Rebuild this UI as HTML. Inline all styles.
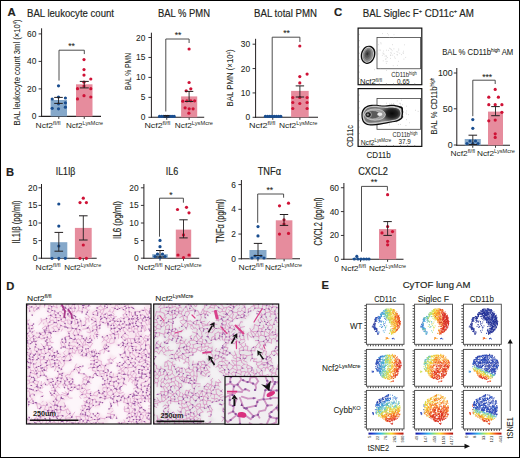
<!DOCTYPE html><html><head><meta charset="utf-8"><style>html,body{margin:0;padding:0;background:#fff;overflow:hidden}svg{display:block}text{font-family:"Liberation Sans",sans-serif;fill:#231f20}.b{stroke:#231f20;stroke-width:0.16px}.m{stroke:#231f20;stroke-width:0.07px}</style></head><body>
<svg width="520" height="458" viewBox="0 0 520 458">
<rect width="520" height="458" fill="#fff"/>
<text x="7.6" y="15.7" font-size="11.4" class="b" font-weight="bold">A</text>
<text x="27" y="16.5" font-size="10.2" class="b" textLength="87" lengthAdjust="spacingAndGlyphs">BAL leukocyte count</text>
<text x="158" y="16.5" font-size="10.2" class="b" textLength="52" lengthAdjust="spacingAndGlyphs">BAL % PMN</text>
<text x="254" y="16.5" font-size="10.2" class="b" textLength="63" lengthAdjust="spacingAndGlyphs">BAL total PMN</text>
<text x="333.9" y="15.7" font-size="11.4" class="b" font-weight="bold">C</text>
<text x="362.7" y="16.5" font-size="10.2" class="b" textLength="111.3" lengthAdjust="spacingAndGlyphs">BAL Siglec F<tspan dy="-3.3" font-size="6">+</tspan><tspan dy="3.3"> CD11c</tspan><tspan dy="-3.3" font-size="6">+</tspan><tspan dy="3.3"> AM</tspan></text>
<path d="M41.6 28.3L41.6 116.9" stroke="#231f20" stroke-width="1" fill="none"/>
<path d="M41.1 116.4L101 116.4" stroke="#231f20" stroke-width="1.1" fill="none"/>
<path d="M38.6 116.4L41.6 116.4" stroke="#231f20" stroke-width="0.9" fill="none"/>
<text x="36.4" y="119.4" font-size="8.4" class="m" text-anchor="end">0</text>
<path d="M38.6 88.9L41.6 88.9" stroke="#231f20" stroke-width="0.9" fill="none"/>
<text x="36.4" y="91.9" font-size="8.4" class="m" text-anchor="end">20</text>
<path d="M38.6 61.4L41.6 61.4" stroke="#231f20" stroke-width="0.9" fill="none"/>
<text x="36.4" y="64.4" font-size="8.4" class="m" text-anchor="end">40</text>
<path d="M38.6 33.9L41.6 33.9" stroke="#231f20" stroke-width="0.9" fill="none"/>
<text x="36.4" y="36.9" font-size="8.4" class="m" text-anchor="end">60</text>
<path d="M58.8 116.4L58.8 118.9" stroke="#231f20" stroke-width="0.9" fill="none"/>
<path d="M84.25 116.4L84.25 118.9" stroke="#231f20" stroke-width="0.9" fill="none"/>
<rect x="50.6" y="100" width="16.4" height="16.4" fill="#85a8ca"/>
<rect x="76" y="84.3" width="16.5" height="32.1" fill="#e68c9d"/>
<circle cx="58.5" cy="85.8" r="1.6" fill="#194d8f"/>
<circle cx="58.5" cy="97" r="1.6" fill="#194d8f"/>
<circle cx="52.2" cy="99" r="1.6" fill="#194d8f"/>
<circle cx="65.4" cy="98" r="1.6" fill="#194d8f"/>
<circle cx="58.5" cy="103.8" r="1.6" fill="#194d8f"/>
<circle cx="65.4" cy="102.8" r="1.6" fill="#194d8f"/>
<circle cx="65.4" cy="107.2" r="1.6" fill="#194d8f"/>
<circle cx="52.2" cy="108.3" r="1.6" fill="#194d8f"/>
<circle cx="58.5" cy="108.8" r="1.6" fill="#194d8f"/>
<circle cx="84" cy="59.6" r="1.6" fill="#cf1236"/>
<circle cx="84" cy="69.6" r="1.6" fill="#cf1236"/>
<circle cx="84" cy="75.1" r="1.6" fill="#cf1236"/>
<circle cx="90.8" cy="79" r="1.6" fill="#cf1236"/>
<circle cx="84" cy="82.2" r="1.6" fill="#cf1236"/>
<circle cx="77.5" cy="88.7" r="1.6" fill="#cf1236"/>
<circle cx="84" cy="86.1" r="1.6" fill="#cf1236"/>
<circle cx="90.8" cy="88.7" r="1.6" fill="#cf1236"/>
<circle cx="84" cy="95.7" r="1.6" fill="#cf1236"/>
<circle cx="90.8" cy="97" r="1.6" fill="#cf1236"/>
<circle cx="77.5" cy="98.9" r="1.6" fill="#cf1236"/>
<path d="M58.5 97.4L58.5 103.4" stroke="#231f20" stroke-width="0.9" fill="none"/>
<path d="M54.2 97.4L62.8 97.4" stroke="#231f20" stroke-width="1" fill="none"/>
<path d="M54.2 103.4L62.8 103.4" stroke="#231f20" stroke-width="1" fill="none"/>
<path d="M84.3 81.4L84.3 87.9" stroke="#231f20" stroke-width="0.9" fill="none"/>
<path d="M79.8 81.4L88.8 81.4" stroke="#231f20" stroke-width="1" fill="none"/>
<path d="M79.8 87.9L88.8 87.9" stroke="#231f20" stroke-width="1" fill="none"/>
<path d="M59 80.6V50.2H84.3V54.1" stroke="#3a3a3a" stroke-width="0.9" fill="none"/>
<text x="71.6" y="49.2" font-size="8.6" class="m" text-anchor="middle">**</text>
<text x="35.5" y="128" font-size="7.8" textLength="25" lengthAdjust="spacingAndGlyphs">Ncf2<tspan dy="-2.6" font-size="5.3">fl/fl</tspan></text>
<text x="66" y="128" font-size="7.8" textLength="37" lengthAdjust="spacingAndGlyphs">Ncf2<tspan dy="-2.6" font-size="5.3">LysMcre</tspan></text>
<text x="19.6" y="72.5" font-size="9.6" class="m" text-anchor="middle" textLength="106" lengthAdjust="spacingAndGlyphs" transform="rotate(-90 19.6 72.5)">BAL leukocyte count 3ml (×10<tspan dy="-2.5" font-size="5">4</tspan><tspan dy="2.5">)</tspan></text>
<path d="M151.4 32.7L151.4 117.8" stroke="#231f20" stroke-width="1" fill="none"/>
<path d="M150.9 117.3L204.2 117.3" stroke="#231f20" stroke-width="1.1" fill="none"/>
<path d="M148.4 117.3L151.4 117.3" stroke="#231f20" stroke-width="0.9" fill="none"/>
<text x="145.3" y="120.3" font-size="8.4" class="m" text-anchor="end">0</text>
<path d="M148.4 97.35L151.4 97.35" stroke="#231f20" stroke-width="0.9" fill="none"/>
<text x="145.3" y="100.35" font-size="8.4" class="m" text-anchor="end">5</text>
<path d="M148.4 77.4L151.4 77.4" stroke="#231f20" stroke-width="0.9" fill="none"/>
<text x="145.3" y="80.4" font-size="8.4" class="m" text-anchor="end">10</text>
<path d="M148.4 57.45L151.4 57.45" stroke="#231f20" stroke-width="0.9" fill="none"/>
<text x="145.3" y="60.45" font-size="8.4" class="m" text-anchor="end">15</text>
<path d="M148.4 37.5L151.4 37.5" stroke="#231f20" stroke-width="0.9" fill="none"/>
<text x="145.3" y="40.5" font-size="8.4" class="m" text-anchor="end">20</text>
<path d="M166.75 117.3L166.75 119.8" stroke="#231f20" stroke-width="0.9" fill="none"/>
<path d="M189.15 117.3L189.15 119.8" stroke="#231f20" stroke-width="0.9" fill="none"/>
<rect x="159" y="116.5" width="15.5" height="0.8" fill="#85a8ca"/>
<rect x="181.1" y="96.4" width="16.1" height="20.9" fill="#e68c9d"/>
<circle cx="159.5" cy="116.4" r="1.6" fill="#194d8f"/>
<circle cx="161.6" cy="116.4" r="1.6" fill="#194d8f"/>
<circle cx="163.7" cy="116.4" r="1.6" fill="#194d8f"/>
<circle cx="165.8" cy="116.4" r="1.6" fill="#194d8f"/>
<circle cx="167.9" cy="116.4" r="1.6" fill="#194d8f"/>
<circle cx="170" cy="116.4" r="1.6" fill="#194d8f"/>
<circle cx="172.1" cy="116.4" r="1.6" fill="#194d8f"/>
<circle cx="174.2" cy="116.4" r="1.6" fill="#194d8f"/>
<circle cx="189.1" cy="49" r="1.6" fill="#cf1236"/>
<circle cx="189.1" cy="82.5" r="1.6" fill="#cf1236"/>
<circle cx="186.2" cy="90.8" r="1.6" fill="#cf1236"/>
<circle cx="190.8" cy="88.8" r="1.6" fill="#cf1236"/>
<circle cx="182.8" cy="101.2" r="1.6" fill="#cf1236"/>
<circle cx="186.9" cy="100.8" r="1.6" fill="#cf1236"/>
<circle cx="190.8" cy="100.8" r="1.6" fill="#cf1236"/>
<circle cx="194.6" cy="100.8" r="1.6" fill="#cf1236"/>
<circle cx="185.1" cy="107.8" r="1.6" fill="#cf1236"/>
<circle cx="189.2" cy="108.8" r="1.6" fill="#cf1236"/>
<circle cx="193.1" cy="108.8" r="1.6" fill="#cf1236"/>
<circle cx="188.9" cy="113.2" r="1.6" fill="#cf1236"/>
<path d="M189.1 91.4L189.1 101.5" stroke="#231f20" stroke-width="0.9" fill="none"/>
<path d="M184.9 91.4L193.3 91.4" stroke="#231f20" stroke-width="1" fill="none"/>
<path d="M184.9 101.5L193.3 101.5" stroke="#231f20" stroke-width="1" fill="none"/>
<path d="M166.5 115.5L166.5 117" stroke="#231f20" stroke-width="0.9" fill="none"/>
<path d="M163.5 115.5L169.5 115.5" stroke="#231f20" stroke-width="1" fill="none"/>
<path d="M163.5 117L169.5 117" stroke="#231f20" stroke-width="1" fill="none"/>
<path d="M165.8 111.5V39H189.1V43" stroke="#3a3a3a" stroke-width="0.9" fill="none"/>
<text x="178" y="38.2" font-size="8.6" class="m" text-anchor="middle">**</text>
<text x="144.4" y="128" font-size="7.8" textLength="25.9" lengthAdjust="spacingAndGlyphs">Ncf2<tspan dy="-2.6" font-size="5.3">fl/fl</tspan></text>
<text x="174.8" y="128" font-size="7.8" textLength="38.2" lengthAdjust="spacingAndGlyphs">Ncf2<tspan dy="-2.6" font-size="5.3">LysMcre</tspan></text>
<text x="130.5" y="71.5" font-size="9.6" class="m" text-anchor="middle" textLength="37" lengthAdjust="spacingAndGlyphs" transform="rotate(-90 130.5 71.5)">BAL % PMN</text>
<path d="M255.6 38.8L255.6 117.8" stroke="#231f20" stroke-width="1" fill="none"/>
<path d="M255.1 117.3L318 117.3" stroke="#231f20" stroke-width="1.1" fill="none"/>
<path d="M252.6 117.3L255.6 117.3" stroke="#231f20" stroke-width="0.9" fill="none"/>
<text x="250.2" y="120.3" font-size="8.4" class="m" text-anchor="end">0</text>
<path d="M252.6 92.93L255.6 92.93" stroke="#231f20" stroke-width="0.9" fill="none"/>
<text x="250.2" y="95.93" font-size="8.4" class="m" text-anchor="end">10</text>
<path d="M252.6 68.56L255.6 68.56" stroke="#231f20" stroke-width="0.9" fill="none"/>
<text x="250.2" y="71.56" font-size="8.4" class="m" text-anchor="end">20</text>
<path d="M252.6 44.19L255.6 44.19" stroke="#231f20" stroke-width="0.9" fill="none"/>
<text x="250.2" y="47.19" font-size="8.4" class="m" text-anchor="end">30</text>
<path d="M272.75 117.3L272.75 119.8" stroke="#231f20" stroke-width="0.9" fill="none"/>
<path d="M299.9 117.3L299.9 119.8" stroke="#231f20" stroke-width="0.9" fill="none"/>
<rect x="264.5" y="116.6" width="16.5" height="0.7" fill="#85a8ca"/>
<rect x="291.1" y="90.9" width="17.6" height="26.4" fill="#e68c9d"/>
<circle cx="265.4" cy="116.4" r="1.6" fill="#194d8f"/>
<circle cx="267.6" cy="116.4" r="1.6" fill="#194d8f"/>
<circle cx="269.8" cy="116.4" r="1.6" fill="#194d8f"/>
<circle cx="272" cy="116.4" r="1.6" fill="#194d8f"/>
<circle cx="274.2" cy="116.4" r="1.6" fill="#194d8f"/>
<circle cx="276.4" cy="116.4" r="1.6" fill="#194d8f"/>
<circle cx="278.6" cy="116.4" r="1.6" fill="#194d8f"/>
<circle cx="280.8" cy="116.4" r="1.6" fill="#194d8f"/>
<circle cx="299.8" cy="46" r="1.6" fill="#cf1236"/>
<circle cx="299.8" cy="76.6" r="1.6" fill="#cf1236"/>
<circle cx="307.1" cy="74.1" r="1.6" fill="#cf1236"/>
<circle cx="299.8" cy="82.9" r="1.6" fill="#cf1236"/>
<circle cx="292.8" cy="97.5" r="1.6" fill="#cf1236"/>
<circle cx="299.8" cy="97.5" r="1.6" fill="#cf1236"/>
<circle cx="307.1" cy="97.5" r="1.6" fill="#cf1236"/>
<circle cx="292.8" cy="102.5" r="1.6" fill="#cf1236"/>
<circle cx="299.8" cy="103.5" r="1.6" fill="#cf1236"/>
<circle cx="307.1" cy="102.5" r="1.6" fill="#cf1236"/>
<circle cx="292.8" cy="108.5" r="1.6" fill="#cf1236"/>
<circle cx="307.1" cy="108.5" r="1.6" fill="#cf1236"/>
<path d="M299.9 85.9L299.9 97" stroke="#231f20" stroke-width="0.9" fill="none"/>
<path d="M295.7 85.9L304.1 85.9" stroke="#231f20" stroke-width="1" fill="none"/>
<path d="M295.7 97L304.1 97" stroke="#231f20" stroke-width="1" fill="none"/>
<path d="M272.2 115V37.2H299.9V42" stroke="#3a3a3a" stroke-width="0.9" fill="none"/>
<text x="286.5" y="36.4" font-size="8.6" class="m" text-anchor="middle">**</text>
<text x="248.9" y="128" font-size="7.8" textLength="26.4" lengthAdjust="spacingAndGlyphs">Ncf2<tspan dy="-2.6" font-size="5.3">fl/fl</tspan></text>
<text x="279" y="128" font-size="7.8" textLength="38.5" lengthAdjust="spacingAndGlyphs">Ncf2<tspan dy="-2.6" font-size="5.3">LysMcre</tspan></text>
<text x="233" y="78" font-size="9.6" class="m" text-anchor="middle" textLength="57" lengthAdjust="spacingAndGlyphs" transform="rotate(-90 233 78)">BAL  PMN (×10<tspan dy="-2.5" font-size="5">4</tspan><tspan dy="2.5">)</tspan></text>
<path d="M456.8 68L456.8 145.8" stroke="#231f20" stroke-width="1" fill="none"/>
<path d="M456.3 145.3L510 145.3" stroke="#231f20" stroke-width="1.1" fill="none"/>
<path d="M453.8 145L456.8 145" stroke="#231f20" stroke-width="0.9" fill="none"/>
<text x="452.6" y="148" font-size="8.8" class="m" text-anchor="end">0</text>
<path d="M453.8 108.8L456.8 108.8" stroke="#231f20" stroke-width="0.9" fill="none"/>
<text x="452.6" y="111.8" font-size="8.8" class="m" text-anchor="end">50</text>
<path d="M453.8 73L456.8 73" stroke="#231f20" stroke-width="0.9" fill="none"/>
<text x="452.6" y="76" font-size="8.8" class="m" text-anchor="end">100</text>
<path d="M472.75 145.3L472.75 147.8" stroke="#231f20" stroke-width="0.9" fill="none"/>
<path d="M495.5 145.3L495.5 147.8" stroke="#231f20" stroke-width="0.9" fill="none"/>
<rect x="464.7" y="139" width="16.1" height="6.3" fill="#85a8ca"/>
<rect x="488" y="111.6" width="15" height="33.7" fill="#e68c9d"/>
<circle cx="472.8" cy="119.6" r="1.6" fill="#194d8f"/>
<circle cx="472.8" cy="128.3" r="1.6" fill="#194d8f"/>
<circle cx="467" cy="143.5" r="1.6" fill="#194d8f"/>
<circle cx="472.8" cy="143.5" r="1.6" fill="#194d8f"/>
<circle cx="478" cy="143.5" r="1.6" fill="#194d8f"/>
<circle cx="470" cy="141" r="1.6" fill="#194d8f"/>
<circle cx="475.5" cy="141" r="1.6" fill="#194d8f"/>
<circle cx="495.2" cy="89.4" r="1.6" fill="#cf1236"/>
<circle cx="488.8" cy="97.2" r="1.6" fill="#cf1236"/>
<circle cx="498.4" cy="97.2" r="1.6" fill="#cf1236"/>
<circle cx="488.8" cy="104.7" r="1.6" fill="#cf1236"/>
<circle cx="495.2" cy="104.7" r="1.6" fill="#cf1236"/>
<circle cx="501.9" cy="104.7" r="1.6" fill="#cf1236"/>
<circle cx="501.9" cy="112.3" r="1.6" fill="#cf1236"/>
<circle cx="488.8" cy="120.8" r="1.6" fill="#cf1236"/>
<circle cx="495.2" cy="120.1" r="1.6" fill="#cf1236"/>
<circle cx="495.2" cy="133.8" r="1.6" fill="#cf1236"/>
<circle cx="495.2" cy="137.4" r="1.6" fill="#cf1236"/>
<path d="M472.8 135.2L472.8 144.5" stroke="#231f20" stroke-width="0.9" fill="none"/>
<path d="M468.5 135.2L477.1 135.2" stroke="#231f20" stroke-width="1" fill="none"/>
<path d="M468.5 144.5L477.1 144.5" stroke="#231f20" stroke-width="1" fill="none"/>
<path d="M495.5 106.6L495.5 115.7" stroke="#231f20" stroke-width="0.9" fill="none"/>
<path d="M491.2 106.6L499.8 106.6" stroke="#231f20" stroke-width="1" fill="none"/>
<path d="M491.2 115.7L499.8 115.7" stroke="#231f20" stroke-width="1" fill="none"/>
<path d="M472.8 116.2V80.2H495.2V84" stroke="#3a3a3a" stroke-width="0.9" fill="none"/>
<text x="487.2" y="79.9" font-size="8.6" class="m" text-anchor="middle">***</text>
<text x="450.5" y="155.6" font-size="7.8" textLength="24.5" lengthAdjust="spacingAndGlyphs">Ncf2<tspan dy="-2.6" font-size="5.3">fl/fl</tspan></text>
<text x="477" y="155.6" font-size="7.8" textLength="38" lengthAdjust="spacingAndGlyphs">Ncf2<tspan dy="-2.6" font-size="5.3">LysMcre</tspan></text>
<text x="436.5" y="106" font-size="9.6" class="m" text-anchor="middle" textLength="57" lengthAdjust="spacingAndGlyphs" transform="rotate(-90 436.5 106)">BAL % CD11b<tspan dy="-2.8" font-size="6">high</tspan></text>
<text x="442.2" y="54.5" font-size="8.2" class="m" textLength="71" lengthAdjust="spacingAndGlyphs">BAL % CD11b<tspan dy="-2.8" font-size="5">high</tspan><tspan dy="2.8"> AM</tspan></text>
<text x="6" y="175.8" font-size="11.2" class="b" font-weight="bold">B</text>
<text x="55.8" y="174.5" font-size="10.2" class="b" textLength="19.6" lengthAdjust="spacingAndGlyphs">IL1Iβ</text>
<text x="165.8" y="174.5" font-size="10.2" class="b" textLength="12.5" lengthAdjust="spacingAndGlyphs">IL6</text>
<text x="257.7" y="174.5" font-size="10.2" class="b" textLength="23.3" lengthAdjust="spacingAndGlyphs">TNFα</text>
<text x="358.2" y="174.5" font-size="10.2" class="b" textLength="29.7" lengthAdjust="spacingAndGlyphs">CXCL2</text>
<path d="M41.5 184L41.5 258.7" stroke="#231f20" stroke-width="1" fill="none"/>
<path d="M41 258.2L96.7 258.2" stroke="#231f20" stroke-width="1.1" fill="none"/>
<path d="M38.5 258.2L41.5 258.2" stroke="#231f20" stroke-width="0.9" fill="none"/>
<text x="37.3" y="261.2" font-size="8.4" class="m" text-anchor="end">0</text>
<path d="M38.5 240.6L41.5 240.6" stroke="#231f20" stroke-width="0.9" fill="none"/>
<text x="37.3" y="243.6" font-size="8.4" class="m" text-anchor="end">5</text>
<path d="M38.5 223L41.5 223" stroke="#231f20" stroke-width="0.9" fill="none"/>
<text x="37.3" y="226" font-size="8.4" class="m" text-anchor="end">10</text>
<path d="M38.5 205.4L41.5 205.4" stroke="#231f20" stroke-width="0.9" fill="none"/>
<text x="37.3" y="208.4" font-size="8.4" class="m" text-anchor="end">15</text>
<path d="M38.5 187.8L41.5 187.8" stroke="#231f20" stroke-width="0.9" fill="none"/>
<text x="37.3" y="190.8" font-size="8.4" class="m" text-anchor="end">20</text>
<path d="M58.8 258.2L58.8 260.7" stroke="#231f20" stroke-width="0.9" fill="none"/>
<path d="M83.3 258.2L83.3 260.7" stroke="#231f20" stroke-width="0.9" fill="none"/>
<rect x="50.3" y="242.2" width="17" height="16" fill="#85a8ca"/>
<rect x="74.9" y="227.9" width="16.8" height="30.3" fill="#e68c9d"/>
<circle cx="58.8" cy="204" r="1.6" fill="#194d8f"/>
<circle cx="58.8" cy="226.1" r="1.6" fill="#194d8f"/>
<circle cx="58.8" cy="246" r="1.6" fill="#194d8f"/>
<circle cx="52" cy="258.3" r="1.6" fill="#194d8f"/>
<circle cx="58.8" cy="258.3" r="1.6" fill="#194d8f"/>
<circle cx="65.3" cy="258.3" r="1.6" fill="#194d8f"/>
<circle cx="83.3" cy="198.2" r="1.6" fill="#cf1236"/>
<circle cx="80" cy="202.6" r="1.6" fill="#cf1236"/>
<circle cx="86.4" cy="202.6" r="1.6" fill="#cf1236"/>
<circle cx="83.3" cy="245" r="1.6" fill="#cf1236"/>
<circle cx="80" cy="258.3" r="1.6" fill="#cf1236"/>
<circle cx="86.4" cy="258.3" r="1.6" fill="#cf1236"/>
<path d="M58.8 232.4L58.8 251.2" stroke="#231f20" stroke-width="0.9" fill="none"/>
<path d="M54.5 232.4L63.1 232.4" stroke="#231f20" stroke-width="1" fill="none"/>
<path d="M54.5 251.2L63.1 251.2" stroke="#231f20" stroke-width="1" fill="none"/>
<path d="M83.3 215.8L83.3 240" stroke="#231f20" stroke-width="0.9" fill="none"/>
<path d="M79 215.8L87.6 215.8" stroke="#231f20" stroke-width="1" fill="none"/>
<path d="M79 240L87.6 240" stroke="#231f20" stroke-width="1" fill="none"/>
<text x="35.5" y="269.5" font-size="7.8" textLength="25" lengthAdjust="spacingAndGlyphs">Ncf2<tspan dy="-2.6" font-size="5.3">fl/fl</tspan></text>
<text x="64.2" y="269.5" font-size="7.8" textLength="37" lengthAdjust="spacingAndGlyphs">Ncf2<tspan dy="-2.6" font-size="5.3">LysMcre</tspan></text>
<text x="20" y="222" font-size="10.4" class="b" text-anchor="middle" textLength="43" lengthAdjust="spacingAndGlyphs" transform="rotate(-90 20 222)">IL1Iβ (pg/ml)</text>
<path d="M143.9 184L143.9 258.7" stroke="#231f20" stroke-width="1" fill="none"/>
<path d="M143.4 258.2L199.2 258.2" stroke="#231f20" stroke-width="1.1" fill="none"/>
<path d="M140.9 258.2L143.9 258.2" stroke="#231f20" stroke-width="0.9" fill="none"/>
<text x="138.6" y="261.2" font-size="8.4" class="m" text-anchor="end">0</text>
<path d="M140.9 240.6L143.9 240.6" stroke="#231f20" stroke-width="0.9" fill="none"/>
<text x="138.6" y="243.6" font-size="8.4" class="m" text-anchor="end">5</text>
<path d="M140.9 223L143.9 223" stroke="#231f20" stroke-width="0.9" fill="none"/>
<text x="138.6" y="226" font-size="8.4" class="m" text-anchor="end">10</text>
<path d="M140.9 205.4L143.9 205.4" stroke="#231f20" stroke-width="0.9" fill="none"/>
<text x="138.6" y="208.4" font-size="8.4" class="m" text-anchor="end">15</text>
<path d="M140.9 187.8L143.9 187.8" stroke="#231f20" stroke-width="0.9" fill="none"/>
<text x="138.6" y="190.8" font-size="8.4" class="m" text-anchor="end">20</text>
<path d="M160 258.2L160 260.7" stroke="#231f20" stroke-width="0.9" fill="none"/>
<path d="M183.5 258.2L183.5 260.7" stroke="#231f20" stroke-width="0.9" fill="none"/>
<rect x="152.2" y="254.2" width="15.6" height="4" fill="#85a8ca"/>
<rect x="175.8" y="229.6" width="15.4" height="28.6" fill="#e68c9d"/>
<circle cx="160" cy="240.4" r="1.6" fill="#194d8f"/>
<circle cx="160" cy="246.7" r="1.6" fill="#194d8f"/>
<circle cx="155" cy="256.5" r="1.6" fill="#194d8f"/>
<circle cx="160" cy="257.6" r="1.6" fill="#194d8f"/>
<circle cx="165" cy="256.5" r="1.6" fill="#194d8f"/>
<circle cx="157.5" cy="254" r="1.6" fill="#194d8f"/>
<circle cx="162.5" cy="254" r="1.6" fill="#194d8f"/>
<circle cx="177.5" cy="209.5" r="1.6" fill="#cf1236"/>
<circle cx="186.5" cy="207.3" r="1.6" fill="#cf1236"/>
<circle cx="189" cy="212.8" r="1.6" fill="#cf1236"/>
<circle cx="183.5" cy="234.9" r="1.6" fill="#cf1236"/>
<circle cx="183.5" cy="257.5" r="1.6" fill="#cf1236"/>
<circle cx="178" cy="255" r="1.6" fill="#cf1236"/>
<circle cx="189" cy="255" r="1.6" fill="#cf1236"/>
<path d="M160 250.5L160 257" stroke="#231f20" stroke-width="0.9" fill="none"/>
<path d="M156 250.5L164 250.5" stroke="#231f20" stroke-width="1" fill="none"/>
<path d="M156 257L164 257" stroke="#231f20" stroke-width="1" fill="none"/>
<path d="M183.5 219.8L183.5 237.9" stroke="#231f20" stroke-width="0.9" fill="none"/>
<path d="M179.3 219.8L187.7 219.8" stroke="#231f20" stroke-width="1" fill="none"/>
<path d="M179.3 237.9L187.7 237.9" stroke="#231f20" stroke-width="1" fill="none"/>
<path d="M159.5 236.7V198.2H183.4V202.7" stroke="#3a3a3a" stroke-width="0.9" fill="none"/>
<text x="171" y="198.1" font-size="8.6" class="m" text-anchor="middle">*</text>
<text x="137.5" y="269.5" font-size="7.8" textLength="25" lengthAdjust="spacingAndGlyphs">Ncf2<tspan dy="-2.6" font-size="5.3">fl/fl</tspan></text>
<text x="164.5" y="269.5" font-size="7.8" textLength="37" lengthAdjust="spacingAndGlyphs">Ncf2<tspan dy="-2.6" font-size="5.3">LysMcre</tspan></text>
<text x="120.5" y="220" font-size="10.4" class="b" text-anchor="middle" textLength="38" lengthAdjust="spacingAndGlyphs" transform="rotate(-90 120.5 220)">IL6 (pg/ml)</text>
<path d="M241.4 180L241.4 259.3" stroke="#231f20" stroke-width="1" fill="none"/>
<path d="M240.9 258.8L300 258.8" stroke="#231f20" stroke-width="1.1" fill="none"/>
<path d="M238.4 258.8L241.4 258.8" stroke="#231f20" stroke-width="0.9" fill="none"/>
<text x="235.8" y="261.8" font-size="8.4" class="m" text-anchor="end">0</text>
<path d="M238.4 234.06L241.4 234.06" stroke="#231f20" stroke-width="0.9" fill="none"/>
<text x="235.8" y="237.06" font-size="8.4" class="m" text-anchor="end">2</text>
<path d="M238.4 209.32L241.4 209.32" stroke="#231f20" stroke-width="0.9" fill="none"/>
<text x="235.8" y="212.32" font-size="8.4" class="m" text-anchor="end">4</text>
<path d="M238.4 184.58L241.4 184.58" stroke="#231f20" stroke-width="0.9" fill="none"/>
<text x="235.8" y="187.58" font-size="8.4" class="m" text-anchor="end">6</text>
<path d="M257.95 258.8L257.95 261.3" stroke="#231f20" stroke-width="0.9" fill="none"/>
<path d="M284.1 258.8L284.1 261.3" stroke="#231f20" stroke-width="0.9" fill="none"/>
<rect x="249.4" y="250" width="17.1" height="8.8" fill="#85a8ca"/>
<rect x="275.8" y="220.3" width="16.6" height="38.5" fill="#e68c9d"/>
<circle cx="258" cy="226.6" r="1.6" fill="#194d8f"/>
<circle cx="258" cy="235.9" r="1.6" fill="#194d8f"/>
<circle cx="252" cy="258" r="1.6" fill="#194d8f"/>
<circle cx="258" cy="258" r="1.6" fill="#194d8f"/>
<circle cx="264" cy="258" r="1.6" fill="#194d8f"/>
<circle cx="255" cy="256" r="1.6" fill="#194d8f"/>
<circle cx="261" cy="256" r="1.6" fill="#194d8f"/>
<circle cx="279.5" cy="205.8" r="1.6" fill="#cf1236"/>
<circle cx="288.5" cy="203.2" r="1.6" fill="#cf1236"/>
<circle cx="284" cy="219.8" r="1.6" fill="#cf1236"/>
<circle cx="279.5" cy="234.1" r="1.6" fill="#cf1236"/>
<circle cx="288.5" cy="233.4" r="1.6" fill="#cf1236"/>
<circle cx="284" cy="224" r="1.6" fill="#cf1236"/>
<path d="M258 243.4L258 255.5" stroke="#231f20" stroke-width="0.9" fill="none"/>
<path d="M253.8 243.4L262.2 243.4" stroke="#231f20" stroke-width="1" fill="none"/>
<path d="M253.8 255.5L262.2 255.5" stroke="#231f20" stroke-width="1" fill="none"/>
<path d="M284 214.5L284 225.4" stroke="#231f20" stroke-width="0.9" fill="none"/>
<path d="M279.8 214.5L288.2 214.5" stroke="#231f20" stroke-width="1" fill="none"/>
<path d="M279.8 225.4L288.2 225.4" stroke="#231f20" stroke-width="1" fill="none"/>
<path d="M257.7 222.8V194H283.6V197.7" stroke="#3a3a3a" stroke-width="0.9" fill="none"/>
<text x="269.8" y="193" font-size="8.6" class="m" text-anchor="middle">**</text>
<text x="238.5" y="270" font-size="7.8" textLength="25" lengthAdjust="spacingAndGlyphs">Ncf2<tspan dy="-2.6" font-size="5.3">fl/fl</tspan></text>
<text x="265" y="270" font-size="7.8" textLength="37" lengthAdjust="spacingAndGlyphs">Ncf2<tspan dy="-2.6" font-size="5.3">LysMcre</tspan></text>
<text x="223.5" y="221" font-size="10.4" class="b" text-anchor="middle" textLength="44" lengthAdjust="spacingAndGlyphs" transform="rotate(-90 223.5 221)">TNFα (pg/ml)</text>
<path d="M343.9 183L343.9 259.8" stroke="#231f20" stroke-width="1" fill="none"/>
<path d="M343.4 259.3L403.5 259.3" stroke="#231f20" stroke-width="1.1" fill="none"/>
<path d="M340.9 259.3L343.9 259.3" stroke="#231f20" stroke-width="0.9" fill="none"/>
<text x="339" y="262.3" font-size="8.4" class="m" text-anchor="end">0</text>
<path d="M340.9 235.44L343.9 235.44" stroke="#231f20" stroke-width="0.9" fill="none"/>
<text x="339" y="238.44" font-size="8.4" class="m" text-anchor="end">20</text>
<path d="M340.9 211.58L343.9 211.58" stroke="#231f20" stroke-width="0.9" fill="none"/>
<text x="339" y="214.58" font-size="8.4" class="m" text-anchor="end">40</text>
<path d="M340.9 187.72L343.9 187.72" stroke="#231f20" stroke-width="0.9" fill="none"/>
<text x="339" y="190.72" font-size="8.4" class="m" text-anchor="end">60</text>
<path d="M360.5 259.3L360.5 261.8" stroke="#231f20" stroke-width="0.9" fill="none"/>
<path d="M387.6 259.3L387.6 261.8" stroke="#231f20" stroke-width="0.9" fill="none"/>
<rect x="352" y="258" width="17" height="1.3" fill="#85a8ca"/>
<rect x="379" y="229.1" width="17.2" height="30.2" fill="#e68c9d"/>
<circle cx="356.8" cy="256.4" r="1.6" fill="#194d8f"/>
<circle cx="354.3" cy="259" r="1.6" fill="#194d8f"/>
<circle cx="358" cy="259" r="1.6" fill="#194d8f"/>
<circle cx="361" cy="259" r="1.6" fill="#194d8f"/>
<circle cx="363.8" cy="259" r="1.6" fill="#194d8f"/>
<circle cx="366.5" cy="259" r="1.6" fill="#194d8f"/>
<circle cx="369" cy="259" r="1.6" fill="#194d8f"/>
<circle cx="387.6" cy="194.7" r="1.6" fill="#cf1236"/>
<circle cx="387.6" cy="226.6" r="1.6" fill="#cf1236"/>
<circle cx="382" cy="232.9" r="1.6" fill="#cf1236"/>
<circle cx="392.5" cy="231.6" r="1.6" fill="#cf1236"/>
<circle cx="387.6" cy="241.3" r="1.6" fill="#cf1236"/>
<circle cx="387.6" cy="244.8" r="1.6" fill="#cf1236"/>
<path d="M387.6 221.6L387.6 235.4" stroke="#231f20" stroke-width="0.9" fill="none"/>
<path d="M383.4 221.6L391.8 221.6" stroke="#231f20" stroke-width="1" fill="none"/>
<path d="M383.4 235.4L391.8 235.4" stroke="#231f20" stroke-width="1" fill="none"/>
<path d="M361.5 251.7V186.4H387.4V190.7" stroke="#3a3a3a" stroke-width="0.9" fill="none"/>
<text x="374" y="185.2" font-size="8.6" class="m" text-anchor="middle">**</text>
<text x="341" y="270.5" font-size="7.8" textLength="25" lengthAdjust="spacingAndGlyphs">Ncf2<tspan dy="-2.6" font-size="5.3">fl/fl</tspan></text>
<text x="369" y="270.5" font-size="7.8" textLength="37" lengthAdjust="spacingAndGlyphs">Ncf2<tspan dy="-2.6" font-size="5.3">LysMcre</tspan></text>
<text x="322" y="221.5" font-size="10.4" class="b" text-anchor="middle" textLength="48" lengthAdjust="spacingAndGlyphs" transform="rotate(-90 322 221.5)">CXCL2 (pg/ml)</text>
<rect x="358.1" y="28.1" width="63.7" height="56.6" fill="#fff" stroke="#111" stroke-width="1.2"/>
<path d="M358.1 78.41h1.3M358.1 72.12h1.3M358.1 65.83h1.3M358.1 59.54h1.3M358.1 53.26h1.3M358.1 46.97h1.3M358.1 40.68h1.3M358.1 34.39h1.3M365.18 84.7v-1.3M372.26 84.7v-1.3M379.33 84.7v-1.3M386.41 84.7v-1.3M393.49 84.7v-1.3M400.57 84.7v-1.3M407.64 84.7v-1.3M414.72 84.7v-1.3" stroke="#555" stroke-width="0.6"/>
<rect x="377" y="37.5" width="43.6" height="31.25" fill="none" stroke="#444" stroke-width="0.8"/>
<path d="M380.75 43.81h0.6M393.69 34.65h0.6M388 34.95h0.6M396.71 54.62h0.6M398.49 48.97h0.6M391.79 50.71h0.6M383.83 54.16h0.6M380.2 50.16h0.6M393.88 53.46h0.6M386.13 70.52h0.6M389.41 48.31h0.6M390.12 48.82h0.6M386.3 50.2h0.6M403.18 53.18h0.6M390.23 58.39h0.6M403.12 51.21h0.6M378.78 50.06h0.6M393.67 71.27h0.6M382.35 33.58h0.6M393.63 48.83h0.6M386.29 56.69h0.6M390.57 55.33h0.6M385.98 63.31h0.6M399.53 53.26h0.6M385.84 58.87h0.6M392.34 44.68h0.6M385.78 61.39h0.6M388.33 50.37h0.6M390.49 52.73h0.6M388.98 37.56h0.6M401.25 54.6h0.6M382.86 60.84h0.6M391.16 53.14h0.6M396.34 71.09h0.6M392.88 65.68h0.6M404.1 44.83h0.6M385.34 59.21h0.6M377.04 50.86h0.6M398.05 61.35h0.6M393.06 37.84h0.6M405.46 57.41h0.6M394.37 56.96h0.6M376.99 41.52h0.6M380.48 68.34h0.6M383.18 51.06h0.6M387.22 57.57h0.6M392.5 55.14h0.6M390.17 55.14h0.6M397.61 52.18h0.6M384.72 56.28h0.6M378.12 44.67h0.6M381.96 55.3h0.6M403.64 59.11h0.6M396.99 54.91h0.6M390.95 49.4h0.6M387.03 33.56h0.6M380.58 42.7h0.6M394.86 58.3h0.6M396.99 65.45h0.6M386.86 61.44h0.6M402.69 52.93h0.6M396.61 51.68h0.6M377.71 53.96h0.6M383.24 53.87h0.6M385.76 55.56h0.6M374.04 69.67h0.6M398.52 50.19h0.6M382.64 53.03h0.6" stroke="#aaa" stroke-width="0.6"/>
<g transform="rotate(14 368 54.8)"><path d="M368 45.6C372.5 45.6 375.3 49.5 375.2 54.5C375.1 59.8 372.3 64 368 64C363.8 64 360.9 59.8 360.9 54.8C360.9 49.6 363.6 45.6 368 45.6Z" fill="#0d0d0d"/><ellipse cx="368" cy="54.8" rx="5.9" ry="8.1" fill="#d4d4d4"/><ellipse cx="367.9" cy="54.8" rx="5.1" ry="7.2" fill="#8a8a8a"/><ellipse cx="367.7" cy="54.6" rx="4" ry="5.9" fill="#6e6e6e" stroke="#aaa" stroke-width="0.4"/><ellipse cx="367.4" cy="54.2" rx="2.5" ry="3.8" fill="#555"/><ellipse cx="367.2" cy="54" rx="1.1" ry="1.6" fill="#333"/></g>
<text x="391.2" y="77.2" font-size="6.6" textLength="25.5" lengthAdjust="spacingAndGlyphs">CD11b<tspan dy="-2.4" font-size="4.6">high</tspan></text>
<text x="403.3" y="84.3" font-size="6.4" text-anchor="middle">0.65</text>
<text x="360" y="84.2" font-size="7" textLength="22" lengthAdjust="spacingAndGlyphs">Ncf2<tspan dy="-2.4" font-size="4.6">fl/fl</tspan></text>
<rect x="358.1" y="88.6" width="63.7" height="57.8" fill="#fff" stroke="#111" stroke-width="1.2"/>
<path d="M358.1 139.98h1.3M358.1 133.56h1.3M358.1 127.13h1.3M358.1 120.71h1.3M358.1 114.29h1.3M358.1 107.87h1.3M358.1 101.44h1.3M358.1 95.02h1.3M365.18 146.4v-1.3M372.26 146.4v-1.3M379.33 146.4v-1.3M386.41 146.4v-1.3M393.49 146.4v-1.3M400.57 146.4v-1.3M407.64 146.4v-1.3M414.72 146.4v-1.3" stroke="#555" stroke-width="0.6"/>
<rect x="377" y="98.5" width="43.6" height="30.8" fill="none" stroke="#444" stroke-width="0.8"/>
<path d="M403.4 116.97h0.6M401.21 100.21h0.6M388.96 123.41h0.6M399.92 103.35h0.6M391.05 103.86h0.6M389.83 122.27h0.6M396.22 121.92h0.6M399.52 103.36h0.6M391.78 106.54h0.6M408.04 114.64h0.6M397.95 124.45h0.6M383.66 116.98h0.6M389.41 104h0.6M391.37 122.22h0.6M396.85 100.9h0.6M388.95 124.89h0.6M406.36 106.2h0.6M417.81 111.38h0.6M388.24 113.02h0.6M405.65 125.52h0.6M406.42 110.94h0.6M393.41 103.58h0.6M397.4 109.73h0.6M400 104.94h0.6M393.77 107.69h0.6M388.16 105.52h0.6M389.67 105.53h0.6M402.65 114.71h0.6M387.19 117.67h0.6M400.35 124.45h0.6M396.41 112.5h0.6M392.36 114.89h0.6M402.04 115.25h0.6M395.92 118.04h0.6M398.75 115.77h0.6M390.36 115.48h0.6M389.84 107.96h0.6M406.16 114.03h0.6M396.53 121.08h0.6M409.32 122.74h0.6M396.48 115.35h0.6M395.3 111.95h0.6M391.01 112.21h0.6M380.38 105.41h0.6M401.48 107.37h0.6M402.42 104.74h0.6M394.98 116.83h0.6M389.51 108.89h0.6M392.23 109.89h0.6M398.27 113.81h0.6M406.05 119.67h0.6M394.7 111.45h0.6M386.42 103.28h0.6M391.95 119.23h0.6M398.98 119.75h0.6M405.7 112.82h0.6M415.19 110.25h0.6" stroke="#999" stroke-width="0.6"/>
<defs><radialGradient id="fg2" cx="392" cy="113.5" r="16" gradientUnits="userSpaceOnUse" gradientTransform="translate(392 113.5) scale(1 0.7) translate(-392 -113.5)"><stop offset="0" stop-color="#0a0a0a"/><stop offset="0.35" stop-color="#222"/><stop offset="0.7" stop-color="#777"/><stop offset="1" stop-color="#999" stop-opacity="0"/></radialGradient></defs>
<path d="M361.4 115C361.3 108.5 366 105 372 104.7C377 104.4 381 105.5 385 105.4C389 105.3 392 104.2 396 105.2C398.5 105.3 400 106.5 401.5 106.5C403.8 107.5 402.6 109.5 403.2 111C403.5 113 402.4 115 403 117C402.5 119 400.5 119.8 399.5 120.5C397.5 121.8 395 122 392.5 122.3C389 123 385 123.8 380 124.8C375 125.8 369 126 366 124.5C362.6 123 361.5 119.5 361.4 115Z" fill="#0a0a0a"/>
<path d="M362.6 115C362.6 109.5 366.5 106.2 372 105.9C377 105.6 381 106.6 385 106.6C389 106.6 392 105.5 395.5 106.4C398 106.6 399.8 107.8 401 108.2C401.8 109.5 401.3 111 401.7 112.5C401.9 114.3 401 116 401.3 117.3C400.3 118.6 398.7 119.4 397.3 120C395.5 120.9 393 121.1 390.5 121.4C387 122 383.5 122.7 379 123.6C374.5 124.5 369.5 124.7 366.8 123.4C363.6 122 362.6 119 362.6 115Z" fill="#c9c9c9"/>
<path d="M363.8 115C363.8 110.3 367.2 107.3 372 107.1C377 106.9 381 107.8 386 107.9C390 108 394 107.5 397 108.6C399.5 109.5 400.3 111.5 400.3 113.5C400.3 116 399 118 396 119.2C393 120.2 389 120.4 385 121C380 121.8 374.5 123 369.5 122.7C365.5 122.3 363.8 119 363.8 115Z" fill="#7a7a7a"/>
<path d="M363.8 115C363.8 110.3 367.2 107.3 372 107.1C377 106.9 381 107.8 386 107.9C390 108 394 107.5 397 108.6C399.5 109.5 400.3 111.5 400.3 113.5C400.3 116 399 118 396 119.2C393 120.2 389 120.4 385 121C380 121.8 374.5 123 369.5 122.7C365.5 122.3 363.8 119 363.8 115Z" fill="url(#fg2)"/>
<ellipse cx="375" cy="114.6" rx="10.5" ry="5.6" fill="#9c9c9c" stroke="#eee" stroke-width="0.55"/>
<ellipse cx="372.6" cy="114.7" rx="7.6" ry="4.2" fill="#5a5a5a" stroke="#ddd" stroke-width="0.5"/>
<ellipse cx="368.2" cy="114.7" rx="3.2" ry="3" fill="#1e1e1e" stroke="#e6e6e6" stroke-width="0.6"/>
<ellipse cx="367.8" cy="114.7" rx="1.2" ry="1.1" fill="#8a8a8a"/>
<ellipse cx="379.8" cy="114.2" rx="2.6" ry="1.8" fill="#ececec"/>
<text x="392.6" y="137.3" font-size="6.6" textLength="25" lengthAdjust="spacingAndGlyphs">CD11b<tspan dy="-2.4" font-size="4.6">high</tspan></text>
<text x="404.7" y="144" font-size="6.4" text-anchor="middle">37.9</text>
<text x="360.7" y="144.7" font-size="7" textLength="30.5" lengthAdjust="spacingAndGlyphs">Ncf2<tspan dy="-2.4" font-size="4.6">LysMcre</tspan></text>
<text x="353" y="136" font-size="8.6" class="m" text-anchor="middle" textLength="21.8" lengthAdjust="spacingAndGlyphs" transform="rotate(-90 353 136)">CD11c</text>
<text x="366.4" y="158" font-size="8.6" class="m" textLength="24.4" lengthAdjust="spacingAndGlyphs">CD11b</text>
<defs><filter id="blr" x="-5%" y="-5%" width="110%" height="110%"><feGaussianBlur stdDeviation="0.35"/></filter><filter id="blr2" x="-10%" y="-10%" width="120%" height="120%"><feGaussianBlur stdDeviation="0.8"/></filter></defs>
<text x="6.2" y="289.5" font-size="11.2" class="b" font-weight="bold">D</text>
<text x="27" y="300.8" font-size="8" class="m" textLength="24.5" lengthAdjust="spacingAndGlyphs">Ncf2<tspan dy="-2.8" font-size="5.2">fl/fl</tspan></text>
<text x="155.3" y="300.8" font-size="8" class="m" textLength="38" lengthAdjust="spacingAndGlyphs">Ncf2<tspan dy="-2.8" font-size="5.2">LysMcre</tspan></text>
<defs><clipPath id="h1"><rect x="26.5" y="304" width="124.5" height="120"/></clipPath></defs>
<rect x="26.5" y="304" width="124.5" height="120" fill="#f8e6ef"/>
<g clip-path="url(#h1)"><g fill="#fdf6fa" filter="url(#blr2)"><circle cx="113.1" cy="367.9" r="3.7"/><circle cx="115.4" cy="370.6" r="2.7"/><circle cx="113.9" cy="364.5" r="2.8"/><circle cx="110.2" cy="370.0" r="2.0"/><circle cx="94.9" cy="387.8" r="4.1"/><circle cx="91.3" cy="389.0" r="2.7"/><circle cx="92.6" cy="384.8" r="2.7"/><circle cx="94.2" cy="384.0" r="2.3"/><circle cx="55.7" cy="338.7" r="4.2"/><circle cx="59.6" cy="337.9" r="2.3"/><circle cx="53.5" cy="335.4" r="2.7"/><circle cx="58.6" cy="336.0" r="1.9"/><circle cx="103.9" cy="408.4" r="4.7"/><circle cx="100.1" cy="410.6" r="2.9"/><circle cx="106.3" cy="404.6" r="3.6"/><circle cx="104.3" cy="412.8" r="3.5"/><circle cx="41.4" cy="310.2" r="2.0"/><circle cx="43.1" cy="311.0" r="1.0"/><circle cx="41.6" cy="312.0" r="1.1"/><circle cx="43.3" cy="309.8" r="1.5"/><circle cx="39.4" cy="327.1" r="3.9"/><circle cx="36.4" cy="325.0" r="2.3"/><circle cx="36.1" cy="328.8" r="2.8"/><circle cx="35.7" cy="327.3" r="2.7"/><circle cx="27.9" cy="316.0" r="2.4"/><circle cx="26.0" cy="314.8" r="1.6"/><circle cx="29.5" cy="314.4" r="1.8"/><circle cx="28.7" cy="313.9" r="1.4"/><circle cx="33.8" cy="410.2" r="4.6"/><circle cx="38.1" cy="410.9" r="2.1"/><circle cx="35.7" cy="414.1" r="2.6"/><circle cx="32.7" cy="406.1" r="2.8"/><circle cx="108.8" cy="401.7" r="2.4"/><circle cx="108.0" cy="403.8" r="1.9"/><circle cx="106.6" cy="401.1" r="1.5"/><circle cx="106.6" cy="400.9" r="1.5"/><circle cx="116.7" cy="408.4" r="3.7"/><circle cx="114.4" cy="405.9" r="2.4"/><circle cx="117.0" cy="411.9" r="2.6"/><circle cx="117.8" cy="411.7" r="2.0"/><circle cx="68.8" cy="367.0" r="4.2"/><circle cx="66.3" cy="370.1" r="2.8"/><circle cx="65.1" cy="368.6" r="2.6"/><circle cx="72.7" cy="366.1" r="2.9"/><circle cx="28.7" cy="407.7" r="3.3"/><circle cx="31.8" cy="407.0" r="1.6"/><circle cx="31.8" cy="406.9" r="2.3"/><circle cx="26.4" cy="405.5" r="2.1"/><circle cx="146.9" cy="404.4" r="3.4"/><circle cx="144.6" cy="406.7" r="2.0"/><circle cx="143.7" cy="404.9" r="1.7"/><circle cx="147.2" cy="407.6" r="2.3"/><circle cx="122.5" cy="412.8" r="2.4"/><circle cx="121.7" cy="414.9" r="1.2"/><circle cx="120.9" cy="411.2" r="1.3"/><circle cx="121.6" cy="414.8" r="1.1"/><circle cx="122.8" cy="415.9" r="2.3"/><circle cx="120.6" cy="416.0" r="1.7"/><circle cx="124.2" cy="414.3" r="1.3"/><circle cx="124.8" cy="416.7" r="1.6"/><circle cx="114.8" cy="351.5" r="4.7"/><circle cx="113.9" cy="347.2" r="3.1"/><circle cx="111.1" cy="349.1" r="2.2"/><circle cx="119.2" cy="350.4" r="3.7"/><circle cx="47.0" cy="396.2" r="3.6"/><circle cx="44.4" cy="398.3" r="2.3"/><circle cx="49.4" cy="398.6" r="2.0"/><circle cx="45.3" cy="399.2" r="2.4"/><circle cx="92.2" cy="307.2" r="2.7"/><circle cx="90.3" cy="308.9" r="1.6"/><circle cx="92.8" cy="304.6" r="2.0"/><circle cx="94.7" cy="306.4" r="2.1"/><circle cx="87.3" cy="371.0" r="3.6"/><circle cx="83.9" cy="370.9" r="1.7"/><circle cx="90.0" cy="373.2" r="2.6"/><circle cx="87.4" cy="367.6" r="2.0"/><circle cx="51.1" cy="372.2" r="4.3"/><circle cx="55.0" cy="373.6" r="2.9"/><circle cx="51.7" cy="376.3" r="2.3"/><circle cx="47.3" cy="373.7" r="2.2"/><circle cx="119.2" cy="315.5" r="3.3"/><circle cx="117.7" cy="312.8" r="2.5"/><circle cx="116.3" cy="314.5" r="1.6"/><circle cx="120.4" cy="312.6" r="2.6"/><circle cx="30.3" cy="413.8" r="3.7"/><circle cx="27.4" cy="411.8" r="2.2"/><circle cx="32.1" cy="416.8" r="2.4"/><circle cx="32.9" cy="411.5" r="1.7"/><circle cx="95.6" cy="380.5" r="4.5"/><circle cx="99.9" cy="380.9" r="2.6"/><circle cx="98.6" cy="383.6" r="2.5"/><circle cx="99.2" cy="378.2" r="2.3"/><circle cx="71.2" cy="402.6" r="4.0"/><circle cx="74.5" cy="400.7" r="2.0"/><circle cx="74.7" cy="404.3" r="2.1"/><circle cx="67.4" cy="402.7" r="2.8"/><circle cx="41.1" cy="379.3" r="2.5"/><circle cx="43.5" cy="378.8" r="1.6"/><circle cx="42.7" cy="381.2" r="1.9"/><circle cx="38.7" cy="379.4" r="1.8"/><circle cx="94.0" cy="410.2" r="2.7"/><circle cx="96.5" cy="409.7" r="1.2"/><circle cx="92.2" cy="412.0" r="1.4"/><circle cx="96.6" cy="410.0" r="1.2"/><circle cx="62.4" cy="350.6" r="2.1"/><circle cx="64.1" cy="349.6" r="1.5"/><circle cx="60.5" cy="350.1" r="1.3"/><circle cx="63.1" cy="352.5" r="1.1"/><circle cx="77.1" cy="377.6" r="4.3"/><circle cx="77.3" cy="381.7" r="3.3"/><circle cx="74.9" cy="374.1" r="2.2"/><circle cx="81.1" cy="378.4" r="2.0"/><circle cx="146.5" cy="333.5" r="2.1"/><circle cx="145.5" cy="331.8" r="1.1"/><circle cx="148.4" cy="332.8" r="1.4"/><circle cx="148.0" cy="332.2" r="1.4"/><circle cx="117.7" cy="359.3" r="3.1"/><circle cx="118.3" cy="356.4" r="1.6"/><circle cx="120.4" cy="360.5" r="2.4"/><circle cx="115.5" cy="361.3" r="2.0"/><circle cx="75.7" cy="393.3" r="4.1"/><circle cx="77.2" cy="396.9" r="3.0"/><circle cx="74.0" cy="396.9" r="2.7"/><circle cx="71.8" cy="393.7" r="3.1"/><circle cx="78.5" cy="403.1" r="4.6"/><circle cx="74.6" cy="401.1" r="3.4"/><circle cx="81.8" cy="400.2" r="2.4"/><circle cx="74.4" cy="404.4" r="3.5"/><circle cx="121.2" cy="405.6" r="3.6"/><circle cx="118.7" cy="408.0" r="2.6"/><circle cx="119.3" cy="408.4" r="2.4"/><circle cx="122.1" cy="408.9" r="2.1"/><circle cx="82.4" cy="317.7" r="2.2"/><circle cx="83.9" cy="316.3" r="1.7"/><circle cx="83.5" cy="319.4" r="1.3"/><circle cx="81.4" cy="315.8" r="1.1"/><circle cx="34.8" cy="412.7" r="2.7"/><circle cx="37.3" cy="412.0" r="1.7"/><circle cx="32.6" cy="411.4" r="1.7"/><circle cx="32.2" cy="412.6" r="1.5"/><circle cx="104.5" cy="356.8" r="4.3"/><circle cx="103.5" cy="360.7" r="2.2"/><circle cx="107.1" cy="353.6" r="2.8"/><circle cx="105.0" cy="360.8" r="3.1"/><circle cx="62.2" cy="390.3" r="3.8"/><circle cx="61.3" cy="393.7" r="2.5"/><circle cx="58.6" cy="390.6" r="1.7"/><circle cx="65.7" cy="389.8" r="2.0"/><circle cx="74.3" cy="409.7" r="3.9"/><circle cx="76.1" cy="412.9" r="2.6"/><circle cx="77.9" cy="410.2" r="2.8"/><circle cx="71.4" cy="407.4" r="2.6"/><circle cx="97.2" cy="346.5" r="3.8"/><circle cx="93.7" cy="347.4" r="2.7"/><circle cx="100.7" cy="347.3" r="2.0"/><circle cx="99.2" cy="349.5" r="2.4"/><circle cx="103.8" cy="330.4" r="4.6"/><circle cx="100.8" cy="333.6" r="2.1"/><circle cx="103.2" cy="326.1" r="2.2"/><circle cx="108.2" cy="330.8" r="2.5"/><circle cx="84.9" cy="332.9" r="2.8"/><circle cx="86.7" cy="334.9" r="1.6"/><circle cx="85.7" cy="330.3" r="1.6"/><circle cx="82.6" cy="331.6" r="1.5"/><circle cx="42.0" cy="342.2" r="2.0"/><circle cx="40.2" cy="342.5" r="1.4"/><circle cx="40.4" cy="343.1" r="1.1"/><circle cx="41.2" cy="343.8" r="1.5"/><circle cx="56.5" cy="343.8" r="3.9"/><circle cx="56.5" cy="347.4" r="3.0"/><circle cx="58.2" cy="347.0" r="1.8"/><circle cx="53.3" cy="345.4" r="2.5"/><circle cx="97.4" cy="342.8" r="4.1"/><circle cx="99.6" cy="339.6" r="2.6"/><circle cx="99.1" cy="339.3" r="3.0"/><circle cx="99.1" cy="346.3" r="2.1"/><circle cx="42.9" cy="314.3" r="4.1"/><circle cx="40.1" cy="317.0" r="2.1"/><circle cx="39.2" cy="313.1" r="2.3"/><circle cx="46.7" cy="315.5" r="2.4"/><circle cx="129.4" cy="388.6" r="4.7"/><circle cx="125.0" cy="389.3" r="3.7"/><circle cx="126.1" cy="391.6" r="2.9"/><circle cx="129.2" cy="384.1" r="2.9"/><circle cx="47.3" cy="389.2" r="4.5"/><circle cx="44.7" cy="392.6" r="2.7"/><circle cx="45.8" cy="393.2" r="3.1"/><circle cx="43.0" cy="389.4" r="2.4"/><circle cx="138.4" cy="305.7" r="4.3"/><circle cx="141.0" cy="302.7" r="2.1"/><circle cx="142.4" cy="306.1" r="2.9"/><circle cx="134.8" cy="303.7" r="2.2"/><circle cx="80.4" cy="315.5" r="3.1"/><circle cx="77.5" cy="315.1" r="2.3"/><circle cx="78.3" cy="317.6" r="1.6"/><circle cx="83.2" cy="314.7" r="2.1"/><circle cx="43.3" cy="311.2" r="3.0"/><circle cx="43.4" cy="314.0" r="1.7"/><circle cx="42.9" cy="314.0" r="2.3"/><circle cx="44.4" cy="308.6" r="2.0"/><circle cx="37.7" cy="399.0" r="3.0"/><circle cx="39.6" cy="396.9" r="1.4"/><circle cx="39.4" cy="401.3" r="1.5"/><circle cx="38.9" cy="396.3" r="2.4"/><circle cx="119.4" cy="341.0" r="2.0"/><circle cx="121.3" cy="340.5" r="1.0"/><circle cx="120.1" cy="339.2" r="1.3"/><circle cx="118.4" cy="342.6" r="1.2"/><circle cx="36.1" cy="318.0" r="4.4"/><circle cx="32.2" cy="319.2" r="3.0"/><circle cx="34.1" cy="321.6" r="2.7"/><circle cx="37.3" cy="314.0" r="3.0"/><circle cx="76.1" cy="359.3" r="4.7"/><circle cx="80.5" cy="360.2" r="2.8"/><circle cx="79.2" cy="362.6" r="2.3"/><circle cx="80.3" cy="360.8" r="3.4"/><circle cx="83.4" cy="369.9" r="2.8"/><circle cx="81.3" cy="371.5" r="1.7"/><circle cx="84.7" cy="367.6" r="1.3"/><circle cx="84.5" cy="372.2" r="1.4"/><circle cx="84.5" cy="361.3" r="3.8"/><circle cx="88.1" cy="361.0" r="3.0"/><circle cx="84.7" cy="364.9" r="2.3"/><circle cx="80.9" cy="360.6" r="2.8"/><circle cx="90.2" cy="323.1" r="2.0"/><circle cx="89.2" cy="324.8" r="1.4"/><circle cx="91.0" cy="324.9" r="1.2"/><circle cx="88.8" cy="324.4" r="1.6"/><circle cx="113.6" cy="421.1" r="3.4"/><circle cx="110.4" cy="421.2" r="2.7"/><circle cx="110.9" cy="422.8" r="2.2"/><circle cx="116.8" cy="421.6" r="1.7"/><circle cx="62.2" cy="333.4" r="3.1"/><circle cx="64.5" cy="331.5" r="1.6"/><circle cx="65.0" cy="334.3" r="2.0"/><circle cx="60.3" cy="335.6" r="1.5"/><circle cx="121.1" cy="416.5" r="4.0"/><circle cx="122.3" cy="412.9" r="2.9"/><circle cx="124.9" cy="416.0" r="2.0"/><circle cx="123.9" cy="413.9" r="2.8"/></g></g>
<g clip-path="url(#h1)"><g filter="url(#blr)"><path d="M153.1 305.4L152.4 304.4M24.9 415.9L25.1 418.0M26.3 426.9L26.2 426.5M25.6 302.0L27.0 305.2M25.7 306.6L27.0 305.2M25.7 342.8L25.6 346.1M25.6 346.1L24.9 346.8M23.9 351.4L25.5 348.3M28.1 420.6L23.8 421.5M23.8 421.5L27.9 424.0M29.0 423.3L27.9 424.0M25.1 418.0L28.5 419.5M28.5 419.5L28.1 420.6M26.2 426.5L27.9 424.0M30.8 423.8L32.0 425.8M30.8 423.8L29.0 423.3M24.9 415.9L26.9 415.2M27.1 361.9L26.0 365.9M24.1 307.4L26.5 311.5M26.7 352.4L23.9 351.4M26.7 352.4L27.1 354.6M27.1 354.6L24.7 357.0M27.1 361.9L27.3 361.7M27.3 361.7L27.2 359.8M27.2 359.8L25.4 358.1M24.7 357.0L25.4 358.1M26.7 352.4L26.7 352.4M25.5 348.3L28.9 349.7M152.4 334.7L152.6 334.8M152.4 334.7L150.0 334.5M149.2 338.7L152.2 339.7M148.5 336.7L150.0 334.5M152.6 334.8L153.2 339.0M152.2 339.7L153.2 339.0M148.9 426.4L146.6 426.4M93.0 301.2L90.9 302.8M151.6 324.7L153.5 322.4M152.2 314.1L152.5 317.2M24.5 369.4L28.8 368.3M24.5 369.4L25.6 372.8M25.6 372.8L26.8 372.4M65.0 302.9L66.4 304.5M66.4 304.5L68.4 304.6M68.4 304.6L69.8 303.8M27.0 305.2L28.4 304.9M26.0 318.7L26.4 320.5M29.6 319.9L27.0 321.0M152.4 326.3L152.1 327.3M142.5 344.5L144.6 340.8M144.6 340.8L145.7 341.2M145.7 341.2L145.5 345.6M140.8 345.3L141.4 344.6M140.8 345.3L135.7 342.5M141.4 344.6L140.7 342.6M140.7 342.6L137.4 341.8M137.4 341.8L135.7 342.5M152.2 339.7L152.0 343.0M152.0 343.0L153.7 344.6M149.2 338.7L148.4 339.4M148.4 339.4L147.2 340.9M145.7 341.2L147.2 340.9M145.5 345.6L145.5 345.6M145.5 345.6L149.0 344.5M153.8 344.8L153.7 344.6M152.2 355.0L151.7 355.6M152.1 353.9L150.5 352.7M151.7 355.6L149.8 355.8M149.8 355.8L148.6 353.2M150.5 352.7L148.6 353.2M153.0 394.0L151.5 398.4M151.5 398.4L152.6 399.2M152.6 399.2L153.1 403.5M153.7 363.9L152.5 361.2M152.6 360.2L152.5 361.2M153.7 363.9L151.4 366.4M151.4 366.4L151.5 366.7M153.3 425.0L153.2 425.0M148.9 426.4L150.4 422.9M153.2 425.0L150.4 422.9M79.5 303.3L79.6 303.3M79.6 303.3L83.2 306.0M83.2 306.0L85.9 302.8M89.1 304.9L90.9 302.8M89.1 304.9L86.0 302.9M86.0 302.9L85.9 302.8M113.5 342.9L110.2 343.6M135.0 342.1L135.6 342.5M135.0 342.1L131.8 343.7M131.2 345.8L131.8 343.7M131.2 345.8L131.8 346.5M131.8 346.5L136.3 346.4M140.8 345.3L140.4 346.0M135.7 342.5L135.6 342.5M136.3 346.4L136.6 346.7M152.5 320.9L151.8 318.0M151.8 318.0L149.5 318.5M149.5 318.5L148.6 319.9M149.2 322.0L148.6 319.9M152.5 317.2L151.8 318.0M151.6 324.7L149.0 324.2M149.0 324.2L149.2 322.0M148.8 317.6L145.0 317.4M145.0 317.4L146.1 320.1M146.1 320.1L148.6 319.9M153.1 305.4L153.2 307.2M149.7 308.6L152.8 308.3M149.7 308.6L149.7 310.5M132.8 308.3L133.4 308.4M132.8 308.3L131.5 307.1M132.7 302.6L131.1 303.8M34.0 425.8L35.7 424.0M38.6 425.1L35.7 424.0M42.4 426.3L40.8 424.0M44.2 426.5L48.6 425.5M44.2 426.5L44.0 426.4M48.6 425.5L47.5 424.1M44.0 426.4L45.9 423.2M45.9 423.2L46.1 423.1M46.1 423.1L47.5 424.1M36.4 362.4L35.7 364.0M37.0 366.6L40.0 366.3M40.0 366.3L41.2 364.4M40.3 362.4L41.2 364.4M30.6 363.7L30.7 359.9M30.6 363.7L31.5 363.5M31.5 363.5L33.6 359.6M33.6 359.6L30.7 359.9M33.2 363.9L35.7 364.0M33.6 359.6L33.9 359.3M30.5 363.8L27.3 361.7M27.2 359.8L29.2 358.6M29.2 358.6L30.7 359.9M40.6 371.3L38.4 371.6M40.0 366.3L41.1 368.2M41.6 370.7L41.1 368.2M36.6 367.1L38.4 371.6M40.6 371.3L40.8 375.3M40.8 375.3L40.2 375.8M36.5 373.7L37.0 372.9M38.4 371.6L37.0 372.9M33.2 363.9L33.7 367.6M36.6 367.1L35.0 368.1M30.5 363.8L29.9 367.0M37.0 372.9L34.7 368.8M35.0 368.1L34.7 368.8M26.0 365.9L29.6 367.4M29.5 367.8L29.6 367.4M29.9 367.0L29.6 367.4M35.2 374.2L35.2 374.1M35.2 374.2L30.5 372.5M35.2 374.1L33.4 370.5M33.4 370.5L31.0 370.6M30.5 372.5L31.0 370.6M36.1 373.9L36.5 373.7M36.1 373.9L35.2 374.1M29.5 367.8L31.0 370.6M30.1 372.9L30.5 372.5M65.0 302.9L61.2 304.1M60.0 302.7L61.2 304.1M99.3 302.8L97.4 303.0M93.0 301.2L93.8 303.2M93.8 303.2L96.8 303.9M112.1 338.4L110.2 338.9M114.0 342.6L114.4 339.0M110.2 338.9L109.2 342.7M110.4 334.8L112.1 338.4M110.4 334.8L109.3 334.6M107.4 335.7L108.6 338.3M25.7 342.8L26.8 342.3M25.6 346.1L28.6 346.1M26.8 342.3L28.9 344.2M25.7 306.6L29.5 308.8M28.4 304.9L30.2 307.3M30.2 307.3L29.5 308.8M29.1 311.5L29.6 311.0M29.5 308.8L29.6 311.0M30.2 307.3L32.2 306.5M33.6 310.7L33.6 308.2M33.6 308.2L32.2 306.5M31.5 314.9L32.6 315.3M33.8 323.3L32.5 325.4M32.5 325.4L29.2 326.0M29.2 326.0L28.3 324.2M27.0 321.0L27.6 323.9M24.3 325.1L27.6 323.9M28.3 324.2L27.6 323.9M29.2 326.0L28.9 328.7M25.6 328.2L27.5 328.9M152.4 334.7L152.1 332.1M152.1 332.1L153.6 330.9M153.6 330.9L150.7 329.0M149.8 347.0L153.0 345.8M149.8 347.0L149.8 348.6M149.8 348.6L151.3 349.5M153.0 345.8L151.6 349.5M151.6 349.5L151.3 349.5M149.0 344.5L149.8 347.0M153.8 344.8L153.0 345.8M150.5 352.7L151.3 349.5M152.9 376.3L152.7 377.1M140.6 426.7L142.1 427.0M152.4 370.8L152.1 374.5M150.3 370.6L149.6 372.4M149.6 372.4L152.1 374.5M151.5 366.7L150.9 370.4M152.9 376.3L152.1 374.5M138.0 311.4L135.0 312.0M133.4 308.4L134.3 309.3M146.1 309.7L145.1 310.1M146.1 309.7L149.3 312.2M144.9 310.3L146.9 314.3M149.3 312.2L149.6 313.4M149.6 313.4L147.6 314.4M147.6 314.4L146.9 314.3M144.5 307.4L145.1 310.1M149.7 310.5L149.3 312.2M152.2 314.1L149.6 313.4M148.8 317.6L147.6 314.4M145.0 317.4L144.8 317.0M144.7 315.9L144.8 317.0M141.9 310.1L143.6 310.6M141.9 310.1L139.5 311.9M142.6 314.7L140.6 315.2M140.0 314.9L140.6 315.2M144.9 310.3L143.6 310.6M138.0 311.4L139.5 311.9M144.7 315.9L142.6 314.7M140.8 318.3L142.1 319.1M140.8 318.3L140.6 315.2M142.1 319.1L144.8 317.0M99.1 365.4L100.4 365.3M97.3 362.3L98.4 360.3M101.4 364.5L100.4 365.3M101.4 364.5L101.2 361.3M98.4 360.3L101.2 361.3M106.3 344.8L108.4 346.8M106.3 344.8L104.6 348.8M108.4 346.8L105.2 349.3M104.6 348.8L105.2 349.3M126.1 384.7L123.7 383.9M124.3 379.6L123.0 382.4M123.0 382.4L123.7 383.9M126.2 384.8L126.1 384.7M121.9 386.4L123.7 383.9M132.4 383.1L132.1 382.1M123.4 343.0L126.7 344.6M123.4 343.0L123.1 344.9M123.1 344.9L124.6 347.8M124.6 347.8L126.7 344.7M126.7 344.7L126.7 344.6M124.3 349.9L124.6 347.8M120.6 347.5L123.1 344.9M129.1 346.4L131.2 345.8M129.1 346.4L126.7 344.7M131.8 343.7L131.3 343.3M126.7 344.6L128.0 342.3M131.3 343.3L128.0 342.3M138.9 350.2L135.4 349.8M136.5 346.9L135.1 349.4M135.4 349.8L135.1 349.4M140.4 346.0L141.2 348.9M136.6 346.7L136.5 346.9M139.4 350.5L141.2 348.9M139.4 350.5L138.9 350.2M123.0 342.3L123.4 343.0M128.0 342.3L127.2 338.9M127.2 338.9L126.4 339.0M124.3 340.6L126.4 339.0M145.5 335.5L148.5 336.7M145.5 335.5L145.5 335.5M148.4 339.4L144.2 337.8M145.5 335.5L144.2 337.8M137.4 341.8L139.2 339.1M135.0 342.1L134.4 339.4M134.4 339.4L139.0 338.8M140.7 342.6L141.2 340.5M141.4 344.6L142.5 344.5M144.6 340.8L143.4 339.5M143.4 339.5L143.5 338.5M143.5 338.5L140.8 336.3M141.5 334.8L140.8 336.3M110.4 334.8L112.8 333.6M112.8 333.6L110.4 330.6M119.7 303.9L121.1 304.2M121.7 303.7L121.1 304.2M146.1 320.1L145.1 321.3M142.1 319.1L142.7 321.2M145.1 321.3L142.7 321.2M147.6 325.0L146.7 324.8M145.1 321.3L146.7 324.8M48.6 425.5L48.7 425.6M42.5 422.3L43.4 419.5M40.9 423.4L39.4 421.4M39.4 421.4L39.8 419.4M43.4 419.5L40.2 418.6M39.8 419.4L40.2 418.6M40.8 424.0L40.9 423.4M81.9 425.3L82.0 425.3M81.9 425.3L79.7 425.4M78.1 426.7L79.7 425.4M82.0 423.9L81.9 425.3M82.0 423.9L79.7 421.1M79.7 421.1L79.2 422.9M79.7 425.4L79.2 422.9M69.8 426.8L69.5 427.0M69.8 426.8L71.4 426.9M79.2 422.9L75.7 423.6M76.2 425.3L75.7 423.6M38.3 358.7L35.9 360.3M40.3 362.4L40.6 360.0M39.7 359.0L40.6 360.0M40.8 375.3L43.8 375.2M41.6 370.7L42.4 371.0M44.3 374.9L43.8 375.2M44.3 374.1L42.4 371.0M48.2 349.6L48.5 351.9M44.4 348.5L44.0 348.8M44.0 348.8L45.5 353.5M48.5 351.9L45.5 353.5M50.7 345.3L48.3 345.7M48.3 345.7L48.7 349.1M51.6 347.2L51.6 347.7M51.6 347.7L49.2 349.0M48.7 349.1L49.2 349.0M65.5 355.8L66.2 356.1M65.5 355.8L63.4 352.9M66.2 356.1L69.3 353.6M65.2 351.1L63.9 352.1M68.7 352.1L69.4 353.3M69.3 353.6L69.4 353.3M69.7 360.1L71.0 359.7M66.2 356.4L66.2 356.1M71.0 359.7L69.3 353.6M61.1 347.9L60.8 348.0M42.6 392.6L40.0 391.6M40.7 396.8L43.5 395.8M33.9 359.3L33.3 357.1M29.2 358.6L30.0 357.2M33.3 357.1L30.0 357.2M38.3 358.7L37.2 356.2M33.3 357.1L34.0 355.6M27.1 354.6L28.9 355.3M26.7 352.4L31.2 353.3M31.2 353.3L28.9 355.3M28.9 355.3L30.0 357.2M42.3 388.1L37.9 387.7M39.9 391.4L38.3 390.1M38.3 390.1L37.9 387.7M38.3 390.1L35.0 391.2M34.7 395.7L33.2 393.9M42.9 387.6L41.6 385.8M41.6 385.8L41.0 385.5M37.5 385.6L37.3 386.2M37.3 386.2L37.9 387.7M30.1 372.9L30.1 376.1M25.5 373.0L26.7 376.5M26.7 376.5L30.1 376.1M25.7 394.1L25.3 394.0M29.6 394.2L29.6 393.0M25.3 394.0L25.4 392.8M28.9 391.0L29.6 393.0M28.9 391.0L26.2 391.2M60.0 302.7L58.1 302.8M65.0 326.6L67.5 327.8M65.0 326.6L65.3 324.2M69.9 324.3L68.0 323.6M75.8 303.5L74.4 304.2M75.8 303.5L77.9 304.1M74.4 304.2L74.5 307.4M77.9 304.1L78.9 308.0M75.0 308.4L74.5 307.4M72.0 303.8L72.8 304.1M72.8 304.1L74.4 304.2M79.5 303.3L77.9 304.1M85.3 321.5L86.3 319.1M85.1 317.3L86.3 319.1M89.1 322.0L88.5 318.6M85.3 321.5L85.8 322.6M86.3 319.1L88.5 318.6M83.2 306.0L83.1 307.9M78.9 308.0L78.9 308.0M83.1 307.9L82.3 308.7M93.0 312.4L92.9 313.9M93.0 312.4L96.6 310.5M93.4 314.7L92.9 313.9M93.4 314.7L97.2 315.3M96.6 310.5L97.4 311.8M97.4 311.8L97.6 314.6M97.6 314.6L97.2 315.3M109.2 342.7L107.3 342.3M105.8 344.1L107.3 342.3M108.6 338.3L106.2 340.5M106.2 340.5L107.3 342.3M107.4 335.7L107.1 335.6M107.1 335.6L103.8 338.2M106.2 340.5L104.1 339.7M103.8 338.2L104.1 339.7M32.8 304.3L35.8 304.1M30.3 302.6L32.3 303.7M33.6 308.2L36.5 306.5M36.5 306.5L35.8 304.1M34.4 311.2L37.8 307.9M37.8 307.9L38.9 308.1M39.2 309.2L38.9 308.1M34.2 311.2L34.4 311.2M36.5 306.5L37.8 307.9M27.5 334.7L27.5 333.2M26.8 342.3L27.5 340.2M145.1 360.1L146.4 357.4M146.4 357.4L148.6 357.4M146.6 360.7L145.4 360.7M148.6 357.4L151.6 359.1M151.6 359.1L151.9 359.7M150.5 362.5L146.6 360.7M152.6 360.2L151.9 359.7M151.7 355.6L151.6 359.1M149.8 355.8L148.6 357.4M153.0 394.0L153.0 394.0M153.0 394.0L148.4 395.8M148.4 395.8L147.9 396.2M151.5 398.4L149.3 398.6M147.9 396.2L149.3 398.6M146.1 391.8L146.7 395.4M146.7 395.4L145.1 396.2M145.1 396.2L141.6 395.5M143.0 391.7L141.6 395.5M141.6 366.1L138.7 365.2M140.9 369.4L138.8 369.5M137.5 395.5L134.7 395.1M134.7 395.1L134.5 398.9M136.4 398.8L134.5 398.9M144.7 397.9L145.1 396.2M144.7 397.9L141.8 399.1M141.0 396.0L141.3 398.3M141.8 399.1L141.3 398.3M137.5 395.5L138.1 395.0M138.1 395.0L141.0 396.0M136.4 398.8L137.2 399.5M141.3 398.3L137.2 399.5M133.8 400.9L134.4 399.0M133.8 400.9L135.5 402.0M137.2 399.5L138.1 402.8M135.5 402.0L138.1 402.8M150.4 422.9L150.3 422.8M150.3 422.8L150.4 421.3M146.6 426.4L145.8 425.7M150.3 422.8L146.1 424.0M146.1 424.0L145.8 425.7M142.1 427.0L142.5 426.6M145.8 425.7L142.5 426.6M147.8 368.1L146.2 366.0M147.8 368.1L150.2 365.9M149.0 364.4L150.2 365.9M149.0 364.4L146.7 364.1M151.4 366.4L150.2 365.9M147.9 369.3L147.8 368.1M145.4 362.1L145.4 360.7M145.4 362.1L146.7 364.1M141.9 365.9L144.2 367.2M145.4 362.1L142.7 364.1M144.2 367.2L146.2 366.0M121.3 396.3L123.3 396.0M121.3 396.3L121.2 399.0M123.3 396.0L124.7 398.8M124.7 398.8L124.5 399.2M129.5 394.5L128.5 396.0M123.3 396.0L124.5 394.0M124.7 398.8L126.8 398.6M126.8 398.6L128.6 397.1M128.6 397.1L128.5 396.0M61.3 369.2L61.3 369.3M61.3 369.2L62.5 366.4M60.6 356.6L57.4 357.6M57.1 359.8L59.6 360.8M59.6 360.8L59.6 360.8M65.5 355.8L61.5 357.9M67.5 374.6L65.8 375.5M60.8 370.3L61.3 369.3M63.8 373.0L61.8 373.4M57.8 371.5L59.1 374.2M59.1 374.2L61.3 374.1M61.8 373.4L61.3 374.1M57.8 371.5L57.2 371.2M61.3 369.2L58.6 367.7M78.9 308.0L78.0 310.6M82.4 309.2L82.3 308.7M82.4 309.2L82.0 311.5M78.0 310.6L82.0 311.5M75.0 308.4L74.5 311.4M77.5 311.3L76.3 312.0M82.0 311.5L82.0 313.5M99.3 302.8L101.0 304.6M101.0 304.6L103.5 303.2M100.6 305.9L103.7 309.1M100.6 305.9L97.0 308.0M97.1 308.3L97.0 308.0M97.1 308.3L100.7 310.2M100.7 310.2L103.6 309.2M103.6 309.2L103.7 309.1M96.9 307.8L97.0 308.0M101.0 304.6L100.6 305.9M100.4 312.1L100.7 310.2M100.4 312.1L97.4 311.8M93.4 367.1L93.8 364.1M93.4 367.1L97.0 367.8M97.0 367.8L97.4 366.8M97.4 366.8L94.2 364.0M94.2 364.0L93.8 364.1M97.1 370.4L99.6 371.2M97.1 370.4L97.0 367.8M99.1 365.4L97.4 366.8M101.3 367.8L100.4 365.3M99.6 371.2L100.9 370.6M97.3 362.3L94.9 362.7M94.9 362.7L94.2 364.0M90.5 360.5L94.0 360.7M94.0 360.7L94.9 362.7M91.0 363.8L93.8 364.1M82.0 366.9L79.9 366.5M80.2 370.0L79.0 367.6M79.0 367.6L79.9 366.5M82.7 365.9L82.0 366.9M99.6 371.2L100.0 374.2M100.9 370.6L104.0 371.2M100.0 374.2L104.3 373.2M104.3 373.2L104.6 372.4M104.0 371.2L104.6 372.4M123.4 392.3L119.1 393.7M120.9 390.4L118.8 393.0M119.4 388.6L120.3 386.5M119.4 388.6L120.9 390.4M121.9 386.4L120.3 386.5M119.4 388.6L116.6 389.6M116.6 391.4L116.6 389.6M116.6 391.4L118.8 393.0M107.4 388.0L106.9 387.7M107.4 388.0L108.9 387.3M106.9 387.7L105.1 383.9M105.1 383.9L107.4 383.5M108.7 383.8L109.9 385.5M118.8 345.3L117.2 344.8M118.8 345.3L122.1 342.4M123.0 342.3L122.5 342.3M145.5 345.6L145.5 349.0M144.0 349.8L145.5 349.0M145.5 349.0L146.6 349.5M146.6 349.5L147.9 353.2M72.7 352.7L70.0 353.3M72.7 352.7L74.8 353.3M70.0 353.3L72.5 356.9M72.5 348.1L75.8 351.1M72.5 348.1L71.9 348.5M71.9 348.5L72.7 352.7M75.8 351.1L74.9 353.3M74.9 353.3L74.8 353.3M69.4 353.3L70.0 353.3M80.0 353.5L79.0 353.1M75.8 351.1L77.2 349.7M77.2 349.7L78.4 350.1M78.4 350.1L79.0 353.1M81.8 355.4L82.9 356.3M81.8 355.4L80.6 355.3M81.8 355.4L83.3 352.3M82.2 350.6L80.0 353.5M78.4 350.1L82.1 349.8M82.1 349.8L82.2 350.6M72.2 317.8L71.8 321.4M72.2 317.8L75.6 319.3M75.6 319.3L74.8 320.3M51.8 342.6L53.2 342.5M139.1 337.2L139.8 336.7M139.1 337.2L136.0 336.0M139.8 336.7L137.7 332.1M136.0 336.0L135.9 333.2M140.8 336.3L139.8 336.7M134.4 339.4L134.2 338.9M134.2 338.9L135.6 336.4M135.6 336.4L136.0 336.0M152.1 332.1L149.7 331.4M149.7 331.4L149.6 329.5M144.8 325.7L146.1 329.9M149.6 329.5L148.6 328.9M125.1 310.4L123.5 309.9M125.1 310.4L126.2 307.9M125.6 305.9L122.0 307.9M122.0 307.9L123.5 309.9M116.8 304.9L119.1 308.6M115.9 304.9L114.5 308.0M116.7 309.5L118.9 308.9M116.7 309.5L114.6 308.2M114.6 308.2L114.5 308.0M118.9 308.9L119.1 308.6M119.7 303.9L116.8 304.9M114.6 302.9L115.9 304.9M121.3 307.5L119.1 308.6M121.3 307.5L122.0 307.9M123.3 303.4L125.6 305.8M125.6 305.8L127.9 304.5M128.5 303.5L127.9 304.5M121.7 303.7L123.3 303.4M128.8 307.6L127.9 304.5M128.8 307.6L126.2 307.9M131.1 303.8L128.5 303.5M129.0 307.7L128.8 307.6M129.0 307.7L131.5 307.1M144.8 325.7L143.2 326.0M146.1 329.9L144.8 331.2M143.2 326.0L144.8 331.2M138.3 331.6L141.1 331.5M138.3 331.6L137.7 332.1M28.5 419.5L29.5 418.5M28.8 416.8L29.5 418.5M39.4 421.4L37.4 421.3M35.6 423.6L37.4 421.3M35.6 423.6L32.9 420.4M39.8 419.4L35.7 419.0M37.4 421.3L35.7 419.0M39.9 411.9L41.7 413.2M36.6 415.8L39.3 416.6M36.6 415.8L35.6 418.9M35.6 418.9L32.9 420.1M32.9 420.1L31.3 418.6M40.2 418.6L39.7 417.0M39.3 416.6L39.7 417.0M54.8 388.8L55.0 391.0M54.8 388.8L53.6 387.5M51.3 390.3L54.9 391.1M51.2 388.1L53.6 387.5M55.0 391.0L54.9 391.1M75.9 420.7L75.2 422.9M75.2 422.9L72.2 423.3M72.2 423.3L71.1 422.0M75.7 423.6L75.2 422.9M82.0 423.9L83.2 421.5M83.2 421.5L85.3 423.1M84.8 425.3L85.1 425.1M85.1 425.1L85.3 423.1M47.1 379.6L47.0 377.1M47.0 377.1L44.3 374.9M41.6 385.8L44.6 382.7M41.0 385.5L41.4 381.5M40.9 349.8L44.0 348.8M40.9 349.8L41.4 353.1M45.5 353.5L45.5 353.6M45.5 353.6L44.7 354.2M44.7 354.2L41.4 353.1M38.1 355.2L40.3 354.6M39.7 359.0L40.8 356.2M41.1 368.2L44.9 367.0M44.9 367.0L43.6 370.3M41.2 364.4L42.2 364.3M44.9 367.0L45.2 366.8M40.6 360.0L42.8 359.6M60.4 354.3L57.6 353.2M57.4 357.6L56.3 356.0M56.3 356.0L57.6 353.2M44.6 382.7L46.0 385.5M39.1 381.1L38.4 381.7M37.3 385.1L38.4 381.7M51.6 382.3L49.4 382.2M51.6 382.3L52.5 385.0M50.5 385.7L49.2 382.8M52.9 381.3L51.6 382.3M51.6 378.5L47.3 379.7M51.6 378.5L52.5 379.3M47.3 379.7L49.4 382.2M53.6 387.5L53.2 385.5M53.2 385.5L52.5 385.0M47.1 385.6L49.2 382.8M44.4 348.0L41.2 343.6M44.4 348.0L46.3 344.7M40.7 349.6L40.9 349.8M44.4 348.5L44.4 348.0M48.2 349.6L48.7 349.1M48.3 345.7L46.4 344.6M61.1 347.9L62.2 347.0M62.2 347.0L60.5 342.5M61.7 339.5L61.3 341.5M27.1 400.8L26.9 399.8M25.7 394.1L27.5 398.6M26.9 399.8L27.5 398.6M30.0 394.5L29.9 396.6M30.0 394.5L33.2 393.9M29.9 396.6L32.1 399.0M28.6 401.6L32.0 399.2M32.1 399.0L32.0 399.2M33.3 354.5L34.0 355.4M34.0 355.4L36.7 352.5M34.6 350.3L36.9 351.5M34.0 355.6L34.0 355.4M31.2 353.3L31.3 353.2M31.3 353.2L33.3 354.5M38.1 355.2L36.7 352.5M40.3 354.6L40.5 354.4M40.5 354.4L36.9 352.0M40.7 349.6L39.3 349.8M39.3 349.8L36.9 351.5M41.4 353.1L40.5 354.4M29.5 388.8L29.7 388.8M29.7 388.8L32.2 389.8M34.0 391.1L33.3 389.9M37.3 386.2L34.1 387.9M32.2 389.8L33.3 389.9M30.1 376.1L31.6 377.3M33.3 377.3L31.6 377.3M26.7 376.5L26.2 377.3M28.1 380.1L29.3 380.9M31.6 377.3L29.3 380.9M29.5 388.8L26.2 388.1M26.2 388.1L26.0 388.4M69.4 308.0L68.0 309.4M69.4 308.0L71.0 308.2M72.7 311.8L72.6 311.9M72.7 311.8L71.7 308.8M72.6 311.9L68.5 311.8M68.0 309.4L68.3 311.5M71.0 308.2L71.7 308.8M68.4 304.6L69.4 308.0M72.8 304.1L71.0 308.2M74.5 307.4L71.7 308.8M74.5 311.4L72.7 311.8M64.9 311.3L68.3 311.5M67.6 314.1L68.5 311.8M71.7 316.9L69.4 317.0M71.7 316.9L72.2 317.8M71.4 321.7L68.8 319.5M71.4 321.7L71.8 321.4M73.0 315.4L72.6 312.5M72.6 312.5L68.7 316.1M69.4 317.0L68.7 316.1M67.6 314.1L67.9 315.5M72.6 312.5L72.6 311.9M68.7 316.1L67.9 315.5M68.0 323.6L67.7 320.1M65.3 324.2L63.7 321.8M63.7 321.8L65.6 320.1M65.6 320.1L67.7 320.1M71.3 323.3L70.6 324.1M71.3 323.3L71.4 321.7M65.2 317.4L65.3 317.0M65.2 317.4L60.9 318.3M64.3 313.3L62.7 313.9M65.6 320.1L65.2 317.4M61.7 321.5L61.2 320.6M61.7 321.5L63.7 321.8M61.2 320.6L60.9 318.3M56.7 304.0L53.6 302.6M61.0 305.8L60.2 306.9M61.0 305.8L65.1 307.5M62.2 309.9L64.3 309.3M65.1 307.5L65.2 308.1M66.4 304.5L65.1 307.5M61.2 304.1L61.0 305.8M64.9 311.3L64.3 309.3M62.7 313.9L61.2 311.7M68.0 309.4L65.2 308.1M61.2 311.7L59.6 311.7M56.7 304.0L56.8 307.7M57.6 307.8L56.8 307.7M70.6 324.1L71.9 328.0M67.5 327.8L67.6 328.0M67.6 328.0L71.9 328.0M79.8 318.6L80.8 321.6M85.6 323.6L84.4 325.4M89.2 325.5L87.5 328.0M87.5 328.0L86.2 328.3M85.8 322.6L85.6 323.6M81.3 325.2L81.1 322.0M81.3 325.2L81.7 325.5M84.4 325.4L81.7 325.5M88.1 310.6L85.8 308.1M88.1 310.6L89.3 310.0M85.9 307.9L85.8 308.1M85.9 307.9L89.1 305.1M89.1 305.1L90.1 306.3M86.0 302.9L85.9 307.9M83.1 307.9L85.8 308.1M89.1 304.9L89.1 305.1M88.9 316.4L86.1 314.2M87.1 312.2L87.3 312.1M86.1 314.1L86.1 314.2M88.1 310.6L87.3 312.1M89.3 317.7L88.9 316.4M114.0 314.3L112.3 312.2M113.1 311.7L112.3 312.2M113.6 315.8L110.8 314.8M114.6 308.2L113.1 311.7M113.6 315.8L114.4 317.1M114.4 317.1L116.4 316.5M109.2 318.1L111.0 320.5M110.8 317.2L113.3 319.0M111.0 320.5L113.3 319.9M113.3 319.9L113.3 319.0M107.0 318.0L108.1 315.5M107.0 318.0L109.2 318.1M108.1 315.5L110.7 314.9M110.7 314.9L110.8 317.2M114.4 317.1L113.3 319.0M110.8 314.8L110.7 314.9M94.0 360.7L94.4 359.9M98.4 360.3L98.3 360.1M98.3 360.1L97.7 359.3M94.4 359.9L97.7 359.3M104.4 348.7L103.4 347.3M104.4 348.7L104.6 348.8M103.4 347.3L105.0 344.2M104.1 339.7L102.1 342.1M110.6 326.0L107.7 323.4M108.0 327.3L107.7 323.4M111.6 324.0L110.6 326.0M108.8 322.1L107.2 322.2M107.7 323.4L107.2 322.2M108.1 315.5L106.8 313.2M106.8 313.2L103.7 314.9M106.3 318.5L104.2 317.0M104.2 317.0L103.7 314.9M106.8 313.2L106.8 313.0M103.7 310.4L102.4 313.8M103.7 314.9L102.4 313.8M100.4 312.1L101.8 313.8M103.7 310.4L103.6 309.2M101.4 314.1L101.8 313.8M39.3 349.8L35.4 346.5M36.1 345.5L35.4 346.5M29.8 340.0L27.5 340.2M29.8 340.0L32.0 341.9M28.9 344.2L31.5 343.1M32.0 341.9L31.5 343.1M34.3 350.0L35.2 346.6M29.7 349.4L29.8 348.1M35.4 346.5L35.2 346.6M31.3 353.2L31.0 350.4M28.9 349.7L29.7 349.4M36.1 345.5L34.9 341.7M33.8 341.2L34.9 341.7M33.8 341.2L32.0 341.9M28.6 346.1L29.8 348.1M41.2 320.0L41.1 318.3M39.6 307.4L40.3 304.0M41.6 303.1L40.3 304.0M45.8 303.9L46.9 303.9M49.3 301.8L46.9 303.9M34.9 341.7L37.1 340.7M28.9 328.7L29.5 329.3M27.5 333.2L30.0 331.4M29.5 329.3L30.0 331.4M36.4 332.9L40.7 333.4M29.5 329.3L33.2 328.3M31.2 332.5L34.5 330.8M32.5 325.4L33.2 328.2M40.8 333.6L38.9 337.1M36.4 332.9L36.4 332.9M40.7 333.4L40.7 333.4M41.8 338.9L38.9 337.3M37.7 337.9L38.9 337.3M28.4 335.9L30.4 338.3M28.4 335.9L29.4 335.4M30.4 338.3L32.6 336.9M26.4 338.7L28.4 335.9M27.5 334.7L28.4 335.9M29.8 340.0L30.4 338.3M135.8 391.2L137.8 393.5M137.8 393.5L141.6 390.3M138.2 388.7L141.0 388.7M141.0 388.7L141.6 390.3M135.1 391.2L135.8 391.2M133.5 388.8L137.1 387.2M137.1 387.2L138.2 388.7M143.0 391.7L141.6 390.3M153.7 382.2L151.6 382.8M152.3 385.8L151.5 382.9M151.6 382.8L151.5 382.9M149.6 372.4L149.6 372.4M150.5 377.6L149.6 377.5M149.6 372.4L149.6 377.5M146.6 376.0L149.3 377.6M146.6 376.0L145.4 374.0M149.6 372.4L145.5 373.8M149.6 377.5L149.3 377.6M145.5 373.8L145.4 374.0M147.9 369.3L145.8 370.4M141.9 365.9L141.6 366.1M144.2 367.2L144.3 369.3M140.9 369.4L141.9 370.2M141.9 370.2L144.3 369.3M145.8 370.4L144.3 369.3M139.8 377.2L140.9 377.4M138.5 373.1L141.9 374.1M141.9 374.2L141.9 374.1M141.9 374.2L141.1 377.4M141.1 377.4L140.9 377.4M135.1 378.0L139.8 377.2M135.1 378.0L136.3 374.5M138.7 369.6L138.8 369.5M138.7 369.6L138.5 373.1M141.9 370.2L141.9 374.1M136.1 369.1L134.2 371.4M134.8 372.5L136.4 373.8M145.4 374.0L141.9 374.2M148.4 395.8L151.0 392.1M151.7 392.1L151.0 392.1M152.4 390.6L152.3 388.6M151.7 392.1L152.4 390.6M152.3 385.8L151.4 387.3M151.4 387.3L152.3 388.6M119.8 426.4L120.9 424.6M120.9 424.6L122.8 425.7M124.9 422.3L121.7 423.0M120.9 424.6L120.8 424.1M122.8 425.7L126.7 423.3M121.7 423.0L120.8 424.1M117.9 422.9L118.7 422.8M120.8 424.1L118.7 422.8M126.8 398.6L128.4 403.2M128.6 397.1L130.4 398.4M130.4 398.4L130.2 402.4M133.8 400.9L132.1 402.9M134.4 399.0L132.4 397.9M130.2 402.4L132.1 402.9M146.7 395.4L147.9 396.2M149.3 398.6L149.1 398.9M144.7 397.9L145.4 398.9M145.4 398.9L149.1 398.9M153.1 403.5L152.7 404.0M152.7 404.0L148.3 401.5M149.1 398.9L148.3 401.3M141.8 399.1L142.1 400.7M145.4 398.9L144.4 401.2M144.4 401.2L145.1 401.7M124.5 399.2L123.8 402.1M128.4 403.2L128.1 403.5M128.1 403.5L127.7 403.6M123.8 402.1L127.7 403.6M132.6 396.2L133.8 394.6M130.3 394.5L133.5 393.4M133.8 394.6L133.5 393.4M129.5 394.5L130.3 394.5M132.4 397.9L132.6 396.2M133.6 392.6L133.5 393.4M124.8 411.5L124.4 409.3M63.9 361.7L64.6 363.2M63.9 361.7L63.9 360.8M64.1 360.7L63.9 360.8M64.1 360.7L69.1 360.8M63.5 366.2L64.6 363.2M61.3 363.8L59.6 360.8M61.6 359.4L63.9 360.8M66.2 356.4L64.1 360.7M69.7 360.1L69.1 360.8M65.8 375.5L65.4 376.5M61.3 374.1L62.5 377.7M67.5 374.6L69.3 374.8M65.4 376.5L67.2 378.8M59.1 374.2L58.5 375.0M58.5 375.0L58.2 377.4M55.3 377.4L56.9 378.3M56.9 378.3L58.2 377.4M54.9 365.6L54.6 363.1M54.9 365.6L56.2 366.9M56.2 366.9L57.9 366.6M54.7 362.7L54.6 363.1M54.7 362.7L58.1 363.8M57.9 366.6L58.8 365.1M58.8 365.1L58.1 363.8M51.3 367.6L54.9 365.6M54.6 370.8L56.2 366.9M54.6 360.8L57.1 359.8M59.6 360.8L58.1 363.8M69.9 374.6L71.1 372.5M79.0 385.1L75.4 386.5M74.8 384.6L75.4 386.5M76.4 364.0L75.0 366.5M79.0 367.6L75.3 367.2M69.3 374.8L69.9 374.6M107.3 392.7L107.2 394.1M112.6 394.3L110.4 396.3M107.2 394.1L110.4 396.3M86.8 393.2L90.0 394.2M86.8 393.2L86.6 390.4M91.0 391.4L90.0 394.2M90.0 389.4L86.6 390.4M80.5 395.3L82.9 394.0M82.8 393.4L80.0 391.3M86.8 393.2L85.5 394.2M85.5 394.2L83.6 394.3M83.6 394.3L82.9 394.0M86.6 390.4L85.5 389.6M85.5 389.6L83.1 391.8M82.8 393.4L83.1 391.8M82.0 388.4L81.1 389.2M82.0 388.4L81.6 385.2M79.9 385.4L79.6 389.3M79.6 389.3L79.9 389.4M85.0 388.4L82.0 388.4M83.3 383.6L81.6 385.2M83.3 383.6L85.5 384.7M85.5 384.7L85.8 386.0M79.0 385.1L79.9 385.4M76.8 389.0L75.4 386.8M76.8 389.0L79.6 389.3M85.5 384.7L86.4 383.9M89.4 382.1L88.0 381.6M89.4 382.1L90.9 383.6M86.4 383.9L88.0 381.6M114.6 302.9L110.6 304.6M109.8 304.2L110.6 304.6M114.5 308.0L111.6 307.5M123.6 318.6L120.4 317.7M123.6 318.6L124.3 317.4M123.1 314.8L124.3 317.4M96.6 375.4L99.1 376.1M92.7 378.2L93.6 374.5M96.6 375.4L95.6 373.1M93.6 374.5L95.6 373.1M95.7 371.3L95.6 373.1M88.3 368.3L90.8 367.3M90.8 367.3L92.3 368.1M92.3 368.1L92.8 370.6M92.8 370.6L92.7 370.7M91.0 363.8L90.7 364.2M93.4 367.1L92.3 368.1M95.7 371.3L92.8 370.6M92.7 378.2L90.4 377.3M88.0 381.6L87.9 381.2M90.4 377.3L87.9 381.2M82.7 382.1L83.4 379.6M83.4 379.6L83.0 378.3M87.9 381.2L86.2 379.9M83.4 379.6L86.2 379.9M101.4 364.5L101.5 364.6M145.1 360.1L145.0 360.1M145.0 360.1L140.4 362.1M133.5 380.7L132.1 382.1M133.5 380.7L130.0 378.5M128.6 381.4L129.4 378.8M130.0 378.5L129.4 378.8M133.5 380.7L135.2 379.7M135.2 379.7L135.0 378.2M135.0 378.2L132.1 376.9M130.0 378.5L132.1 376.9M134.8 372.5L131.8 375.9M132.1 376.9L131.8 375.9M134.2 371.4L133.5 371.2M130.6 374.7L131.8 375.9M130.6 374.7L131.1 371.8M133.5 371.2L131.1 371.8M117.4 365.6L119.4 366.3M117.4 365.6L117.5 364.0M123.3 363.6L123.1 364.6M117.5 364.0L120.0 362.2M119.4 366.3L123.1 364.6M117.0 374.8L118.5 373.1M116.9 366.1L117.4 365.6M117.5 364.0L116.6 362.9M116.0 357.5L112.3 359.9M112.3 359.9L113.3 361.4M119.5 354.0L120.4 355.1M123.4 358.1L120.9 357.1M102.7 377.0L102.8 379.1M106.6 376.7L108.1 377.8M107.3 379.3L107.8 378.9M104.3 373.2L103.9 376.1M107.1 372.8L104.6 372.4M107.1 372.8L106.6 376.7M99.9 375.7L102.7 377.0M107.4 383.5L107.3 379.3M104.9 383.8L104.7 380.3M110.0 381.4L108.7 383.8M111.2 381.1L113.7 382.1M111.2 381.1L111.5 377.3M111.5 377.3L113.0 377.3M114.4 381.4L113.7 382.1M109.9 376.7L111.5 377.3M110.0 381.4L111.2 381.1M113.4 373.8L113.0 377.3M109.8 374.4L109.9 376.7M117.1 376.4L117.2 376.3M117.1 376.4L113.7 377.6M120.2 382.2L118.8 383.7M118.8 383.7L116.0 381.2M116.0 381.2L118.0 378.9M119.6 379.7L118.0 378.9M118.6 384.6L118.8 383.7M124.3 379.6L123.9 378.4M123.9 378.4L122.3 378.0M122.3 378.0L119.6 379.7M117.1 376.4L118.0 378.9M114.4 381.4L116.0 381.2M122.3 378.0L120.9 376.1M118.6 384.6L118.5 384.6M113.7 382.1L113.5 385.2M116.6 389.6L116.0 388.9M118.5 384.6L116.0 388.9M109.9 385.5L113.4 385.4M131.8 346.5L132.6 349.5M132.6 349.5L132.9 349.7M82.9 356.3L86.3 355.5M83.3 352.3L86.4 353.9M86.4 353.9L86.3 355.5M86.3 355.5L87.0 356.6M75.7 319.3L77.0 319.5M75.7 319.3L75.4 316.2M73.0 315.4L75.4 316.2M75.6 319.3L75.7 319.3M80.8 321.6L77.8 322.5M77.8 322.5L77.0 319.5M61.7 339.5L62.2 339.0M55.3 331.5L58.7 331.0M64.5 338.6L65.6 336.8M76.9 348.0L76.7 347.8M76.9 348.0L81.4 346.3M76.7 347.8L79.3 344.7M79.3 344.7L81.4 346.3M77.2 349.7L76.9 348.0M82.8 348.4L82.4 346.7M81.4 346.3L82.4 346.7M51.8 342.6L50.3 341.7M46.4 344.6L47.0 342.9M50.3 341.7L47.0 342.9M51.4 337.7L50.5 335.6M51.0 333.6L50.5 335.6M49.6 339.0L50.3 341.7M49.6 339.0L51.4 337.7M55.3 331.5L54.6 330.7M51.0 333.6L50.5 332.7M54.6 330.7L50.5 332.7M124.3 340.6L121.3 337.3M126.4 339.0L122.7 335.6M122.7 335.6L121.3 337.3M131.3 343.3L130.2 338.8M127.2 338.9L128.3 338.1M130.2 338.8L128.3 338.1M134.2 338.9L132.9 338.6M130.2 338.8L132.9 338.6M141.8 325.6L142.0 325.8M141.8 325.6L138.0 326.5M142.0 325.8L141.2 330.0M138.0 326.5L138.0 326.6M142.7 321.2L141.3 323.0M141.3 323.0L141.8 325.6M143.2 326.0L142.0 325.8M141.1 331.5L141.2 330.0M138.3 331.6L137.3 329.1M137.3 329.1L138.0 326.6M42.2 402.2L43.1 401.2M43.7 405.3L45.6 405.9M46.4 402.1L47.3 403.7M47.3 403.7L46.7 405.3M45.6 405.9L46.7 405.3M39.9 404.0L41.2 406.1M41.2 406.1L43.7 405.3M46.1 423.1L46.7 420.6M47.5 424.1L49.7 421.4M49.7 421.4L49.4 420.3M46.7 420.6L49.4 420.3M79.7 396.7L81.0 398.6M85.5 394.2L86.8 397.1M89.4 398.3L89.3 398.3M90.0 394.2L90.7 395.7M86.8 397.1L89.3 398.3M86.8 397.1L84.0 398.0M83.2 421.5L82.9 420.5M87.8 420.5L87.1 421.9M87.8 420.5L85.9 419.6M85.3 423.1L87.1 421.9M85.9 419.6L82.9 420.5M79.7 421.1L79.7 420.1M49.4 391.3L51.6 395.0M51.6 395.0L51.0 395.7M48.7 425.6L50.4 425.5M49.7 421.4L51.1 423.4M51.5 426.5L50.4 425.5M53.3 426.7L53.8 426.2M54.9 422.6L54.4 421.9M51.1 423.4L54.1 421.8M54.1 421.8L54.4 421.9M67.7 420.8L70.3 422.0M67.7 420.8L66.9 420.7M66.9 420.7L66.2 423.6M70.3 422.0L68.3 424.1M68.3 424.1L66.2 423.6M71.7 417.4L71.4 417.5M71.4 417.5L67.7 420.8M65.6 418.9L66.9 420.7M65.6 418.9L65.6 418.4M71.4 417.5L65.6 418.4M69.8 426.8L68.3 424.1M63.0 421.4L64.4 424.9M64.2 426.7L63.9 426.3M63.9 426.3L64.4 424.9M37.8 377.4L40.0 377.0M37.8 377.4L37.2 378.3M38.4 381.7L34.5 380.2M34.2 378.5L34.5 380.2M36.1 373.9L37.8 377.4M33.3 377.3L34.2 378.5M47.1 368.0L46.1 370.3M46.8 371.4L46.1 370.3M45.2 366.8L46.2 366.7M46.2 366.7L47.1 368.0M43.6 370.3L46.1 370.3M46.2 366.7L47.0 365.0M44.0 362.9L46.1 362.6M46.1 362.6L47.0 365.0M51.3 367.6L50.5 364.7M47.0 365.0L50.5 364.7M54.6 363.1L50.6 364.5M49.2 349.0L52.6 351.4M52.6 351.4L53.1 348.8M57.0 352.3L57.2 351.4M57.2 351.4L56.9 350.8M54.6 360.8L53.4 359.8M56.3 356.0L55.0 356.3M53.4 359.8L55.0 356.3M49.5 360.1L50.6 364.5M49.5 360.1L52.3 359.5M52.9 381.3L53.5 381.4M56.9 378.3L56.8 378.4M55.4 384.2L55.5 382.7M55.4 384.2L53.2 385.5M54.8 388.8L57.6 386.5M55.0 391.0L56.4 391.1M59.9 387.8L57.6 386.5M57.6 386.5L57.5 386.0M64.5 338.6L65.3 339.3M61.3 341.5L64.4 343.6M65.3 339.3L66.0 341.6M64.4 343.6L66.0 341.6M69.5 342.7L69.1 343.2M39.9 404.0L36.8 403.7M36.4 402.9L36.3 402.8M32.0 399.2L33.7 402.7M36.3 402.8L33.7 402.7M34.4 383.6L33.6 381.9M33.6 381.9L29.6 382.5M32.2 385.7L30.5 385.4M29.2 383.5L29.6 382.5M37.3 385.1L34.4 383.6M34.5 380.2L33.6 381.9M29.3 380.9L29.6 382.5M25.3 384.8L26.2 388.1M25.3 384.8L29.2 383.5M25.4 381.0L24.0 378.3M25.4 381.0L24.9 384.6M26.2 377.3L24.0 378.3M28.1 380.1L25.4 381.0M57.8 324.1L56.2 322.6M61.2 320.6L57.1 320.6M57.1 320.6L56.2 322.6M60.8 316.3L58.8 314.5M59.6 311.7L58.0 313.1M58.8 314.5L58.0 313.1M60.5 317.7L56.3 317.6M57.1 320.6L56.1 317.7M56.3 317.6L56.1 317.7M68.4 332.0L67.8 331.8M68.4 332.0L70.7 331.1M72.5 328.5L70.7 331.1M77.8 322.5L77.5 323.6M78.8 325.2L77.5 323.6M74.8 320.3L75.3 323.9M77.5 323.6L75.3 323.9M72.5 328.5L74.9 328.6M74.7 324.4L75.3 323.9M60.5 325.4L59.9 327.7M60.5 325.4L64.6 326.9M65.0 326.6L64.6 326.9M60.0 324.0L60.5 325.4M58.9 328.4L59.9 327.7M58.9 328.4L58.7 331.0M61.3 331.2L62.4 329.0M123.6 318.6L124.2 321.7M119.6 318.6L120.7 321.3M94.4 359.9L93.6 356.3M97.7 359.3L97.3 356.7M93.6 356.3L94.7 355.9M97.3 356.7L94.7 355.9M87.5 328.0L89.3 328.5M87.0 332.0L90.0 332.8M86.2 328.3L86.1 328.8M89.3 328.5L90.6 332.0M90.0 332.8L90.6 332.0M94.6 338.8L93.4 335.4M95.0 334.4L96.2 334.6M97.5 338.5L96.2 334.6M111.4 328.6L110.4 330.6M111.4 328.6L110.5 327.6M106.3 318.5L106.3 319.2M111.0 320.5L108.8 322.1M107.2 322.2L107.1 322.2M106.3 319.2L107.1 322.2M107.1 322.2L105.7 323.1M92.9 317.4L91.6 318.3M91.6 318.3L91.7 320.0M91.7 320.0L95.5 321.6M91.2 324.1L95.5 321.6M104.2 317.0L100.7 318.7M101.4 314.1L100.1 317.8M100.1 317.8L100.7 318.7M92.9 317.4L95.8 319.0M95.5 321.6L96.3 321.5M95.8 319.0L96.3 321.5M44.6 304.6L44.3 307.4M46.9 303.9L49.0 305.6M48.1 308.6L49.0 305.6M48.1 308.6L47.8 308.8M52.0 310.4L50.1 312.7M52.0 310.4L51.4 309.2M51.4 309.2L48.1 308.6M47.5 311.0L48.5 312.2M48.5 312.2L50.1 312.7M54.2 322.7L53.1 320.1M54.2 322.7L56.2 322.6M55.7 317.5L54.1 317.8M51.6 315.8L51.3 315.8M51.6 315.8L54.1 317.8M51.3 315.8L49.7 319.0M53.1 320.1L50.6 320.5M50.6 320.5L49.7 319.0M42.3 328.4L45.2 326.2M44.7 330.7L44.6 331.6M44.7 330.7L42.3 328.4M44.6 331.6L40.7 333.4M47.0 326.6L45.8 330.0M47.0 326.6L45.2 326.2M45.8 330.0L44.7 330.7M36.7 337.5L34.3 335.4M36.7 337.5L33.8 339.7M33.8 339.7L32.8 336.9M32.8 336.9L33.7 335.6M33.7 335.6L34.3 335.4M37.7 337.9L36.7 337.5M38.9 337.1L38.9 337.3M33.8 341.2L33.8 339.7M32.6 336.9L32.8 336.9M31.3 333.1L33.7 335.6M134.8 385.1L134.6 384.8M134.8 385.1L136.4 385.3M134.6 384.8L135.4 379.8M136.4 385.3L136.9 384.8M136.9 384.8L137.2 380.9M135.4 379.8L137.2 380.9M137.1 387.2L136.4 385.3M135.2 379.7L135.4 379.8M141.8 387.0L141.0 388.7M141.8 387.0L141.0 384.6M137.5 380.9L137.2 380.9M137.5 380.9L140.9 377.4M141.0 384.6L141.3 383.2M141.1 377.4L141.8 378.3M146.6 376.0L143.9 379.0M141.8 378.3L143.9 379.0M151.5 382.9L149.1 383.3M149.3 377.6L147.2 381.1M144.3 386.1L147.1 386.0M147.2 381.1L145.4 381.4M141.3 383.2L144.9 382.1M145.4 381.4L144.9 382.1M143.3 386.8L144.3 386.1M145.0 382.6L144.9 382.1M150.9 387.3L147.7 391.0M150.9 387.3L148.3 385.8M148.3 385.8L147.6 386.1M147.6 386.1L146.8 389.6M146.8 389.6L147.0 391.0M147.0 391.0L147.7 391.0M151.0 392.1L147.7 391.0M149.1 383.3L148.3 385.8M147.1 386.0L147.6 386.1M127.1 425.9L127.9 424.4M126.7 423.3L127.4 423.4M127.4 423.4L127.9 424.4M124.9 422.3L124.0 420.0M116.4 418.5L116.4 416.3M135.5 402.0L133.7 404.2M138.3 403.0L138.1 402.8M138.3 403.0L137.3 404.5M133.7 404.2L135.3 405.6M133.7 404.2L132.3 403.1M128.0 408.1L129.3 408.9M128.0 408.1L128.4 404.6M128.4 404.6L131.3 406.8M129.2 412.2L129.3 408.9M129.2 412.2L124.8 411.5M124.4 409.3L128.0 408.1M128.1 403.5L128.4 404.6M124.6 406.6L124.2 409.2M132.3 403.1L131.3 406.8M138.3 403.0L138.6 403.0M138.6 403.0L141.0 402.2M150.4 421.3L149.7 420.2M149.7 420.2L153.2 418.3M123.8 402.1L123.5 402.2M119.9 401.2L117.3 401.5M117.3 401.5L116.7 400.3M118.8 396.0L117.5 396.5M121.2 399.0L119.9 401.0M119.2 395.7L118.8 396.0M117.9 406.0L117.2 401.8M117.2 401.8L117.3 401.5M116.6 391.4L113.5 393.9M113.5 393.9L113.4 394.2M114.2 395.5L117.5 396.5M64.7 388.7L63.4 384.8M62.5 384.8L63.4 384.8M67.5 385.4L63.9 384.6M67.5 385.4L67.8 388.7M73.3 379.6L71.9 383.8M72.6 379.0L72.3 379.1M72.3 379.1L69.0 382.1M69.0 382.1L69.3 383.6M71.9 383.8L69.7 383.8M74.8 384.6L71.9 383.8M69.2 377.7L72.3 379.1M67.2 378.8L67.2 380.6M67.2 380.6L69.0 382.1M67.5 385.4L69.3 383.6M67.2 380.6L65.1 381.3M65.1 381.3L63.9 384.6M71.5 387.1L74.7 387.1M71.5 387.1L69.7 383.8M74.7 387.1L75.4 386.8M67.8 388.7L69.0 389.6M69.0 389.6L71.5 387.1M75.2 367.7L73.4 370.9M75.2 367.7L78.8 372.4M78.8 372.4L78.6 373.5M80.2 370.0L78.8 372.4M71.4 371.4L73.4 370.9M114.2 395.5L113.3 398.7M112.6 394.3L113.4 394.2M110.1 397.3L111.9 399.1M111.9 399.1L113.3 398.7M117.2 401.8L114.1 403.3M113.5 402.8L113.7 399.1M100.5 397.4L104.7 398.8M101.9 393.8L101.4 394.0M101.9 393.8L105.4 398.3M104.7 398.8L105.4 398.3M103.1 392.7L101.9 393.8M103.1 392.7L105.8 398.1M105.4 398.3L105.8 398.1M107.2 394.1L105.9 398.1M110.1 397.3L106.6 398.4M106.5 391.9L104.0 391.7M107.3 392.7L107.2 392.5M103.1 392.7L104.0 391.7M105.8 398.1L105.9 398.1M89.3 398.3L85.6 401.9M83.7 401.0L85.4 402.0M85.6 401.9L85.4 402.0M90.2 401.1L88.9 403.9M89.4 404.6L92.0 403.7M92.0 403.7L92.3 403.0M89.7 398.7L90.2 401.1M89.7 398.7L92.4 399.8M92.7 402.6L92.4 399.8M89.4 398.3L89.7 398.7M85.6 401.9L88.9 403.9M89.1 406.8L89.4 404.6M89.1 406.8L85.4 406.3M85.4 406.3L84.8 405.2M84.8 405.2L85.4 402.0M99.0 393.0L98.4 391.1M99.0 393.0L97.3 395.0M98.4 391.1L94.8 392.4M106.9 387.7L103.2 387.7M104.9 383.8L102.7 384.8M102.0 384.6L102.7 384.8M93.3 395.3L97.1 396.1M95.5 399.4L94.7 399.2M90.7 395.7L92.6 395.7M94.7 392.4L93.3 395.3M92.4 399.8L94.7 399.2M97.3 395.0L97.1 396.1M99.5 397.8L100.5 397.4M99.0 393.0L101.4 394.0M87.9 420.4L89.3 420.9M87.9 420.4L89.0 416.4M89.0 416.4L89.4 416.3M92.8 419.4L92.8 419.6M89.3 420.9L92.8 419.6M92.7 418.2L89.4 416.3M95.5 399.4L96.1 401.9M99.8 401.9L96.1 401.9M96.1 401.9L95.9 402.2M103.7 309.1L104.3 308.8M104.3 308.8L104.9 304.2M104.9 304.2L107.5 304.5M109.8 304.2L107.7 304.7M107.5 304.5L107.7 304.7M141.3 323.0L138.9 322.0M138.0 326.5L137.2 325.8M125.1 310.4L126.1 311.6M123.1 314.8L125.5 313.2M126.1 311.6L125.5 313.2M129.0 307.7L128.8 311.5M124.3 317.4L127.7 316.9M125.5 313.2L127.7 316.9M109.7 350.9L108.0 351.3M105.3 349.4L108.0 351.3M96.5 353.1L100.0 353.7M96.5 353.1L94.8 355.3M94.8 355.3L94.7 355.9M99.7 355.0L100.0 353.7M105.3 349.4L103.8 353.3M104.4 348.7L99.7 351.1M99.7 351.1L100.3 353.3M112.7 363.0L109.2 363.1M124.8 362.1L124.8 361.4M124.8 362.1L126.1 362.8M124.8 361.4L128.0 359.2M129.7 361.2L128.0 359.2M123.3 363.6L124.8 362.1M123.9 359.9L124.8 361.4M136.1 369.1L135.8 367.6M138.0 364.6L135.8 367.6M140.4 362.1L139.0 362.0M146.4 357.4L145.9 355.4M147.9 353.2L145.9 355.1M145.9 355.4L145.9 355.1M145.0 360.1L141.9 358.5M139.0 362.0L139.0 361.9M139.0 361.9L139.6 360.2M139.6 360.2L141.9 358.5M142.1 356.1L145.9 355.4M142.1 356.1L141.7 357.9M141.9 358.5L141.7 357.9M135.4 349.8L136.3 352.7M138.9 353.0L136.3 352.7M139.0 361.9L135.1 359.0M135.1 359.0L135.9 357.7M135.9 357.7L137.7 357.1M141.7 357.9L138.3 356.5M137.7 357.1L138.3 356.5M127.8 368.0L127.9 369.3M127.8 368.0L128.0 367.7M128.0 367.7L132.0 367.4M135.8 367.6L133.0 366.3M132.0 367.4L133.0 366.3M127.8 368.0L125.3 367.5M126.1 362.8L128.2 365.4M128.2 365.4L128.0 367.7M125.3 367.5L124.2 366.8M119.4 366.3L121.1 368.8M124.2 366.8L121.1 368.8M118.2 370.7L121.0 369.6M121.1 368.8L121.0 369.6M121.4 374.4L124.7 374.2M121.4 374.4L120.7 373.3M120.7 373.3L122.1 370.8M124.1 371.9L124.7 374.2M124.1 371.9L122.8 371.0M122.8 371.0L122.1 370.8M118.5 373.1L120.7 373.3M121.0 369.6L122.1 370.8M125.3 367.5L122.8 371.0M108.4 370.4L107.6 372.7M109.6 373.8L111.5 371.3M109.8 374.4L109.6 373.8M107.1 372.8L107.6 372.7M105.6 365.5L104.7 366.2M104.7 366.2L104.5 367.8M104.5 367.8L105.0 369.1M108.4 370.4L106.5 368.9M108.9 364.1L106.2 364.2M106.2 364.2L105.6 365.5M101.5 364.6L104.7 366.2M104.0 371.2L105.0 369.1M114.9 388.3L113.5 385.7M114.9 388.3L112.1 390.7M111.1 390.3L110.9 389.6M116.0 388.9L114.9 388.3M113.4 385.4L113.5 385.7M113.5 393.9L112.1 390.7M108.9 387.3L110.9 389.6M107.2 392.5L111.1 390.3M107.4 388.0L106.5 391.9M124.3 349.9L124.7 350.3M120.4 355.1L124.6 352.7M124.7 350.3L124.6 352.7M129.1 346.4L127.6 349.8M127.6 349.8L128.9 350.6M128.2 365.4L130.7 363.0M130.0 361.4L130.7 363.0M91.7 351.2L92.1 356.2M91.7 351.2L89.2 351.8M89.2 351.8L88.5 352.3M88.5 352.3L91.7 356.4M86.4 353.9L87.1 352.9M90.0 357.7L91.7 356.4M87.1 352.9L88.5 352.3M93.6 356.3L92.1 356.2M73.6 346.5L74.0 346.1M73.6 346.5L68.6 344.6M72.5 348.1L73.6 346.5M76.7 347.8L75.0 346.1M75.0 346.1L74.0 346.1M70.0 338.1L71.3 338.3M70.0 338.1L69.1 336.1M69.1 336.1L69.5 335.1M73.4 334.6L74.3 335.3M69.0 339.6L70.0 338.1M73.0 340.1L71.3 338.3M72.8 341.8L72.2 342.4M65.6 336.8L69.1 336.1M68.4 332.0L69.5 335.1M73.1 333.3L73.4 334.6M73.0 340.1L75.0 339.0M74.3 335.3L74.8 335.4M75.0 339.0L74.8 335.4M90.7 335.3L90.0 336.4M87.1 352.9L85.7 349.0M89.2 351.8L88.1 348.5M88.1 348.5L85.7 349.0M85.5 348.9L85.7 349.0M76.5 339.8L78.3 338.8M76.5 339.8L76.8 342.5M78.3 338.8L80.3 340.2M78.3 343.2L77.2 343.1M76.8 342.5L77.2 343.1M72.8 341.8L76.8 342.5M75.0 339.0L76.5 339.8M81.8 335.7L82.1 337.9M81.8 335.7L78.5 335.2M82.1 337.9L80.3 340.2M47.2 337.3L42.8 338.3M47.5 337.9L46.0 341.2M42.5 338.7L42.8 338.3M44.7 340.9L46.0 341.2M49.6 339.0L47.5 337.9M47.2 336.9L47.2 337.3M47.0 342.9L46.0 341.2M42.9 335.9L40.8 333.6M41.8 338.9L42.5 338.7M58.9 328.4L57.4 327.7M54.6 330.7L54.4 329.8M57.8 324.1L56.7 326.1M56.7 326.1L57.4 327.7M54.4 329.8L53.1 327.8M56.7 326.1L53.6 326.4M54.2 322.7L53.2 324.1M49.7 322.0L50.6 320.5M50.1 332.3L50.2 332.6M50.1 332.3L44.8 331.9M50.2 332.6L46.9 335.1M45.6 334.2L44.8 331.9M42.9 335.9L45.6 334.2M44.6 331.6L44.8 331.9M114.4 339.0L114.8 338.6M122.7 335.2L124.9 333.5M123.2 330.7L125.1 332.2M124.9 333.5L125.1 332.2M122.7 335.6L122.7 335.2M128.5 335.8L124.9 333.5M127.6 330.0L127.6 330.2M127.6 330.0L124.6 327.1M124.6 327.1L123.4 327.7M123.4 327.7L123.2 330.7M118.2 318.5L116.2 321.0M113.3 319.9L114.3 321.3M114.3 321.3L116.2 321.0M111.6 324.0L113.2 323.6M113.2 323.6L114.1 322.4M114.3 321.3L114.1 322.4M120.6 321.4L120.7 321.3M120.6 321.4L116.7 321.3M120.6 321.4L119.0 324.5M129.4 331.8L132.2 331.0M134.1 332.6L133.2 331.4M127.6 330.2L129.4 331.8M137.3 329.1L134.7 328.7M134.7 328.7L133.2 331.4M67.8 393.9L67.5 394.5M67.8 393.9L65.1 391.6M67.5 394.5L62.1 392.6M66.0 395.9L61.3 394.4M66.0 395.9L67.2 395.2M67.2 395.2L67.5 394.5M69.0 389.6L69.4 390.3M74.7 387.1L72.0 390.9M69.4 390.3L72.0 390.9M67.8 393.9L68.1 393.6M69.4 390.3L68.1 393.6M67.2 395.2L68.6 397.4M72.2 398.1L69.8 398.2M87.9 420.4L87.8 420.5M89.0 416.4L85.4 415.2M85.4 415.2L85.0 415.9M85.9 419.6L84.9 416.0M85.0 415.9L84.9 416.0M81.3 419.4L80.7 419.3M81.8 405.8L84.8 405.2M81.8 405.8L83.5 409.3M85.4 406.3L84.7 408.5M83.5 409.3L84.7 408.5M71.7 417.4L71.8 417.0M77.1 420.0L76.1 416.7M54.9 391.1L54.2 393.3M51.6 395.0L52.5 394.6M54.2 393.3L52.5 394.6M60.1 423.5L63.7 426.3M60.1 423.5L58.3 423.7M58.3 423.7L58.0 423.9M61.6 421.1L60.1 423.5M61.6 421.1L63.0 421.4M63.9 426.3L63.7 426.3M60.3 419.3L58.4 419.4M60.3 419.3L61.6 421.1M58.4 419.4L58.3 423.7M57.4 425.8L57.9 424.8M54.9 422.6L58.0 423.9M58.4 419.4L57.5 419.0M47.2 360.6L48.6 359.8M47.2 360.6L43.4 359.1M48.6 359.8L48.2 358.2M43.4 359.1L43.8 357.0M44.5 356.4L43.8 357.0M46.1 362.6L47.2 360.6M49.5 360.1L48.6 359.8M40.8 356.2L43.8 357.0M53.7 355.3L52.0 355.9M53.7 355.3L54.0 352.6M52.0 355.9L50.2 354.8M50.2 353.1L50.2 354.8M52.3 359.5L52.0 355.9M55.0 356.3L53.7 355.3M57.0 352.3L54.0 352.6M48.8 356.2L50.2 354.8M52.6 351.4L52.6 351.8M48.5 351.9L50.2 353.1M56.8 378.4L57.5 380.8M55.5 382.7L56.6 382.1M56.6 382.1L57.5 380.8M57.5 386.0L58.6 384.1M56.6 382.1L58.6 384.1M58.6 384.1L60.8 383.0M65.4 347.9L69.5 349.2M65.4 347.9L64.9 346.7M68.6 344.7L70.1 348.6M70.1 348.6L69.5 349.2M64.4 343.6L65.3 346.0M62.2 347.0L64.9 346.7M68.7 352.1L69.5 349.2M32.7 403.5L28.8 402.0M28.8 402.0L28.5 406.2M28.6 401.6L28.8 402.0M33.7 402.7L32.7 403.5M37.8 408.4L36.8 404.2M39.3 408.8L37.8 408.4M39.3 408.8L40.0 408.4M41.2 406.1L40.0 408.4M36.8 403.7L36.8 404.2M55.8 315.9L57.8 313.1M55.8 315.9L54.3 313.2M57.8 313.1L54.8 311.5M54.3 313.2L54.8 311.5M58.0 313.1L57.8 313.1M55.7 317.5L55.8 315.9M51.6 315.8L54.3 313.2M56.7 307.7L56.8 307.7M54.5 310.9L54.8 311.5M54.5 310.9L52.0 310.4M50.6 315.2L51.3 315.8M75.9 328.9L78.1 334.5M75.9 328.9L75.3 328.8M75.7 335.1L78.1 334.9M78.1 334.5L78.1 334.9M78.8 325.2L76.4 328.7M74.9 328.6L75.3 328.8M76.4 328.7L75.9 328.9M73.1 333.3L75.1 329.6M79.8 329.8L80.4 330.5M80.4 330.5L81.4 330.9M81.7 325.5L81.5 326.5M86.1 328.8L82.8 329.1M76.4 328.7L79.8 329.8M78.1 334.5L80.4 330.5M96.5 353.1L95.4 349.5M94.8 355.3L93.7 350.0M90.2 347.0L92.4 343.4M91.7 351.2L92.9 350.0M89.5 347.0L90.2 347.0M102.3 336.9L102.3 336.9M96.2 334.6L96.5 334.4M96.5 334.4L99.0 334.8M103.8 338.2L102.3 336.9M97.7 332.2L96.5 334.4M100.7 318.7L100.3 321.2M96.6 321.6L96.3 321.5M99.7 321.7L100.3 321.2M105.7 323.1L103.9 322.9M103.9 322.9L100.9 321.4M100.9 321.4L100.3 321.2M50.2 305.6L51.8 307.1M50.2 305.6L51.6 303.3M53.3 303.0L53.6 306.3M53.3 303.0L51.6 303.3M53.6 306.3L51.8 307.1M51.4 309.2L51.8 307.1M49.0 305.6L50.2 305.6M49.3 301.8L51.6 303.3M53.6 302.6L53.3 303.0M56.7 307.7L53.6 306.3M50.6 315.2L48.0 316.0M46.4 318.5L46.3 318.1M46.4 321.9L46.3 319.0M46.3 319.0L41.4 320.4M41.7 321.4L41.4 320.4M47.9 322.9L49.7 322.0M38.8 324.9L41.7 321.4M43.6 323.8L43.8 322.9M138.3 425.0L138.1 424.2M134.3 423.1L133.3 425.5M136.1 422.7L137.2 423.3M138.1 424.2L137.2 423.3M142.5 426.6L141.6 421.1M138.1 424.2L141.6 421.1M136.7 419.6L139.7 419.4M136.7 419.6L136.1 422.7M137.2 423.3L139.7 419.4M128.2 421.6L129.1 421.1M131.0 425.7L131.6 421.6M129.1 421.1L131.6 421.6M134.3 423.1L132.8 421.3M141.1 413.3L145.0 411.6M141.1 413.3L141.1 413.7M145.0 411.6L146.4 413.1M141.1 413.7L143.5 415.8M145.3 415.2L146.4 413.1M141.4 407.6L143.5 409.7M141.4 407.6L141.8 406.9M143.5 409.7L145.0 410.4M138.6 403.0L141.8 406.9M137.3 404.5L140.1 408.2M140.1 408.2L141.4 407.6M139.6 411.8L141.1 413.3M145.0 411.6L145.0 410.4M148.3 408.7L152.2 409.1M148.5 406.0L152.5 405.5M152.5 405.5L152.6 405.8M152.6 405.8L153.2 408.4M153.2 408.4L152.2 409.1M146.4 413.1L149.6 413.2M149.6 413.2L149.7 413.3M150.3 413.0L152.2 409.1M112.4 419.1L114.3 415.3M110.5 413.9L110.8 414.4M111.0 412.4L113.0 411.1M110.8 414.4L113.9 414.6M114.3 415.3L113.9 414.6M107.6 425.9L110.9 424.7M85.1 425.1L88.3 426.0M88.9 425.1L88.3 426.0M97.7 419.8L92.8 419.4M97.7 419.8L97.4 421.4M97.4 421.4L95.3 423.3M93.4 422.6L95.3 423.3M107.6 425.9L106.9 426.8M64.6 380.9L62.5 377.9M61.6 378.3L60.6 381.8M61.6 378.3L62.5 377.9M60.6 381.8L60.7 382.0M65.1 381.3L64.6 380.9M62.5 377.7L62.5 377.9M58.2 377.4L61.6 378.3M57.5 380.8L60.6 381.8M89.1 406.8L89.8 408.3M93.2 405.3L90.5 408.4M93.2 405.3L92.0 403.7M89.8 408.3L90.5 408.4M86.6 409.3L89.3 409.0M85.5 412.9L86.6 409.3M89.3 409.0L88.9 411.6M94.7 415.9L92.5 413.2M89.4 416.3L90.7 413.6M98.5 390.7L98.4 390.3M104.0 391.7L102.8 390.0M103.2 387.7L102.8 389.0M112.2 408.6L112.4 408.9M108.8 409.0L109.1 408.6M110.6 408.1L109.1 408.6M110.6 408.1L111.2 405.5M99.8 401.9L100.1 402.2M100.1 402.2L102.7 402.7M111.1 405.4L109.9 402.0M111.2 405.5L111.1 405.4M100.1 402.2L98.8 404.9M99.5 405.9L98.8 404.9M98.8 404.9L96.0 405.5M95.6 406.2L96.0 405.5M98.0 419.3L97.7 419.8M98.0 419.3L97.4 418.0M94.7 415.9L95.3 415.8M97.4 418.0L95.3 415.8M97.7 413.1L95.3 415.8M97.7 413.1L97.4 412.5M88.9 411.6L90.7 413.6M105.2 308.7L107.3 307.3M110.1 309.2L109.8 311.1M109.8 311.1L108.5 311.4M104.3 308.8L105.2 308.7M107.7 304.7L107.3 307.3M111.1 312.3L109.8 311.1M127.6 330.0L129.0 328.3M132.2 331.0L131.5 328.1M131.5 328.1L129.0 328.3M125.5 324.9L128.7 325.0M125.5 324.9L124.6 327.1M129.0 328.3L128.7 325.0M133.7 326.7L133.7 326.7M133.7 326.7L132.6 323.2M133.7 326.7L132.1 327.2M132.1 327.2L129.7 324.5M132.6 323.2L131.9 323.3M131.9 323.3L129.7 324.4M137.2 325.8L136.3 325.4M136.3 325.4L133.7 326.7M134.7 328.7L133.7 326.7M133.3 322.5L132.6 323.2M136.3 325.4L135.2 322.4M131.5 328.1L132.1 327.2M128.7 325.0L129.7 324.5M128.2 320.0L129.7 324.4M124.6 322.7L124.5 321.9M124.6 322.7L125.5 324.9M136.7 321.0L137.5 320.7M136.7 321.0L133.8 318.7M133.8 318.7L134.5 317.7M134.5 317.7L137.6 318.9M137.5 320.7L137.9 319.6M135.2 322.4L136.7 321.0M138.9 322.0L137.5 320.7M132.1 319.0L133.3 322.5M132.1 319.0L133.8 318.7M137.1 315.7L135.5 315.0M137.1 315.7L137.6 318.9M140.8 318.3L137.9 319.6M135.0 312.0L134.9 312.4M135.5 315.0L135.2 314.7M134.9 312.4L135.2 314.7M131.6 312.6L129.5 311.6M128.4 317.3L129.0 318.9M129.1 318.9L129.0 318.9M129.1 318.9L131.8 318.9M131.8 318.9L132.7 315.6M132.7 315.6L131.4 315.1M127.7 316.9L128.4 317.3M129.1 311.6L129.4 315.8M124.2 321.7L124.5 321.9M128.2 320.0L129.0 318.9M131.9 323.3L129.1 318.9M132.1 319.0L131.8 318.9M131.6 312.6L131.4 315.1M135.2 314.7L132.7 315.6M78.6 373.5L83.4 373.8M87.4 377.0L86.3 376.5M87.4 377.0L90.1 376.9M86.3 376.5L86.0 375.1M86.2 379.9L87.4 377.0M83.0 378.3L86.3 376.5M90.4 377.3L90.1 376.9M83.6 373.7L86.0 375.1M107.5 359.9L109.0 359.8M109.0 359.8L110.3 358.8M110.4 358.1L110.3 358.8M109.2 363.1L109.0 359.8M112.3 359.9L110.3 358.8M140.2 353.7L141.1 354.1M140.2 353.7L143.9 350.3M141.1 354.1L144.1 353.4M143.9 350.3L144.1 353.4M142.1 356.1L141.1 354.1M139.2 353.4L138.3 356.5M139.2 353.4L140.2 353.7M144.0 349.8L143.9 350.3M138.9 353.0L139.2 353.4M145.9 355.1L144.1 353.4M133.1 354.8L134.4 355.1M133.1 354.8L132.3 352.6M132.9 351.6L132.3 352.6M130.6 356.5L132.3 358.8M135.9 357.7L134.4 355.1M132.9 349.7L132.9 351.6M129.7 352.8L128.9 350.6M129.7 352.8L132.3 352.6M125.1 374.6L127.1 374.4M128.4 377.5L128.1 375.1M128.1 375.1L127.1 374.4M123.9 378.4L124.1 378.1M124.7 374.2L125.1 374.6M128.5 370.5L127.1 374.4M130.6 374.7L128.1 375.1M130.0 356.4L129.5 353.4M128.2 357.3L125.9 356.2M125.9 356.2L125.5 354.0M130.6 356.5L130.0 356.4M128.0 359.2L128.2 357.3M132.3 358.8L130.0 361.4M124.6 352.7L125.5 354.0M123.4 358.1L125.9 356.2M133.0 365.9L131.3 363.2M133.0 365.9L135.6 363.7M131.3 363.2L134.3 361.8M135.6 363.7L134.3 361.8M133.0 366.3L133.0 365.9M130.7 363.0L131.3 363.2M82.8 344.4L80.6 341.4M82.8 344.4L84.2 341.0M82.4 346.7L83.0 345.7M83.0 345.7L82.8 344.4M80.5 341.3L80.6 341.4M90.0 336.4L90.4 337.7M91.6 339.5L90.4 337.7M86.7 337.1L85.9 339.2M90.4 337.7L88.3 340.3M85.9 339.2L88.3 340.3M82.1 337.9L85.1 339.9M84.9 340.5L85.1 339.9M91.1 342.1L89.4 342.2M91.1 342.1L91.6 339.5M49.2 330.4L48.1 326.1M49.2 330.4L49.5 330.7M48.1 326.1L48.3 325.9M53.1 327.8L51.9 327.9M52.6 324.1L48.6 325.9M47.0 326.6L48.1 326.1M45.8 330.0L49.2 330.4M47.9 322.9L48.3 325.9M118.4 338.4L118.6 334.2M114.8 338.6L114.7 334.9M118.6 334.2L114.7 334.9M112.8 333.6L114.1 333.6M114.1 333.6L114.7 334.9M122.0 327.5L120.0 329.4M122.0 327.5L120.2 325.4M120.0 329.4L116.8 327.2M120.2 325.4L119.0 324.9M119.0 324.9L117.6 325.7M116.8 327.2L117.6 325.7M123.4 327.7L122.0 327.5M120.7 331.8L120.0 330.8M120.0 330.8L120.0 329.4M124.6 322.7L120.2 325.4M119.0 324.5L119.0 324.9M114.1 322.4L117.6 325.7M45.6 405.9L44.7 409.3M49.0 407.2L48.8 409.9M48.8 409.9L47.8 410.7M47.8 410.7L44.7 409.3M44.2 409.6L43.4 413.1M49.9 402.8L53.1 405.5M49.0 407.2L51.5 407.0M80.7 419.3L80.0 416.8M76.1 416.7L76.3 416.4M76.3 416.4L80.0 416.8M85.0 415.9L80.2 415.8M71.8 417.0L71.7 416.5M71.7 416.5L69.5 414.4M69.5 414.4L68.7 414.4M68.7 414.4L65.1 417.4M62.6 415.9L60.3 419.3M62.6 415.9L62.9 415.9M59.2 401.4L56.6 400.2M59.2 401.4L56.9 405.3M55.0 404.8L56.9 405.3M55.0 404.8L54.9 403.4M56.6 400.2L54.9 403.4M56.9 405.3L57.5 405.8M60.3 406.6L57.5 405.8M60.3 406.6L60.9 406.2M57.1 395.4L56.3 398.3M57.1 395.4L59.4 394.9M60.9 394.9L61.2 398.1M54.2 393.3L57.1 395.4M52.5 394.6L56.1 398.5M56.4 391.1L59.4 394.9M59.7 401.2L61.1 398.1M56.0 398.8L56.6 400.2M64.2 399.3L61.2 398.1M47.8 410.7L47.9 411.9M47.9 411.9L47.9 411.9M47.9 411.9L49.2 415.5M39.7 417.0L44.7 416.2M46.7 420.6L45.1 418.8M44.8 418.5L45.1 418.8M44.7 416.2L44.9 415.8M49.9 419.6L49.4 417.6M53.8 416.8L49.6 416.1M49.4 417.6L49.6 416.1M49.4 420.3L49.9 419.6M54.1 421.8L52.8 419.7M49.2 415.5L49.2 415.5M92.4 343.4L91.1 342.1M96.6 321.6L95.9 325.5M95.9 325.5L92.4 326.2M99.6 328.7L99.8 325.3M99.8 325.3L100.3 324.7M99.5 328.9L97.0 328.6M96.7 326.5L97.0 328.6M96.7 326.5L99.8 325.3M99.7 321.7L100.3 324.7M95.9 325.5L96.7 326.5M126.2 418.7L128.3 416.8M129.1 421.1L130.5 417.3M130.5 417.3L128.3 416.8M129.2 412.2L129.6 412.7M127.4 415.2L129.6 412.7M136.0 416.2L134.6 415.7M136.0 416.2L136.4 419.4M134.6 415.7L132.0 416.5M136.4 419.4L133.3 419.4M132.0 416.5L131.9 416.7M136.7 419.6L136.4 419.4M139.7 419.4L140.4 419.2M137.0 415.8L139.4 416.7M139.4 416.7L140.4 419.2M132.8 421.3L133.3 419.4M130.5 417.3L131.9 416.7M130.8 413.1L132.0 416.5M137.0 415.8L138.2 411.8M134.6 415.7L134.9 413.8M134.9 413.8L138.2 411.8M139.6 411.8L138.7 411.2M140.1 408.2L138.5 410.8M138.5 410.8L138.7 411.2M141.1 413.7L139.4 416.7M140.4 419.2L141.4 419.7M146.1 424.0L145.6 422.1M141.7 420.7L145.6 422.1M143.5 415.8L142.8 418.4M141.4 419.7L142.8 418.4M152.7 417.4L151.0 416.6M153.2 418.3L152.7 417.4M91.6 423.8L90.8 423.8M90.8 423.8L89.5 424.9M93.4 422.6L91.6 423.8M89.3 420.9L90.8 423.8M88.9 425.1L89.5 424.9M103.0 423.0L103.1 425.0M103.0 423.0L99.3 423.2M99.3 423.2L98.2 425.9M103.2 422.6L103.0 423.0M98.0 419.3L99.1 419.1M97.4 421.4L99.3 423.2M95.8 425.2L98.2 425.9M97.7 413.1L99.1 413.5M97.4 418.0L99.5 414.2M110.5 413.9L107.4 413.4M85.2 341.0L88.3 343.0M85.2 341.0L85.4 344.7M85.4 344.7L87.2 344.8M84.9 340.5L85.2 341.0M89.4 342.2L88.3 343.0M83.0 345.7L85.4 344.7M89.5 347.0L87.5 344.8M117.8 330.9L117.0 332.0M117.0 332.0L114.7 332.3M114.7 332.3L114.0 328.5M115.9 327.8L114.3 328.2M114.0 328.5L114.3 328.2M120.0 330.8L117.8 330.9M118.7 334.1L117.0 332.0M111.4 328.6L114.0 328.5M113.2 323.6L114.3 328.2M55.0 404.8L54.0 405.4M54.0 405.4L54.4 409.4M57.5 405.8L56.5 409.7M54.4 409.4L56.5 409.7M64.1 402.7L65.2 405.7M60.9 406.2L64.5 407.4M64.5 407.4L65.2 405.7M66.7 412.8L66.0 409.6M63.9 410.6L65.7 409.5M68.7 414.4L66.7 412.8M70.2 412.2L69.5 414.4M70.2 412.2L67.8 409.0M67.8 409.0L66.0 409.6M67.8 409.0L67.8 409.0M71.7 416.5L74.8 412.1M53.1 401.1L55.8 398.9M54.9 403.4L53.1 401.1M53.1 405.5L54.0 405.4M96.8 330.8L96.3 329.4M96.8 330.8L94.6 333.1M96.3 329.4L93.3 329.9M93.1 330.4L93.3 329.9M97.7 332.2L96.8 330.8M97.0 328.6L96.3 329.4M95.0 334.4L94.6 333.1M92.3 327.5L93.3 329.9M90.6 332.0L93.1 330.4M132.0 412.1L134.6 413.4M132.0 412.1L133.8 408.9M134.6 413.4L135.0 409.2M133.8 408.9L134.4 408.7M134.4 408.7L135.0 409.2M130.8 413.1L132.0 412.1M134.9 413.8L134.6 413.4M132.0 408.3L133.8 408.9M146.9 417.5L149.7 413.3M146.9 417.5L147.1 418.6M147.1 418.6L147.8 419.3M147.8 419.3L148.7 419.4M148.7 419.4L150.6 416.4M145.3 415.2L146.9 417.5M149.7 413.3L149.7 413.3M99.1 419.1L100.2 418.1M51.5 407.0L52.0 410.6M54.4 409.4L53.3 410.4M53.3 410.4L52.0 410.6M48.8 409.9L52.0 410.6M52.0 410.6L52.0 410.6M47.9 411.9L51.6 412.5M52.0 410.6L51.6 412.5M49.2 415.5L51.7 412.8M60.3 406.6L60.4 409.4M56.5 409.7L57.0 410.4M57.0 410.4L60.4 409.4M63.9 410.6L61.0 410.3M61.0 410.3L60.4 409.4M80.7 413.8L82.3 410.4M80.7 413.8L85.2 414.7M85.2 414.7L85.5 413.0M85.5 413.0L82.9 410.2M82.9 410.2L82.3 410.4M80.0 414.2L80.7 413.8M80.5 409.7L82.3 410.4M85.4 415.2L85.2 414.7M85.5 412.9L85.5 413.0M104.6 418.5L104.6 418.7M104.6 418.5L107.8 416.6M107.8 416.6L110.3 417.5M104.6 418.8L104.6 418.7M110.3 417.5L110.7 418.6M100.2 418.1L104.6 418.7M110.8 414.4L110.3 417.5M53.3 410.4L55.8 413.0M55.8 413.0L54.6 414.8M57.0 410.4L56.9 412.3M57.5 419.0L56.6 417.1M56.6 417.1L54.7 416.1M60.1 412.9L58.2 412.9M58.2 412.9L58.0 416.0M61.8 415.4L58.0 416.0M61.0 410.3L60.1 412.9M56.9 412.3L58.2 412.9M62.6 415.9L61.8 415.4M56.6 417.1L58.0 416.0" stroke="#e3aed3" stroke-width="0.85" fill="none" stroke-linecap="round"/><path d="M26.2 426.7h0.4M26.8 304.8h0.4M26.5 305.7h0.4M25.1 346.6h0.4M28.8 423.4h0.4M27.5 419.0h0.4M31.5 424.9h0.4M29.7 423.5h0.4M27.3 361.7h0.4M25.9 358.6h0.4M26.7 352.4h0.4M26.4 348.7h0.4M152.4 334.7h0.4M91.0 302.7h0.4M152.4 315.6h0.4M25.2 371.6h0.4M65.2 303.0h0.4M27.3 305.1h0.4M26.2 319.4h0.4M145.5 344.9h0.4M139.1 342.2h0.4M147.7 340.2h0.4M145.5 345.6h0.4M148.9 353.9h0.4M152.2 398.9h0.4M153.0 364.7h0.4M151.5 366.6h0.4M82.5 305.5h0.4M83.7 305.3h0.4M131.6 346.3h0.4M132.5 346.5h0.4M135.6 342.5h0.4M152.1 319.2h0.4M150.9 318.2h0.4M149.4 318.7h0.4M151.9 317.9h0.4M147.7 317.6h0.4M146.1 320.1h0.4M151.2 308.4h0.4M133.3 308.4h0.4M131.9 307.5h0.4M36.1 424.2h0.4M47.4 425.8h0.4M47.4 424.0h0.4M38.4 366.5h0.4M40.5 365.5h0.4M30.6 362.9h0.4M32.5 359.7h0.4M33.5 363.9h0.4M28.6 362.6h0.4M29.9 359.2h0.4M41.0 368.1h0.4M40.3 375.7h0.4M36.7 373.4h0.4M36.2 367.4h0.4M35.8 370.8h0.4M28.5 366.9h0.4M29.5 367.5h0.4M36.5 373.7h0.4M30.4 372.6h0.4M63.6 303.3h0.4M99.1 302.8h0.4M27.5 342.9h0.4M29.5 311.0h0.4M31.3 306.9h0.4M32.1 315.1h0.4M33.3 324.1h0.4M32.0 325.5h0.4M28.1 324.1h0.4M28.9 328.1h0.4M152.3 333.6h0.4M151.5 349.5h0.4M153.7 345.0h0.4M152.8 377.0h0.4M141.6 426.9h0.4M150.2 370.9h0.4M149.4 312.8h0.4M149.6 311.1h0.4M148.6 317.0h0.4M145.0 317.3h0.4M144.7 316.3h0.4M142.9 310.4h0.4M140.4 315.1h0.4M139.4 311.9h0.4M143.4 318.1h0.4M99.5 365.4h0.4M108.2 346.7h0.4M106.2 345.1h0.4M106.4 348.4h0.4M104.7 348.9h0.4M124.2 379.7h0.4M123.4 383.2h0.4M123.3 343.5h0.4M123.2 345.0h0.4M125.4 346.6h0.4M122.5 345.5h0.4M131.3 343.3h0.4M127.3 343.6h0.4M135.8 349.9h0.4M141.2 348.9h0.4M139.7 350.3h0.4M124.8 340.2h0.4M147.6 339.1h0.4M134.7 340.7h0.4M138.8 338.8h0.4M141.0 336.5h0.4M121.6 303.8h0.4M142.3 320.0h0.4M39.5 421.0h0.4M40.8 423.8h0.4M81.9 425.3h0.4M81.3 425.3h0.4M79.0 426.0h0.4M69.6 426.9h0.4M78.1 423.1h0.4M36.8 359.7h0.4M42.3 370.9h0.4M44.0 375.1h0.4M48.7 348.8h0.4M51.6 347.2h0.4M50.1 348.5h0.4M68.9 353.9h0.4M70.6 359.8h0.4M60.9 348.0h0.4M42.0 396.3h0.4M29.2 358.5h0.4M32.6 357.1h0.4M38.1 358.3h0.4M30.2 354.1h0.4M29.3 356.1h0.4M40.1 387.9h0.4M36.4 390.7h0.4M34.1 394.9h0.4M41.1 385.5h0.4M37.6 386.9h0.4M25.6 373.2h0.4M29.3 376.2h0.4M25.5 394.1h0.4M25.3 393.6h0.4M66.0 327.1h0.4M74.4 304.3h0.4M74.9 308.1h0.4M72.4 303.9h0.4M73.9 304.2h0.4M83.1 307.5h0.4M96.4 310.6h0.4M93.2 314.5h0.4M97.5 313.1h0.4M97.3 315.1h0.4M107.1 335.6h0.4M35.2 304.2h0.4M36.7 309.0h0.4M38.1 307.9h0.4M27.5 333.5h0.4M27.3 340.9h0.4M148.5 357.4h0.4M152.0 359.7h0.4M151.7 357.7h0.4M146.2 392.7h0.4M142.9 395.7h0.4M142.8 392.2h0.4M141.5 366.0h0.4M139.3 369.5h0.4M136.6 395.4h0.4M134.7 395.3h0.4M144.8 397.4h0.4M137.0 399.3h0.4M134.9 401.6h0.4M146.0 424.6h0.4M147.3 364.2h0.4M145.4 362.1h0.4M143.4 366.7h0.4M122.6 396.1h0.4M121.3 397.3h0.4M124.4 398.2h0.4M128.0 397.6h0.4M128.6 396.6h0.4M61.3 369.2h0.4M63.8 356.7h0.4M62.1 373.3h0.4M59.7 374.1h0.4M57.6 371.4h0.4M59.0 367.9h0.4M82.0 311.9h0.4M99.4 302.9h0.4M97.0 307.9h0.4M94.0 367.3h0.4M97.2 367.1h0.4M94.0 364.1h0.4M97.8 370.6h0.4M97.9 366.4h0.4M96.6 362.4h0.4M94.0 360.7h0.4M79.9 366.5h0.4M82.7 366.0h0.4M103.2 371.1h0.4M119.9 387.6h0.4M119.7 388.9h0.4M121.0 386.5h0.4M108.9 384.0h0.4M118.5 345.2h0.4M122.7 342.3h0.4M145.2 349.2h0.4M72.2 348.3h0.4M69.6 353.3h0.4M82.1 354.9h0.4M81.5 351.5h0.4M82.1 350.2h0.4M73.1 318.2h0.4M140.5 336.4h0.4M134.3 339.1h0.4M151.5 331.9h0.4M149.7 330.5h0.4M148.9 329.1h0.4M126.0 308.2h0.4M124.8 306.3h0.4M123.2 309.5h0.4M117.2 309.4h0.4M114.9 308.4h0.4M119.0 304.1h0.4M119.4 308.5h0.4M124.0 304.1h0.4M128.8 307.6h0.4M29.1 417.4h0.4M34.7 422.5h0.4M37.5 419.2h0.4M38.7 416.4h0.4M34.4 419.4h0.4M54.9 390.1h0.4M54.9 391.0h0.4M72.9 423.2h0.4M71.9 423.0h0.4M45.8 376.1h0.4M45.5 353.5h0.4M39.2 354.9h0.4M42.3 367.9h0.4M43.9 369.7h0.4M58.0 353.4h0.4M45.4 384.3h0.4M50.8 382.3h0.4M47.4 379.7h0.4M52.3 379.1h0.4M53.5 387.1h0.4M52.7 385.1h0.4M43.5 346.7h0.4M40.8 349.7h0.4M44.4 348.4h0.4M48.5 349.3h0.4M47.0 345.0h0.4M27.3 399.0h0.4M29.9 395.9h0.4M33.8 355.2h0.4M35.2 354.2h0.4M36.6 351.4h0.4M34.0 355.5h0.4M29.7 388.8h0.4M31.2 389.4h0.4M36.4 386.6h0.4M32.9 389.8h0.4M31.5 377.3h0.4M26.7 388.2h0.4M68.4 309.0h0.4M70.4 308.1h0.4M69.5 311.8h0.4M68.1 309.9h0.4M67.8 313.7h0.4M71.3 321.5h0.4M71.6 321.5h0.4M67.7 314.7h0.4M64.8 323.4h0.4M71.1 323.5h0.4M71.4 322.4h0.4M64.3 317.5h0.4M65.2 317.8h0.4M61.0 319.3h0.4M54.0 302.8h0.4M63.6 306.9h0.4M62.6 309.8h0.4M65.2 307.7h0.4M64.7 310.5h0.4M65.6 308.2h0.4M71.9 328.0h0.4M67.5 327.8h0.4M80.5 320.9h0.4M84.7 325.0h0.4M87.8 327.6h0.4M87.2 328.1h0.4M83.4 325.5h0.4M88.3 305.8h0.4M85.9 303.6h0.4M87.1 312.2h0.4M86.1 314.2h0.4M111.2 315.0h0.4M112.8 320.0h0.4M109.1 315.3h0.4M110.7 315.0h0.4M113.6 318.4h0.4M104.5 348.7h0.4M107.9 323.7h0.4M107.8 324.9h0.4M111.0 325.3h0.4M107.7 323.4h0.4M105.0 314.2h0.4M104.7 317.4h0.4M38.5 349.1h0.4M30.4 343.6h0.4M31.8 342.2h0.4M35.1 346.9h0.4M29.8 348.6h0.4M35.7 344.4h0.4M33.8 341.2h0.4M40.9 303.6h0.4M35.7 341.3h0.4M29.9 331.1h0.4M39.5 333.2h0.4M31.6 328.7h0.4M32.2 332.0h0.4M40.4 334.3h0.4M26.7 338.3h0.4M136.5 392.0h0.4M138.1 393.2h0.4M141.2 389.3h0.4M135.4 391.2h0.4M137.5 387.8h0.4M142.8 391.5h0.4M151.8 384.1h0.4M149.6 372.4h0.4M149.8 377.6h0.4M149.6 373.5h0.4M145.5 374.3h0.4M149.5 377.6h0.4M147.8 369.3h0.4M141.6 366.0h0.4M144.2 367.3h0.4M142.0 370.2h0.4M139.8 377.2h0.4M138.7 373.2h0.4M141.9 374.1h0.4M141.4 376.1h0.4M135.8 377.9h0.4M138.8 369.5h0.4M138.6 371.8h0.4M141.9 372.9h0.4M144.0 374.1h0.4M149.4 394.3h0.4M151.3 392.1h0.4M121.5 425.0h0.4M121.3 423.4h0.4M119.1 423.1h0.4M147.3 395.8h0.4M145.0 398.3h0.4M144.6 401.3h0.4M127.2 403.4h0.4M133.0 395.8h0.4M133.7 394.2h0.4M130.2 394.5h0.4M132.6 396.4h0.4M64.0 360.7h0.4M63.6 360.6h0.4M69.4 360.4h0.4M61.7 375.2h0.4M66.6 378.0h0.4M57.6 377.8h0.4M54.7 363.9h0.4M54.6 362.9h0.4M58.6 365.5h0.4M52.9 366.7h0.4M56.9 359.8h0.4M78.9 385.1h0.4M78.1 367.5h0.4M90.3 393.5h0.4M81.9 394.6h0.4M82.0 388.2h0.4M84.0 384.0h0.4M77.7 389.1h0.4M86.3 384.0h0.4M88.9 381.9h0.4M87.5 382.3h0.4M110.4 304.5h0.4M123.7 318.5h0.4M97.1 375.5h0.4M92.9 377.5h0.4M96.1 374.1h0.4M94.9 373.5h0.4M90.8 364.1h0.4M92.8 367.6h0.4M87.9 381.2h0.4M145.0 360.1h0.4M133.5 371.2h0.4M119.2 366.3h0.4M119.6 362.5h0.4M122.0 365.1h0.4M117.1 365.8h0.4M120.2 354.8h0.4M122.1 357.6h0.4M102.8 378.9h0.4M107.4 379.2h0.4M105.4 372.5h0.4M106.8 375.4h0.4M101.4 376.4h0.4M104.7 380.6h0.4M109.0 383.3h0.4M113.5 382.0h0.4M111.6 377.3h0.4M114.0 381.9h0.4M111.3 377.2h0.4M110.0 381.4h0.4M109.9 376.6h0.4M117.2 376.3h0.4M118.3 383.2h0.4M116.0 381.2h0.4M118.3 379.0h0.4M123.9 378.4h0.4M116.6 389.6h0.4M116.0 388.9h0.4M132.3 348.4h0.4M85.8 355.6h0.4M86.3 353.9h0.4M86.3 354.7h0.4M76.7 319.5h0.4M75.4 316.7h0.4M74.0 315.7h0.4M77.6 322.1h0.4M62.0 339.2h0.4M55.4 331.5h0.4M64.9 337.8h0.4M79.3 344.7h0.4M76.9 348.1h0.4M82.5 347.1h0.4M47.0 342.9h0.4M50.8 333.3h0.4M53.4 331.3h0.4M121.5 337.1h0.4M141.6 327.9h0.4M138.0 326.6h0.4M142.1 325.8h0.4M141.1 331.0h0.4M46.8 404.9h0.4M89.4 398.3h0.4M90.5 395.3h0.4M88.9 398.2h0.4M83.0 420.9h0.4M87.3 420.3h0.4M86.6 422.2h0.4M79.7 420.1h0.4M50.5 393.2h0.4M49.8 425.5h0.4M49.8 421.6h0.4M53.6 426.5h0.4M66.9 420.7h0.4M66.8 421.1h0.4M71.5 417.4h0.4M64.1 424.0h0.4M34.3 378.9h0.4M33.4 377.3h0.4M44.5 370.3h0.4M46.8 365.5h0.4M45.6 362.7h0.4M46.2 362.7h0.4M49.6 349.3h0.4M57.1 351.8h0.4M57.1 351.1h0.4M54.2 360.5h0.4M54.6 357.2h0.4M51.8 359.6h0.4M53.0 381.3h0.4M56.9 378.3h0.4M55.4 384.1h0.4M55.0 391.0h0.4M65.2 339.2h0.4M62.4 342.2h0.4M65.5 340.0h0.4M65.5 342.2h0.4M69.3 342.9h0.4M36.3 402.8h0.4M32.9 401.1h0.4M35.3 402.7h0.4M33.1 381.9h0.4M31.1 385.5h0.4M37.1 385.0h0.4M34.4 380.4h0.4M26.1 387.9h0.4M25.1 380.3h0.4M25.2 383.0h0.4M58.4 320.6h0.4M60.1 315.7h0.4M77.6 323.0h0.4M72.7 328.5h0.4M60.8 325.6h0.4M64.7 326.8h0.4M58.8 329.5h0.4M120.6 321.1h0.4M93.7 356.6h0.4M97.1 356.7h0.4M96.8 336.3h0.4M111.2 329.0h0.4M111.2 328.4h0.4M106.3 318.7h0.4M109.8 321.4h0.4M91.7 319.5h0.4M95.1 321.4h0.4M101.6 318.3h0.4M100.5 316.6h0.4M44.6 304.8h0.4M52.0 310.5h0.4M48.7 308.7h0.4M47.7 311.2h0.4M54.1 322.4h0.4M55.8 322.6h0.4M55.6 317.5h0.4M44.1 330.1h0.4M46.4 328.2h0.4M45.8 330.0h0.4M33.5 338.9h0.4M33.3 336.1h0.4M38.9 337.2h0.4M136.0 385.2h0.4M137.0 384.0h0.4M135.5 379.9h0.4M136.9 386.8h0.4M135.3 379.7h0.4M141.1 385.1h0.4M137.5 380.9h0.4M141.5 377.9h0.4M146.2 376.4h0.4M144.6 386.1h0.4M145.4 381.4h0.4M150.7 387.1h0.4M148.0 385.9h0.4M147.0 388.7h0.4M146.9 390.4h0.4M148.7 384.5h0.4M127.3 425.5h0.4M127.5 423.6h0.4M116.4 418.2h0.4M134.4 403.4h0.4M138.2 403.0h0.4M134.6 405.0h0.4M133.0 403.6h0.4M127.9 408.1h0.4M128.2 403.8h0.4M140.6 402.3h0.4M116.7 400.4h0.4M120.5 400.2h0.4M118.9 395.9h0.4M117.2 401.7h0.4M117.4 396.5h0.4M64.3 387.3h0.4M65.5 385.0h0.4M72.5 381.9h0.4M72.3 379.1h0.4M69.2 381.9h0.4M71.2 383.8h0.4M67.2 379.5h0.4M64.4 383.2h0.4M69.9 384.1h0.4M68.0 388.8h0.4M71.3 387.3h0.4M74.2 369.4h0.4M78.7 372.6h0.4M113.8 396.7h0.4M113.1 394.2h0.4M110.7 397.9h0.4M112.5 398.9h0.4M113.5 402.3h0.4M100.6 397.4h0.4M104.7 398.8h0.4M102.6 393.2h0.4M105.0 396.4h0.4M86.5 401.1h0.4M89.3 402.9h0.4M92.4 399.9h0.4M86.7 402.6h0.4M88.5 406.7h0.4M85.0 405.6h0.4M98.9 392.4h0.4M104.3 384.1h0.4M102.6 384.8h0.4M99.9 397.7h0.4M99.3 393.1h0.4M87.9 420.4h0.4M91.2 417.3h0.4M96.0 401.9h0.4M104.6 306.2h0.4M106.1 304.4h0.4M141.2 323.0h0.4M137.8 326.3h0.4M126.3 314.6h0.4M108.4 351.2h0.4M98.5 353.4h0.4M96.1 353.6h0.4M94.7 355.6h0.4M111.0 363.1h0.4M124.8 362.0h0.4M128.3 359.5h0.4M123.4 363.5h0.4M146.1 356.2h0.4M139.0 362.0h0.4M141.7 357.6h0.4M135.6 350.4h0.4M135.2 359.0h0.4M138.1 356.6h0.4M135.0 367.2h0.4M125.7 367.6h0.4M123.3 374.3h0.4M124.6 374.0h0.4M119.0 373.1h0.4M108.2 371.0h0.4M110.8 372.3h0.4M105.3 365.7h0.4M107.7 369.8h0.4M113.7 386.2h0.4M114.8 388.3h0.4M110.9 389.8h0.4M107.3 388.1h0.4M124.0 353.0h0.4M124.7 351.8h0.4M129.0 364.6h0.4M130.6 362.6h0.4M91.8 352.5h0.4M91.6 351.3h0.4M92.7 356.2h0.4M70.0 338.1h0.4M69.1 336.2h0.4M71.4 338.5h0.4M68.8 333.3h0.4M73.9 339.6h0.4M74.4 335.3h0.4M75.0 338.8h0.4M88.0 348.5h0.4M85.7 349.0h0.4M77.4 343.1h0.4M81.8 336.1h0.4M44.0 338.1h0.4M46.7 339.8h0.4M45.5 341.1h0.4M47.2 337.1h0.4M50.1 332.4h0.4M48.9 332.2h0.4M45.1 332.8h0.4M44.6 331.6h0.4M114.8 338.6h0.4M124.9 333.4h0.4M123.8 327.5h0.4M114.6 321.2h0.4M120.6 321.4h0.4M117.6 321.3h0.4M133.6 331.9h0.4M67.3 394.4h0.4M74.5 387.4h0.4M70.4 390.5h0.4M68.0 393.8h0.4M87.4 415.9h0.4M81.2 419.4h0.4M51.7 395.0h0.4M54.1 393.4h0.4M61.3 421.5h0.4M62.5 421.3h0.4M60.0 419.3h0.4M61.2 420.6h0.4M43.6 358.0h0.4M44.0 356.8h0.4M47.1 360.9h0.4M53.1 355.5h0.4M52.0 356.5h0.4M54.3 355.7h0.4M54.2 352.6h0.4M49.4 355.6h0.4M57.4 380.6h0.4M65.1 347.1h0.4M68.8 345.3h0.4M70.1 348.6h0.4M63.4 346.9h0.4M28.6 404.6h0.4M28.7 401.9h0.4M33.0 403.3h0.4M39.7 408.6h0.4M40.6 407.4h0.4M55.3 314.9h0.4M58.0 313.1h0.4M54.6 311.0h0.4M50.7 315.2h0.4M75.4 328.8h0.4M78.1 334.7h0.4M78.4 325.8h0.4M76.2 328.8h0.4M79.5 329.7h0.4M94.1 351.9h0.4M102.3 336.9h0.4M96.9 334.5h0.4M100.6 319.5h0.4M102.9 322.4h0.4M51.4 306.7h0.4M50.5 315.3h0.4M46.4 318.4h0.4M49.6 322.0h0.4M136.8 423.1h0.4M137.8 423.8h0.4M136.3 421.7h0.4M139.3 420.1h0.4M128.4 421.5h0.4M131.1 425.4h0.4M143.4 409.6h0.4M144.8 410.3h0.4M139.8 407.9h0.4M141.3 407.6h0.4M152.4 409.0h0.4M148.1 413.1h0.4M114.1 415.0h0.4M88.8 425.2h0.4M94.5 419.5h0.4M95.8 422.9h0.4M64.7 381.0h0.4M61.0 378.2h0.4M60.5 381.7h0.4M89.7 408.1h0.4M93.1 405.4h0.4M87.6 409.2h0.4M86.5 409.5h0.4M89.2 409.6h0.4M93.1 413.9h0.4M98.4 390.4h0.4M104.0 391.7h0.4M108.9 408.9h0.4M111.0 406.5h0.4M100.0 402.1h0.4M102.3 402.6h0.4M110.6 403.9h0.4M111.2 405.5h0.4M99.1 404.2h0.4M97.8 419.6h0.4M95.1 415.8h0.4M97.5 413.4h0.4M106.9 307.6h0.4M126.5 324.9h0.4M129.0 328.0h0.4M133.6 326.3h0.4M132.6 323.2h0.4M130.0 324.2h0.4M136.4 325.5h0.4M135.5 323.3h0.4M128.9 324.9h0.4M129.4 323.3h0.4M136.8 318.6h0.4M137.9 319.7h0.4M136.1 321.6h0.4M133.1 318.8h0.4M137.1 315.7h0.4M137.4 317.5h0.4M135.0 312.0h0.4M135.3 314.8h0.4M135.0 313.2h0.4M129.0 318.9h0.4M131.5 318.9h0.4M132.5 316.5h0.4M129.1 311.8h0.4M124.4 321.8h0.4M128.6 319.3h0.4M89.7 376.9h0.4M83.8 373.8h0.4M143.9 350.0h0.4M139.1 353.4h0.4M145.3 354.5h0.4M132.0 358.4h0.4M132.9 350.5h0.4M130.0 352.8h0.4M127.8 375.0h0.4M124.0 378.3h0.4M124.8 374.3h0.4M127.4 357.0h0.4M128.2 357.4h0.4M124.9 353.0h0.4M133.1 365.8h0.4M135.1 363.0h0.4M86.4 338.0h0.4M89.7 338.5h0.4M83.3 338.7h0.4M85.0 340.1h0.4M90.2 342.1h0.4M91.5 340.2h0.4M48.2 325.9h0.4M114.8 337.5h0.4M113.1 333.6h0.4M114.3 334.1h0.4M121.3 328.2h0.4M118.9 328.6h0.4M120.0 329.5h0.4M122.7 323.9h0.4M119.0 324.8h0.4M48.4 410.3h0.4M47.5 410.6h0.4M50.6 407.1h0.4M71.7 416.6h0.4M62.7 415.9h0.4M55.7 405.0h0.4M57.0 405.4h0.4M60.5 406.5h0.4M61.1 397.3h0.4M61.1 398.3h0.4M56.5 400.0h0.4M62.6 398.6h0.4M47.9 411.9h0.4M48.2 412.8h0.4M40.4 416.9h0.4M45.2 418.9h0.4M44.9 418.6h0.4M49.6 418.3h0.4M53.3 416.7h0.4M49.6 419.9h0.4M49.2 415.5h0.4M96.0 324.8h0.4M99.7 328.0h0.4M100.0 325.0h0.4M96.8 327.1h0.4M99.2 325.5h0.4M126.9 418.1h0.4M129.2 417.1h0.4M128.9 413.5h0.4M136.1 416.9h0.4M132.1 416.5h0.4M132.0 416.6h0.4M136.5 419.5h0.4M140.0 419.3h0.4M139.6 417.0h0.4M133.3 419.6h0.4M134.9 413.8h0.4M139.5 411.8h0.4M140.7 414.4h0.4M144.2 421.6h0.4M152.5 417.3h0.4M91.4 423.8h0.4M89.9 424.5h0.4M89.1 425.0h0.4M103.0 424.1h0.4M97.4 425.6h0.4M87.5 342.5h0.4M88.9 342.6h0.4M117.3 331.6h0.4M114.8 328.1h0.4M114.1 328.4h0.4M113.6 325.3h0.4M54.5 405.1h0.4M57.4 406.2h0.4M55.5 409.5h0.4M65.0 406.1h0.4M69.7 413.6h0.4M55.6 399.0h0.4M53.4 401.5h0.4M96.4 329.8h0.4M92.5 330.8h0.4M134.9 410.1h0.4M134.7 409.0h0.4M134.8 413.6h0.4M148.2 415.6h0.4M147.0 418.0h0.4M148.9 419.1h0.4M149.7 413.3h0.4M99.3 418.9h0.4M52.2 410.6h0.4M51.3 412.4h0.4M51.8 411.5h0.4M49.3 415.4h0.4M60.3 407.8h0.4M56.6 409.8h0.4M60.6 409.7h0.4M82.6 414.2h0.4M85.3 414.3h0.4M85.3 412.8h0.4M82.5 410.3h0.4M80.5 414.0h0.4M85.3 415.0h0.4M106.5 417.4h0.4M108.9 417.0h0.4M110.6 418.2h0.4M110.4 416.9h0.4M54.1 411.2h0.4M57.1 418.3h0.4M56.2 416.9h0.4M62.2 415.6h0.4M57.8 416.1h0.4" stroke="#965aa4" stroke-width="1.2" stroke-linecap="round" fill="none"/></g></g>
<path d="M62 305L65 311.5L64.2 317" stroke="#a8388a" stroke-width="1.8" fill="none" stroke-linecap="round"/><path d="M68.5 310L71.5 314.5L72 318" stroke="#a8388a" stroke-width="1.8" fill="none" stroke-linecap="round"/>
<rect x="26.5" y="304" width="124.5" height="120" fill="none" stroke="#111" stroke-width="1.2"/>
<path d="M29.7 420.3H78.5" stroke="#111" stroke-width="1.6"/>
<text x="33" y="416.3" font-size="7" textLength="23" lengthAdjust="spacingAndGlyphs" font-weight="bold" fill="#333">250um</text>
<defs><clipPath id="h2"><rect x="153.7" y="304" width="125" height="120"/></clipPath></defs>
<rect x="153.7" y="304" width="125" height="120" fill="#e7e4e7"/>
<g clip-path="url(#h2)"><g fill="#f3f1f3" filter="url(#blr2)"><circle cx="186.6" cy="334.1" r="4.2"/><circle cx="189.9" cy="331.9" r="2.8"/><circle cx="182.5" cy="334.5" r="2.2"/><circle cx="189.5" cy="331.4" r="2.8"/><circle cx="262.1" cy="386.1" r="2.6"/><circle cx="262.3" cy="383.7" r="1.3"/><circle cx="261.5" cy="388.5" r="1.9"/><circle cx="259.8" cy="387.1" r="1.7"/><circle cx="160.3" cy="363.6" r="2.5"/><circle cx="162.5" cy="362.5" r="1.4"/><circle cx="161.7" cy="361.6" r="1.9"/><circle cx="161.0" cy="361.3" r="1.8"/><circle cx="220.6" cy="423.8" r="3.9"/><circle cx="217.3" cy="422.1" r="1.9"/><circle cx="217.3" cy="422.3" r="2.5"/><circle cx="218.1" cy="426.5" r="2.2"/><circle cx="241.9" cy="415.3" r="5.1"/><circle cx="246.7" cy="414.5" r="2.9"/><circle cx="237.1" cy="415.2" r="3.4"/><circle cx="243.1" cy="410.6" r="4.0"/><circle cx="175.5" cy="325.3" r="2.3"/><circle cx="174.4" cy="323.4" r="1.6"/><circle cx="176.7" cy="327.1" r="1.7"/><circle cx="175.3" cy="323.1" r="1.1"/><circle cx="234.3" cy="323.2" r="2.2"/><circle cx="234.8" cy="325.3" r="1.2"/><circle cx="232.7" cy="324.6" r="1.0"/><circle cx="235.1" cy="325.2" r="1.5"/><circle cx="215.4" cy="405.9" r="3.5"/><circle cx="212.2" cy="405.1" r="1.8"/><circle cx="215.4" cy="409.2" r="2.4"/><circle cx="218.7" cy="406.5" r="2.3"/><circle cx="153.7" cy="388.8" r="4.8"/><circle cx="158.2" cy="389.4" r="3.2"/><circle cx="154.6" cy="393.2" r="3.4"/><circle cx="150.2" cy="385.9" r="3.8"/><circle cx="251.9" cy="363.6" r="2.9"/><circle cx="253.5" cy="365.9" r="2.3"/><circle cx="249.6" cy="362.2" r="1.7"/><circle cx="251.0" cy="366.2" r="1.4"/><circle cx="216.1" cy="414.8" r="4.8"/><circle cx="220.6" cy="413.8" r="2.7"/><circle cx="219.0" cy="418.4" r="3.5"/><circle cx="219.6" cy="411.9" r="2.6"/><circle cx="184.9" cy="366.6" r="2.1"/><circle cx="185.1" cy="364.6" r="1.5"/><circle cx="186.2" cy="365.0" r="1.5"/><circle cx="182.9" cy="366.9" r="1.6"/><circle cx="214.6" cy="373.9" r="5.0"/><circle cx="218.8" cy="376.1" r="3.0"/><circle cx="213.6" cy="369.2" r="3.9"/><circle cx="217.2" cy="377.9" r="3.5"/><circle cx="267.2" cy="371.6" r="2.3"/><circle cx="265.8" cy="373.2" r="1.5"/><circle cx="265.6" cy="373.0" r="1.5"/><circle cx="267.7" cy="373.7" r="1.7"/><circle cx="192.3" cy="315.9" r="3.4"/><circle cx="194.7" cy="318.0" r="2.5"/><circle cx="195.4" cy="316.6" r="1.6"/><circle cx="189.7" cy="317.8" r="2.3"/><circle cx="229.9" cy="358.0" r="2.9"/><circle cx="227.3" cy="357.0" r="1.9"/><circle cx="229.4" cy="360.7" r="1.6"/><circle cx="229.3" cy="360.7" r="1.7"/><circle cx="264.2" cy="383.7" r="4.8"/><circle cx="263.8" cy="388.2" r="2.3"/><circle cx="268.3" cy="385.5" r="3.2"/><circle cx="260.5" cy="381.1" r="3.3"/><circle cx="257.0" cy="354.8" r="4.0"/><circle cx="257.7" cy="351.0" r="2.3"/><circle cx="260.2" cy="356.8" r="2.2"/><circle cx="257.9" cy="358.5" r="2.2"/><circle cx="178.9" cy="363.2" r="2.9"/><circle cx="176.4" cy="362.0" r="1.7"/><circle cx="180.8" cy="365.2" r="1.4"/><circle cx="181.6" cy="363.5" r="2.1"/><circle cx="160.8" cy="359.0" r="4.8"/><circle cx="165.3" cy="358.4" r="2.5"/><circle cx="157.3" cy="356.2" r="3.2"/><circle cx="156.9" cy="361.2" r="3.3"/><circle cx="259.8" cy="410.0" r="2.1"/><circle cx="257.8" cy="410.3" r="1.4"/><circle cx="260.8" cy="408.4" r="1.1"/><circle cx="261.7" cy="409.8" r="1.7"/><circle cx="154.5" cy="394.4" r="3.3"/><circle cx="151.4" cy="394.5" r="2.6"/><circle cx="156.9" cy="396.4" r="2.4"/><circle cx="157.3" cy="395.7" r="1.7"/><circle cx="237.8" cy="321.8" r="2.1"/><circle cx="238.1" cy="319.9" r="1.3"/><circle cx="238.6" cy="320.0" r="1.3"/><circle cx="235.8" cy="321.5" r="1.4"/><circle cx="187.1" cy="386.0" r="3.0"/><circle cx="189.3" cy="387.8" r="2.0"/><circle cx="185.4" cy="388.2" r="2.1"/><circle cx="185.2" cy="388.0" r="2.1"/><circle cx="233.5" cy="347.9" r="3.6"/><circle cx="236.9" cy="348.3" r="2.0"/><circle cx="235.7" cy="345.3" r="2.4"/><circle cx="230.1" cy="347.1" r="2.7"/><circle cx="224.4" cy="384.6" r="3.0"/><circle cx="223.2" cy="387.2" r="1.6"/><circle cx="224.5" cy="381.8" r="2.0"/><circle cx="223.2" cy="387.2" r="2.2"/><circle cx="198.9" cy="355.9" r="5.1"/><circle cx="194.7" cy="358.1" r="3.7"/><circle cx="195.3" cy="359.1" r="2.9"/><circle cx="203.5" cy="357.5" r="2.9"/><circle cx="212.0" cy="319.3" r="4.3"/><circle cx="211.1" cy="315.3" r="2.6"/><circle cx="208.2" cy="317.8" r="2.1"/><circle cx="214.9" cy="316.4" r="2.5"/><circle cx="173.3" cy="406.7" r="4.3"/><circle cx="174.2" cy="410.7" r="2.3"/><circle cx="177.4" cy="407.2" r="3.1"/><circle cx="174.7" cy="410.5" r="2.7"/><circle cx="214.9" cy="423.4" r="2.8"/><circle cx="212.3" cy="423.8" r="1.9"/><circle cx="215.9" cy="425.9" r="2.3"/><circle cx="212.2" cy="423.3" r="1.7"/><circle cx="217.5" cy="345.0" r="4.1"/><circle cx="215.1" cy="342.0" r="2.1"/><circle cx="220.9" cy="343.1" r="2.9"/><circle cx="221.3" cy="344.3" r="2.3"/><circle cx="205.5" cy="417.7" r="3.9"/><circle cx="203.5" cy="420.8" r="2.6"/><circle cx="204.5" cy="414.1" r="3.1"/><circle cx="207.3" cy="414.4" r="2.1"/><circle cx="177.9" cy="322.5" r="3.7"/><circle cx="175.2" cy="320.2" r="1.8"/><circle cx="175.7" cy="325.3" r="1.7"/><circle cx="177.9" cy="319.0" r="2.3"/><circle cx="228.0" cy="407.0" r="3.2"/><circle cx="230.9" cy="408.1" r="2.4"/><circle cx="229.7" cy="404.5" r="2.1"/><circle cx="225.8" cy="409.2" r="1.7"/><circle cx="247.1" cy="323.8" r="4.7"/><circle cx="247.0" cy="328.2" r="3.3"/><circle cx="249.8" cy="320.3" r="3.4"/><circle cx="251.2" cy="322.1" r="3.3"/><circle cx="161.0" cy="339.2" r="3.0"/><circle cx="158.2" cy="339.3" r="1.9"/><circle cx="159.3" cy="336.9" r="1.5"/><circle cx="162.4" cy="341.7" r="1.4"/><circle cx="253.9" cy="315.9" r="3.8"/><circle cx="254.5" cy="312.4" r="2.1"/><circle cx="256.6" cy="318.3" r="2.2"/><circle cx="256.7" cy="313.7" r="2.0"/><circle cx="276.0" cy="360.7" r="4.1"/><circle cx="278.6" cy="363.5" r="2.4"/><circle cx="274.3" cy="357.2" r="2.5"/><circle cx="275.6" cy="364.5" r="2.7"/><circle cx="181.1" cy="361.4" r="2.6"/><circle cx="181.3" cy="363.9" r="1.6"/><circle cx="183.4" cy="360.6" r="1.5"/><circle cx="181.4" cy="363.9" r="1.8"/><circle cx="226.0" cy="391.5" r="4.0"/><circle cx="228.3" cy="388.5" r="2.7"/><circle cx="229.7" cy="390.8" r="1.8"/><circle cx="223.4" cy="394.2" r="1.9"/><circle cx="199.6" cy="306.8" r="3.2"/><circle cx="198.5" cy="309.6" r="1.9"/><circle cx="200.0" cy="303.8" r="2.4"/><circle cx="200.0" cy="309.8" r="2.2"/><circle cx="207.2" cy="379.2" r="2.5"/><circle cx="205.6" cy="377.5" r="1.7"/><circle cx="208.9" cy="380.9" r="1.4"/><circle cx="209.4" cy="380.1" r="1.3"/><circle cx="201.9" cy="383.1" r="3.4"/><circle cx="204.6" cy="381.5" r="2.7"/><circle cx="205.0" cy="382.3" r="1.9"/><circle cx="201.0" cy="380.1" r="2.0"/><circle cx="270.4" cy="347.1" r="4.1"/><circle cx="268.7" cy="350.6" r="2.5"/><circle cx="273.5" cy="344.7" r="2.6"/><circle cx="266.7" cy="348.4" r="2.4"/><circle cx="227.2" cy="381.3" r="5.1"/><circle cx="224.5" cy="385.3" r="3.9"/><circle cx="227.3" cy="386.1" r="3.6"/><circle cx="223.0" cy="383.7" r="2.5"/><circle cx="158.3" cy="410.6" r="4.5"/><circle cx="160.5" cy="407.0" r="3.5"/><circle cx="160.0" cy="406.8" r="2.5"/><circle cx="154.1" cy="409.7" r="2.5"/><circle cx="278.5" cy="421.6" r="4.1"/><circle cx="277.1" cy="425.2" r="2.9"/><circle cx="274.6" cy="422.3" r="3.3"/><circle cx="282.0" cy="423.3" r="1.9"/><circle cx="172.8" cy="346.8" r="3.6"/><circle cx="175.1" cy="344.3" r="2.1"/><circle cx="170.2" cy="344.6" r="2.8"/><circle cx="174.7" cy="349.6" r="1.7"/><circle cx="249.9" cy="341.5" r="4.2"/><circle cx="246.0" cy="342.1" r="1.9"/><circle cx="249.7" cy="345.5" r="2.4"/><circle cx="253.1" cy="343.9" r="3.1"/><circle cx="249.4" cy="304.3" r="2.9"/><circle cx="249.1" cy="301.6" r="1.8"/><circle cx="248.8" cy="301.6" r="1.5"/><circle cx="248.0" cy="306.7" r="1.5"/></g></g>
<g clip-path="url(#h2)"><g filter="url(#blr)"><path d="M154.2 424.7L154.0 423.2M274.8 303.1L272.3 302.5M272.0 302.2L272.3 302.5M271.9 302.2L272.0 302.2M271.9 302.2L266.9 301.7M274.8 303.1L276.5 304.5M276.5 304.5L279.4 302.6M281.0 303.4L279.4 302.6M253.0 302.6L251.2 301.9M219.7 351.7L215.7 351.1M219.7 351.7L220.0 352.5M220.0 352.5L218.3 355.9M215.8 354.7L218.3 355.9M156.3 347.6L155.6 345.0M156.3 347.6L155.1 348.7M153.2 342.2L151.9 345.6M156.5 342.9L156.5 343.3M156.5 343.3L155.6 345.0M155.1 348.7L153.9 351.0M151.6 340.7L153.2 342.2M151.8 419.0L154.0 415.5M154.5 415.1L154.0 415.5M154.5 415.1L153.1 412.8M152.5 421.8L151.9 419.2M151.9 419.2L151.8 419.0M225.8 321.1L226.5 323.3M225.8 321.1L226.4 320.0M226.4 320.0L227.3 319.8M227.3 319.8L231.1 321.3M231.1 321.3L228.6 323.7M225.1 325.1L225.5 328.2M225.1 325.1L221.7 324.7M221.7 324.7L220.6 326.2M220.6 326.2L223.4 328.3M225.5 328.2L223.4 328.3M225.8 321.1L223.2 321.3M221.7 323.4L223.2 321.3M221.7 323.4L221.7 324.7M226.0 324.3L226.5 323.3M226.0 324.3L225.1 325.1M214.1 362.3L214.0 362.2M214.0 362.2L215.2 359.6M215.2 359.6L218.1 358.4M219.6 361.5L218.2 363.3M209.7 321.3L207.6 323.7M207.6 323.7L207.5 324.8M207.5 324.8L210.4 325.6M210.4 325.6L212.4 322.1M214.0 366.1L214.1 362.3M210.3 361.9L211.2 361.6M212.8 355.1L212.6 357.3M215.4 354.9L214.6 358.6M211.3 353.9L212.8 355.1M211.6 358.1L208.5 356.6M211.6 358.1L212.6 357.3M215.8 354.7L215.4 354.9M215.2 359.6L214.6 358.6M218.1 358.4L218.8 356.8M218.3 355.9L218.8 356.8M211.6 358.1L211.2 361.6M215.7 351.1L215.2 350.5M215.2 350.5L216.4 348.4M215.0 335.8L214.7 338.9M214.7 338.9L215.8 340.1M215.8 340.1L218.8 338.2M218.8 338.0L218.8 338.2M156.5 342.9L156.8 342.1M153.0 338.3L154.0 338.0M164.6 379.1L166.7 380.3M164.6 379.1L163.0 382.2M167.1 382.9L165.4 384.3M163.0 382.2L165.4 384.3M154.9 371.3L155.0 369.7M154.9 371.3L154.4 371.8M153.8 375.1L154.4 371.8M153.1 359.5L156.0 357.5M155.8 356.7L151.8 355.8M154.2 352.5L151.8 355.8M152.9 365.1L154.0 364.5M154.0 364.5L154.3 362.6M152.5 368.2L152.9 365.1M156.7 368.4L156.5 365.8M156.5 365.8L154.0 364.5M164.8 366.7L168.1 365.7M164.6 366.3L165.2 362.1M168.1 365.7L166.8 361.9M166.8 361.9L165.2 362.1M279.7 407.6L279.3 405.7M279.4 405.3L279.3 405.7M279.7 401.1L279.4 400.8M279.4 400.8L278.1 396.9M278.3 396.6L278.1 396.9M272.3 302.5L272.9 306.8M276.3 306.9L272.9 306.8M280.6 308.0L279.9 308.4M280.6 308.0L281.0 303.4M276.3 306.9L276.8 307.7M276.8 307.7L278.7 308.4M279.9 308.4L278.7 308.4M207.3 325.1L202.9 326.2M207.3 325.1L207.3 325.0M207.3 325.0L201.4 323.1M202.9 326.2L201.4 323.1M203.2 424.7L202.4 426.9M154.0 406.1L156.8 407.5M218.8 338.2L220.3 340.1M222.2 336.8L222.0 336.6M222.2 336.8L222.6 339.9M222.0 336.6L219.4 337.0M219.4 337.0L218.8 338.0M217.9 366.0L219.9 368.7M217.9 366.0L218.6 364.6M218.6 364.6L222.0 365.9M219.9 368.7L221.9 367.0M215.9 367.2L217.9 366.0M224.5 369.7L224.5 369.5M224.5 369.7L219.9 371.6M224.5 369.5L221.9 367.0M219.0 371.0L219.6 371.6M222.0 336.6L222.4 333.1M219.4 337.0L219.8 332.9M219.8 332.9L222.4 333.1M214.9 335.8L214.9 334.0M214.9 335.8L215.0 335.8M214.9 334.0L218.2 332.0M219.8 332.9L218.2 332.0M156.5 343.3L160.0 345.5M156.8 342.1L158.6 341.0M161.3 342.8L160.0 345.5M156.3 347.6L157.8 348.1M157.8 348.1L160.3 346.6M160.0 345.5L160.3 346.6M224.9 358.0L222.3 358.0M224.9 358.0L225.2 360.5M222.3 358.0L222.0 361.5M223.9 361.6L222.4 361.8M222.0 361.5L222.4 361.8M218.8 356.8L221.3 357.0M219.6 361.5L222.0 361.5M221.3 357.0L222.3 358.0M229.1 363.0L229.3 362.2M229.1 363.0L227.2 365.4M227.2 365.4L226.9 365.3M226.9 365.3L223.9 361.6M228.1 361.0L225.2 360.5M226.9 365.3L222.5 365.2M222.5 365.2L222.0 365.9M152.0 307.4L153.1 306.8M153.3 305.7L153.1 306.8M153.3 305.7L155.0 303.7M162.3 302.8L158.4 304.7M155.0 303.7L157.6 303.8M160.1 311.7L160.5 308.5M160.1 311.7L164.0 313.2M164.4 307.7L164.3 307.6M160.5 308.5L164.3 307.6M159.2 307.5L159.2 307.2M162.3 302.8L162.7 303.2M159.2 307.2L162.7 303.2M152.0 307.4L153.6 311.7M152.7 312.7L153.6 311.7M160.1 311.7L159.8 312.0M159.8 312.0L156.4 311.8M155.2 336.5L154.0 338.0M155.2 336.5L157.8 336.9M157.8 405.5L157.4 403.3M160.6 402.0L160.0 401.9M160.0 401.9L157.4 403.3M202.0 364.6L205.4 364.8M202.0 364.6L200.6 361.9M200.6 361.9L203.3 361.0M203.3 361.0L204.8 362.5M205.4 364.8L204.8 362.5M207.3 358.7L207.9 360.0M210.3 361.9L209.9 361.8M181.9 372.3L182.3 368.1M181.9 372.3L180.1 372.3M178.7 371.1L180.1 372.3M178.7 371.1L180.2 368.3M180.2 368.3L182.3 368.1M167.6 375.6L170.7 374.9M167.6 375.6L168.6 378.8M168.6 378.8L171.0 379.1M171.0 379.1L171.6 378.3M171.4 382.3L168.9 383.3M171.4 382.3L171.7 381.8M166.7 380.3L168.6 378.8M167.1 382.9L168.9 383.3M171.7 381.8L171.0 379.1M171.7 381.8L173.9 381.7M173.9 381.7L175.6 380.5M175.6 380.5L175.1 377.5M175.1 377.5L171.6 378.3M164.2 378.4L165.2 375.8M160.1 375.6L163.7 374.4M164.6 379.1L164.2 378.4M160.7 381.2L162.2 378.4M161.6 382.2L163.0 382.2M167.0 375.3L167.6 375.6M167.0 375.3L165.2 375.8M153.8 380.0L155.4 382.7M153.8 380.0L155.5 378.4M155.5 378.4L157.8 378.6M157.8 378.6L158.5 381.1M158.5 381.1L157.4 382.7M157.4 382.7L155.4 382.7M154.7 383.5L155.4 382.7M154.3 375.4L155.5 378.4M154.3 375.4L157.6 374.6M157.6 374.6L159.5 376.1M159.5 376.1L157.8 378.6M159.5 376.1L159.7 376.0M160.7 385.4L161.6 382.2M157.4 382.8L157.4 382.7M166.8 361.9L168.0 360.6M158.6 353.9L156.9 351.7M158.9 353.9L160.5 350.9M154.1 351.2L156.9 351.7M157.8 348.1L158.3 349.8M163.9 354.3L166.0 355.2M276.0 400.3L277.0 397.2M279.4 400.8L276.0 400.3M278.1 396.9L277.0 397.2M279.1 404.0L273.6 402.7M279.1 404.0L279.7 401.1M273.3 400.8L273.0 401.3M273.6 402.7L273.0 401.3M273.7 393.1L271.8 394.1M273.7 393.1L274.9 393.6M274.9 393.6L275.0 396.9M271.9 396.2L271.8 394.1M273.0 401.3L269.5 401.0M271.9 396.2L269.9 397.6M269.9 397.6L269.3 400.6M273.5 412.2L275.0 412.3M272.0 413.6L273.2 416.5M273.2 416.5L275.4 416.3M272.6 417.3L273.2 416.5M269.2 413.1L269.0 413.3M269.2 413.1L272.0 413.6M272.3 406.1L273.4 404.9M272.3 406.1L272.1 408.9M273.4 404.9L276.1 406.7M272.1 408.9L272.3 409.0M272.3 409.0L275.4 408.8M276.1 406.7L275.4 408.8M269.2 405.4L272.3 406.1M269.0 404.8L269.0 401.6M267.7 408.0L269.9 409.5M267.7 408.0L269.2 405.4M269.9 409.5L272.1 408.9M279.1 404.0L279.4 405.3M279.3 405.7L276.1 406.7M269.2 413.1L269.9 409.5M276.2 410.0L275.4 408.8M276.2 410.0L279.5 410.2M274.9 393.6L275.2 393.5M278.3 396.6L278.5 395.2M279.9 394.0L278.5 395.2M235.3 375.9L235.8 372.7M233.3 371.9L235.8 372.7M233.3 371.9L231.1 373.6M231.1 373.6L234.0 376.7M232.1 368.4L232.0 368.6M232.0 368.6L229.2 370.8M229.2 370.8L226.8 367.3M226.8 367.3L227.3 366.1M233.4 366.1L229.1 363.0M233.4 366.1L232.4 368.1M232.4 368.1L232.1 368.4M228.6 372.5L228.9 373.6M228.6 372.5L229.2 370.8M224.7 370.2L224.5 369.7M279.9 308.4L280.8 312.0M266.9 301.7L267.0 305.0M262.8 304.8L262.4 304.3M262.8 304.8L266.3 305.5M266.3 305.5L267.0 305.0M272.9 306.8L271.8 307.6M271.8 307.6L269.2 305.6M269.1 305.3L269.2 305.6M231.1 321.3L232.3 321.0M228.6 323.7L230.1 326.4M232.0 325.0L230.1 326.4M237.0 305.2L236.6 302.5M239.2 305.7L240.8 303.4M208.5 426.7L207.2 423.7M203.2 424.7L203.3 423.2M207.2 423.7L205.5 422.8M201.3 422.5L200.3 422.9M278.8 415.7L280.9 418.4M278.8 415.7L279.7 412.9M279.7 412.9L279.7 412.9M276.1 416.7L278.8 415.7M275.8 413.2L279.7 412.9M280.3 411.6L279.7 412.9M178.6 390.2L178.9 389.8M178.6 390.2L180.1 392.6M164.3 412.3L163.5 411.0M164.3 412.3L163.3 414.6M163.3 414.6L163.1 414.7M162.1 414.5L163.1 414.7M156.4 426.0L156.5 426.0M160.4 425.1L158.0 424.8M160.4 425.1L161.3 425.8M156.5 426.0L158.0 424.8M161.3 425.8L164.3 424.2M164.9 422.5L164.3 424.2M164.9 422.5L167.2 421.8M167.2 421.8L167.9 425.9M168.9 383.3L169.5 385.6M172.9 385.6L170.7 386.7M169.5 385.6L170.7 386.7M176.8 390.5L178.6 390.2M176.8 390.5L175.6 393.1M179.1 396.4L180.1 392.6M175.6 393.1L178.6 396.6M178.9 389.8L179.4 388.2M182.0 386.3L179.4 388.2M253.0 302.6L253.8 305.6M258.4 304.1L253.8 305.6M240.8 303.4L244.4 306.5M245.2 303.4L244.4 306.5M250.9 307.0L253.8 305.6M253.8 305.6L253.8 305.6M244.4 306.5L244.6 307.2M244.6 307.2L245.0 307.4M244.6 307.2L241.8 308.6M258.4 304.1L258.3 307.9M254.9 307.8L253.8 305.6M254.9 307.8L257.9 308.4M257.9 308.4L258.3 307.9M224.1 340.0L225.6 342.6M222.5 345.8L225.6 342.6M224.1 340.0L224.3 339.8M228.1 343.2L226.4 342.9M228.1 343.2L229.2 340.1M225.6 342.6L226.4 342.9M229.2 340.1L224.3 339.8M226.0 324.3L229.3 328.1M230.1 326.4L229.7 327.9M229.3 328.1L229.7 327.9M214.2 323.9L213.2 326.1M214.2 323.9L217.0 324.5M213.2 326.1L214.1 327.6M214.1 327.6L215.4 328.4M215.4 328.4L218.0 328.7M218.0 328.7L218.4 328.1M213.8 323.1L214.2 323.9M211.6 326.4L213.2 326.1M210.8 328.2L212.3 329.4M210.8 328.2L211.6 326.4M212.3 329.4L214.1 327.6M212.6 332.0L215.4 328.4M212.4 332.6L212.6 332.0M223.4 328.3L222.6 330.1M222.6 330.1L218.4 328.1M222.6 330.1L222.8 333.0M222.8 333.0L222.4 333.1M212.2 347.0L211.8 348.4M212.3 350.2L211.8 348.4M211.3 353.9L210.9 351.8M212.3 350.2L210.9 351.8M162.6 347.8L163.8 347.2M162.6 347.8L161.8 350.4M163.8 347.2L166.0 350.9M161.8 350.4L163.8 352.9M166.0 350.9L163.8 352.9M160.3 346.6L162.6 347.8M160.5 350.9L161.8 350.4M168.5 350.7L166.0 350.9M163.8 303.8L164.0 304.2M162.7 303.2L163.8 303.8M164.4 307.7L168.6 306.9M168.6 306.9L169.1 304.1M164.3 307.6L164.0 304.2M168.6 306.9L169.4 307.7M169.1 304.1L171.9 304.0M169.4 307.7L171.8 307.9M171.8 307.9L172.4 307.3M172.4 307.3L171.9 304.0M172.2 303.8L171.9 304.0M155.2 336.5L155.1 335.6M152.8 324.8L153.8 326.5M151.9 329.3L153.8 326.5M165.5 326.5L168.2 324.7M167.7 322.7L164.2 322.9M164.2 322.9L164.1 325.6M161.1 386.8L161.6 387.1M157.4 382.8L157.1 386.8M160.7 385.4L161.1 386.8M154.6 399.4L152.1 396.4M160.8 393.5L156.4 394.7M160.8 393.5L161.1 391.6M161.1 391.6L160.9 391.3M153.8 405.1L154.7 403.5M154.0 406.1L153.8 405.1M157.4 403.3L154.7 403.5M158.8 400.7L160.0 401.9M158.8 400.7L154.4 401.5M154.6 399.4L153.9 400.5M157.0 397.6L158.8 400.7M202.0 364.6L200.6 366.8M203.9 367.9L200.7 367.2M203.9 367.9L205.5 366.1M205.4 364.8L205.7 365.2M200.6 366.8L200.7 367.2M205.5 366.1L205.7 365.2M209.9 361.8L206.8 365.0M205.7 365.2L206.8 365.0M206.8 365.0L209.8 367.2M177.8 376.1L180.1 372.3M177.8 376.1L179.7 377.3M183.2 373.4L182.3 376.3M179.7 377.3L181.6 376.7M167.0 375.3L167.1 373.3M170.7 374.9L171.5 373.7M167.1 373.3L168.9 372.4M155.7 371.7L157.6 374.4M157.6 374.4L158.8 371.2M154.9 371.3L155.7 371.7M160.6 372.3L159.3 370.7M161.0 368.4L164.3 369.5M161.0 368.4L159.4 369.6M159.4 369.6L159.3 370.7M163.6 371.9L164.7 370.1M164.7 370.1L164.3 369.5M160.1 375.6L160.6 372.3M158.8 371.2L159.3 370.7M163.7 374.4L163.6 371.9M160.8 366.6L161.0 368.4M156.7 368.4L159.4 369.6M167.1 373.3L165.3 370.3M165.3 370.3L164.7 370.1M168.0 360.6L168.1 360.6M255.4 389.7L255.1 385.5M255.4 389.7L254.8 389.8M254.8 389.8L252.8 388.5M252.8 388.5L253.9 384.4M255.1 385.5L253.9 384.4M214.2 386.5L212.0 385.5M214.2 386.5L214.7 388.8M212.0 385.5L210.1 389.7M214.7 388.8L211.3 391.3M210.1 389.7L211.3 391.3M234.0 376.7L233.2 377.8M233.2 377.8L228.8 376.3M228.9 373.6L228.6 374.0M228.6 374.0L228.8 376.3M257.4 390.0L257.4 390.0M257.4 390.0L255.4 389.7M258.5 386.6L255.1 385.5M259.1 387.6L257.4 390.0M273.3 377.2L275.8 374.4M275.8 374.4L277.2 375.4M280.9 372.6L279.7 375.1M279.7 375.1L280.8 376.6M278.7 379.9L278.8 379.8M278.7 379.9L277.6 379.2M273.5 391.7L272.4 389.6M273.5 391.7L275.9 389.7M272.4 389.6L274.4 387.3M274.4 387.3L275.9 389.7M275.2 393.5L277.9 390.7M275.9 389.7L277.9 390.7M278.5 390.2L278.2 390.6M280.6 329.4L278.2 326.2M278.2 326.2L279.9 324.2M280.6 329.4L279.7 330.2M280.1 333.7L279.0 333.4M279.7 330.2L279.0 333.4M207.2 423.7L211.2 421.4M208.5 426.7L210.7 426.5M210.7 426.5L210.9 426.7M276.8 307.7L274.7 310.8M271.8 307.6L271.4 309.4M275.3 314.1L275.0 312.8M275.3 314.1L271.0 314.0M271.0 314.0L269.7 311.9M275.0 312.8L270.1 310.8M269.7 311.9L270.1 310.8M266.3 305.5L266.1 308.4M269.2 305.6L268.5 308.9M268.5 308.9L266.1 308.4M268.5 308.9L270.2 310.3M274.7 310.8L275.0 312.8M270.2 310.3L270.1 310.8M275.3 314.1L275.7 314.4M281.1 315.6L278.2 313.6M277.4 313.7L278.2 313.6M280.4 322.9L279.6 318.9M280.3 318.4L279.6 318.9M245.5 308.0L245.0 312.1M241.7 310.2L244.5 312.3M245.0 312.1L244.5 312.3M241.7 310.2L240.6 311.6M243.0 314.1L244.5 312.3M243.0 314.1L241.4 314.5M237.5 309.4L239.6 307.7M240.6 311.6L237.9 311.1M239.4 336.7L240.3 332.9M243.0 335.7L242.2 333.3M240.3 332.9L242.2 333.3M201.4 317.2L200.2 320.5M204.8 321.3L200.9 322.1M206.0 318.1L204.7 317.4M200.2 320.5L200.9 322.1M207.3 325.0L207.5 324.8M201.4 323.1L200.9 322.5M200.9 322.1L200.9 322.5M202.6 327.7L203.9 329.3M203.9 329.3L207.2 328.5M210.8 328.2L208.1 329.5M208.1 329.5L207.2 328.5M202.6 327.7L199.5 328.1M199.5 328.1L198.8 324.6M183.8 319.7L186.9 321.3M183.8 319.7L182.9 316.0M186.9 321.3L187.3 317.7M184.2 315.5L187.1 317.0M187.3 317.7L187.1 317.0M207.0 311.4L204.1 311.0M207.0 311.4L206.1 313.8M206.1 313.8L205.0 314.0M205.0 314.0L203.6 313.4M203.6 313.4L204.1 311.0M207.0 311.4L207.2 311.3M204.8 307.6L203.0 309.3M204.1 311.0L203.0 309.3M204.6 305.2L207.6 304.9M206.1 313.8L208.3 315.7M210.6 313.3L207.2 311.3M204.7 317.4L205.0 314.0M207.7 308.8L209.8 307.7M218.1 315.7L218.6 320.3M217.1 320.2L218.4 320.5M218.6 320.3L218.4 320.5M219.7 315.3L218.1 315.7M219.9 312.3L217.0 310.5M217.0 310.5L215.4 311.1M215.4 311.1L216.0 315.3M218.5 321.1L218.4 320.5M216.1 320.4L217.1 320.2M215.4 311.1L215.4 311.1M215.4 311.1L212.0 311.5M223.2 321.3L221.5 318.8M221.5 318.8L218.6 320.3M182.7 315.9L182.9 316.0M182.7 315.9L181.4 313.9M183.4 310.2L182.1 311.3M185.9 311.7L184.2 315.5M181.4 313.9L182.1 311.3M196.6 305.9L197.3 302.6M196.6 305.9L195.2 306.4M195.2 306.4L193.2 304.0M197.3 302.6L193.2 304.0M193.2 304.0L193.2 304.0M197.7 302.2L197.3 302.6M194.2 309.4L190.3 305.3M190.4 304.1L190.1 304.5M190.4 304.1L193.2 304.0M190.3 305.3L190.1 304.5M243.0 426.5L241.1 426.4M240.4 424.4L240.7 425.7M240.4 424.4L242.3 422.9M243.0 426.5L244.3 423.5M210.5 396.1L211.4 393.8M211.4 393.8L214.4 394.5M211.4 398.1L214.4 398.9M214.4 398.9L214.4 394.5M222.2 426.8L224.8 426.5M225.5 422.6L226.2 423.8M186.6 425.6L184.6 424.8M189.4 410.0L186.1 410.8M189.4 410.0L188.1 406.7M188.1 406.7L188.1 406.7M188.1 406.7L184.2 407.7M186.1 410.8L184.1 407.8M167.7 411.4L168.9 408.7M167.7 411.4L168.5 412.7M173.2 412.0L171.0 413.4M164.7 408.4L163.5 410.4M168.2 407.3L164.7 408.4M163.5 411.0L163.5 410.4M168.2 407.3L168.1 406.1M168.1 406.1L165.2 405.0M165.2 405.0L163.0 406.5M154.0 423.2L157.4 419.7M158.1 423.5L157.4 419.7M157.0 415.6L157.8 419.1M157.8 419.1L157.5 419.5M171.7 425.2L174.6 423.2M171.7 425.2L171.6 425.8M171.6 425.8L171.8 426.7M174.7 423.3L174.6 423.2M167.9 425.9L171.6 425.8M172.9 385.6L174.6 386.2M174.9 388.8L174.6 386.2M170.7 386.7L170.2 390.0M170.8 390.1L170.2 390.0M175.6 393.1L173.8 393.9M170.8 390.1L173.8 393.9M160.6 402.0L162.1 401.3M162.1 401.3L163.4 401.4M174.6 386.2L175.5 385.3M179.4 388.2L179.0 387.3M179.0 387.3L175.5 385.3M173.9 381.7L175.6 385.0M175.6 385.0L175.5 385.3M250.7 307.9L248.2 309.1M251.2 310.7L248.4 311.9M248.2 309.1L248.4 311.9M254.9 307.8L253.5 310.3M247.9 313.3L248.4 311.9M256.5 311.9L257.5 311.1M232.0 339.4L232.7 342.9M232.0 339.4L230.1 338.8M236.7 361.5L231.9 360.2M236.7 361.5L236.2 365.0M235.0 365.2L231.6 360.5M235.0 365.2L236.2 365.0M233.4 366.1L235.0 365.2M236.8 361.5L236.7 361.5M236.8 361.5L236.1 358.7M233.0 357.7L236.1 358.7M240.5 360.2L236.8 361.5M240.5 360.2L239.9 357.7M239.9 357.7L237.0 357.5M236.1 358.7L237.0 357.5M235.8 372.7L236.1 372.5M232.4 368.1L237.1 370.4M237.1 370.4L236.1 372.5M237.7 377.2L240.2 376.8M240.8 374.5L236.1 372.5M240.8 374.5L241.1 375.3M180.4 322.3L183.0 324.7M183.0 324.7L181.5 326.6M159.2 335.9L159.8 333.0M159.8 333.0L164.0 334.2M164.2 336.4L164.0 334.2M170.2 315.1L172.3 314.8M170.2 315.1L168.4 313.1M171.3 311.6L169.1 311.1M171.3 311.6L172.6 314.5M172.6 314.5L172.3 314.8M168.4 313.1L168.6 311.5M168.6 311.5L169.1 311.1M168.5 319.4L172.2 319.2M172.2 319.2L172.9 318.5M172.9 318.5L172.3 314.8M169.4 307.7L169.1 311.1M172.8 310.1L171.3 311.6M164.0 313.2L164.7 315.4M165.3 310.6L168.6 311.5M164.7 315.4L168.4 313.1M151.9 329.3L153.1 330.4M153.1 332.2L153.1 330.4M167.7 322.7L168.3 321.4M168.3 321.4L168.5 319.4M164.2 322.9L162.8 321.9M162.8 321.9L166.2 317.8M164.7 315.4L164.6 315.7M166.2 317.8L165.1 316.6M152.7 312.7L152.5 313.9M156.4 311.8L155.4 315.6M159.2 315.5L157.7 316.1M159.2 315.5L161.1 316.5M168.5 350.7L169.0 350.3M163.8 347.2L164.6 346.4M167.6 347.7L169.0 350.3M170.5 350.7L169.7 350.3M171.3 354.4L169.5 355.5M169.0 350.3L169.7 350.3M181.0 383.4L178.6 383.0M183.1 381.7L179.6 378.7M178.0 381.7L178.5 383.0M178.5 383.0L178.6 383.0M182.0 386.3L181.0 383.4M179.0 387.3L178.6 383.0M179.7 377.3L179.6 378.7M181.6 376.7L183.5 381.6M183.5 381.6L183.1 381.7M175.6 380.5L178.0 381.7M172.4 373.4L175.4 377.1M175.4 377.1L177.6 376.0M172.3 373.3L172.4 373.4M177.8 376.1L177.6 376.0M176.9 371.0L176.4 373.2M172.3 373.3L172.5 371.1M176.9 371.0L175.4 369.3M178.3 367.3L175.4 369.2M178.3 367.3L180.2 368.3M175.4 369.2L175.4 369.3M253.8 384.0L253.9 384.4M254.5 382.9L257.3 382.2M272.2 365.5L271.1 365.5M272.2 365.5L272.7 365.9M271.1 365.5L267.7 367.8M272.7 365.9L273.1 367.7M273.1 367.7L269.5 370.5M267.7 367.8L269.5 370.5M271.3 375.1L273.3 377.2M273.2 378.0L268.6 379.9M268.6 379.9L268.7 375.2M272.0 419.4L268.2 419.4M267.9 417.4L268.2 419.4M215.4 385.4L215.9 381.9M215.4 385.4L218.2 385.6M215.9 381.9L218.2 382.8M218.2 382.8L218.2 385.6M218.7 379.6L220.7 382.2M218.2 382.8L220.7 382.2M220.7 382.2L220.7 382.2M205.9 374.8L202.8 371.3M205.9 374.8L206.3 373.4M205.6 370.8L204.2 370.3M203.9 367.9L204.2 370.3M200.4 367.7L201.4 371.9M201.4 371.9L202.8 371.3M207.5 369.3L207.4 370.0M207.4 370.0L209.8 372.0M205.5 366.1L207.5 369.3M209.8 367.2L209.8 367.7M205.6 370.8L207.4 370.0M206.3 373.4L209.8 372.0M205.4 385.9L208.4 387.3M205.4 385.9L207.4 383.4M208.4 387.3L210.5 384.7M207.4 383.4L210.5 384.7M214.2 386.5L215.4 385.4M212.0 385.5L211.1 384.6M211.9 381.8L211.1 384.6M208.7 388.8L210.1 389.7M211.1 384.6L210.5 384.7M211.0 380.1L211.9 381.8M211.0 380.1L212.7 378.3M226.4 374.2L224.0 375.8M226.4 374.2L224.3 372.3M223.3 375.4L224.0 375.8M224.7 370.2L224.3 372.3M228.6 374.0L226.4 374.2M219.9 371.6L223.1 373.4M233.2 377.8L233.0 380.5M280.8 368.3L280.7 368.3M280.9 372.6L280.6 372.2M280.7 368.3L280.6 372.2M280.3 364.8L280.8 368.3M278.0 364.5L276.8 369.4M280.7 368.3L276.8 369.4M269.9 397.6L268.3 395.4M269.7 393.5L268.3 395.4M269.7 389.4L268.4 391.0M269.7 393.5L268.4 391.0M268.3 380.3L269.1 382.5M277.1 382.8L276.6 385.6M278.7 381.0L280.6 382.8M280.0 385.8L278.3 386.3M278.3 386.3L276.6 385.6M278.7 379.9L278.7 381.0M278.5 390.2L278.3 386.3M274.6 386.5L275.6 385.9M274.6 386.5L272.4 385.3M275.6 385.9L274.0 381.7M272.4 385.3L270.8 383.2M270.8 383.2L274.0 381.7M276.6 385.6L275.6 385.9M269.7 389.4L269.6 388.6M274.2 381.4L274.0 381.7M268.3 380.3L268.6 379.9M255.3 334.7L252.9 331.8M255.3 334.7L257.4 331.3M257.4 331.3L257.4 331.3M257.4 331.3L252.9 331.8M258.3 320.7L259.6 322.9M255.1 324.8L258.3 326.0M259.4 325.3L258.3 326.0M261.3 316.8L260.1 318.0M261.3 316.8L264.8 319.8M260.1 318.0L261.7 321.2M262.8 321.9L261.7 321.2M256.8 313.6L261.8 315.6M261.8 315.6L261.3 316.8M258.3 319.3L258.3 320.7M259.6 322.9L261.7 321.2M270.3 330.0L267.4 328.7M270.3 330.0L269.1 333.8M265.8 329.1L265.2 331.0M265.2 331.0L269.1 333.8M272.6 327.7L272.3 325.5M272.3 325.5L273.4 324.3M274.8 324.3L273.5 324.3M273.5 324.3L273.4 324.3M278.2 326.2L278.2 326.2M276.8 322.3L280.3 322.9M275.8 330.2L275.5 329.1M275.1 319.1L273.5 324.3M275.1 319.1L276.8 322.3M264.0 327.3L263.8 326.9M264.0 327.3L261.9 329.8M263.8 326.9L261.2 328.6M261.9 329.8L261.2 328.6M263.3 325.3L263.3 325.3M263.3 325.3L263.8 326.9M258.3 326.0L258.5 328.8M258.5 328.8L261.2 328.6M266.1 323.5L265.7 324.2M266.1 323.5L268.4 321.4M265.7 324.2L268.4 326.1M268.4 321.4L270.4 324.9M270.4 324.9L268.4 326.1M264.2 320.8L266.1 323.5M266.7 319.5L268.4 321.4M268.4 321.4L268.4 321.4M267.4 328.7L268.4 326.1M271.1 320.0L268.4 321.4M272.3 325.5L270.4 324.9M270.3 330.0L270.9 329.8M270.9 329.8L272.6 327.7M275.8 330.2L275.4 332.6M272.5 331.5L275.4 332.6M280.1 333.7L281.6 336.6M280.4 322.9L280.3 322.9M206.8 401.3L206.5 404.2M206.8 401.3L203.4 399.4M206.5 404.2L204.8 404.5M204.8 404.5L203.3 404.0M203.3 404.0L203.2 399.6M201.3 422.5L200.1 418.5M200.3 422.9L198.0 423.1M198.0 423.1L197.1 420.2M197.1 420.2L198.4 418.6M189.6 410.1L190.8 412.9M189.6 410.1L192.4 408.0M190.8 412.9L193.2 412.8M193.2 412.8L194.9 411.3M190.1 414.1L185.7 414.0M190.1 414.1L190.8 412.9M185.7 414.0L185.3 413.0M185.3 413.0L186.1 410.8M189.4 410.0L189.6 410.1M275.7 314.8L276.1 317.7M276.1 317.7L275.1 318.8M275.7 314.4L275.7 314.8M281.1 315.6L280.3 318.4M279.6 318.9L276.1 317.7M270.0 316.3L270.7 317.3M270.0 316.3L271.0 314.0M271.1 320.0L271.7 319.2M270.0 316.3L269.7 316.3M237.9 311.1L237.1 312.6M237.1 312.6L237.8 314.9M240.6 315.4L237.8 314.9M239.3 336.8L239.4 336.7M239.3 336.8L241.0 339.6M243.8 336.1L244.1 339.6M243.8 336.1L243.0 335.7M244.1 339.6L241.0 339.6M236.7 340.7L239.1 342.0M236.7 340.7L236.3 339.6M241.0 339.6L239.1 342.0M190.4 320.9L193.3 322.9M193.3 322.9L194.0 321.7M186.9 321.4L186.9 321.3M186.9 321.4L190.4 320.9M196.9 320.4L197.1 320.5M197.1 320.5L199.4 320.3M194.0 321.7L196.9 320.4M198.8 324.6L196.1 324.8M196.1 324.8L197.1 320.5M214.9 335.8L212.1 337.2M201.2 338.0L202.2 335.9M201.2 338.0L197.2 333.8M202.2 335.9L201.4 332.7M203.9 329.3L203.0 331.8M199.2 328.6L201.8 332.3M221.5 318.8L222.0 316.8M225.1 317.3L222.0 316.8M219.7 315.3L221.8 316.4M222.0 316.8L221.8 316.4M229.6 316.7L227.3 319.8M225.1 317.3L227.1 314.6M229.4 316.1L227.1 314.6M229.6 316.7L232.1 318.4M232.1 318.4L233.3 314.3M233.3 314.3L232.6 313.0M229.4 316.1L232.6 313.0M223.2 313.8L227.1 314.5M227.1 314.6L227.1 314.5M237.1 312.6L232.6 312.1M237.8 314.9L236.2 316.3M232.6 313.0L232.6 312.1M215.0 305.4L211.3 304.9M215.0 305.4L214.3 308.1M214.3 308.1L210.0 307.3M211.3 304.9L210.1 306.8M210.1 306.8L210.0 307.3M209.8 307.7L210.0 307.3M208.1 302.5L211.0 302.4M211.0 302.4L211.3 304.9M204.8 307.6L204.6 305.2M215.8 304.9L215.9 305.0M218.7 307.6L215.9 305.0M220.8 304.7L219.9 303.6M215.0 305.4L215.8 304.9M218.7 307.8L218.7 307.6M187.1 317.0L189.5 313.4M194.2 309.4L194.2 309.7M195.3 310.4L195.1 310.4M194.2 309.7L195.1 310.4M185.9 311.7L188.2 311.3M189.5 313.4L188.8 311.5M194.2 314.4L195.1 310.4M194.2 309.7L189.2 311.0M190.3 305.3L189.5 309.1M183.2 309.6L186.2 306.1M185.4 304.0L185.0 303.9M183.4 310.2L183.2 309.6M188.2 311.3L186.2 306.1M190.1 304.5L186.4 304.8M182.1 311.3L179.0 311.0M179.0 311.0L178.2 308.2M181.7 307.9L179.8 307.1M179.8 307.1L178.2 308.2M172.4 307.3L175.3 306.5M172.2 303.8L175.3 304.7M172.8 310.1L174.9 310.7M174.9 310.7L176.7 308.1M175.3 306.5L176.7 308.1M175.4 304.5L175.3 304.7M197.9 310.9L199.8 314.6M199.8 314.6L200.4 314.8M200.4 314.8L200.6 314.6M195.3 310.4L197.9 310.9M196.7 315.7L199.8 314.6M201.4 317.2L200.4 314.8M202.9 309.3L203.0 309.3M202.9 309.3L201.1 313.0M203.6 313.4L200.6 314.6M198.0 423.1L197.2 423.8M193.2 422.6L194.3 423.8M194.3 423.8L194.3 425.1M190.0 423.5L189.1 425.9M194.2 420.4L197.1 420.2M194.2 420.4L193.2 422.6M197.2 423.8L194.3 423.8M189.0 426.0L189.1 425.9M257.1 423.5L256.9 423.8M247.0 423.1L244.3 423.5M247.6 425.8L247.6 423.4M245.5 419.9L247.0 423.1M250.3 422.0L247.6 423.4M250.3 422.0L250.8 421.2M250.8 421.2L250.5 418.7M272.5 420.3L269.8 423.2M268.0 419.6L269.4 422.9M269.4 422.9L269.8 423.2M270.8 425.2L270.3 427.0M234.8 405.8L232.2 403.9M232.2 403.9L233.0 401.3M233.2 401.2L236.5 403.2M236.6 403.2L236.5 403.2M252.8 416.3L251.9 413.7M251.9 413.7L249.3 413.0M210.4 400.7L211.7 402.5M214.4 398.9L214.6 399.1M211.7 402.5L214.4 400.9M212.3 409.7L209.5 405.4M212.3 409.7L211.5 411.5M210.4 411.3L208.1 406.4M210.4 411.3L211.5 411.5M207.6 411.9L210.4 411.3M206.5 408.2L208.1 406.4M207.8 400.5L206.8 401.3M207.8 400.5L210.4 400.7M206.5 404.2L208.2 405.7M206.5 408.2L204.6 408.6M204.6 408.6L203.9 407.5M203.9 407.5L204.8 404.5M208.6 416.3L210.5 416.4M207.2 412.2L207.6 411.9M211.5 411.5L211.6 411.7M211.6 411.7L210.5 416.4M250.9 417.9L250.5 418.7M247.6 409.0L247.4 411.2M247.6 409.0L246.0 407.7M240.4 424.4L240.1 424.3M240.1 424.3L236.2 424.2M235.1 426.2L236.2 424.2M235.1 426.2L235.1 426.2M185.9 402.9L186.4 401.9M185.9 402.9L184.7 404.0M186.4 401.9L183.3 399.4M184.7 404.0L181.9 403.6M181.9 403.6L181.9 400.5M183.3 399.4L181.9 400.5M191.3 404.3L189.6 401.9M191.3 404.3L188.1 406.7M188.1 406.7L185.9 402.9M186.8 401.8L189.6 401.9M186.8 401.8L186.4 401.9M182.9 408.0L181.1 404.2M182.9 408.0L184.1 407.8M181.1 404.2L181.9 403.6M190.3 389.4L188.9 391.2M188.8 391.2L186.5 390.4M186.2 390.4L186.5 390.4M184.6 424.8L184.1 423.6M190.0 423.5L187.4 421.9M187.4 421.9L184.1 423.6M182.9 408.0L182.3 408.3M182.3 408.3L180.7 411.9M180.9 412.1L180.7 411.9M163.1 414.7L163.1 414.9M157.8 419.1L160.3 419.4M174.1 420.8L172.8 420.6M174.1 420.8L174.6 423.2M172.8 420.6L169.6 422.3M167.6 421.5L169.6 422.3M207.8 400.5L207.7 397.5M207.7 397.5L208.7 396.9M169.5 385.6L166.6 387.7M170.2 390.0L168.4 390.7M168.4 390.7L166.6 387.7M166.6 387.7L164.8 386.2M161.6 387.1L163.2 386.9M164.8 386.2L163.2 386.9M160.8 393.5L161.6 395.5M162.1 401.3L161.5 396.6M161.4 396.5L161.5 396.6M168.8 400.4L167.1 402.2M164.4 400.9L165.6 399.4M166.2 399.3L165.6 399.4M168.1 406.1L168.8 405.1M163.4 401.4L164.4 400.9M168.8 405.1L167.1 402.2M164.9 397.4L161.5 396.6M164.9 397.4L165.6 399.4M234.7 328.1L234.2 329.4M234.2 329.4L235.2 330.4M238.9 330.6L240.4 328.6M240.4 328.6L240.5 327.5M240.5 327.5L239.1 325.3M237.1 325.3L239.1 325.3M232.7 325.3L234.7 328.1M233.8 329.4L229.7 327.9M233.8 329.4L234.2 329.4M257.5 311.1L260.4 311.9M261.8 315.6L262.1 315.1M262.1 315.1L260.4 311.9M266.9 318.6L264.6 314.3M262.1 315.1L264.6 314.3M264.6 314.3L265.0 313.8M232.0 339.4L233.1 339.0M236.7 340.7L234.3 343.8M232.7 342.9L233.9 343.8M236.3 339.6L233.1 339.0M239.2 348.7L242.3 346.7M242.3 346.7L240.7 344.3M240.7 344.3L239.8 344.0M239.1 342.0L239.8 344.0M234.6 351.1L235.9 354.7M235.9 354.7L236.0 354.7M239.3 351.4L239.4 353.8M239.7 350.9L239.2 348.7M233.3 356.1L235.9 354.7M237.0 357.5L236.0 354.7M239.9 357.7L240.8 355.1M240.8 355.1L239.4 353.8M221.3 357.0L223.6 354.0M226.1 355.3L224.9 354.2M224.9 354.2L223.6 354.0M220.0 352.5L222.9 353.3M222.9 353.3L223.6 354.0M267.4 361.6L270.8 360.6M266.8 360.3L270.2 357.7M270.8 360.6L271.6 358.8M271.6 358.8L270.2 357.7M265.7 358.7L267.0 357.0M265.7 358.7L262.0 358.3M265.6 354.6L267.0 357.0M265.7 358.7L266.8 360.3M270.2 357.7L269.0 356.2M267.0 357.0L269.0 356.2M237.0 334.8L237.1 335.9M235.0 332.6L232.9 334.3M233.9 335.9L232.9 334.7M232.9 334.3L232.9 334.7M239.1 331.8L237.0 334.8M239.1 331.8L240.3 332.9M237.7 336.7L237.1 335.9M233.1 339.0L233.9 335.9M233.8 329.4L231.4 332.4M230.1 338.8L229.3 337.1M224.3 339.8L226.0 336.8M229.3 337.1L226.0 336.8M232.9 334.7L229.5 336.6M229.3 337.1L229.5 336.6M229.5 336.6L229.0 332.2M200.1 361.7L198.4 361.8M201.4 344.0L201.6 346.6M201.4 344.0L197.3 343.6M201.6 346.6L197.6 347.7M188.7 350.5L189.2 352.2M188.7 350.5L190.1 347.9M191.8 352.0L189.2 352.2M191.8 352.0L192.6 348.4M192.6 348.4L190.1 347.9M188.7 350.5L186.8 349.5M189.3 346.5L190.1 347.9M189.3 346.5L186.7 346.3M186.7 346.3L186.8 349.5M186.1 345.1L189.0 341.7M189.0 341.7L190.6 344.4M190.6 344.4L189.3 346.5M186.7 346.3L186.2 345.9M168.3 321.4L172.8 323.1M172.2 319.2L173.4 322.4M168.2 324.7L169.6 325.9M172.8 323.1L172.2 325.3M172.2 325.3L172.5 325.5M175.3 328.3L172.4 329.3M172.5 325.5L172.4 329.3M186.1 345.1L184.2 342.7M184.2 342.7L182.0 343.5M186.2 345.9L183.7 347.1M182.7 315.9L179.5 317.7M180.1 321.0L183.8 319.7M156.9 328.5L160.2 329.1M156.9 328.5L155.6 330.4M159.6 332.7L156.1 332.9M156.1 332.9L156.0 332.7M153.8 326.5L155.8 327.0M153.1 330.4L155.6 330.4M155.8 327.0L156.9 328.5M153.1 332.2L156.0 332.7M159.8 333.0L159.6 332.7M155.1 335.6L156.1 332.9M155.4 315.6L153.8 318.7M165.1 316.6L160.9 320.6M160.9 320.6L160.8 320.6M164.1 325.6L161.1 327.0M161.1 327.0L160.6 325.5M162.5 321.9L160.6 325.5M155.8 327.0L157.8 324.0M160.8 328.7L160.2 329.1M160.6 325.5L157.8 324.0M167.6 343.2L167.0 343.4M167.6 347.7L168.6 346.6M165.2 343.4L167.0 343.4M169.4 339.1L167.6 343.2M169.4 339.1L172.0 340.2M185.5 382.6L185.8 382.5M185.5 382.6L183.8 381.6M185.8 382.5L187.1 377.9M183.8 381.6L185.0 377.9M185.0 377.9L186.5 377.5M186.5 377.5L187.1 377.9M189.0 382.8L185.8 382.5M183.5 381.6L183.8 381.6M182.3 376.3L185.0 377.9M190.8 375.6L189.8 373.1M190.8 375.6L186.7 375.2M189.8 373.1L187.9 372.1M187.9 372.1L186.2 372.5M186.5 377.5L186.7 375.2M171.2 370.1L171.7 365.6M171.2 370.1L168.8 369.7M168.2 369.3L168.8 369.7M168.2 369.3L168.7 366.2M172.5 371.1L171.2 370.1M175.4 369.2L173.5 365.2M172.8 364.9L173.5 365.2M172.8 364.9L171.7 365.6M168.1 365.7L168.7 366.2M168.1 360.6L172.1 362.9M172.1 362.9L172.8 364.9M185.4 369.7L184.1 368.0M185.4 369.7L186.2 372.5M257.4 390.0L256.2 394.8M254.8 389.8L253.0 392.5M253.0 392.5L254.2 395.2M254.2 395.2L256.2 394.8M260.4 393.2L258.1 395.6M260.4 393.2L260.6 392.8M260.6 392.8L257.4 390.0M256.2 394.8L258.1 395.6M261.7 396.9L258.3 396.1M258.3 396.1L258.1 395.6M246.6 387.1L245.1 388.0M246.6 387.1L249.4 387.7M249.4 387.7L249.6 388.1M249.6 388.1L245.3 391.2M245.1 388.0L244.5 389.5M244.5 389.5L245.3 391.2M250.8 384.0L249.4 387.7M250.8 384.0L253.8 384.0M252.8 388.5L250.0 388.6M250.0 388.6L249.6 388.1M250.6 392.0L249.4 393.4M250.6 392.0L249.9 389.3M253.0 392.5L250.6 392.0M249.3 394.4L250.7 396.8M250.7 396.8L252.6 397.5M245.5 391.7L245.3 391.2M245.5 391.7L246.5 391.7M244.3 394.5L246.3 395.2M249.3 394.4L246.3 395.2M265.6 364.9L267.1 362.4M267.0 367.6L266.4 367.7M267.0 367.6L267.8 363.2M267.8 363.2L267.2 362.3M267.2 362.3L267.1 362.4M262.1 363.0L267.1 362.4M262.1 363.0L261.9 364.0M261.9 364.0L262.6 364.8M262.6 364.8L265.6 364.9M265.6 368.1L266.4 367.7M265.6 368.1L263.6 367.4M271.1 365.5L267.8 363.2M267.7 367.8L267.0 367.6M272.2 363.1L270.8 360.6M267.4 361.6L267.2 362.3M261.7 361.5L261.7 358.6M265.6 368.1L265.0 371.1M263.6 367.4L261.1 369.3M261.1 369.3L261.4 370.5M261.4 370.5L262.4 371.2M257.3 422.9L258.5 422.2M257.3 422.9L257.1 423.5M258.5 422.2L260.6 422.9M269.4 422.9L265.3 424.1M265.5 416.4L265.2 414.4M262.2 414.2L265.2 414.4M262.2 414.2L261.7 415.6M269.0 404.8L265.7 405.0M265.7 405.0L265.6 402.4M267.7 408.0L266.6 408.1M266.6 408.1L265.4 406.0M265.7 405.0L265.4 406.0M265.6 402.4L265.3 402.3M263.0 397.8L261.6 399.5M263.0 397.8L264.1 397.4M261.6 399.5L262.9 402.8M265.3 402.3L262.9 402.8M262.3 409.7L265.6 409.2M261.9 410.8L266.2 413.2M265.6 409.2L266.8 412.9M266.8 412.9L266.2 413.2M265.2 414.4L266.2 413.2M266.6 408.1L265.6 409.2M262.3 409.7L263.1 405.7M263.1 405.7L261.8 404.2M260.1 404.4L261.8 404.2M265.4 406.0L263.1 405.7M256.5 408.9L258.2 407.0M258.2 407.0L258.9 406.7M262.9 402.8L261.8 404.2M211.0 393.1L211.4 393.8M211.0 393.1L211.3 391.3M214.4 394.5L216.5 394.1M215.9 389.5L216.5 394.1M233.1 380.7L232.6 382.4M237.7 377.2L237.2 379.1M237.2 379.1L236.5 380.9M233.1 380.7L236.5 380.9M230.3 400.3L229.4 401.9M274.0 368.6L271.6 372.1M276.2 370.9L275.5 373.0M275.5 373.0L272.4 373.0M272.4 373.0L271.6 372.1M273.1 367.7L274.0 368.6M276.8 369.4L276.1 370.1M269.4 371.2L271.6 372.1M275.8 374.4L275.5 373.0M271.3 375.1L272.4 373.0M263.1 389.7L261.0 392.7M261.0 392.7L264.6 395.0M265.0 396.5L264.6 395.0M263.0 397.8L261.7 396.9M257.6 331.0L258.2 330.7M254.6 324.7L254.5 324.8M254.6 324.7L255.1 324.8M258.2 330.7L258.5 328.8M253.8 328.6L254.5 324.8M261.1 335.1L260.7 331.8M261.1 335.1L264.3 336.0M264.3 336.0L264.5 331.7M264.5 331.7L261.5 331.5M261.5 331.5L260.7 331.8M257.4 331.3L258.9 336.5M258.9 336.5L261.1 335.1M257.4 331.3L257.6 331.0M258.2 330.7L260.7 331.8M261.9 329.8L261.5 331.5M272.5 331.5L272.0 332.5M272.0 332.5L269.3 334.9M279.0 333.4L276.6 334.2M279.5 338.9L276.9 334.7M272.0 332.5L274.0 335.0M275.8 333.8L274.0 335.0M269.3 334.9L273.8 335.2M273.8 335.2L274.0 335.0M246.2 384.0L246.6 387.1M245.1 388.0L242.2 385.3M242.2 385.3L243.5 383.3M241.0 385.7L240.5 381.0M241.0 385.7L240.8 385.8M240.5 381.0L238.7 381.9M237.2 379.1L241.0 380.5M236.5 380.9L237.7 382.0M241.0 380.5L240.5 381.0M244.3 394.5L243.7 394.8M243.7 394.8L241.4 393.7M244.5 389.5L241.5 389.8M241.4 393.7L241.5 389.8M242.2 385.3L241.0 385.7M239.5 387.0L239.6 388.6M239.6 388.6L241.5 389.8M194.8 416.4L195.5 416.3M194.8 416.4L193.2 412.8M195.5 416.3L197.4 414.3M197.4 414.3L196.6 411.1M194.0 417.2L193.8 418.5M194.0 417.2L190.4 416.1M193.8 418.5L190.1 419.2M190.4 416.1L189.0 418.0M190.1 419.2L189.0 418.0M194.8 416.4L194.0 417.2M195.5 416.3L198.4 418.6M194.2 420.4L193.8 418.5M190.1 414.1L190.4 416.1M191.2 422.7L190.1 419.2M191.3 404.3L192.5 404.9M195.6 400.6L193.6 399.8M195.6 400.6L195.1 402.1M190.2 400.7L189.6 401.9M197.2 409.9L194.7 406.4M192.4 408.0L193.0 405.9M196.6 411.0L196.6 411.1M194.7 406.4L193.0 405.9M193.0 405.9L192.5 404.9M200.2 407.1L200.6 404.6M200.0 407.5L196.5 405.8M200.1 403.8L200.6 404.6M200.1 403.8L197.2 404.2M197.2 404.2L196.5 405.8M203.9 407.5L200.2 407.1M197.2 409.9L199.8 408.0M199.8 408.0L200.0 407.5M194.7 406.4L196.5 405.8M199.7 401.9L200.6 400.6M203.2 399.6L200.6 400.6M195.9 400.5L195.6 400.6M232.1 318.4L233.0 319.7M236.2 316.3L235.9 317.7M235.9 317.7L233.0 319.7M232.8 320.6L233.0 319.7M255.1 335.8L258.7 336.9M263.4 341.4L259.2 342.0M263.4 341.4L263.4 341.4M259.2 342.0L258.3 340.4M264.6 336.4L264.3 336.0M258.7 336.9L259.0 338.5M253.5 361.5L256.8 361.6M256.5 364.4L256.8 362.5M256.8 358.9L254.3 359.1M254.3 359.1L253.5 361.5M261.9 364.0L258.0 366.1M258.0 366.1L256.5 364.4M261.7 361.5L256.8 362.5M239.7 350.9L243.8 350.0M243.3 347.3L243.8 350.0M243.3 347.3L242.3 346.7M201.1 338.2L202.9 339.7M201.1 338.2L198.2 339.6M197.7 340.6L202.4 342.2M202.9 339.7L202.4 342.2M208.1 329.5L208.6 331.4M205.3 333.2L208.6 331.4M211.4 332.7L208.8 331.6M208.6 331.4L208.8 331.6M183.0 324.7L183.1 324.7M186.9 321.4L186.9 321.6M183.1 324.7L186.9 321.6M192.5 329.4L190.8 328.1M193.5 348.0L193.2 344.8M192.7 344.5L193.2 344.8M197.0 349.2L197.6 347.7M197.0 349.2L193.5 348.0M197.3 343.6L197.0 343.3M193.2 344.8L197.0 343.3M197.7 340.6L196.9 341.7M201.4 344.0L202.4 343.1M202.4 343.1L202.4 342.2M197.0 343.3L196.9 341.7M220.8 304.7L221.7 304.7M221.7 304.7L223.8 303.0M230.5 304.0L226.2 304.2M225.7 303.2L226.2 304.2M174.6 313.9L176.8 315.1M174.6 313.9L175.0 310.9M175.0 310.9L178.5 312.1M177.1 315.1L176.8 315.1M177.1 315.1L178.5 313.5M172.6 314.5L174.6 313.9M174.9 310.7L175.0 310.9M179.0 311.0L178.5 312.1M176.7 308.1L178.2 308.2M181.4 313.9L178.5 313.5M177.3 303.6L179.9 306.2M179.9 306.2L182.0 302.6M175.4 304.5L177.3 303.6M185.0 303.9L182.0 302.6M255.2 420.5L258.1 416.8M255.2 420.5L253.9 416.4M253.9 416.4L255.9 415.6M255.9 415.6L257.3 415.8M257.3 422.9L255.2 420.5M258.1 416.8L258.1 416.8M250.8 421.2L255.2 420.5M253.8 424.4L252.4 424.2M254.8 412.8L255.9 415.6M254.8 412.8L253.6 411.8M253.6 411.8L251.9 413.7M254.8 412.8L258.2 411.6M258.8 412.1L257.3 415.8M242.5 407.3L240.7 405.0M240.7 404.9L243.5 402.9M240.7 404.9L240.7 405.0M246.2 405.4L243.5 402.9M240.7 404.9L240.2 404.4M240.2 404.4L240.2 402.9M241.3 400.1L240.2 402.9M241.3 400.1L243.9 402.1M243.9 402.1L243.5 402.9M247.6 409.0L250.2 407.9M246.2 405.4L248.1 403.4M248.1 403.4L250.6 404.4M250.6 404.4L250.2 407.9M249.3 413.0L253.2 409.1M250.2 407.9L253.2 409.1M242.3 422.9L241.7 420.3M240.1 424.3L239.0 420.3M236.0 422.0L233.3 417.9M233.0 417.8L233.3 417.9M233.0 417.8L231.7 418.7M231.7 418.7L232.2 422.2M236.0 422.1L232.2 422.2M236.0 422.1L236.0 422.0M239.0 420.3L238.1 420.5M236.2 424.2L236.0 422.1M232.5 416.2L234.5 412.1M232.5 416.2L230.2 413.7M230.2 413.7L233.9 411.9M234.5 412.1L233.9 411.9M228.2 426.7L228.3 424.3M228.3 424.3L229.8 423.6M229.8 423.6L231.0 424.0M231.0 424.0L231.8 425.1M226.2 423.8L228.3 424.3M235.1 426.2L231.8 425.1M228.7 419.0L229.8 423.6M228.7 419.0L231.7 418.7M195.9 400.4L198.8 397.4M194.7 395.1L198.9 397.0M198.8 397.4L198.9 397.0M195.9 400.5L195.9 400.4M200.6 400.6L198.8 397.4M182.2 393.0L183.2 394.9M186.2 390.4L184.8 394.3M184.8 394.3L183.2 394.9M179.1 396.4L182.3 396.8M183.2 394.9L182.3 396.8M187.4 421.9L186.8 418.8M189.0 418.0L187.1 418.3M185.7 414.0L185.5 414.7M187.1 418.3L185.5 414.7M180.9 412.1L181.4 415.1M185.5 414.7L182.5 416.4M181.4 423.8L179.2 423.4M183.7 423.3L183.5 419.6M179.1 423.3L179.0 419.9M179.0 419.9L180.0 419.2M180.0 419.2L182.2 418.7M183.5 419.6L182.2 418.7M184.1 423.6L183.7 423.3M178.5 426.2L179.2 423.4M186.8 418.8L183.5 419.6M174.7 423.3L179.1 423.3M174.1 420.8L176.0 418.7M176.0 418.7L179.0 419.9M179.2 416.0L181.4 415.1M179.2 416.0L180.0 419.2M182.3 408.3L179.3 407.2M179.4 404.2L178.5 403.5M175.5 415.5L173.9 412.2M175.5 415.5L177.3 414.7M179.4 411.9L177.7 410.4M175.2 416.1L175.5 415.5M180.7 411.9L179.4 411.9M161.0 420.0L160.6 422.3M164.3 422.2L162.4 420.4M160.3 419.4L161.0 420.0M164.1 418.3L163.1 414.9M158.1 423.5L160.6 422.3M160.4 425.1L160.9 423.4M164.9 422.5L164.3 422.2M171.5 418.3L167.8 419.3M171.5 418.3L172.3 416.5M171.4 415.8L172.3 416.5M167.7 419.1L167.8 419.3M172.8 420.6L171.5 418.3M167.6 421.5L167.8 419.3M175.2 416.1L172.3 416.5M171.0 413.4L171.4 415.8M163.3 414.6L167.6 416.9M164.1 418.3L167.7 419.1M199.5 396.5L203.0 396.4M199.4 395.4L201.6 391.3M201.6 391.3L203.0 396.4M207.7 397.5L204.3 396.5M208.7 396.9L206.2 393.4M206.2 393.4L204.3 396.5M203.4 399.4L203.6 396.8M204.3 396.5L203.6 396.8M199.5 396.5L198.9 397.0M168.4 390.7L167.9 391.5M163.2 386.9L165.1 391.6M167.9 391.5L165.1 391.6M161.1 391.6L164.6 391.8M164.6 391.8L165.1 391.6M161.6 395.5L164.1 394.8M164.6 391.8L164.1 394.8M164.9 397.4L165.8 395.6M164.1 394.8L165.8 395.6M170.4 397.1L173.1 394.7M170.4 397.1L168.9 396.3M173.1 394.7L168.0 392.2M167.8 394.8L168.0 392.2M173.8 393.9L173.3 394.6M173.3 394.6L173.1 394.7M167.9 391.5L168.0 392.2M166.2 399.3L168.9 396.3M165.8 395.6L167.8 394.8M241.1 317.5L237.0 318.6M241.1 317.5L241.1 317.5M240.8 322.0L240.9 321.9M240.6 315.4L241.1 317.5M235.9 317.7L237.0 318.6M239.1 325.3L240.8 322.0M244.5 326.6L240.5 327.5M242.6 322.0L240.9 321.9M243.8 314.9L246.8 316.4M243.8 314.9L243.8 317.7M243.8 317.7L245.7 318.5M243.0 314.1L243.8 314.9M241.1 317.5L243.8 317.7M248.6 314.7L248.3 315.3M265.7 312.7L265.0 309.8M265.7 312.7L265.1 313.7M265.0 309.8L262.1 308.7M261.4 310.2L262.0 308.7M262.1 308.7L262.0 308.7M269.7 311.9L265.7 312.7M266.1 308.4L265.0 309.8M265.0 313.8L265.1 313.7M260.4 311.9L261.4 310.2M262.8 304.8L262.1 308.7M258.3 307.9L262.0 308.7M236.2 365.0L236.4 365.1M237.1 370.4L237.4 370.0M237.4 370.0L236.4 365.1M252.1 358.2L250.9 359.3M252.1 358.2L254.3 359.1M250.9 359.3L250.4 361.0M226.4 342.9L225.6 347.2M225.6 347.2L222.4 346.9M224.9 354.2L226.3 350.9M222.9 353.3L223.5 350.0M226.3 350.9L223.5 350.0M220.3 349.9L222.1 347.6M223.5 350.0L222.1 347.6M222.4 346.9L222.1 347.4M222.1 347.4L222.1 347.6M233.3 356.1L230.9 353.8M226.1 355.3L229.8 353.6M230.1 353.7L229.8 353.6M266.0 354.0L266.4 351.3M265.6 354.6L266.0 354.0M262.3 354.0L263.9 350.8M263.9 350.8L262.0 349.2M260.6 349.0L262.0 349.2M262.6 354.8L262.3 354.0M264.7 350.7L263.9 350.8M264.7 350.7L266.4 351.3M266.0 345.9L264.9 344.7M264.9 344.7L264.5 344.9M264.5 344.9L262.0 349.2M251.9 354.8L252.3 354.3M251.9 354.8L252.1 358.2M252.3 354.3L252.8 354.2M228.8 332.1L225.0 334.3M228.8 332.1L228.1 329.3M226.7 329.1L223.1 333.0M223.1 333.0L225.0 334.3M225.7 336.4L225.0 334.3M229.0 332.2L228.8 332.1M229.3 328.1L228.1 329.3M222.8 333.0L223.1 333.0M201.6 346.6L202.0 347.0M202.0 347.0L204.7 347.2M204.9 344.0L202.4 343.1M204.9 344.0L205.1 346.4M205.1 346.4L204.7 347.2M210.9 351.8L207.1 351.3M206.6 354.4L207.1 351.3M200.8 351.2L201.3 350.7M201.3 350.7L205.5 349.7M202.5 353.8L206.7 350.9M205.5 349.7L206.4 350.4M197.1 349.6L200.8 351.2M197.1 349.6L196.0 351.9M197.1 349.6L197.0 349.2M202.0 347.0L201.3 350.7M207.1 351.3L206.7 350.9M205.1 346.4L208.3 346.2M208.3 346.2L208.7 347.4M208.7 347.4L206.4 350.4M211.8 348.4L208.7 347.4M188.7 353.0L189.2 352.2M188.7 353.0L186.4 352.8M186.8 349.5L185.4 350.1M185.4 350.1L186.4 352.8M165.5 326.5L165.7 329.5M169.6 325.9L169.0 329.3M169.0 329.3L165.7 329.5M164.0 334.2L164.9 332.8M164.9 330.2L164.9 332.8M171.4 330.6L169.1 329.3M171.4 330.6L171.7 331.1M171.7 331.1L171.1 333.0M171.1 333.0L168.2 332.3M168.2 332.3L169.1 329.3M172.4 329.3L171.4 330.6M169.0 329.3L169.1 329.3M175.3 328.3L175.7 329.4M175.7 329.4L174.6 331.8M174.6 331.8L171.7 331.1M174.6 331.8L175.5 332.8M175.5 332.8L173.2 335.8M171.0 334.6L173.2 335.8M171.0 334.6L171.1 333.0M169.5 335.4L167.4 333.3M167.4 333.3L168.2 332.3M167.4 333.3L164.9 332.8M179.4 327.5L179.4 328.1M183.4 329.7L181.3 331.2M186.4 329.3L186.3 328.3M183.1 324.7L186.3 328.3M184.2 342.7L184.6 341.6M184.6 341.6L186.1 339.3M169.0 338.7L164.4 342.4M164.1 341.2L164.3 342.3M164.3 342.3L164.4 342.4M173.4 336.1L173.2 335.8M173.4 336.1L172.1 340.1M169.5 335.4L168.3 337.4M169.4 339.1L169.0 338.7M164.2 336.4L164.9 337.1M165.2 343.4L164.4 342.4M174.7 318.4L175.0 318.3M172.9 318.5L174.7 318.4M176.8 315.1L175.0 318.3M153.8 318.7L153.9 318.9M157.4 322.5L153.1 322.7M189.0 382.8L189.2 382.7M189.2 382.7L190.1 380.1M187.1 377.9L190.0 378.7M190.0 378.7L190.1 380.1M190.0 378.7L191.5 376.6M189.2 382.7L192.0 384.3M192.0 384.3L192.2 386.9M188.9 391.2L193.6 394.2M192.6 387.9L194.0 388.4M194.0 388.4L194.4 389.0M194.4 389.0L193.6 394.2M199.4 395.4L197.5 392.7M194.1 394.4L197.5 392.7M192.1 396.1L193.6 394.2M192.1 396.1L193.6 399.8M204.9 386.0L204.2 386.7M210.2 375.0L207.9 376.8M205.9 374.8L205.8 376.0M197.2 376.2L196.7 370.9M200.9 374.5L201.0 372.4M201.0 372.4L197.1 370.7M197.1 370.7L196.7 370.9M205.0 376.3L200.9 374.5M201.4 371.9L201.0 372.4M197.5 368.9L200.4 367.7M197.5 368.9L197.1 370.7M171.3 354.4L172.7 354.7M169.9 358.5L171.6 358.4M248.6 397.8L247.1 396.9M248.6 397.8L247.2 400.7M247.1 396.9L244.9 399.0M247.2 400.7L247.1 400.8M247.1 400.8L245.6 400.5M244.9 399.0L245.6 400.5M250.7 396.8L248.6 397.8M246.3 395.2L247.1 396.9M243.3 397.3L243.7 394.8M243.3 397.3L244.9 399.0M248.1 403.4L247.1 400.8M243.9 402.1L245.6 400.5M243.3 397.3L240.7 398.7M241.3 400.1L240.7 398.7M261.6 399.5L259.4 399.9M260.1 404.4L258.2 401.9M258.2 401.9L259.4 399.9M258.3 396.1L258.1 397.7M259.4 399.9L258.1 397.7M250.8 384.0L250.1 383.2M250.1 383.2L247.3 383.1M258.0 367.1L258.0 367.4M252.2 369.2L251.7 367.8M251.8 367.6L251.7 367.8M258.0 366.1L258.0 367.1M261.1 369.3L258.0 367.4M268.1 374.4L264.6 376.0M264.6 376.0L263.1 375.5M262.4 371.2L262.3 375.6M262.3 375.6L263.1 375.5M267.0 380.1L264.6 376.0M262.3 375.6L261.9 375.9M261.7 379.1L261.9 375.9M261.4 370.5L259.0 373.0M256.6 369.7L257.2 372.4M257.2 372.4L259.0 373.0M261.9 375.9L260.3 375.3M259.0 373.0L260.3 375.3M262.4 419.3L263.2 418.8M263.2 418.8L265.9 420.6M262.3 422.0L265.3 424.1M265.9 420.6L265.3 424.1M260.6 422.9L262.3 422.0M268.0 419.6L265.9 420.6M265.3 424.1L265.3 424.1M218.2 385.6L219.3 386.3M215.9 389.5L218.2 389.0M215.1 401.5L218.4 400.9M214.6 399.1L217.1 398.4M217.1 398.4L218.6 400.3M218.6 400.3L218.4 400.9M233.2 386.0L232.9 382.9M233.2 386.0L235.1 386.8M232.9 382.9L236.9 384.5M235.1 386.8L237.1 385.7M232.5 386.5L233.2 386.0M232.6 382.4L232.9 382.9M237.7 382.0L236.9 384.5M239.5 387.0L237.1 385.7M233.2 401.2L234.6 398.6M236.5 403.2L237.6 399.2M240.2 402.9L238.2 399.1M240.7 398.7L239.8 398.6M239.8 398.6L238.2 399.1M241.4 393.7L239.5 394.2M239.8 398.6L239.5 394.2M240.2 404.4L236.6 403.2M237.6 399.2L238.2 399.1M273.6 355.6L276.7 353.6M273.6 355.6L271.5 353.7M271.5 353.7L271.5 351.7M276.7 353.6L275.3 351.3M272.5 351.2L271.5 351.7M272.5 351.2L274.8 350.9M274.8 350.9L275.3 351.3M277.8 354.0L276.7 353.6M277.8 354.0L277.9 355.2M269.2 355.7L271.5 353.7M242.2 333.3L243.7 331.4M243.7 331.4L243.6 331.0M251.1 330.9L249.9 328.3M252.9 331.8L251.1 331.2M253.8 328.6L251.1 330.9M247.6 334.0L248.8 332.5M247.6 334.0L247.2 334.2M266.2 339.1L265.4 336.6M266.2 339.1L267.4 341.1M267.4 341.1L269.6 338.0M265.4 336.6L268.7 335.8M268.7 335.8L269.6 338.0M264.6 336.4L265.4 336.6M263.4 341.4L266.2 339.1M265.1 343.4L267.4 341.8M265.1 343.4L263.4 341.4M267.4 341.8L267.4 341.1M269.3 334.9L268.7 335.8M267.4 341.8L271.4 343.1M269.6 338.0L271.6 339.4M271.4 343.1L271.6 339.4M271.6 339.4L273.7 338.4M276.9 334.7L275.4 339.3M273.7 338.4L275.4 339.3M279.5 338.9L279.5 339.3M279.5 339.3L276.9 340.8M275.4 339.3L276.9 340.8M276.9 340.8L276.7 341.4M265.1 343.4L264.9 344.7M275.7 347.0L276.9 346.7M276.8 341.5L276.7 341.4M275.7 347.0L274.8 350.9M279.5 339.3L279.6 339.4M278.8 347.2L279.6 346.9M278.8 347.2L278.8 349.6M278.8 349.6L280.2 352.5M276.9 346.7L278.8 347.2M280.8 345.1L279.6 346.9M275.3 351.3L278.8 349.6M280.1 352.6L277.8 354.0M280.1 352.6L280.2 352.5M240.2 376.8L241.4 380.1M241.0 380.5L241.4 380.3M241.4 380.1L241.4 380.3M243.5 383.3L243.0 381.3M241.4 380.3L243.0 381.3M243.0 381.3L246.3 379.5M200.0 416.3L198.8 414.7M198.8 414.7L200.7 412.6M200.7 412.6L203.0 411.9M197.4 414.3L198.8 414.7M199.8 408.0L203.0 411.9M252.3 354.3L250.9 350.8M250.9 350.8L251.0 350.6M251.0 350.6L254.8 350.8M244.1 339.6L245.1 340.5M247.2 334.2L248.1 339.9M240.7 344.3L244.7 341.7M251.7 366.9L247.3 365.0M247.3 365.0L247.0 364.0M253.6 369.9L253.9 373.6M252.2 369.2L250.6 371.5M250.6 371.5L253.9 373.6M257.2 372.4L254.6 374.9M253.9 373.6L254.6 374.9M241.4 380.1L245.4 376.7M244.2 375.4L245.4 376.7M244.2 375.4L245.8 372.2M249.1 373.3L248.9 372.5M249.1 373.3L245.9 377.1M245.4 376.7L245.9 377.1M245.8 372.2L247.9 371.9M251.7 367.8L247.8 368.8M250.6 371.5L248.9 372.5M247.9 371.9L247.8 368.8M247.3 365.0L246.7 367.5M246.7 367.5L247.8 368.8M236.4 365.1L240.0 365.4M241.6 362.2L241.5 360.9M241.2 360.6L241.5 360.9M246.8 356.9L244.6 358.7M246.8 356.9L246.7 355.8M246.7 355.8L246.6 355.7M246.6 355.7L243.6 354.7M244.6 358.7L243.1 357.9M243.1 357.9L243.1 354.9M247.0 362.2L243.8 360.7M243.8 360.7L244.6 358.7M251.9 354.8L246.7 355.8M250.9 350.8L248.0 350.8M243.8 350.0L247.4 350.3M247.4 350.3L248.0 350.8M241.2 360.6L243.1 357.9M240.8 355.1L243.1 354.9M204.9 344.0L206.8 342.7M206.8 342.7L209.2 343.6M209.2 343.6L211.0 343.1M214.7 338.9L211.2 340.4M212.1 337.2L211.1 340.1M211.2 340.4L211.1 340.1M211.4 342.6L211.0 343.1M187.6 323.2L187.6 326.0M187.6 323.2L191.3 325.2M191.3 325.2L190.7 326.5M186.3 328.3L187.6 326.0M195.2 327.8L193.9 328.4M193.9 328.4L192.0 324.7M195.8 324.8L193.4 323.3M197.4 329.5L195.2 327.8M191.3 325.2L192.0 324.7M193.3 322.9L193.4 323.3M189.0 341.5L191.5 340.0M190.2 336.4L191.5 340.0M191.5 340.0L192.7 340.2M196.9 341.7L193.5 339.9M192.7 340.2L193.5 339.9M221.7 304.7L223.8 308.0M226.5 307.4L223.8 308.0M218.7 307.8L222.4 309.4M223.8 308.0L222.4 309.4M219.9 312.3L222.4 311.2M222.4 309.4L222.4 311.2M227.1 314.5L227.1 314.5M227.1 314.5L225.9 312.3M225.9 312.3L225.3 311.7M225.3 311.7L222.8 311.6M222.4 311.2L222.8 311.6M227.1 314.5L230.0 310.6M228.7 309.7L230.0 310.6M225.3 311.7L226.8 307.9M226.7 307.6L226.8 307.9M232.6 312.1L232.0 310.7M230.0 310.6L232.0 310.7M232.7 410.1L235.6 407.3M234.8 405.9L235.6 407.3M258.2 401.9L256.1 402.0M247.2 400.7L251.4 400.5M251.4 400.5L252.7 397.7M252.7 397.7L254.8 399.2M221.9 416.4L222.9 417.5M221.9 421.3L224.4 418.2M222.9 417.5L224.4 418.2M225.5 422.6L226.8 419.0M226.8 419.0L224.7 418.2M224.4 418.2L224.7 418.2M237.8 411.4L237.1 408.3M239.3 406.5L237.1 408.3M235.6 407.3L237.1 408.3M234.8 405.8L234.8 405.9M187.4 397.8L186.8 396.8M186.8 396.8L187.2 395.9M191.1 396.6L187.8 395.4M191.1 396.6L190.1 398.6M187.8 395.4L187.2 395.9M190.2 400.7L190.1 398.6M183.3 399.4L183.3 398.3M183.3 398.3L186.8 396.8M184.8 394.3L187.2 395.9M182.3 396.8L183.3 398.3M192.1 396.1L191.1 396.6M188.8 391.2L187.8 395.4M193.6 394.2L193.6 394.2M178.5 403.5L178.4 401.5M174.8 401.7L178.4 401.5M178.6 396.6L177.7 398.0M173.3 394.6L175.3 398.3M181.9 400.5L178.7 400.7M177.7 398.0L178.7 400.7M178.7 400.7L178.4 401.5M170.5 400.3L170.6 401.1M170.5 400.3L171.0 399.0M170.6 401.1L174.7 401.4M171.0 399.0L174.6 399.0M174.6 399.0L174.7 401.4M168.8 400.4L170.5 400.3M170.7 403.6L170.6 401.1M170.4 397.1L171.0 399.0M174.8 401.7L174.7 401.4M204.2 388.8L206.9 389.7M202.7 390.8L206.2 393.2M206.9 389.7L206.9 392.8M206.9 392.8L206.2 393.2M208.7 388.8L206.9 389.7M205.4 385.9L204.9 386.0M204.2 386.7L204.2 388.8M201.6 391.3L201.6 391.2M201.6 391.2L202.7 390.8M206.2 393.4L206.2 393.2M211.0 393.1L206.9 392.8M241.6 362.2L244.1 364.3M241.2 366.8L244.1 364.3M244.1 364.3L245.2 364.4M226.7 350.7L227.8 347.9M226.7 350.7L229.5 352.8M229.5 352.8L229.7 352.3M225.6 347.2L227.8 347.9M229.8 353.6L229.5 352.8M185.4 369.7L188.8 368.0M188.7 366.5L188.8 368.0M193.2 370.7L189.8 373.1M193.2 370.7L192.9 370.1M189.3 369.3L192.9 370.1M189.3 369.3L188.8 368.0M192.7 354.9L193.0 352.8M193.2 352.8L193.0 352.8M196.0 351.9L193.2 352.8M191.8 352.0L193.0 352.8M188.9 356.0L192.7 354.9M182.0 343.5L180.6 343.3M183.7 347.1L183.3 347.6M180.6 343.3L179.0 348.1M183.3 347.6L179.0 348.1M185.4 350.1L184.2 349.9M183.3 347.6L184.2 349.9M173.4 336.1L173.5 336.2M175.5 332.8L178.1 333.4M173.5 336.2L178.1 335.7M178.1 335.7L178.1 333.4M177.6 330.1L178.1 333.3M178.1 333.4L178.1 333.3M181.3 331.2L181.0 332.3M176.0 342.5L176.6 339.6M173.5 336.2L177.0 339.3M177.0 339.3L176.6 339.6M175.5 353.3L178.8 348.3M178.8 348.3L178.8 348.2M170.5 350.7L173.1 350.3M175.5 353.6L174.2 354.7M175.5 353.6L175.5 353.3M172.7 354.7L174.2 354.7M179.0 348.1L178.8 348.2M180.1 342.7L176.6 343.5M157.5 322.3L156.3 319.8M157.9 318.0L156.3 319.8M160.8 320.6L160.0 320.7M157.7 316.1L157.9 318.0M153.9 318.9L156.3 319.8M193.9 371.3L194.0 375.7M194.0 375.7L197.0 376.3M193.2 370.7L193.9 371.3M194.0 375.7L192.9 376.3M194.3 383.3L195.4 383.3M194.3 383.3L192.6 380.7M195.4 383.3L196.2 380.9M192.6 380.7L194.3 379.8M194.3 379.8L196.2 380.7M196.2 380.9L196.2 380.7M196.0 385.7L194.0 388.4M195.7 383.6L195.4 383.3M192.0 384.3L194.3 383.3M190.1 380.1L192.6 380.7M195.7 383.6L200.2 383.9M192.9 376.3L194.3 379.8M197.0 376.3L196.2 380.7M200.1 386.1L198.2 386.7M200.6 390.9L198.7 391.0M176.9 354.4L178.7 356.2M176.9 354.4L180.5 351.3M178.7 356.2L181.7 354.8M181.7 354.8L182.6 353.7M182.6 353.7L182.3 353.0M175.5 353.6L176.9 354.4M178.8 348.3L180.5 351.3M186.4 352.8L183.5 354.0M183.5 354.0L182.6 353.7M178.6 356.8L178.7 356.2M178.6 356.8L178.3 357.6M178.3 357.6L175.3 358.8M174.2 354.7L174.4 358.5M175.3 358.8L174.4 358.5M171.6 358.4L173.4 359.0M172.1 362.9L172.9 361.5M173.5 365.2L175.1 364.5M175.3 358.8L176.1 360.7M178.3 357.6L179.7 361.3M250.6 376.3L246.8 378.4M246.8 378.7L250.2 380.6M250.7 380.2L250.2 380.6M251.0 375.9L249.1 373.3M245.9 377.1L246.8 378.4M250.1 383.2L250.2 380.6M216.5 394.1L217.3 394.4M218.2 389.0L220.9 391.1M220.7 397.6L223.4 396.4M220.7 397.6L218.6 395.8M222.2 394.4L218.6 395.8M217.3 394.4L218.2 395.7M220.7 399.4L218.6 400.3M224.7 396.9L225.3 399.0M225.3 399.0L224.8 400.3M220.7 399.4L222.6 400.5M219.2 404.2L220.1 404.1M228.7 419.0L228.1 418.8M226.8 419.0L227.4 418.8M228.1 418.8L227.4 418.8M230.2 413.7L229.5 413.5M229.3 408.7L228.9 412.8M236.5 395.5L238.8 393.9M236.5 395.5L233.8 393.9M237.3 390.8L235.1 390.7M236.3 398.3L236.5 395.5M239.5 394.2L238.8 393.9M235.1 386.8L235.1 390.7M232.9 390.3L234.5 391.0M232.6 394.7L231.7 396.5M230.4 397.0L231.7 396.5M229.7 398.5L225.3 399.0M233.8 393.9L232.6 394.7M234.6 398.6L231.7 396.5M230.3 400.3L229.7 398.5M277.9 355.2L280.9 357.2M251.0 350.6L252.0 348.1M252.0 348.1L254.4 346.5M254.8 350.8L255.3 346.9M243.3 347.3L245.6 345.7M247.4 350.3L247.8 346.4M247.8 346.4L245.6 345.7M245.6 345.7L245.4 343.5M253.7 337.9L253.4 336.8M253.1 336.7L251.2 337.2M253.1 336.7L253.4 336.8M255.1 335.8L253.4 336.8M258.3 340.4L255.4 340.6M247.6 334.0L251.2 337.2M250.6 331.8L253.1 336.7M253.2 376.0L254.4 375.4M253.2 376.0L253.1 379.8M254.4 375.4L256.8 377.3M253.7 380.4L257.0 378.3M253.7 380.4L253.1 379.8M250.7 380.2L253.1 379.8M260.3 375.3L256.8 377.3M254.5 382.9L253.7 380.4M257.9 379.5L257.0 378.3M245.0 371.5L241.3 372.0M244.1 368.6L243.1 368.2M243.1 368.2L241.7 368.0M241.7 368.0L240.4 369.9M241.3 372.0L240.4 369.9M245.8 372.2L245.0 371.5M240.8 374.5L241.3 372.0M241.2 366.8L241.7 368.0M237.4 370.0L240.4 369.9M204.9 339.4L206.4 340.9M209.5 339.1L208.3 336.8M208.3 336.8L207.4 336.6M206.5 336.6L207.4 336.6M206.8 342.7L206.4 340.9M201.2 338.0L201.1 338.2M208.8 331.6L207.4 336.6M192.5 331.9L196.6 333.3M194.4 336.8L196.0 335.8M196.0 335.8L196.9 333.7M190.2 336.4L191.6 335.7M197.4 329.5L196.6 333.3M193.5 339.9L194.4 336.8M198.2 339.6L196.0 335.8M197.2 333.8L196.9 333.7M231.0 305.1L228.5 306.7M231.0 305.1L233.3 306.4M228.5 306.7L233.0 308.9M233.3 306.4L233.7 307.1M233.7 307.1L233.7 307.8M233.7 307.8L233.0 308.9M230.5 304.0L231.0 305.1M226.7 307.6L228.5 306.7M234.2 302.9L233.3 306.4M232.0 310.7L233.0 308.9M237.0 305.2L233.7 307.1M255.8 404.7L255.7 402.4M255.8 404.7L254.1 406.1M255.7 402.4L252.0 403.3M251.8 403.5L252.0 403.3M258.2 407.0L255.8 404.7M256.1 402.0L255.7 402.4M254.0 409.0L254.1 406.1M251.4 400.5L252.0 403.3M250.6 404.4L251.8 403.5M224.7 418.2L224.8 413.9M227.4 418.8L226.3 413.7M224.8 413.9L226.3 413.7M228.9 412.8L227.0 413.3M226.3 413.7L227.0 413.3M227.0 413.3L224.7 409.4M193.4 367.0L196.4 367.2M196.4 367.2L197.9 364.5M192.6 364.6L192.3 365.1M192.6 364.6L197.8 364.0M197.9 364.5L197.8 364.0M192.9 370.1L193.4 367.0M197.5 368.9L196.4 367.2M200.6 366.8L197.9 364.5M198.4 361.8L197.8 364.0M183.5 354.0L186.7 357.7M186.7 357.7L185.0 359.3M181.7 354.8L183.0 359.2M178.6 356.8L183.0 359.2M189.0 361.5L188.3 357.4M188.4 357.4L188.3 357.4M186.7 357.7L188.3 357.4M192.6 364.6L193.2 361.0M182.0 338.4L180.7 340.1M182.0 338.4L181.3 336.8M181.3 336.8L178.2 336.2M180.7 340.1L179.9 340.7M178.2 336.2L177.4 339.2M184.6 341.6L180.7 340.1M181.5 336.5L181.3 336.8M178.1 335.7L178.2 336.2M180.1 342.7L179.9 340.7M177.0 339.3L177.4 339.2M222.4 389.6L221.3 391.1M221.3 391.1L222.3 392.4M220.9 391.1L221.3 391.1M226.0 402.8L226.7 404.9M225.7 402.5L221.9 405.1M229.4 401.9L226.0 402.8M224.8 400.3L225.7 402.5M220.1 404.1L221.9 405.1M223.2 409.0L223.3 409.3M223.2 409.0L223.3 407.7M223.3 409.3L224.7 409.4M256.6 347.5L255.4 347.0M255.4 347.0L259.1 342.4M259.2 347.5L260.4 345.1M260.4 345.1L259.2 342.4M259.2 342.4L259.1 342.4M260.6 349.0L259.2 347.5M259.2 342.0L259.2 342.4M224.5 413.8L222.8 410.4M223.3 409.3L222.8 410.4M184.7 362.9L185.4 361.5M185.4 361.5L188.5 362.6M189.1 365.2L188.5 362.6M185.0 359.3L185.4 361.5M183.5 363.0L184.7 362.9M189.2 365.3L189.1 365.2" stroke="#da9ac6" stroke-width="0.85" fill="none" stroke-linecap="round"/><path d="M154.1 423.9h0.4M273.7 302.8h0.4M272.1 302.3h0.4M278.0 303.5h0.4M219.3 351.7h0.4M218.4 355.8h0.4M156.3 347.6h0.4M156.1 347.8h0.4M156.5 343.0h0.4M151.8 419.1h0.4M222.6 324.8h0.4M222.2 327.4h0.4M221.7 323.6h0.4M214.1 363.2h0.4M211.0 361.7h0.4M215.2 355.7h0.4M214.8 338.0h0.4M215.0 339.3h0.4M218.8 338.2h0.4M154.6 371.6h0.4M154.0 358.9h0.4M155.4 356.6h0.4M152.6 354.7h0.4M154.1 363.8h0.4M272.5 304.3h0.4M280.5 308.1h0.4M276.7 307.5h0.4M203.2 424.9h0.4M222.0 336.7h0.4M221.3 365.6h0.4M224.5 369.5h0.4M222.3 334.4h0.4M219.5 335.8h0.4M157.0 347.8h0.4M160.3 346.4h0.4M223.5 358.0h0.4M221.1 357.0h0.4M229.1 362.9h0.4M161.0 303.4h0.4M154.2 337.8h0.4M204.3 362.0h0.4M178.7 371.1h0.4M181.6 368.2h0.4M171.3 378.8h0.4M164.5 378.9h0.4M273.4 402.2h0.4M272.1 394.0h0.4M270.4 397.2h0.4M272.2 407.6h0.4M274.8 405.8h0.4M275.5 408.6h0.4M269.0 402.1h0.4M278.6 405.9h0.4M235.4 375.2h0.4M228.3 369.4h0.4M228.7 372.4h0.4M224.6 370.0h0.4M266.6 305.3h0.4M271.9 307.5h0.4M232.2 321.0h0.4M203.3 424.5h0.4M163.5 411.2h0.4M163.7 413.7h0.4M163.2 414.7h0.4M156.4 426.0h0.4M160.0 425.1h0.4M156.7 425.8h0.4M161.4 425.8h0.4M171.1 386.6h0.4M176.4 394.0h0.4M179.3 388.7h0.4M180.5 387.4h0.4M244.5 307.0h0.4M258.4 304.5h0.4M225.5 342.6h0.4M222.5 345.7h0.4M228.9 340.1h0.4M229.8 327.6h0.4M213.4 325.7h0.4M215.9 328.5h0.4M214.1 323.7h0.4M211.6 351.0h0.4M163.0 303.4h0.4M166.6 307.3h0.4M169.7 307.7h0.4M155.2 336.3h0.4M166.2 322.8h0.4M161.0 386.3h0.4M152.2 396.4h0.4M157.6 394.4h0.4M154.0 406.1h0.4M154.5 399.6h0.4M204.2 367.6h0.4M205.7 365.3h0.4M206.0 365.1h0.4M178.8 374.4h0.4M183.2 373.6h0.4M167.1 374.3h0.4M159.6 371.0h0.4M159.9 369.3h0.4M163.8 371.6h0.4M164.5 369.9h0.4M164.9 370.2h0.4M254.9 389.8h0.4M252.9 388.6h0.4M253.4 386.5h0.4M214.5 387.5h0.4M213.0 390.0h0.4M258.0 386.4h0.4M280.0 375.5h0.4M278.7 379.9h0.4M272.7 389.2h0.4M275.2 388.6h0.4M277.0 391.6h0.4M276.2 389.8h0.4M210.0 422.1h0.4M274.7 314.1h0.4M268.6 308.6h0.4M269.0 309.3h0.4M274.8 311.1h0.4M280.1 321.3h0.4M244.7 312.2h0.4M244.3 312.5h0.4M239.5 336.1h0.4M242.9 335.3h0.4M205.2 317.7h0.4M200.9 322.4h0.4M203.6 328.9h0.4M207.1 328.5h0.4M185.9 320.8h0.4M206.2 305.1h0.4M207.6 315.1h0.4M205.0 314.7h0.4M215.9 310.9h0.4M215.4 311.1h0.4M222.4 320.1h0.4M221.1 318.9h0.4M184.2 315.5h0.4M191.1 306.1h0.4M240.4 424.4h0.4M241.1 423.8h0.4M225.6 422.8h0.4M185.5 425.2h0.4M168.0 411.9h0.4M172.5 412.5h0.4M165.2 408.2h0.4M171.7 425.4h0.4M174.7 423.2h0.4M170.7 387.1h0.4M170.3 390.0h0.4M172.2 391.9h0.4M250.4 311.0h0.4M254.7 308.2h0.4M248.3 312.0h0.4M240.1 358.5h0.4M236.0 372.5h0.4M239.6 376.9h0.4M181.6 326.4h0.4M171.7 312.6h0.4M172.7 318.7h0.4M172.0 310.9h0.4M168.0 311.4h0.4M167.8 313.5h0.4M152.9 330.2h0.4M153.1 331.7h0.4M168.3 321.3h0.4M152.6 313.3h0.4M181.8 380.6h0.4M176.7 371.9h0.4M175.4 369.2h0.4M272.4 365.7h0.4M270.8 365.7h0.4M270.4 369.8h0.4M268.6 379.5h0.4M270.8 419.4h0.4M204.0 368.5h0.4M201.6 371.8h0.4M214.9 385.8h0.4M223.4 375.4h0.4M277.0 368.8h0.4M269.0 390.2h0.4M280.5 382.8h0.4M279.0 386.1h0.4M272.2 385.1h0.4M259.4 325.3h0.4M261.0 317.2h0.4M256.9 313.7h0.4M261.4 316.6h0.4M260.0 322.6h0.4M268.9 329.4h0.4M265.7 329.5h0.4M273.9 324.3h0.4M275.7 320.2h0.4M267.2 322.5h0.4M266.1 324.5h0.4M264.5 321.3h0.4M267.7 327.8h0.4M199.8 423.0h0.4M190.6 412.4h0.4M189.9 409.9h0.4M188.3 414.1h0.4M276.1 317.2h0.4M275.6 318.3h0.4M280.9 316.0h0.4M238.4 315.0h0.4M197.0 320.4h0.4M201.8 336.7h0.4M203.3 330.8h0.4M199.4 328.8h0.4M221.5 318.6h0.4M223.5 317.1h0.4M227.6 319.3h0.4M225.5 314.2h0.4M227.1 314.6h0.4M209.1 302.5h0.4M218.3 307.2h0.4M218.7 307.7h0.4M195.1 310.4h0.4M194.9 311.3h0.4M189.7 308.4h0.4M185.4 307.0h0.4M188.3 304.6h0.4M174.6 310.6h0.4M200.8 314.5h0.4M197.4 423.7h0.4M193.3 422.4h0.4M194.4 423.8h0.4M250.7 421.4h0.4M269.7 423.1h0.4M232.4 404.1h0.4M232.3 403.7h0.4M235.4 402.5h0.4M236.5 403.2h0.4M250.9 413.4h0.4M212.4 402.1h0.4M209.7 405.6h0.4M208.4 407.1h0.4M207.9 406.6h0.4M204.3 408.1h0.4M210.9 414.8h0.4M237.5 424.2h0.4M235.1 426.2h0.4M186.1 402.4h0.4M183.2 399.5h0.4M207.8 398.6h0.4M161.4 395.1h0.4M168.4 405.7h0.4M234.0 329.4h0.4M258.7 311.5h0.4M266.0 317.0h0.4M264.7 314.2h0.4M234.5 339.2h0.4M239.3 342.4h0.4M240.4 354.7h0.4M222.8 353.3h0.4M266.1 358.2h0.4M263.4 358.5h0.4M266.9 356.9h0.4M266.1 359.3h0.4M269.9 357.2h0.4M267.3 356.9h0.4M233.1 334.1h0.4M240.0 332.7h0.4M225.9 336.9h0.4M229.4 336.8h0.4M201.4 344.6h0.4M186.5 346.1h0.4M173.1 321.7h0.4M172.7 323.4h0.4M184.1 346.9h0.4M156.1 332.8h0.4M155.8 332.7h0.4M160.8 320.6h0.4M161.0 326.7h0.4M167.5 343.2h0.4M166.7 343.4h0.4M171.8 340.1h0.4M184.3 380.0h0.4M188.4 382.8h0.4M183.6 381.6h0.4M187.6 375.3h0.4M186.5 377.0h0.4M174.1 366.5h0.4M256.8 392.4h0.4M260.6 393.0h0.4M258.4 390.9h0.4M258.4 396.1h0.4M258.1 395.7h0.4M247.2 389.8h0.4M249.4 387.5h0.4M251.8 388.5h0.4M252.9 392.5h0.4M250.7 396.8h0.4M244.4 394.6h0.4M266.9 362.7h0.4M267.7 363.9h0.4M267.4 362.6h0.4M263.8 364.9h0.4M261.4 370.5h0.4M257.2 423.5h0.4M265.2 414.6h0.4M264.8 414.4h0.4M263.3 397.6h0.4M262.3 403.6h0.4M211.2 393.5h0.4M264.3 394.8h0.4M264.6 395.2h0.4M261.8 331.5h0.4M257.5 331.5h0.4M272.3 332.0h0.4M278.8 333.5h0.4M275.1 334.3h0.4M237.7 379.3h0.4M237.2 381.5h0.4M193.7 413.8h0.4M190.4 419.2h0.4M194.1 419.7h0.4M190.9 421.6h0.4M192.1 404.7h0.4M195.2 400.5h0.4M195.6 400.8h0.4M192.5 407.6h0.4M192.6 404.9h0.4M202.2 400.0h0.4M263.4 341.4h0.4M243.0 350.2h0.4M197.2 343.4h0.4M227.3 304.2h0.4M174.7 313.2h0.4M178.5 312.1h0.4M179.1 305.4h0.4M175.5 304.5h0.4M255.1 415.9h0.4M257.0 415.8h0.4M253.4 420.8h0.4M253.1 424.3h0.4M239.6 422.5h0.4M232.1 421.2h0.4M233.6 422.1h0.4M234.2 412.0h0.4M230.0 418.9h0.4M198.7 397.5h0.4M198.9 397.0h0.4M195.9 400.4h0.4M199.0 397.8h0.4M185.9 415.5h0.4M176.1 418.7h0.4M178.6 403.6h0.4M175.0 414.5h0.4M176.4 415.1h0.4M180.7 411.9h0.4M161.0 420.3h0.4M162.6 420.6h0.4M159.1 423.0h0.4M167.7 419.6h0.4M166.5 416.3h0.4M201.2 396.5h0.4M168.2 390.9h0.4M163.9 394.8h0.4M167.9 392.8h0.4M168.1 397.1h0.4M241.1 317.5h0.4M236.9 318.5h0.4M244.2 315.1h0.4M243.8 316.2h0.4M241.7 317.6h0.4M264.2 309.5h0.4M262.0 308.7h0.4M265.0 313.8h0.4M252.1 358.2h0.4M223.9 347.1h0.4M226.1 350.8h0.4M222.7 348.5h0.4M222.1 347.4h0.4M222.1 347.5h0.4M227.0 354.9h0.4M265.0 344.9h0.4M252.0 354.7h0.4M228.6 331.3h0.4M224.3 331.7h0.4M224.5 334.0h0.4M223.0 333.0h0.4M205.4 351.8h0.4M189.2 352.2h0.4M186.7 349.6h0.4M171.6 331.1h0.4M168.5 332.4h0.4M172.2 329.6h0.4M169.1 329.3h0.4M175.6 329.1h0.4M167.5 333.4h0.4M167.8 332.8h0.4M185.7 327.7h0.4M164.4 342.3h0.4M172.6 338.6h0.4M164.8 337.1h0.4M164.6 342.6h0.4M175.4 317.5h0.4M189.5 378.5h0.4M190.1 378.4h0.4M190.1 383.2h0.4M191.8 393.1h0.4M194.1 388.6h0.4M195.5 393.7h0.4M192.8 395.3h0.4M204.3 386.6h0.4M208.6 376.3h0.4M200.9 373.2h0.4M196.8 370.9h0.4M197.4 369.4h0.4M172.0 354.5h0.4M247.0 396.6h0.4M243.6 395.9h0.4M245.1 400.9h0.4M241.2 399.8h0.4M258.4 402.3h0.4M259.3 400.2h0.4M250.8 384.0h0.4M247.4 383.1h0.4M251.8 367.9h0.4M261.8 377.0h0.4M216.3 401.2h0.4M233.0 384.1h0.4M234.4 383.5h0.4M235.7 386.5h0.4M237.3 383.2h0.4M233.7 400.3h0.4M274.0 355.3h0.4M274.0 351.0h0.4M266.2 339.2h0.4M267.8 340.6h0.4M265.4 336.6h0.4M276.9 340.9h0.4M276.5 346.8h0.4M275.4 348.3h0.4M279.9 346.4h0.4M277.8 350.1h0.4M279.3 353.1h0.4M280.1 352.5h0.4M243.0 381.3h0.4M241.5 380.3h0.4M199.4 415.4h0.4M199.4 414.0h0.4M250.9 350.7h0.4M251.6 370.1h0.4M255.8 373.7h0.4M243.4 378.4h0.4M244.4 375.7h0.4M245.3 358.2h0.4M243.7 358.2h0.4M211.1 340.2h0.4M193.3 323.1h0.4M191.0 338.6h0.4M196.6 341.5h0.4M226.5 313.3h0.4M232.5 311.8h0.4M231.2 310.7h0.4M235.2 406.5h0.4M248.3 400.7h0.4M223.3 417.7h0.4M187.3 397.7h0.4M190.8 397.2h0.4M183.3 398.6h0.4M185.7 394.9h0.4M182.5 397.0h0.4M188.4 392.7h0.4M174.3 396.5h0.4M170.5 400.5h0.4M174.6 399.2h0.4M206.6 393.1h0.4M202.0 391.1h0.4M229.6 352.6h0.4M229.7 353.3h0.4M188.9 368.1h0.4M192.7 354.8h0.4M183.3 347.6h0.4M176.3 341.1h0.4M176.9 351.1h0.4M178.8 348.3h0.4M157.6 318.4h0.4M194.3 383.3h0.4M194.0 382.9h0.4M194.3 379.8h0.4M191.1 380.3h0.4M182.5 353.6h0.4M182.9 353.8h0.4M178.5 357.2h0.4M175.0 358.7h0.4M171.7 358.4h0.4M248.1 377.7h0.4M250.2 380.6h0.4M250.3 375.0h0.4M250.2 381.0h0.4M219.1 400.1h0.4M222.2 400.3h0.4M219.9 404.1h0.4M228.4 418.9h0.4M236.5 395.5h0.4M234.9 394.5h0.4M235.9 390.7h0.4M230.9 396.8h0.4M233.9 398.1h0.4M230.2 399.9h0.4M253.2 347.3h0.4M253.3 336.7h0.4M258.2 340.4h0.4M255.0 379.5h0.4M252.4 379.9h0.4M258.2 376.5h0.4M254.0 381.3h0.4M257.5 379.0h0.4M242.3 368.1h0.4M205.5 340.0h0.4M208.1 336.8h0.4M207.1 336.6h0.4M206.4 341.0h0.4M197.0 333.8h0.4M230.1 307.5h0.4M233.4 306.6h0.4M233.7 307.6h0.4M230.6 304.2h0.4M192.4 364.9h0.4M197.8 364.4h0.4M196.8 367.8h0.4M197.8 363.8h0.4M187.9 357.5h0.4M181.5 337.2h0.4M178.4 336.2h0.4M180.5 340.2h0.4M177.6 338.4h0.4M221.0 391.1h0.4M226.3 403.8h0.4M221.0 404.6h0.4M223.2 409.0h0.4M223.2 411.2h0.4" stroke="#9860a8" stroke-width="1.15" stroke-linecap="round" fill="none"/></g></g>
<path d="M215.5 311.5L217 318" stroke="#d8408a" stroke-width="3.0" stroke-linecap="round"/>
<path d="M235.5 325.5L243.5 333.5" stroke="#d8408a" stroke-width="2.0" stroke-linecap="round"/>
<path d="M203 352.8L210.5 352.2" stroke="#d8408a" stroke-width="1.7" stroke-linecap="round"/>
<path d="M221 327L227 333.5" stroke="#d8408a" stroke-width="1.2" stroke-linecap="round"/>
<path d="M236.3 341.5L236.5 348.5" stroke="#d8408a" stroke-width="1.3" stroke-linecap="round"/>
<path d="M262 309L254 322" stroke="#d8408a" stroke-width="1.2" stroke-linecap="round"/>
<path d="M160 316L164 321" stroke="#d8408a" stroke-width="1.1" stroke-linecap="round"/>
<path d="M175 333L182 331" stroke="#d8408a" stroke-width="1.0" stroke-linecap="round"/>
<path d="M263.5 345L265 349" stroke="#d8408a" stroke-width="1.0" stroke-linecap="round"/>
<path d="M192 315L195 318" stroke="#d8408a" stroke-width="1.2" stroke-linecap="round"/>
<rect x="153.7" y="304" width="125" height="120" fill="none" stroke="#111" stroke-width="1.2"/>
<defs><clipPath id="h3"><rect x="225" y="376.5" width="53.5" height="47.8"/></clipPath></defs>
<rect x="225" y="376.5" width="53.5" height="47.8" fill="#f1eef1"/>
<g clip-path="url(#h3)"><g filter="url(#blr)"><path d="M234.2 426.8L229.0 424.4M224.5 420.2L225.9 420.3M227.7 422.2L225.9 420.3M239.1 374.3L241.3 379.5M241.3 379.5L241.4 379.5M230.2 383.3L224.9 385.1M230.2 383.3L230.3 378.0M222.8 383.7L224.9 385.1M233.1 373.7L230.3 378.0M267.1 405.5L265.2 410.2M267.1 405.5L272.0 405.1M269.1 413.8L276.4 407.9M276.4 407.6L276.4 407.9M280.9 401.5L276.4 407.6M279.5 412.3L276.4 407.9M243.0 413.8L250.8 419.2M245.6 408.7L246.2 408.5M246.2 408.5L253.4 416.1M253.4 416.1L250.8 419.2M277.6 417.8L276.4 418.5M276.4 418.5L276.1 422.4M276.1 422.4L267.0 426.3M265.9 426.3L267.0 426.3M267.1 405.5L264.1 399.6M264.1 399.6L272.3 398.1M227.7 422.2L236.6 415.1M236.6 415.1L233.1 411.4M228.7 413.5L233.1 411.4M239.4 416.9L243.0 413.8M239.4 416.9L236.6 415.1M233.8 406.5L233.8 406.5M245.6 408.7L243.6 407.5M233.1 411.4L233.8 406.5M233.8 406.5L236.8 398.6M243.6 407.5L239.9 397.9M247.6 398.6L255.4 398.2M247.1 407.6L256.2 405.7M256.2 405.7L257.6 400.4M259.2 411.3L257.7 414.9M246.2 408.5L247.1 407.6M257.7 414.9L253.4 416.1M259.2 411.3L265.2 410.2M263.2 399.1L264.1 399.6M263.2 399.1L257.6 400.4M263.2 399.1L265.2 390.2M254.8 390.1L256.1 388.0M261.1 423.9L265.8 426.1M265.8 426.1L270.0 417.0M269.7 416.4L270.0 417.0M269.1 413.8L269.7 416.4M257.7 414.9L259.5 417.8M276.4 418.5L270.0 417.0M265.9 426.3L265.8 426.1M239.4 416.9L240.0 423.5M234.2 426.8L239.3 424.4M239.3 424.4L240.0 423.5M266.7 384.5L267.8 382.6M267.8 382.6L265.0 375.6M264.2 374.7L265.0 375.6M239.1 374.3L233.1 373.7M267.8 382.6L273.3 381.5M265.0 375.6L272.0 376.4M273.3 381.5L272.0 376.4M270.7 390.6L270.5 390.7M270.7 390.6L279.4 390.4M272.7 397.7L280.0 398.1M266.7 384.5L266.3 389.5M266.3 389.5L270.5 390.7M275.4 382.3L273.3 381.5M275.4 382.3L270.7 390.6M279.7 387.1L278.0 382.3M275.4 382.3L278.0 382.3M265.2 390.2L266.3 389.5M280.9 401.5L280.0 398.1M258.2 381.3L255.5 385.0M258.2 381.3L255.4 376.8M255.5 385.0L249.3 381.7M255.4 376.8L250.4 377.7M250.4 377.7L249.3 381.7M258.4 381.3L258.2 381.3M256.1 388.0L255.5 385.0M241.4 379.5L247.3 382.2M247.3 382.2L249.3 381.7M223.7 404.3L223.1 398.3M229.5 404.7L229.8 395.2M223.1 398.3L229.8 395.2M233.8 406.5L229.5 404.7M230.1 395.1L231.9 394.7M236.8 398.6L231.9 394.7M241.3 379.5L237.2 384.7M230.2 383.3L233.9 385.4M237.2 384.7L233.9 385.4M231.9 394.7L233.1 391.3M233.9 385.4L233.1 391.3M247.4 398.4L241.8 396.6M242.1 392.0L242.6 390.5M242.6 390.5L245.5 389.2M249.3 390.8L245.5 389.2M233.1 391.3L242.1 392.0M237.2 384.7L242.6 390.5M255.4 426.3L249.7 423.3M261.1 423.9L255.4 426.3M249.6 423.2L249.7 423.3M278.0 382.3L278.8 381.3" stroke="#cf96c3" stroke-width="1.8" fill="none" stroke-linecap="round"/><path d="M230.2 381.9h0.4M223.9 384.4h0.4M230.8 377.2h0.4M267.3 405.5h0.4M271.3 412.0h0.4M276.4 407.8h0.4M245.9 408.6h0.4M252.6 417.0h0.4M276.4 418.6h0.4M270.3 398.4h0.4M230.4 420.1h0.4M235.5 413.9h0.4M232.9 411.5h0.4M242.3 414.4h0.4M238.2 416.1h0.4M244.3 407.9h0.4M253.5 398.3h0.4M255.5 405.9h0.4M257.2 402.0h0.4M257.7 414.8h0.4M246.5 408.2h0.4M253.4 416.1h0.4M263.5 399.3h0.4M254.9 390.0h0.4M266.2 425.2h0.4M269.7 416.5h0.4M269.6 416.2h0.4M270.5 417.1h0.4M265.8 426.2h0.4M237.6 425.2h0.4M239.8 423.8h0.4M266.8 384.4h0.4M267.1 380.8h0.4M238.7 374.2h0.4M271.1 376.3h0.4M270.6 390.6h0.4M276.4 390.5h0.4M266.6 386.7h0.4M268.7 390.1h0.4M275.0 382.1h0.4M274.4 384.0h0.4M265.2 390.2h0.4M252.8 383.6h0.4M243.0 380.2h0.4M247.4 382.1h0.4M229.7 400.0h0.4M232.9 406.1h0.4M232.4 395.1h0.4M237.4 384.4h0.4M233.8 386.5h0.4M245.1 389.3h0.4M257.2 425.5h0.4M278.7 381.4h0.4" stroke="#8a549e" stroke-width="2.0" stroke-linecap="round" fill="none"/></g></g>
<path d="M227 391.6H237.2" stroke="#d92f7c" stroke-width="1.7"/>
<path d="M227 393.6H236" stroke="#e070a8" stroke-width="0.7"/>
<ellipse cx="270.8" cy="394" rx="4.6" ry="2.2" fill="#d9307e" transform="rotate(-28 270.8 394)"/>
<ellipse cx="242" cy="414.8" rx="4.4" ry="2.8" fill="#d9307e" transform="rotate(8 242 414.8)"/>
<path d="M240.5 406L241.5 403L243 406Z" fill="#7a3d8c"/>
<rect x="225" y="376.5" width="53.5" height="47.8" fill="none" stroke="#111" stroke-width="1.2"/>
<path d="M156.5 421.4H204.3" stroke="#111" stroke-width="1.6"/>
<text x="160.5" y="417.6" font-size="7" textLength="23" lengthAdjust="spacingAndGlyphs" font-weight="bold" fill="#333">250um</text>
<path d="M208.4 332.3L212.27 325.7" stroke="#111" stroke-width="1.6"/>
<path d="M214.5 321.9L214.46 327.9L212.48 325.35L209.28 324.87Z" fill="#111"/>
<path d="M231.4 343.7L235.07 337.05" stroke="#111" stroke-width="1.6"/>
<path d="M237.2 333.2L237.31 339.2L235.27 336.7L232.06 336.3Z" fill="#111"/>
<path d="M214.5 365L210.8 359.29" stroke="#111" stroke-width="1.6"/>
<path d="M208.4 355.6L213.75 358.33L210.58 358.96L208.71 361.6Z" fill="#111"/>
<path d="M263.4 359.4L259.73 353.87" stroke="#111" stroke-width="1.6"/>
<path d="M257.3 350.2L262.67 352.88L259.51 353.53L257.67 356.19Z" fill="#111"/>
<path d="M234.4 406L234.4 398.8" stroke="#111" stroke-width="1.9"/>
<path d="M234.4 394.4L237.6 399.6L234.4 398.4L231.2 399.6Z" fill="#111"/>
<path d="M269.3 390.9L261.1 384.2L266.4 385.6L270.9 380.4Z" fill="#111"/>
<text x="321.6" y="289" font-size="11.2" class="b" font-weight="bold">E</text>
<text x="402.7" y="288.4" font-size="9.8" class="b" textLength="67.7" lengthAdjust="spacingAndGlyphs">CyTOF lung AM</text>
<text x="385.2" y="302.3" font-size="8.6" class="m" text-anchor="middle" textLength="22" lengthAdjust="spacingAndGlyphs">CD11c</text>
<text x="433.4" y="302.3" font-size="8.6" class="m" text-anchor="middle" textLength="31.5" lengthAdjust="spacingAndGlyphs">Siglec F</text>
<text x="481.8" y="302.3" font-size="8.6" class="m" text-anchor="middle" textLength="24" lengthAdjust="spacingAndGlyphs">CD11b</text>
<text x="362.5" y="328.5" font-size="8.6" class="m" text-anchor="end" textLength="12.5" lengthAdjust="spacingAndGlyphs">WT</text>
<text x="322" y="371.2" font-size="8.6" class="m" textLength="38.5" lengthAdjust="spacingAndGlyphs">Ncf2<tspan dy="-3" font-size="6">LysMcre</tspan></text>
<text x="333.5" y="413.3" font-size="8.6" class="m" textLength="27.2" lengthAdjust="spacingAndGlyphs">Cybb<tspan dy="-3" font-size="6">KO</tspan></text>
<path d="M364.4 305.7h2M364.4 308.52h2M364.4 311.34h2M364.4 314.17h2M364.4 316.99h2M364.4 319.81h2M364.4 322.63h2M364.4 325.46h2M364.4 328.28h2M364.4 331.1h2M364.4 333.92h2M364.4 336.74h2M364.4 339.57h2M364.4 342.39h2M367.9 344.3v2M370.54 344.3v2M373.17 344.3v2M375.81 344.3v2M378.45 344.3v2M381.09 344.3v2M383.72 344.3v2M386.36 344.3v2M389 344.3v2M391.63 344.3v2M394.27 344.3v2M396.91 344.3v2M399.54 344.3v2M402.18 344.3v2" stroke="#333" stroke-width="0.9"/>
<rect x="366.4" y="304.2" width="37.6" height="40.1" fill="#fff" stroke="#444" stroke-width="0.9"/>
<path d="M379.5 320.9h.9M378.8 317.6h.9M375.1 328.6h.9M375.5 317.5h.9M376.6 319.1h.9M375.2 331.5h.9M374.6 323.3h.9M372.8 326.8h.9M373.9 322.9h.9M376.0 330.0h.9M375.0 320.0h.9M377.3 333.4h.9M372.9 324.7h.9M376.4 331.7h.9M375.3 321.5h.9M376.2 317.8h.9M374.7 323.4h.9M376.8 317.6h.9M376.4 321.3h.9M374.6 326.9h.9M374.5 319.4h.9M374.4 329.9h.9M375.6 319.2h.9M374.3 329.1h.9M377.9 334.0h.9M376.9 330.1h.9M373.0 324.1h.9M374.3 324.9h.9M375.6 320.8h.9M376.2 331.2h.9M373.8 324.9h.9M374.4 321.7h.9M373.7 325.3h.9M377.8 316.4h.9M373.7 327.5h.9M373.2 327.8h.9M375.0 319.6h.9M375.3 327.4h.9M374.8 319.0h.9M374.6 320.0h.9M374.0 327.9h.9M376.1 329.0h.9M376.5 328.6h.9M374.8 321.1h.9M377.3 334.4h.9M373.8 328.8h.9M375.2 318.8h.9M373.8 326.6h.9M375.4 328.6h.9M374.7 324.3h.9M374.1 328.3h.9M374.4 329.5h.9M376.1 329.0h.9M373.8 324.1h.9M375.2 320.6h.9M372.6 326.8h.9M372.4 325.9h.9M371.8 326.9h.9" stroke="#212e96" stroke-width="0.95"/>
<path d="M383.9 325.6h.9M381.0 327.3h.9M385.2 319.3h.9M385.3 310.4h.9M381.1 314.9h.9M378.9 318.1h.9M379.8 317.9h.9M378.9 319.7h.9M378.0 318.7h.9M377.1 332.9h.9M373.9 326.0h.9M374.9 328.4h.9M375.2 329.3h.9M378.6 332.1h.9M375.5 317.9h.9M376.2 329.6h.9M374.7 328.3h.9M376.0 317.6h.9M377.6 317.9h.9M374.5 325.6h.9M376.2 330.9h.9M376.1 331.6h.9M391.9 338.8h.9M391.9 338.5h.9M392.8 338.2h.9M392.6 338.5h.9M393.8 339.0h.9" stroke="#2949b9" stroke-width="0.95"/>
<path d="M378.4 322.6h.9M380.4 314.5h.9M380.4 316.8h.9M384.4 323.6h.9M383.0 314.0h.9M380.5 314.2h.9M381.6 313.3h.9M379.6 321.0h.9M379.6 318.5h.9M380.9 316.0h.9M382.2 312.3h.9M379.0 320.7h.9M380.2 316.9h.9M381.1 314.1h.9M379.1 316.7h.9M384.2 318.4h.9M378.8 318.2h.9M380.7 321.8h.9M383.0 324.2h.9M379.3 321.4h.9M381.7 312.5h.9M381.4 321.0h.9M375.7 318.8h.9M378.3 333.2h.9M374.7 327.7h.9M379.1 317.8h.9M375.9 320.3h.9M375.2 319.2h.9M377.8 316.7h.9" stroke="#2f6dd4" stroke-width="0.95"/>
<path d="M385.5 318.1h.9M380.8 322.1h.9M382.4 313.6h.9M378.2 320.2h.9M380.4 324.5h.9M383.5 312.0h.9M384.7 330.1h.9M379.8 318.2h.9M382.8 330.8h.9M382.2 326.4h.9M382.3 314.3h.9M381.0 316.4h.9M389.6 311.5h.9M385.1 322.0h.9M384.8 314.5h.9M384.6 310.8h.9M379.5 326.4h.9M378.7 318.2h.9M379.9 314.1h.9M381.0 315.6h.9M386.5 317.3h.9M384.4 315.0h.9M378.4 316.5h.9M377.8 331.9h.9" stroke="#3791dc" stroke-width="0.95"/>
<path d="M386.4 311.0h.9M381.9 327.0h.9M384.1 316.6h.9M380.2 315.9h.9M385.5 312.7h.9M384.8 309.7h.9M382.9 321.5h.9M387.5 313.3h.9M386.3 320.2h.9M383.8 332.3h.9M384.4 313.6h.9M385.2 313.3h.9M387.2 315.8h.9M386.8 316.5h.9M386.2 309.8h.9M385.5 310.4h.9M385.7 313.2h.9M382.7 313.8h.9M386.7 312.4h.9M382.4 312.4h.9M381.0 314.6h.9M386.9 312.6h.9M382.8 316.6h.9M383.6 313.1h.9M388.0 319.8h.9M385.6 312.6h.9M380.3 314.7h.9M384.8 327.0h.9M384.8 313.5h.9M385.1 328.1h.9M379.4 318.8h.9M380.9 312.8h.9M389.0 312.2h.9M380.8 324.9h.9M383.7 310.9h.9M383.6 313.6h.9M383.3 314.0h.9M383.1 310.7h.9M384.6 313.2h.9M385.9 317.3h.9" stroke="#44b0d7" stroke-width="0.95"/>
<path d="M386.5 311.9h.9M387.7 314.3h.9M385.4 315.6h.9M386.7 316.7h.9M389.2 320.1h.9M387.6 315.5h.9M381.6 314.4h.9M386.3 312.4h.9M385.0 314.8h.9M389.3 312.6h.9M390.1 310.6h.9M385.5 313.6h.9M391.3 318.6h.9M383.8 314.6h.9M384.1 316.6h.9M385.5 309.4h.9M391.4 310.2h.9M388.2 319.0h.9M384.9 309.6h.9M386.7 313.4h.9M383.0 322.9h.9M390.5 329.8h.9M388.2 312.4h.9M388.6 320.1h.9M386.6 316.8h.9M389.1 313.2h.9M385.2 316.1h.9M394.9 329.1h.9M385.7 315.6h.9M383.5 311.8h.9M385.3 327.5h.9M389.3 320.1h.9M388.9 322.5h.9M384.6 311.5h.9M387.5 310.3h.9M387.0 314.7h.9M387.4 315.5h.9M384.3 311.3h.9M394.9 313.6h.9M388.9 333.5h.9M387.1 314.5h.9M386.1 317.0h.9" stroke="#62c5b6" stroke-width="0.95"/>
<path d="M386.6 316.9h.9M385.0 311.3h.9M389.1 313.3h.9M386.8 319.1h.9M389.2 314.4h.9M390.3 320.6h.9M390.9 334.2h.9M389.9 318.2h.9M386.9 314.8h.9M387.1 313.6h.9M385.8 315.3h.9M388.8 315.3h.9M388.4 308.9h.9M385.9 310.9h.9M385.3 309.8h.9M390.1 312.9h.9M388.1 318.1h.9M390.2 313.8h.9M389.0 320.9h.9M390.3 330.5h.9M389.7 330.6h.9M390.8 309.9h.9M386.3 308.9h.9M389.1 310.8h.9M385.7 313.8h.9M388.2 313.1h.9M390.1 314.7h.9M386.8 318.2h.9M388.3 315.6h.9M390.8 313.1h.9M389.2 319.5h.9M388.2 315.3h.9M388.4 315.6h.9M386.8 316.5h.9M386.3 325.9h.9M389.6 321.9h.9M388.0 314.0h.9M390.5 331.3h.9M390.9 319.1h.9M388.9 317.3h.9M388.1 319.5h.9M387.3 312.3h.9M386.2 313.2h.9M393.2 329.7h.9M388.4 318.3h.9M387.5 313.5h.9M388.9 319.1h.9M390.9 322.9h.9M387.4 310.4h.9M392.8 331.2h.9" stroke="#95d786" stroke-width="0.95"/>
<path d="M391.2 322.5h.9M393.3 319.2h.9M389.5 322.8h.9M390.8 324.1h.9M388.2 309.7h.9M385.1 313.4h.9M390.8 317.8h.9M388.7 310.8h.9M392.6 310.1h.9M391.0 322.2h.9M391.5 333.8h.9M390.7 308.8h.9M393.8 310.1h.9M388.4 318.6h.9M388.5 313.9h.9M390.3 318.5h.9M392.9 312.1h.9M393.5 320.7h.9M386.1 311.9h.9M390.0 316.1h.9M396.1 320.6h.9M389.0 314.9h.9M389.5 316.9h.9M389.1 310.2h.9M390.6 317.1h.9M388.7 315.5h.9M394.2 330.1h.9M393.8 314.4h.9M390.3 317.5h.9M391.5 309.3h.9M392.0 321.9h.9M390.0 309.0h.9M389.8 313.2h.9M386.5 316.9h.9M385.4 311.9h.9M392.6 322.7h.9M388.7 310.5h.9M392.7 324.2h.9M388.5 317.1h.9M390.0 329.3h.9M389.4 314.1h.9M390.0 326.6h.9M391.5 333.3h.9M390.0 309.7h.9M393.3 329.9h.9M389.6 313.2h.9M392.4 319.0h.9M390.6 318.6h.9M390.5 312.1h.9M387.4 317.5h.9M389.7 319.5h.9M386.4 318.5h.9M390.7 321.2h.9M387.4 311.4h.9M387.7 310.3h.9M390.5 322.5h.9M390.7 314.8h.9M390.6 332.2h.9M391.3 310.2h.9M388.1 316.0h.9M391.8 316.0h.9M391.0 318.9h.9M385.4 309.3h.9M389.2 321.4h.9M388.0 318.0h.9M394.8 325.3h.9M388.2 318.7h.9" stroke="#cfe153" stroke-width="0.95"/>
<path d="M391.9 323.7h.9M391.8 310.7h.9M388.2 310.4h.9M392.8 317.1h.9M395.2 319.9h.9M395.3 327.0h.9M395.6 316.0h.9M390.1 313.8h.9M397.4 327.5h.9M391.5 316.0h.9M387.3 311.7h.9M394.2 329.9h.9M387.0 309.1h.9M389.8 308.8h.9M394.7 326.7h.9M388.7 315.2h.9M390.9 322.2h.9M394.9 327.4h.9M390.2 331.1h.9M391.0 334.0h.9M391.2 333.5h.9M388.5 318.6h.9M390.3 323.9h.9M393.9 309.9h.9M393.9 328.2h.9M391.2 332.1h.9M390.3 311.9h.9M390.5 317.9h.9M388.5 311.5h.9M391.5 314.4h.9M394.7 315.6h.9M391.1 309.7h.9M396.0 315.0h.9M390.9 332.3h.9M389.8 317.4h.9M394.6 318.9h.9M394.0 329.8h.9M394.4 317.9h.9M393.6 318.0h.9M389.1 333.2h.9M393.5 312.4h.9M392.3 316.8h.9M394.7 321.9h.9M393.1 309.6h.9M392.7 332.1h.9M393.9 325.1h.9M394.1 314.6h.9M393.4 318.0h.9M394.0 311.2h.9M395.2 331.7h.9M393.4 332.2h.9M395.2 322.1h.9M392.1 332.6h.9M390.0 315.0h.9M391.1 314.4h.9M390.8 312.6h.9M394.9 319.0h.9M393.4 318.9h.9M387.8 314.4h.9M392.7 333.8h.9M392.4 310.4h.9M394.1 328.2h.9M392.4 328.3h.9M393.0 328.8h.9M391.5 309.4h.9M391.7 320.5h.9M395.3 313.8h.9M391.4 317.8h.9M392.7 315.1h.9M393.0 319.4h.9M393.6 325.2h.9M390.0 310.9h.9M394.6 329.6h.9M390.1 320.8h.9M392.4 322.5h.9M391.3 318.5h.9M393.9 331.7h.9M392.1 313.3h.9M394.3 324.8h.9M389.0 320.3h.9M394.3 322.1h.9M394.6 323.2h.9M391.3 322.6h.9M395.3 326.8h.9M393.8 323.5h.9M393.1 331.9h.9M391.8 319.3h.9M390.1 312.1h.9" stroke="#f3d837" stroke-width="0.95"/>
<path d="M393.2 313.5h.9M394.5 321.6h.9M392.8 321.8h.9M392.5 328.4h.9M391.6 318.9h.9M395.1 312.7h.9M395.5 329.2h.9M392.3 312.9h.9M391.5 316.9h.9M393.6 315.6h.9M395.7 320.1h.9M394.4 318.9h.9M395.0 312.6h.9M391.9 330.1h.9M396.5 323.7h.9M394.6 327.9h.9M393.0 324.3h.9M395.1 313.7h.9M395.7 314.2h.9M396.2 314.4h.9M393.7 314.5h.9M392.3 331.2h.9M395.5 324.1h.9M395.9 323.7h.9M396.2 320.5h.9M394.4 310.7h.9M395.8 321.9h.9M394.5 327.6h.9M395.3 320.7h.9M389.0 312.1h.9M392.6 325.4h.9M392.3 312.0h.9M391.0 321.3h.9M394.5 326.7h.9M395.7 326.1h.9M391.3 324.2h.9M393.4 324.1h.9M391.3 325.2h.9M394.2 328.3h.9M393.4 309.8h.9M398.8 318.6h.9M395.4 331.5h.9M396.0 323.8h.9M397.3 325.0h.9M393.0 322.5h.9M394.8 326.7h.9M397.4 319.5h.9M391.9 332.9h.9M390.8 318.9h.9M393.5 320.0h.9M392.9 331.6h.9M390.3 316.0h.9M393.6 327.9h.9M395.3 317.2h.9M391.6 331.9h.9M392.7 326.4h.9M390.6 313.9h.9M394.4 317.1h.9M391.8 318.0h.9M394.4 328.1h.9M393.8 332.1h.9M393.9 322.7h.9M397.2 316.4h.9M394.3 312.2h.9M391.4 326.5h.9M396.2 315.4h.9M392.3 312.5h.9M390.1 319.5h.9M393.1 320.2h.9M395.6 315.2h.9" stroke="#fab92d" stroke-width="0.95"/>
<path d="M396.5 324.1h.9M397.1 329.3h.9M399.2 317.4h.9M395.4 317.8h.9M397.9 325.8h.9M395.8 326.5h.9M399.6 321.8h.9M397.1 321.6h.9M398.1 316.6h.9M395.0 331.0h.9M397.6 319.4h.9M394.0 319.9h.9M395.1 320.1h.9M392.2 318.9h.9M394.7 315.0h.9M393.4 328.7h.9M396.3 311.9h.9M397.5 317.7h.9M395.7 323.9h.9M396.5 322.2h.9M396.0 330.8h.9M391.4 322.9h.9M392.3 311.7h.9M398.4 321.4h.9M398.8 327.5h.9M395.0 331.8h.9M397.0 324.1h.9M399.0 322.8h.9M397.1 329.0h.9M396.3 326.5h.9M398.3 323.3h.9M397.2 321.7h.9M396.9 321.2h.9M397.4 322.8h.9M395.9 315.6h.9M394.4 324.1h.9M392.2 321.3h.9M393.9 317.1h.9M395.1 325.7h.9M393.0 322.2h.9M395.4 314.3h.9M394.0 316.8h.9M396.0 324.7h.9M396.0 329.3h.9M395.9 330.4h.9M396.4 320.8h.9M392.3 330.4h.9M394.4 332.6h.9M395.2 328.1h.9M397.1 313.6h.9M394.7 319.0h.9M393.5 332.5h.9M393.5 328.7h.9M392.3 324.1h.9M395.4 327.7h.9M398.1 321.3h.9M394.1 325.6h.9M394.5 328.1h.9M397.3 318.8h.9M397.2 318.0h.9M397.8 316.0h.9M393.0 310.9h.9M397.5 324.9h.9M393.1 309.8h.9M395.6 320.4h.9M393.5 326.9h.9M394.8 317.7h.9M393.6 311.3h.9M397.3 319.1h.9M395.7 322.2h.9M397.1 319.8h.9M395.9 316.1h.9M394.5 318.0h.9M385.6 337.8h.9M385.6 339.3h.9M387.0 338.5h.9M387.1 338.4h.9M386.9 337.8h.9M388.3 338.6h.9M386.0 338.5h.9M386.4 337.6h.9" stroke="#fa9628" stroke-width="0.95"/>
<path d="M399.6 324.1h.9M395.0 321.4h.9M399.2 323.9h.9M398.2 328.5h.9M394.5 323.4h.9M395.9 321.8h.9M397.3 324.6h.9M395.8 317.9h.9M398.7 315.2h.9M397.0 329.9h.9M397.7 317.3h.9M398.4 319.9h.9M399.4 324.8h.9M396.7 314.1h.9M397.9 322.0h.9M396.7 325.3h.9M397.5 323.5h.9M397.4 318.4h.9M391.6 328.7h.9M395.0 316.4h.9M396.7 322.5h.9M397.2 317.6h.9M398.8 322.0h.9M399.0 322.4h.9M398.9 326.6h.9M399.3 320.7h.9M396.8 317.0h.9M398.4 319.3h.9M397.1 329.9h.9M399.8 323.5h.9M396.7 319.5h.9M397.8 320.3h.9M393.4 320.9h.9M395.0 316.1h.9M393.2 313.7h.9M398.6 318.0h.9M399.4 324.8h.9M398.3 316.2h.9M395.3 321.6h.9M397.3 326.8h.9M398.9 318.4h.9M396.5 322.6h.9M399.4 323.8h.9M399.0 318.9h.9M395.7 330.3h.9M397.4 326.0h.9M394.3 319.7h.9M396.7 314.3h.9" stroke="#f36a25" stroke-width="0.95"/>
<path d="M400.1 321.6h.9M397.8 318.4h.9M397.2 325.3h.9M397.8 322.0h.9M398.6 320.5h.9M398.5 317.5h.9M397.8 325.5h.9M399.1 320.3h.9M395.9 313.3h.9M395.3 318.1h.9M397.2 315.6h.9M397.3 327.0h.9M395.2 316.7h.9M399.5 321.8h.9M396.5 317.0h.9M398.4 322.1h.9" stroke="#ea4122" stroke-width="0.95"/>
<path d="M398.4 327.0h.9M399.1 320.2h.9M398.8 320.3h.9M399.3 325.0h.9M398.1 316.1h.9M396.0 330.0h.9M399.4 322.7h.9M397.8 321.5h.9M397.8 316.6h.9M399.2 323.4h.9M397.2 329.1h.9" stroke="#d6291f" stroke-width="0.95"/>
<path d="M412.6 305.7h2M412.6 308.52h2M412.6 311.34h2M412.6 314.17h2M412.6 316.99h2M412.6 319.81h2M412.6 322.63h2M412.6 325.46h2M412.6 328.28h2M412.6 331.1h2M412.6 333.92h2M412.6 336.74h2M412.6 339.57h2M412.6 342.39h2M416.1 344.3v2M418.76 344.3v2M421.42 344.3v2M424.08 344.3v2M426.74 344.3v2M429.4 344.3v2M432.06 344.3v2M434.71 344.3v2M437.37 344.3v2M440.03 344.3v2M442.69 344.3v2M445.35 344.3v2M448.01 344.3v2M450.67 344.3v2" stroke="#333" stroke-width="0.9"/>
<rect x="414.6" y="304.2" width="37.9" height="40.1" fill="#fff" stroke="#444" stroke-width="0.9"/>
<path d="M422.2 322.9h.9M421.2 324.7h.9M422.7 329.9h.9" stroke="#212e96" stroke-width="0.95"/>
<path d="M426.2 334.0h.9M422.6 324.9h.9M422.0 325.3h.9M423.1 319.0h.9M440.3 338.8h.9M440.3 338.5h.9M441.2 338.2h.9M441.0 338.5h.9M442.3 339.0h.9M420.9 326.8h.9" stroke="#2949b9" stroke-width="0.95"/>
<path d="M423.4 328.6h.9M422.2 326.0h.9M421.0 326.8h.9M424.6 331.7h.9M422.8 319.4h.9M423.9 319.2h.9M421.3 324.1h.9M423.8 317.9h.9M422.8 320.0h.9M424.4 329.0h.9M422.8 325.6h.9M422.0 326.6h.9M426.1 331.9h.9M420.0 326.9h.9" stroke="#2f6dd4" stroke-width="0.95"/>
<path d="M427.1 318.2h.9M427.2 319.7h.9M424.8 319.1h.9M423.5 331.5h.9M423.2 328.4h.9M426.9 332.1h.9M423.6 321.5h.9M422.9 323.4h.9M424.7 321.3h.9M422.5 329.1h.9M425.1 330.1h.9M423.8 320.8h.9M424.5 331.2h.9M422.6 321.7h.9M426.1 316.4h.9M422.0 327.5h.9M423.0 327.7h.9M423.3 319.6h.9M423.6 327.4h.9M423.0 328.3h.9M427.4 317.8h.9M422.3 327.9h.9M422.0 328.8h.9M423.0 324.3h.9M424.5 330.9h.9M424.4 329.0h.9M423.5 320.6h.9M420.6 325.9h.9" stroke="#3791dc" stroke-width="0.95"/>
<path d="M426.5 320.2h.9M431.4 314.0h.9M431.3 322.9h.9M427.9 321.0h.9M429.1 324.9h.9M427.6 321.4h.9M423.7 317.5h.9M424.0 318.8h.9M423.5 329.3h.9M423.2 320.0h.9M425.6 333.4h.9M424.5 317.8h.9M426.6 333.2h.9M422.9 326.9h.9M422.1 324.9h.9M421.5 327.8h.9M424.8 328.6h.9M423.0 321.1h.9M425.6 334.4h.9M423.5 318.8h.9M424.1 320.3h.9M426.1 316.7h.9M423.6 328.6h.9M422.1 324.1h.9" stroke="#44b0d7" stroke-width="0.95"/>
<path d="M430.2 327.0h.9M428.5 315.9h.9M426.7 322.6h.9M431.2 321.5h.9M428.7 314.5h.9M429.3 327.3h.9M428.8 314.2h.9M428.1 318.2h.9M427.9 318.5h.9M429.3 316.0h.9M431.2 330.8h.9M430.5 312.3h.9M430.5 326.4h.9M431.1 316.6h.9M428.7 314.7h.9M427.0 318.2h.9M427.3 320.7h.9M427.4 316.7h.9M429.0 321.8h.9M426.3 318.7h.9M425.4 332.9h.9M422.8 323.3h.9M426.7 316.5h.9M425.1 317.6h.9M423.5 319.2h.9M425.9 317.9h.9M422.6 329.5h.9M424.4 331.6h.9" stroke="#62c5b6" stroke-width="0.95"/>
<path d="M432.2 325.6h.9M429.1 322.1h.9M428.7 316.8h.9M428.7 324.5h.9M432.1 332.3h.9M429.9 313.3h.9M427.1 317.6h.9M431.0 313.8h.9M430.6 314.3h.9M429.3 316.4h.9M427.2 318.1h.9M429.2 312.8h.9M428.5 316.9h.9M432.0 313.6h.9M428.2 314.1h.9M429.3 315.6h.9M431.5 310.7h.9M434.2 317.3h.9M424.3 330.0h.9M424.5 329.6h.9M424.3 317.6h.9M422.4 328.3h.9" stroke="#95d786" stroke-width="0.95"/>
<path d="M433.4 311.3h.9M432.5 316.6h.9M435.1 316.7h.9M433.9 318.1h.9M433.4 313.4h.9M430.7 313.6h.9M429.9 314.4h.9M437.1 315.2h.9M433.1 309.7h.9M427.8 320.9h.9M438.7 318.5h.9M433.3 314.8h.9M432.7 323.6h.9M431.8 312.0h.9M434.1 315.3h.9M434.7 320.2h.9M433.9 309.4h.9M433.2 309.6h.9M433.6 319.3h.9M433.6 310.4h.9M434.6 309.8h.9M434.0 313.2h.9M431.9 311.8h.9M429.4 314.9h.9M433.7 327.5h.9M430.8 312.4h.9M429.3 314.6h.9M432.9 311.5h.9M433.1 327.0h.9M433.1 313.5h.9M432.9 310.8h.9M427.8 326.4h.9M427.7 318.8h.9M428.1 317.9h.9M432.7 311.3h.9M432.0 310.9h.9M429.5 314.1h.9M432.5 318.4h.9M430.0 312.5h.9M429.7 321.0h.9" stroke="#cfe153" stroke-width="0.95"/>
<path d="M434.8 311.9h.9M441.2 321.8h.9M436.6 309.7h.9M437.1 310.8h.9M433.9 312.7h.9M435.4 309.1h.9M436.7 318.6h.9M436.9 313.9h.9M434.5 311.9h.9M436.9 311.5h.9M434.2 310.9h.9M433.7 309.8h.9M438.2 317.4h.9M437.5 310.2h.9M432.1 314.6h.9M437.1 315.5h.9M432.5 316.6h.9M436.4 318.1h.9M432.8 313.6h.9M433.5 313.3h.9M435.0 313.4h.9M433.0 330.1h.9M438.4 309.0h.9M436.6 312.4h.9M433.7 311.9h.9M437.1 310.5h.9M439.2 309.9h.9M434.0 313.8h.9M433.5 316.1h.9M434.1 315.6h.9M433.9 310.4h.9M438.5 314.7h.9M435.1 318.2h.9M436.6 315.6h.9M436.8 315.6h.9M436.1 314.4h.9M435.1 312.4h.9M434.7 325.9h.9M438.0 321.9h.9M432.0 313.1h.9M436.5 319.5h.9M433.5 322.0h.9M434.8 318.5h.9M433.5 328.1h.9M435.8 311.4h.9M436.1 310.3h.9M434.6 313.2h.9M435.4 314.7h.9M436.5 316.0h.9M431.6 314.0h.9M433.0 313.2h.9M433.8 309.3h.9M436.4 318.0h.9M432.7 315.0h.9M431.4 324.2h.9M438.5 312.1h.9" stroke="#f3d837" stroke-width="0.95"/>
<path d="M440.3 323.7h.9M434.9 316.9h.9M434.7 311.0h.9M436.6 310.4h.9M441.2 317.1h.9M435.2 319.1h.9M437.6 314.4h.9M440.7 312.9h.9M435.7 311.7h.9M439.9 316.9h.9M439.1 308.8h.9M438.2 308.8h.9M435.9 315.5h.9M434.7 312.4h.9M435.2 314.8h.9M435.5 313.6h.9M438.9 317.9h.9M439.9 314.4h.9M435.9 313.3h.9M437.2 315.3h.9M442.8 310.7h.9M437.5 333.2h.9M437.4 312.1h.9M437.3 320.9h.9M436.6 319.0h.9M438.7 317.5h.9M435.6 315.8h.9M438.8 329.8h.9M434.9 316.9h.9M441.0 322.7h.9M441.1 324.2h.9M437.0 320.1h.9M434.7 308.9h.9M434.9 316.8h.9M438.4 329.3h.9M438.4 315.0h.9M439.2 313.1h.9M438.4 309.7h.9M436.6 315.3h.9M435.1 316.5h.9M435.2 312.6h.9M438.9 331.3h.9M437.3 317.3h.9M436.4 319.8h.9M441.1 315.1h.9M438.0 311.5h.9M434.0 312.6h.9M433.2 314.5h.9M435.7 312.3h.9M435.8 313.5h.9M440.2 318.0h.9M434.9 317.3h.9M441.9 326.9h.9M434.5 317.0h.9M436.5 318.7h.9" stroke="#fab92d" stroke-width="0.95"/>
<path d="M437.9 322.8h.9M439.2 324.1h.9M436.0 314.3h.9M437.5 313.3h.9M433.8 315.6h.9M440.0 318.9h.9M438.5 313.8h.9M441.0 310.1h.9M440.6 318.9h.9M438.7 320.6h.9M439.3 322.2h.9M442.3 310.1h.9M438.3 318.2h.9M439.3 334.0h.9M436.9 318.6h.9M442.0 320.7h.9M438.7 311.9h.9M438.3 316.1h.9M439.4 309.7h.9M436.7 308.9h.9M437.6 312.6h.9M440.8 311.7h.9M437.4 314.9h.9M440.7 331.2h.9M438.5 312.9h.9M439.7 318.6h.9M441.0 325.4h.9M438.6 313.8h.9M440.4 321.9h.9M441.6 309.6h.9M438.2 313.2h.9M438.1 330.6h.9M437.4 310.8h.9M436.9 317.1h.9M439.7 325.2h.9M437.8 314.1h.9M439.5 314.4h.9M439.2 312.6h.9M437.5 319.5h.9M438.0 313.2h.9M441.8 320.9h.9M440.8 310.4h.9M437.7 320.1h.9M440.8 319.0h.9M440.1 320.5h.9M436.4 314.0h.9M439.0 318.6h.9M435.8 317.5h.9M437.3 322.5h.9M439.8 317.8h.9M435.9 310.3h.9M441.4 319.4h.9M442.0 325.2h.9M438.1 319.5h.9M438.4 310.9h.9M440.0 331.9h.9M439.7 318.5h.9M438.9 322.5h.9M439.1 314.8h.9M439.0 332.2h.9M437.4 312.2h.9M439.7 310.2h.9M436.7 318.3h.9M437.4 320.3h.9M444.2 330.3h.9M437.3 333.5h.9M441.4 310.9h.9M437.3 319.1h.9M442.3 322.7h.9M435.4 314.5h.9M440.7 312.5h.9M435.8 310.4h.9M434.0 337.8h.9M434.0 339.3h.9M435.3 338.5h.9M435.4 338.4h.9M435.2 337.8h.9M436.7 338.6h.9M434.4 338.5h.9M434.7 337.6h.9" stroke="#fa9628" stroke-width="0.95"/>
<path d="M440.2 310.7h.9M439.2 317.8h.9M442.5 319.9h.9M439.4 322.2h.9M443.5 312.7h.9M444.1 320.1h.9M437.6 320.1h.9M438.6 331.1h.9M439.3 334.2h.9M441.4 324.3h.9M442.3 309.9h.9M442.3 328.2h.9M439.6 332.1h.9M439.3 332.3h.9M439.8 322.9h.9M437.9 316.9h.9M438.5 310.6h.9M433.9 313.6h.9M444.4 313.3h.9M439.0 317.1h.9M442.6 330.1h.9M441.9 312.4h.9M440.0 328.7h.9M439.9 309.3h.9M440.7 312.0h.9M438.7 330.5h.9M439.4 321.3h.9M442.9 326.7h.9M439.7 324.2h.9M442.4 325.1h.9M442.5 314.6h.9M441.9 318.0h.9M443.7 331.7h.9M437.5 313.2h.9M441.4 322.2h.9M442.4 316.8h.9M440.5 332.6h.9M438.4 326.6h.9M436.6 313.1h.9M442.8 332.6h.9M445.5 313.6h.9M439.3 319.1h.9M441.4 322.5h.9M440.3 332.9h.9M439.2 318.9h.9M441.3 331.6h.9M439.1 321.2h.9M442.1 327.9h.9M443.7 317.2h.9M438.5 320.8h.9M440.7 324.1h.9M435.7 315.5h.9M440.5 313.3h.9M439.0 313.9h.9M443.0 323.2h.9M443.8 326.8h.9M442.2 323.5h.9M441.5 309.8h.9M444.0 320.4h.9M437.6 321.4h.9M438.5 319.5h.9M444.1 322.2h.9" stroke="#f36a25" stroke-width="0.95"/>
<path d="M441.6 313.5h.9M439.6 322.5h.9M443.5 321.4h.9M441.7 319.2h.9M443.0 321.6h.9M443.7 319.9h.9M445.5 321.6h.9M440.9 328.4h.9M443.4 331.0h.9M443.8 327.0h.9M443.9 329.2h.9M439.9 316.0h.9M439.9 333.8h.9M441.8 328.7h.9M443.1 326.7h.9M443.4 312.6h.9M440.3 330.1h.9M444.9 323.7h.9M443.1 327.9h.9M439.6 333.5h.9M438.7 323.9h.9M441.3 312.1h.9M446.3 325.5h.9M444.7 314.4h.9M443.1 318.9h.9M445.1 325.3h.9M446.0 323.5h.9M444.6 320.5h.9M442.4 329.8h.9M442.9 327.6h.9M443.4 331.8h.9M442.0 318.0h.9M445.9 318.4h.9M439.8 310.2h.9M443.4 316.4h.9M445.1 322.5h.9M440.7 316.8h.9M444.1 326.1h.9M445.3 321.2h.9M441.1 332.1h.9M445.8 322.8h.9M444.4 330.0h.9M442.8 324.1h.9M435.2 316.5h.9M440.7 321.3h.9M442.4 311.2h.9M442.3 317.1h.9M441.8 332.2h.9M443.8 314.3h.9M443.3 329.1h.9M442.7 328.3h.9M445.5 329.9h.9M444.5 324.7h.9M439.9 333.3h.9M443.3 319.0h.9M447.9 322.7h.9M445.7 315.6h.9M441.9 318.9h.9M440.7 330.4h.9M441.1 333.8h.9M443.5 316.1h.9M442.5 328.2h.9M440.8 328.3h.9M441.5 328.8h.9M441.9 332.5h.9M438.9 312.1h.9M445.9 319.5h.9M441.9 328.7h.9M438.7 316.0h.9M442.3 331.7h.9M441.6 329.7h.9M442.7 324.8h.9M440.2 316.0h.9M442.7 322.1h.9M439.4 318.9h.9M445.9 326.0h.9M446.0 324.9h.9M444.6 315.4h.9M441.5 320.2h.9M442.0 311.3h.9M439.3 322.9h.9M445.1 314.3h.9M441.2 331.2h.9M442.9 318.0h.9" stroke="#ea4122" stroke-width="0.95"/>
<path d="M444.9 324.1h.9M448.1 324.1h.9M448.6 321.6h.9M445.5 329.3h.9M447.7 317.4h.9M447.7 323.9h.9M443.8 317.8h.9M446.4 325.8h.9M444.3 326.5h.9M448.0 321.8h.9M446.6 328.5h.9M446.5 316.6h.9M446.2 318.4h.9M446.0 319.4h.9M446.8 327.0h.9M442.9 323.4h.9M444.3 321.8h.9M444.0 316.0h.9M443.5 320.1h.9M447.6 320.2h.9M445.7 325.3h.9M445.8 327.5h.9M446.3 322.0h.9M447.0 320.5h.9M442.6 329.9h.9M445.7 324.6h.9M442.1 315.6h.9M443.1 315.0h.9M444.2 317.9h.9M444.7 311.9h.9M442.9 318.9h.9M443.4 327.4h.9M446.9 317.5h.9M447.1 315.2h.9M443.6 313.7h.9M446.0 317.7h.9M447.2 320.3h.9M444.2 323.9h.9M445.4 329.9h.9M446.1 317.3h.9M443.1 315.6h.9M444.2 314.2h.9M445.0 322.2h.9M444.5 315.0h.9M446.9 319.9h.9M444.5 320.6h.9M444.4 330.8h.9M447.9 324.8h.9M442.1 314.5h.9M447.6 320.3h.9M445.2 314.1h.9M443.9 324.1h.9M446.4 322.0h.9M444.3 323.7h.9M447.8 325.0h.9M446.8 321.4h.9M444.2 321.9h.9M447.3 327.5h.9M442.9 317.9h.9M443.7 320.7h.9M442.2 314.4h.9M445.5 324.1h.9M447.5 322.8h.9M443.1 321.9h.9M445.5 329.0h.9M446.5 316.1h.9M443.8 318.1h.9M444.8 326.5h.9M446.8 323.3h.9M445.6 317.6h.9M447.3 322.0h.9M445.7 321.7h.9M444.4 315.6h.9M447.5 322.4h.9M441.8 324.1h.9M447.4 326.6h.9M443.5 325.7h.9M443.7 322.1h.9M447.7 320.7h.9M445.2 317.0h.9M441.8 309.8h.9M446.9 319.3h.9M448.3 323.5h.9M444.5 329.3h.9M445.2 319.5h.9M446.2 320.3h.9M444.4 330.4h.9M441.8 329.9h.9M447.3 318.6h.9M444.8 320.8h.9M443.8 331.5h.9M441.6 313.7h.9M447.0 318.0h.9M444.5 323.8h.9M443.6 328.1h.9M439.9 309.4h.9M445.7 327.0h.9M443.2 319.0h.9M443.7 313.8h.9M447.9 324.8h.9M445.8 325.0h.9M443.2 326.7h.9M446.2 321.5h.9M446.3 316.6h.9M446.8 316.2h.9M441.9 320.0h.9M443.7 321.6h.9M443.6 316.7h.9M445.7 326.8h.9M443.0 329.6h.9M448.0 321.8h.9M447.6 323.4h.9M447.4 318.4h.9M445.0 322.6h.9M440.8 322.5h.9M443.8 327.7h.9M446.6 321.3h.9M442.5 325.6h.9M441.1 326.4h.9M442.9 328.1h.9M445.8 318.8h.9M445.6 318.0h.9M447.9 323.8h.9M443.4 313.6h.9M447.5 318.9h.9M445.0 317.0h.9M446.3 316.0h.9M442.8 317.1h.9M439.7 322.6h.9M442.8 328.1h.9M442.2 332.1h.9M441.5 331.9h.9M445.7 316.4h.9M442.7 319.7h.9M445.6 329.1h.9M442.8 312.2h.9M439.8 326.5h.9M440.2 319.3h.9M443.3 325.3h.9M444.0 315.2h.9M446.8 322.1h.9M443.2 317.7h.9M445.7 319.1h.9M445.5 319.8h.9M444.3 316.1h.9" stroke="#d6291f" stroke-width="0.95"/>
<path d="M461.4 305.7h2M461.4 308.52h2M461.4 311.34h2M461.4 314.17h2M461.4 316.99h2M461.4 319.81h2M461.4 322.63h2M461.4 325.46h2M461.4 328.28h2M461.4 331.1h2M461.4 333.92h2M461.4 336.74h2M461.4 339.57h2M461.4 342.39h2M464.9 344.3v2M467.56 344.3v2M470.22 344.3v2M472.88 344.3v2M475.54 344.3v2M478.2 344.3v2M480.86 344.3v2M483.51 344.3v2M486.17 344.3v2M488.83 344.3v2M491.49 344.3v2M494.15 344.3v2M496.81 344.3v2M499.47 344.3v2" stroke="#333" stroke-width="0.9"/>
<rect x="463.4" y="304.2" width="37.9" height="40.1" fill="#fff" stroke="#444" stroke-width="0.9"/>
<path d="M493.7 324.1h.9M496.9 324.1h.9M490.4 313.5h.9M488.4 322.5h.9M497.4 321.6h.9M492.3 321.4h.9M483.7 316.9h.9M494.3 329.3h.9M490.5 319.2h.9M483.6 311.9h.9M489.0 310.7h.9M481.0 325.6h.9M486.7 322.8h.9M496.5 317.4h.9M483.5 311.0h.9M496.5 323.9h.9M488.0 324.1h.9M479.0 327.0h.9M482.2 311.3h.9M491.8 321.6h.9M485.4 310.4h.9M484.8 314.3h.9M492.6 317.8h.9M490.0 321.8h.9M490.0 317.1h.9M495.2 325.8h.9M492.5 319.9h.9M486.3 313.3h.9M493.1 326.5h.9M496.8 321.8h.9M494.3 321.6h.9M481.3 316.6h.9M482.6 315.6h.9M495.4 328.5h.9M489.7 328.4h.9M495.3 316.6h.9M483.9 316.7h.9M484.0 319.1h.9M495.0 318.4h.9M482.7 318.1h.9M488.8 318.9h.9M477.3 315.9h.9M485.4 309.7h.9M492.2 331.0h.9M494.8 319.4h.9M495.6 327.0h.9M482.2 313.4h.9M491.7 323.4h.9M493.1 321.8h.9M477.9 322.1h.9M492.6 327.0h.9M488.0 317.8h.9M491.3 319.9h.9M492.8 316.0h.9M485.9 310.8h.9M487.3 313.8h.9M489.8 310.1h.9M486.4 314.4h.9M488.2 322.2h.9M482.7 312.7h.9M489.4 318.9h.9M492.3 312.7h.9M475.5 322.6h.9M492.7 329.2h.9M496.4 320.2h.9M489.5 312.9h.9M494.6 327.5h.9M488.7 316.0h.9M495.1 322.0h.9M495.8 320.5h.9M488.7 333.8h.9M484.5 311.7h.9M491.4 329.9h.9M487.5 320.6h.9M488.7 316.9h.9M494.5 324.6h.9M484.2 309.1h.9M490.9 315.6h.9M479.5 313.6h.9M487.9 308.8h.9M492.9 320.1h.9M486.4 320.1h.9M491.9 315.0h.9M487.0 308.8h.9M493.0 317.9h.9M484.7 315.5h.9M478.7 314.4h.9M483.5 312.4h.9M490.6 328.7h.9M493.5 311.9h.9M491.9 326.7h.9M491.7 318.9h.9M485.9 315.2h.9M488.1 322.2h.9M492.2 312.6h.9M491.1 310.1h.9M492.2 327.4h.9M495.7 317.5h.9M487.4 331.1h.9M481.9 309.7h.9M488.1 334.2h.9M489.1 330.1h.9M493.7 323.7h.9M480.0 321.5h.9M476.6 320.9h.9M488.1 334.0h.9M477.5 314.5h.9M491.9 327.9h.9M495.9 315.2h.9M488.4 333.5h.9M490.2 324.3h.9M477.5 316.8h.9M475.3 320.2h.9M484.0 314.8h.9M485.5 318.6h.9M485.7 318.6h.9M487.5 323.9h.9M485.7 313.9h.9M487.5 318.5h.9M490.1 312.1h.9M492.4 313.7h.9M491.1 309.9h.9M490.8 320.7h.9M484.3 313.6h.9M494.8 317.7h.9M491.1 328.2h.9M478.1 327.3h.9M488.4 332.1h.9M487.5 311.9h.9M496.0 320.3h.9M482.1 314.8h.9M487.7 317.9h.9M483.3 311.9h.9M485.7 311.5h.9M481.5 323.6h.9M495.1 325.5h.9M488.7 314.4h.9M493.0 323.9h.9M494.2 329.9h.9M494.9 317.3h.9M477.5 324.5h.9M480.6 312.0h.9M484.7 313.3h.9M487.1 316.1h.9M491.9 315.6h.9M482.9 315.3h.9M493.0 314.2h.9M488.2 309.7h.9M483.5 320.2h.9M493.5 314.4h.9M493.8 322.2h.9M493.3 315.0h.9M480.9 332.3h.9M495.7 319.9h.9M480.2 314.0h.9M493.3 320.6h.9M488.1 332.3h.9M493.2 330.8h.9M486.0 315.3h.9M496.7 324.8h.9M488.6 322.9h.9M485.5 308.9h.9M490.9 314.5h.9M486.4 312.6h.9M489.6 311.7h.9M496.4 320.3h.9M483.0 310.9h.9M486.2 314.9h.9M482.5 309.8h.9M494.0 314.1h.9M487.0 317.4h.9M486.7 316.9h.9M491.9 318.9h.9M489.5 331.2h.9M487.3 310.6h.9M492.7 324.1h.9M495.2 322.0h.9M487.3 312.9h.9M493.9 325.3h.9M482.7 313.6h.9M493.1 323.7h.9M494.8 323.5h.9M493.4 320.5h.9M496.6 325.0h.9M486.3 310.2h.9M491.2 329.8h.9M488.5 318.6h.9M495.6 321.4h.9M480.9 314.6h.9M491.6 310.7h.9M493.0 321.9h.9M493.2 313.3h.9M496.1 327.5h.9M491.7 327.6h.9M487.8 317.1h.9M485.9 315.5h.9M491.7 317.9h.9M492.5 320.7h.9M491.4 330.1h.9M481.3 316.6h.9M492.2 331.8h.9M490.8 318.0h.9M494.7 318.4h.9M491.0 314.4h.9M485.2 318.1h.9M486.3 333.2h.9M481.6 313.6h.9M486.2 312.1h.9M477.6 314.2h.9M482.7 309.4h.9M482.3 313.3h.9M489.8 325.4h.9M494.3 324.1h.9M490.7 312.4h.9M487.4 313.8h.9M488.8 328.7h.9M488.6 310.2h.9M485.4 319.0h.9M482.0 309.6h.9M483.8 313.4h.9M492.2 316.4h.9M493.9 322.5h.9M489.5 316.8h.9M487.5 317.5h.9M496.3 322.8h.9M488.7 309.3h.9M489.5 312.0h.9M480.1 322.9h.9M481.8 330.1h.9M484.4 315.8h.9M487.5 330.5h.9M482.4 319.3h.9M489.2 321.9h.9M488.2 321.3h.9M494.3 329.0h.9M476.9 318.2h.9M490.4 309.6h.9M495.3 316.1h.9M491.7 326.7h.9M487.2 309.0h.9M492.6 318.1h.9M492.9 326.1h.9M478.7 313.3h.9M493.6 326.5h.9M487.0 313.2h.9M483.7 316.9h.9M495.6 323.3h.9M488.5 324.2h.9M494.4 317.6h.9M485.4 312.4h.9M496.1 322.0h.9M494.5 321.7h.9M482.5 311.9h.9M494.1 321.2h.9M489.9 332.1h.9M489.8 322.7h.9M494.6 322.8h.9M493.2 315.6h.9M485.9 310.5h.9M486.9 330.6h.9M496.3 322.4h.9M475.9 317.6h.9M491.2 325.1h.9M493.2 330.0h.9M491.6 324.1h.9M489.9 324.2h.9M484.0 316.5h.9M491.3 314.6h.9M476.7 321.0h.9M490.6 324.1h.9M485.8 320.1h.9M488.0 309.9h.9M489.5 321.3h.9M483.5 308.9h.9M490.7 318.0h.9M476.7 318.5h.9M482.4 310.4h.9M483.7 316.8h.9M491.2 311.2h.9M483.4 309.8h.9M496.2 326.6h.9M491.1 317.1h.9M492.5 331.7h.9M482.8 313.8h.9M485.7 317.1h.9M490.6 332.2h.9M482.3 316.1h.9M487.2 329.3h.9M492.3 325.7h.9M492.5 322.1h.9M488.5 325.2h.9M490.2 322.2h.9M492.6 314.3h.9M491.2 316.8h.9M492.1 329.1h.9M482.9 315.6h.9M489.3 332.6h.9M496.5 320.7h.9M482.7 310.4h.9M486.6 314.1h.9M487.2 326.6h.9M478.1 316.0h.9M485.4 313.1h.9M487.2 315.0h.9M482.8 313.2h.9M494.0 317.0h.9M488.3 314.4h.9M480.0 330.8h.9M491.5 328.3h.9M487.3 314.7h.9M483.9 318.2h.9M485.4 315.6h.9M488.0 313.1h.9M488.0 312.6h.9M480.7 311.8h.9M495.7 319.3h.9M494.3 329.9h.9M497.1 323.5h.9M493.3 324.7h.9M488.7 333.3h.9M493.3 329.3h.9M492.1 319.0h.9M494.0 319.5h.9M487.2 309.7h.9M495.0 320.3h.9M486.3 319.5h.9M493.2 330.4h.9M490.6 329.9h.9M496.7 322.7h.9M496.1 318.6h.9M479.3 312.3h.9M486.8 313.2h.9M494.5 315.6h.9M479.8 313.8h.9M490.7 318.9h.9M478.2 314.9h.9M485.4 315.3h.9M485.6 315.6h.9M484.9 314.4h.9M483.9 316.5h.9M483.9 312.4h.9M490.6 320.9h.9M493.6 320.8h.9M492.6 331.5h.9M489.5 330.4h.9M482.5 327.5h.9M489.9 333.8h.9M489.6 310.4h.9M479.6 312.4h.9M492.3 316.1h.9M486.5 320.1h.9M490.4 313.7h.9M491.6 332.6h.9M495.8 318.0h.9M491.3 328.2h.9M493.3 323.8h.9M489.6 328.3h.9M489.6 319.0h.9M490.3 328.8h.9M488.7 309.4h.9M494.3 313.6h.9M483.5 325.9h.9M478.1 314.6h.9M486.8 321.9h.9M479.3 326.4h.9M494.5 327.0h.9M492.0 319.0h.9M488.9 320.5h.9M490.7 332.5h.9M484.0 312.6h.9M492.5 313.8h.9M496.7 324.8h.9M485.2 314.0h.9M487.7 331.3h.9M487.8 318.6h.9M494.6 325.0h.9M487.7 312.1h.9M488.1 319.1h.9M490.2 322.5h.9M484.6 317.5h.9M492.0 326.7h.9M479.4 314.3h.9M486.1 317.3h.9M478.1 316.4h.9M479.9 316.6h.9M495.0 321.5h.9M486.1 322.5h.9M481.7 311.5h.9M480.8 313.1h.9M485.3 319.5h.9M488.6 317.8h.9M485.2 319.8h.9M495.1 316.6h.9M494.7 319.5h.9M490.7 328.7h.9M484.7 310.3h.9M489.1 332.9h.9M476.0 318.1h.9M495.6 316.2h.9M488.0 318.9h.9M490.2 319.4h.9M486.8 311.5h.9M490.8 325.2h.9M490.7 320.0h.9M482.8 312.6h.9M490.1 331.6h.9M492.5 321.6h.9M486.9 319.5h.9M482.3 322.0h.9M483.6 318.5h.9M477.5 314.7h.9M487.9 321.2h.9M492.4 316.7h.9M481.9 327.0h.9M482.0 314.5h.9M481.9 313.5h.9M487.2 310.9h.9M487.5 316.0h.9M481.7 310.8h.9M476.6 326.4h.9M494.5 326.8h.9M490.9 327.9h.9M484.6 311.4h.9M491.8 329.6h.9M475.8 318.2h.9M496.8 321.8h.9M492.5 317.2h.9M488.8 331.9h.9M487.3 320.8h.9M476.5 318.8h.9M496.4 323.4h.9M489.5 324.1h.9M496.2 318.4h.9M484.5 312.3h.9M493.8 322.6h.9M489.6 322.5h.9M492.6 327.7h.9M483.4 313.2h.9M478.0 312.8h.9M488.5 318.5h.9M484.2 314.7h.9M495.4 321.3h.9M491.1 331.7h.9M491.3 325.6h.9M487.7 322.5h.9M489.9 326.4h.9M476.9 317.9h.9M490.4 329.7h.9M484.5 315.5h.9M491.7 328.1h.9M481.5 311.3h.9M489.3 313.3h.9M491.5 324.8h.9M487.9 314.8h.9M487.8 332.2h.9M494.6 318.8h.9M486.2 312.2h.9M488.5 310.2h.9M477.9 324.9h.9M485.5 318.3h.9M486.2 320.3h.9M480.8 310.9h.9M496.7 323.8h.9M492.2 313.6h.9M485.3 316.0h.9M476.1 320.7h.9M487.8 313.9h.9M489.0 316.0h.9M477.3 316.9h.9M496.3 318.9h.9M491.5 322.1h.9M488.2 318.9h.9M478.3 314.1h.9M493.8 317.0h.9M480.8 313.6h.9M491.8 323.2h.9M476.2 316.7h.9M480.4 314.0h.9M495.1 316.0h.9M477.0 314.1h.9M481.3 318.4h.9M491.6 317.1h.9M493.0 330.3h.9M484.6 313.5h.9M490.2 310.9h.9M488.5 322.6h.9M492.6 326.8h.9M491.0 323.5h.9M489.0 318.0h.9M491.6 328.1h.9M494.7 326.0h.9M491.0 332.1h.9M478.1 315.6h.9M486.1 319.1h.9M494.8 324.9h.9M480.3 310.7h.9M490.3 331.9h.9M491.1 322.7h.9M490.3 309.8h.9M494.5 316.4h.9M491.5 319.7h.9M494.4 329.1h.9M483.7 317.3h.9M492.8 320.4h.9M491.6 312.2h.9M481.8 313.2h.9M483.0 317.3h.9M484.2 314.5h.9M488.6 326.5h.9M493.4 315.4h.9M482.6 309.3h.9M486.4 321.4h.9M475.9 318.2h.9M490.7 326.9h.9M485.2 318.0h.9M489.5 312.5h.9M477.8 321.8h.9M487.3 319.5h.9M490.3 320.2h.9M476.0 319.7h.9M481.5 315.0h.9M489.0 319.3h.9M480.2 324.2h.9M492.1 325.3h.9M492.8 315.2h.9M483.3 317.0h.9M495.6 322.1h.9M492.0 317.7h.9M490.8 311.3h.9M488.1 322.9h.9M494.5 319.1h.9M492.9 322.2h.9M485.3 318.7h.9M484.6 310.4h.9M493.9 314.3h.9M494.3 319.8h.9M476.4 321.4h.9M487.3 312.1h.9M478.8 312.5h.9M493.1 316.1h.9M478.5 321.0h.9M490.0 331.2h.9M491.7 318.0h.9M475.1 318.7h.9M472.2 328.6h.9M472.5 317.5h.9M474.2 332.9h.9M472.8 318.8h.9M473.6 319.1h.9M472.3 331.5h.9M471.0 326.0h.9M471.6 323.3h.9M469.8 326.8h.9M471.0 322.9h.9M472.0 328.4h.9M473.1 330.0h.9M472.3 329.3h.9M472.0 320.0h.9M474.4 333.4h.9M470.0 324.7h.9M473.4 331.7h.9M475.7 332.1h.9M472.4 321.5h.9M473.3 317.8h.9M475.5 316.5h.9M471.7 323.4h.9M473.9 317.6h.9M475.4 333.2h.9M473.5 321.3h.9M471.7 326.9h.9M471.6 319.4h.9M471.5 329.9h.9M472.7 319.2h.9M471.3 329.1h.9M475.0 334.0h.9M473.9 330.1h.9M470.1 324.1h.9M471.4 324.9h.9M472.6 317.9h.9M472.6 320.8h.9M473.3 331.2h.9M470.9 324.9h.9M471.4 321.7h.9M470.8 325.3h.9M474.9 316.4h.9M470.8 327.5h.9M470.3 327.8h.9M471.8 327.7h.9M473.3 329.6h.9M472.4 327.4h.9M471.8 328.3h.9M471.9 319.0h.9M471.6 320.0h.9M473.1 317.6h.9M476.2 317.8h.9M471.1 327.9h.9M473.2 329.0h.9M473.6 328.6h.9M471.8 321.1h.9M474.4 334.4h.9M470.8 328.8h.9M472.3 318.8h.9M472.9 320.3h.9M472.3 319.2h.9M474.7 317.9h.9M474.9 316.7h.9M471.6 325.6h.9M470.8 326.6h.9M471.8 324.3h.9M471.2 328.3h.9M471.4 329.5h.9M473.3 330.9h.9M473.2 329.0h.9M470.9 324.1h.9M474.9 331.9h.9M472.3 320.6h.9M473.2 331.6h.9M469.7 326.8h.9M469.4 325.9h.9M468.8 326.9h.9" stroke="#212e96" stroke-width="0.95"/>
<path d="M489.1 323.7h.9M492.3 320.1h.9M494.5 325.3h.9M487.1 318.2h.9M486.1 320.9h.9M491.9 321.9h.9M487.6 329.8h.9M486.2 310.8h.9M486.3 313.2h.9M490.6 309.8h.9M492.4 328.1h.9M489.9 315.1h.9M482.3 328.1h.9M484.9 310.3h.9M494.4 318.0h.9M486.1 333.5h.9M472.1 319.6h.9M472.4 328.6h.9M489.1 338.8h.9M489.1 338.5h.9M490.0 338.2h.9M489.8 338.5h.9M491.1 339.0h.9" stroke="#2949b9" stroke-width="0.95"/>
<path d="M482.8 337.8h.9M482.8 339.3h.9M484.1 338.5h.9M484.2 338.4h.9M484.0 337.8h.9M485.5 338.6h.9M483.2 338.5h.9M483.5 337.6h.9" stroke="#f36a25" stroke-width="0.95"/>
<path d="M364.4 350.9h2M364.4 353.48h2M364.4 356.06h2M364.4 358.63h2M364.4 361.21h2M364.4 363.79h2M364.4 366.37h2M364.4 368.94h2M364.4 371.52h2M364.4 374.1h2M364.4 376.68h2M364.4 379.26h2M364.4 381.83h2M364.4 384.41h2M367.9 386.2v2M370.54 386.2v2M373.17 386.2v2M375.81 386.2v2M378.45 386.2v2M381.09 386.2v2M383.72 386.2v2M386.36 386.2v2M389 386.2v2M391.63 386.2v2M394.27 386.2v2M396.91 386.2v2M399.54 386.2v2M402.18 386.2v2" stroke="#333" stroke-width="0.9"/>
<rect x="366.4" y="349.4" width="37.6" height="36.8" fill="#fff" stroke="#444" stroke-width="0.9"/>
<path d="M376.4 369.6h.9M377.3 359.5h.9M377.0 363.4h.9M378.9 365.5h.9M379.8 371.3h.9M378.9 359.4h.9M376.5 360.8h.9M375.6 363.6h.9M376.9 367.3h.9M379.1 358.6h.9M380.0 366.1h.9M378.0 359.4h.9M377.4 367.8h.9M377.0 363.1h.9M376.6 366.0h.9M376.9 361.5h.9M376.3 364.6h.9M380.4 359.5h.9M375.9 362.2h.9M376.0 363.0h.9M376.7 370.5h.9M375.5 368.5h.9M376.5 359.8h.9M377.0 359.8h.9" stroke="#212e96" stroke-width="0.95"/>
<path d="M380.4 371.6h.9M379.0 358.2h.9M376.7 363.3h.9M378.8 366.3h.9M375.4 363.1h.9M376.7 371.2h.9M376.1 364.0h.9M379.8 356.4h.9M376.5 362.5h.9M375.1 366.7h.9M376.3 361.0h.9M378.0 362.5h.9M377.7 362.3h.9M379.1 361.0h.9M378.3 369.9h.9M377.3 361.1h.9M380.4 356.6h.9M378.7 368.8h.9M378.6 363.4h.9M378.7 364.8h.9M376.7 362.6h.9M378.7 361.2h.9M379.7 358.7h.9M380.1 366.7h.9M382.7 362.3h.9M376.1 361.2h.9M379.3 372.4h.9M376.2 369.3h.9M375.5 364.4h.9M377.8 368.3h.9M376.2 369.0h.9M377.6 371.1h.9M378.0 363.9h.9M379.4 361.5h.9M380.5 369.0h.9M372.4 371.4h.9M371.8 372.3h.9M373.0 371.9h.9M371.6 371.1h.9M373.1 371.4h.9M372.5 371.7h.9" stroke="#2949b9" stroke-width="0.95"/>
<path d="M381.2 368.2h.9M379.4 368.2h.9M377.6 363.3h.9M379.4 370.3h.9M377.3 370.7h.9M379.2 371.2h.9M379.7 361.4h.9M382.9 360.7h.9M376.8 365.8h.9M379.4 359.3h.9M379.4 364.5h.9M377.4 369.6h.9M384.3 356.2h.9M379.2 369.0h.9M379.6 358.6h.9M380.7 356.4h.9M379.7 362.9h.9M378.9 371.7h.9M377.9 370.8h.9M376.4 361.8h.9M381.4 364.9h.9M380.9 356.2h.9M383.4 364.1h.9M377.6 370.1h.9M379.7 371.5h.9M379.9 357.4h.9M379.9 370.7h.9M379.2 368.1h.9M380.6 369.7h.9M377.8 364.8h.9M379.9 373.2h.9M381.0 362.4h.9M381.5 362.0h.9M376.9 367.0h.9M382.5 356.1h.9M380.8 362.3h.9M381.7 366.4h.9M378.6 367.3h.9M380.0 360.1h.9M382.9 356.6h.9M378.5 361.1h.9M380.4 357.3h.9" stroke="#2f6dd4" stroke-width="0.95"/>
<path d="M382.5 367.2h.9M381.8 363.0h.9M379.9 357.1h.9M383.9 356.0h.9M380.7 373.8h.9M382.0 359.9h.9M383.1 363.2h.9M385.5 358.5h.9M383.5 374.6h.9M381.7 363.5h.9M378.1 357.9h.9M382.3 355.8h.9M383.5 356.6h.9M382.0 356.5h.9M381.9 370.6h.9M380.3 374.5h.9M384.3 368.2h.9M382.9 367.1h.9M379.4 373.5h.9M381.4 365.5h.9M378.7 361.3h.9M379.7 365.8h.9M381.4 366.3h.9M376.3 369.4h.9M380.3 375.4h.9M381.6 369.6h.9M380.1 368.5h.9M384.2 359.6h.9M383.7 366.7h.9M381.5 362.7h.9M386.8 357.4h.9M385.1 355.4h.9M382.3 357.9h.9M381.7 362.6h.9M380.4 368.2h.9M378.7 357.5h.9M379.9 370.2h.9M379.3 371.9h.9M382.7 361.6h.9M383.1 362.6h.9M379.2 365.6h.9M379.5 357.5h.9M381.0 364.1h.9M380.7 369.0h.9" stroke="#3791dc" stroke-width="0.95"/>
<path d="M382.5 377.5h.9M384.5 365.6h.9M384.2 377.5h.9M382.5 362.7h.9M383.2 375.6h.9M384.5 375.2h.9M383.0 373.8h.9M382.7 371.3h.9M383.5 369.0h.9M383.5 371.9h.9M390.1 365.8h.9M385.0 359.3h.9M383.9 376.7h.9M381.7 375.4h.9M380.1 373.3h.9M382.9 362.6h.9M381.5 372.7h.9M382.2 368.0h.9M385.3 371.9h.9M380.0 370.7h.9M381.4 367.2h.9M383.1 374.3h.9M381.2 371.9h.9M380.8 367.3h.9M382.3 370.0h.9M383.8 367.0h.9M383.2 363.3h.9M380.3 370.2h.9M383.9 360.1h.9M385.8 359.8h.9M382.4 359.4h.9M383.7 370.0h.9M380.9 364.9h.9M381.5 367.1h.9M383.9 367.3h.9M380.3 363.1h.9M383.7 356.6h.9M378.5 367.3h.9M384.2 362.2h.9M381.5 363.5h.9M383.6 367.5h.9M383.9 360.5h.9M385.3 364.1h.9M383.1 363.8h.9M382.9 365.8h.9M385.0 365.6h.9M382.4 361.1h.9M384.2 366.8h.9M381.4 376.7h.9M381.4 357.2h.9M382.6 359.2h.9M381.7 372.2h.9M384.7 370.8h.9" stroke="#44b0d7" stroke-width="0.95"/>
<path d="M386.9 355.8h.9M384.4 363.3h.9M385.4 355.7h.9M386.4 362.2h.9M387.3 360.9h.9M382.3 375.0h.9M383.3 375.2h.9M387.0 359.3h.9M386.1 359.2h.9M381.2 362.7h.9M384.9 366.4h.9M383.3 356.9h.9M389.1 362.8h.9M384.9 355.4h.9M386.1 365.3h.9M387.4 372.0h.9M386.2 355.6h.9M389.0 354.9h.9M381.3 367.1h.9M388.5 357.6h.9M385.8 377.3h.9M379.9 373.2h.9M381.6 361.3h.9M382.9 370.1h.9M384.6 365.1h.9M386.9 372.7h.9M383.1 375.2h.9M384.8 371.0h.9M379.7 367.1h.9M381.9 376.2h.9M381.0 359.4h.9M385.9 374.4h.9M386.5 363.3h.9M384.5 360.0h.9M384.0 372.0h.9M382.8 371.4h.9M387.0 364.6h.9M391.9 358.1h.9M384.1 369.6h.9M379.7 372.3h.9M384.9 365.9h.9M386.1 361.7h.9M382.8 376.6h.9M387.6 360.6h.9M382.4 371.3h.9M386.5 359.5h.9M385.5 371.3h.9M390.1 359.8h.9M382.6 373.8h.9M380.2 373.7h.9M387.6 357.2h.9M387.6 360.6h.9M386.1 372.1h.9M381.7 373.7h.9M382.7 370.3h.9M386.8 358.0h.9M386.1 356.8h.9" stroke="#62c5b6" stroke-width="0.95"/>
<path d="M385.0 362.6h.9M386.8 373.6h.9M387.3 366.7h.9M384.3 371.4h.9M382.8 371.5h.9M390.2 361.1h.9M386.6 362.7h.9M387.1 360.5h.9M389.8 366.9h.9M385.5 373.7h.9M386.1 360.4h.9M381.3 375.8h.9M387.1 357.8h.9M386.1 374.0h.9M386.3 376.7h.9M387.4 358.4h.9M389.2 366.3h.9M387.8 363.0h.9M386.4 362.8h.9M386.8 362.5h.9M391.1 355.7h.9M384.6 359.7h.9M386.9 358.4h.9M385.8 375.3h.9M386.6 377.3h.9M387.3 372.7h.9M382.4 375.7h.9M385.9 365.5h.9M385.3 368.8h.9M383.3 376.3h.9M387.0 371.2h.9M388.5 372.5h.9M385.9 359.1h.9M388.6 358.2h.9M387.4 361.6h.9M385.1 360.8h.9M384.8 375.1h.9M382.4 368.7h.9M382.9 365.9h.9M387.8 366.1h.9M383.2 374.9h.9M386.2 355.2h.9M382.3 372.7h.9M382.9 377.1h.9M388.8 363.6h.9M385.0 361.4h.9M387.2 362.0h.9M388.2 370.9h.9M388.4 370.8h.9M388.3 368.3h.9M385.0 373.5h.9M388.9 365.0h.9M385.9 372.1h.9M383.8 371.8h.9M386.5 358.4h.9" stroke="#95d786" stroke-width="0.95"/>
<path d="M388.2 363.0h.9M387.7 359.3h.9M386.7 372.9h.9M384.9 357.4h.9M387.4 368.9h.9M387.2 368.3h.9M383.8 376.3h.9M383.5 377.8h.9M388.9 360.6h.9M388.2 361.9h.9M384.1 377.6h.9M385.1 361.1h.9M387.8 373.1h.9M387.3 354.9h.9M389.6 355.6h.9M391.5 365.1h.9M391.8 365.0h.9M389.6 358.6h.9M388.4 374.4h.9M388.7 371.6h.9M388.3 370.3h.9M386.3 370.3h.9M388.7 359.6h.9M388.1 356.5h.9M388.2 367.9h.9M390.1 362.8h.9M387.2 374.5h.9M386.8 359.8h.9M389.4 371.9h.9M391.3 355.7h.9M383.6 374.5h.9M387.9 355.3h.9M388.0 365.0h.9M386.4 358.0h.9M387.0 378.4h.9M386.0 371.7h.9M384.6 378.3h.9M387.7 359.5h.9M389.7 371.8h.9M386.2 375.7h.9M387.1 369.4h.9M385.4 360.3h.9M389.3 360.2h.9M387.7 376.1h.9M386.1 377.6h.9M385.5 375.7h.9M389.8 361.8h.9M388.0 357.2h.9M389.4 361.7h.9M385.2 359.4h.9M385.7 372.0h.9M391.7 358.2h.9M385.6 362.3h.9M389.5 370.8h.9M390.2 357.6h.9M391.1 367.7h.9M387.6 355.5h.9M390.5 371.6h.9M383.8 373.4h.9M386.6 374.6h.9M382.2 376.8h.9M384.8 363.0h.9M385.7 372.4h.9M388.8 370.8h.9M389.8 368.7h.9M384.1 376.8h.9M389.2 375.7h.9M388.6 368.5h.9M385.6 356.2h.9M390.2 360.0h.9M385.6 377.0h.9M392.1 356.0h.9M389.3 372.4h.9" stroke="#cfe153" stroke-width="0.95"/>
<path d="M392.4 365.7h.9M388.4 376.9h.9M393.7 363.8h.9M392.3 370.3h.9M389.1 355.8h.9M390.8 363.9h.9M388.8 379.2h.9M389.3 362.6h.9M391.0 362.3h.9M387.8 359.5h.9M391.3 368.1h.9M390.5 372.6h.9M389.6 372.5h.9M390.4 362.0h.9M389.5 375.7h.9M392.4 378.7h.9M390.0 370.1h.9M391.8 362.0h.9M390.6 377.0h.9M391.1 376.9h.9M387.4 372.8h.9M394.1 357.6h.9M389.5 355.2h.9M389.4 362.7h.9M392.2 355.8h.9M389.1 372.2h.9M387.6 366.5h.9M395.4 361.7h.9M392.5 359.9h.9M390.6 359.5h.9M384.9 378.2h.9M387.6 378.7h.9M391.2 355.9h.9M394.1 357.6h.9M387.9 357.7h.9M391.4 366.8h.9M389.2 369.9h.9M388.9 371.8h.9M388.2 379.2h.9M389.5 363.4h.9M391.3 360.4h.9M390.1 375.6h.9M387.6 378.3h.9M392.4 373.9h.9M387.6 374.8h.9M389.3 355.9h.9M387.9 374.1h.9M394.8 360.9h.9M392.4 367.4h.9M389.9 376.7h.9M390.7 368.8h.9M387.9 355.5h.9M387.8 359.6h.9M383.6 377.7h.9M387.8 373.5h.9M392.9 357.1h.9M387.8 376.8h.9M391.7 362.8h.9M395.6 365.4h.9M387.4 376.4h.9M392.0 364.7h.9M390.5 363.9h.9M390.2 358.6h.9M389.7 371.4h.9M390.9 365.7h.9M389.8 356.5h.9M393.5 360.2h.9" stroke="#f3d837" stroke-width="0.95"/>
<path d="M387.5 378.2h.9M392.5 365.5h.9M390.3 373.8h.9M394.2 377.9h.9M390.8 359.6h.9M396.3 362.9h.9M393.7 355.7h.9M394.3 355.1h.9M391.6 355.2h.9M389.3 361.8h.9M396.7 372.8h.9M395.5 369.1h.9M388.7 377.4h.9M391.5 368.7h.9M393.4 363.1h.9M392.0 371.4h.9M392.1 366.7h.9M389.1 377.3h.9M388.2 376.1h.9M386.5 374.0h.9M389.3 356.1h.9M390.8 369.8h.9M391.8 371.7h.9M387.7 370.0h.9M385.4 378.2h.9M391.0 366.3h.9M390.5 375.8h.9M388.9 379.3h.9M393.0 369.6h.9M396.4 368.1h.9M390.6 376.6h.9M390.2 357.5h.9M389.6 365.7h.9M391.7 372.0h.9M390.5 372.6h.9M394.8 369.8h.9M385.1 378.6h.9M391.8 368.6h.9M392.3 362.2h.9M394.3 356.6h.9M392.2 354.8h.9M391.9 354.3h.9M389.0 370.8h.9M395.6 375.5h.9M392.5 362.7h.9M388.7 375.2h.9M389.8 374.3h.9M391.7 362.0h.9M391.6 367.1h.9M393.1 373.9h.9M394.4 358.0h.9M389.8 381.9h.9" stroke="#fab92d" stroke-width="0.95"/>
<path d="M395.6 368.8h.9M392.0 362.4h.9M390.7 378.6h.9M393.7 368.7h.9M392.5 373.5h.9M398.3 365.8h.9M394.1 375.2h.9M395.1 367.0h.9M393.1 356.8h.9M393.3 370.0h.9M395.5 366.6h.9M394.4 366.4h.9M393.2 375.0h.9M395.2 361.5h.9M393.3 371.3h.9M392.2 377.8h.9M398.9 365.7h.9M397.0 362.6h.9M393.0 374.8h.9M394.6 360.1h.9M396.4 362.5h.9M393.8 370.8h.9M394.2 360.0h.9M395.0 370.4h.9M395.2 366.3h.9M396.4 369.1h.9M394.6 356.4h.9M394.2 372.7h.9M393.5 367.8h.9M387.3 379.1h.9M391.8 362.2h.9M395.3 359.6h.9M394.1 363.0h.9M392.9 366.6h.9M390.5 376.1h.9M389.9 369.5h.9M392.9 363.7h.9M398.7 360.3h.9M394.3 369.9h.9M390.8 378.6h.9M389.6 379.0h.9M392.3 370.9h.9M394.0 360.8h.9M392.7 374.9h.9M388.9 369.0h.9" stroke="#fa9628" stroke-width="0.95"/>
<path d="M396.1 371.1h.9M394.7 374.4h.9M396.6 359.5h.9M396.1 357.6h.9M394.2 368.8h.9M390.9 372.1h.9M394.0 371.5h.9M393.6 376.6h.9M393.2 375.6h.9M396.1 369.3h.9M394.7 361.0h.9M396.1 369.5h.9M395.6 365.3h.9M394.0 370.4h.9M393.6 357.7h.9M397.0 364.8h.9M394.8 376.2h.9M394.1 365.0h.9M396.8 366.0h.9M394.0 362.5h.9M396.3 371.7h.9M395.0 355.6h.9M394.5 362.8h.9M390.7 378.0h.9M396.5 358.1h.9M400.0 362.5h.9M395.4 370.7h.9M395.2 361.5h.9M394.5 369.5h.9M393.4 371.9h.9M397.3 371.4h.9M394.2 368.6h.9M397.4 373.9h.9M396.6 369.5h.9M397.6 361.6h.9M395.8 366.4h.9M395.0 372.3h.9M393.9 365.2h.9M397.1 366.7h.9M397.2 368.5h.9M396.0 374.7h.9M397.7 360.8h.9M395.0 373.0h.9M395.1 362.6h.9M393.1 374.0h.9M396.2 361.0h.9M394.4 371.4h.9M396.8 371.1h.9M395.4 359.8h.9M396.3 369.6h.9M391.1 381.6h.9M392.1 381.1h.9" stroke="#f36a25" stroke-width="0.95"/>
<path d="M399.8 362.7h.9M397.8 362.9h.9M397.1 374.7h.9M399.1 359.8h.9M399.1 366.7h.9M398.2 371.0h.9M393.8 373.3h.9M394.9 374.0h.9M399.7 367.9h.9M399.2 364.7h.9M397.4 373.4h.9M399.4 364.2h.9M399.5 362.0h.9M392.9 356.1h.9M394.7 377.0h.9M391.1 376.9h.9M397.6 366.3h.9M397.4 372.8h.9M397.8 364.2h.9M396.3 360.3h.9M396.9 356.9h.9M397.2 369.4h.9M398.1 368.0h.9M396.4 369.4h.9M397.7 363.4h.9M396.1 363.3h.9M399.0 360.4h.9M393.3 375.7h.9M399.4 360.5h.9M399.9 367.2h.9M395.2 375.3h.9M397.5 369.2h.9M396.2 370.4h.9M395.3 358.6h.9M398.8 367.1h.9M397.3 359.1h.9M396.0 367.8h.9M398.8 367.2h.9M397.9 359.2h.9M392.4 377.1h.9M396.5 365.8h.9M394.8 368.9h.9M397.0 364.8h.9M394.9 377.3h.9M392.5 376.5h.9M397.1 370.5h.9M393.0 380.9h.9" stroke="#ea4122" stroke-width="0.95"/>
<path d="M398.5 368.3h.9M398.1 369.1h.9M398.7 363.2h.9M400.2 363.2h.9M400.1 365.9h.9M397.1 364.5h.9M398.9 361.2h.9M400.7 365.7h.9M399.4 361.5h.9M399.5 366.9h.9M400.2 361.8h.9M398.4 366.1h.9M398.9 366.0h.9M398.6 362.6h.9M394.8 363.9h.9M396.6 365.4h.9M396.1 364.4h.9M399.4 360.5h.9M396.3 375.0h.9M393.0 378.5h.9M400.4 365.8h.9M400.7 365.1h.9M395.9 361.7h.9M398.7 366.0h.9M395.7 372.2h.9M395.3 375.0h.9M399.3 367.4h.9M396.4 371.1h.9M398.5 366.6h.9M396.4 371.3h.9M399.5 369.1h.9M396.7 375.2h.9M400.7 363.0h.9M397.7 371.6h.9M396.9 371.0h.9M394.7 375.6h.9M398.5 363.4h.9M395.2 376.1h.9M392.7 381.4h.9" stroke="#d6291f" stroke-width="0.95"/>
<path d="M412.6 350.9h2M412.6 353.48h2M412.6 356.06h2M412.6 358.63h2M412.6 361.21h2M412.6 363.79h2M412.6 366.37h2M412.6 368.94h2M412.6 371.52h2M412.6 374.1h2M412.6 376.68h2M412.6 379.26h2M412.6 381.83h2M412.6 384.41h2M416.1 386.2v2M418.76 386.2v2M421.42 386.2v2M424.08 386.2v2M426.74 386.2v2M429.4 386.2v2M432.06 386.2v2M434.71 386.2v2M437.37 386.2v2M440.03 386.2v2M442.69 386.2v2M445.35 386.2v2M448.01 386.2v2M450.67 386.2v2" stroke="#333" stroke-width="0.9"/>
<rect x="414.6" y="349.4" width="37.9" height="36.8" fill="#fff" stroke="#444" stroke-width="0.9"/>
<path d="M425.0 363.3h.9M424.3 363.0h.9M426.7 361.1h.9M424.7 359.8h.9" stroke="#3791dc" stroke-width="0.95"/>
<path d="M425.2 363.4h.9M428.1 356.4h.9M426.4 357.9h.9M424.7 360.8h.9M425.0 362.6h.9M424.4 361.2h.9M426.3 363.9h.9M427.7 361.5h.9M425.3 359.8h.9" stroke="#44b0d7" stroke-width="0.95"/>
<path d="M425.6 359.5h.9M424.3 364.0h.9M425.1 365.8h.9M427.7 359.3h.9M423.8 363.6h.9M430.3 356.5h.9M426.0 362.3h.9M427.9 358.6h.9M429.0 356.4h.9M424.7 361.8h.9M426.3 359.4h.9M429.2 356.2h.9M425.3 363.1h.9M428.0 358.7h.9M424.8 366.0h.9M425.2 361.5h.9M424.5 369.3h.9M428.7 359.5h.9M423.7 364.4h.9M426.1 368.3h.9M425.0 370.5h.9M429.7 357.2h.9M423.8 368.5h.9M428.8 357.3h.9" stroke="#62c5b6" stroke-width="0.95"/>
<path d="M425.9 363.3h.9M424.6 369.6h.9M427.3 358.2h.9M428.2 357.1h.9M429.6 362.7h.9M430.3 359.9h.9M433.8 358.5h.9M427.2 359.4h.9M425.7 369.6h.9M424.5 361.0h.9M431.2 362.6h.9M425.5 361.1h.9M427.4 358.6h.9M428.7 356.6h.9M426.9 363.4h.9M427.7 373.5h.9M426.2 370.8h.9M425.7 367.8h.9M428.2 357.4h.9M432.5 359.6h.9M427.6 372.4h.9M433.5 355.4h.9M427.0 357.5h.9M424.6 364.6h.9M424.2 362.2h.9M431.0 361.6h.9M431.4 362.6h.9M430.7 361.1h.9M428.3 360.1h.9M430.0 372.2h.9M429.0 369.0h.9" stroke="#95d786" stroke-width="0.95"/>
<path d="M437.5 355.8h.9M430.1 363.0h.9M423.7 363.1h.9M428.0 361.4h.9M433.2 355.4h.9M438.0 358.6h.9M424.8 362.5h.9M431.8 356.6h.9M427.7 364.5h.9M432.6 356.2h.9M423.4 366.7h.9M426.3 362.5h.9M427.4 361.0h.9M429.8 372.7h.9M437.7 356.1h.9M426.6 369.9h.9M433.0 359.7h.9M425.2 367.3h.9M428.3 366.1h.9M428.0 362.9h.9M429.3 359.4h.9M432.2 360.1h.9M427.0 361.3h.9M428.0 365.8h.9M434.9 363.3h.9M430.7 359.4h.9M432.0 370.0h.9M433.8 360.3h.9M425.9 370.1h.9M424.6 369.4h.9M428.6 363.1h.9M428.4 366.7h.9M428.0 372.3h.9M432.1 356.6h.9M428.9 369.7h.9M432.5 362.2h.9M426.1 364.8h.9M430.1 362.6h.9M428.2 370.2h.9M429.3 362.4h.9M424.5 369.0h.9M425.1 367.0h.9M427.6 371.9h.9M430.8 356.1h.9M427.8 357.5h.9M429.3 364.1h.9M426.9 367.3h.9M420.6 371.4h.9M420.0 372.3h.9M421.3 371.9h.9M419.9 371.1h.9M421.3 371.4h.9M420.8 371.7h.9" stroke="#cfe153" stroke-width="0.95"/>
<path d="M428.7 371.6h.9M427.7 368.2h.9M433.2 357.4h.9M432.2 356.0h.9M445.0 359.5h.9M427.1 366.3h.9M442.1 355.7h.9M427.7 370.3h.9M425.6 370.7h.9M447.6 359.8h.9M444.6 357.6h.9M431.7 356.9h.9M431.5 363.2h.9M435.7 354.9h.9M427.2 365.5h.9M437.4 354.9h.9M430.0 363.5h.9M428.1 371.3h.9M430.7 355.8h.9M436.9 357.6h.9M435.5 357.8h.9M436.5 356.5h.9M428.4 373.3h.9M435.8 358.4h.9M429.8 367.2h.9M428.2 373.2h.9M429.9 361.3h.9M435.3 358.4h.9M439.7 355.7h.9M430.6 370.0h.9M441.0 359.9h.9M439.0 359.5h.9M428.0 367.1h.9M427.2 371.7h.9M431.7 364.1h.9M437.7 360.2h.9M427.0 361.2h.9M431.1 371.4h.9M428.2 370.7h.9M428.4 368.5h.9M433.5 359.4h.9M429.9 363.5h.9M430.6 357.9h.9M435.9 355.5h.9M434.6 355.2h.9M428.3 373.2h.9M430.8 371.3h.9M443.8 359.6h.9M430.5 376.8h.9M429.8 362.0h.9M440.6 354.8h.9M429.1 362.3h.9M447.1 360.3h.9M429.7 376.7h.9M433.9 356.2h.9M430.9 359.2h.9M441.9 360.2h.9M434.9 358.4h.9" stroke="#f3d837" stroke-width="0.95"/>
<path d="M429.5 368.2h.9M435.3 355.8h.9M432.7 363.3h.9M433.7 355.7h.9M432.6 371.4h.9M431.2 371.5h.9M430.7 375.0h.9M430.8 362.7h.9M434.5 359.2h.9M429.0 373.8h.9M427.5 371.2h.9M435.4 360.5h.9M442.7 355.1h.9M425.0 371.2h.9M433.3 366.4h.9M440.0 355.2h.9M431.3 360.7h.9M438.0 355.6h.9M431.9 374.6h.9M434.5 355.6h.9M434.4 360.4h.9M429.6 367.1h.9M433.3 359.3h.9M441.3 356.1h.9M428.6 374.5h.9M427.5 369.0h.9M437.8 355.2h.9M428.4 370.7h.9M434.8 362.8h.9M439.5 355.7h.9M431.4 374.3h.9M440.6 355.8h.9M442.0 357.7h.9M429.5 371.9h.9M427.0 368.8h.9M429.1 367.3h.9M427.0 364.8h.9M436.3 355.3h.9M429.7 365.5h.9M432.2 367.0h.9M431.5 363.3h.9M430.3 376.2h.9M428.6 370.2h.9M443.4 370.4h.9M429.7 364.9h.9M429.2 364.9h.9M439.6 355.9h.9M432.8 360.0h.9M428.0 371.5h.9M442.6 357.6h.9M431.0 362.3h.9M428.6 375.4h.9M434.2 359.1h.9M438.6 357.5h.9M437.8 361.7h.9M437.9 363.4h.9M447.5 360.4h.9M426.8 367.3h.9M433.4 360.8h.9M439.7 360.4h.9M431.3 365.9h.9M434.0 362.3h.9M441.8 375.7h.9M429.9 362.7h.9M437.7 355.9h.9M445.8 371.4h.9M428.7 368.2h.9M436.0 360.6h.9M432.3 360.5h.9M436.3 355.5h.9M436.1 359.6h.9M440.7 362.2h.9M442.8 356.6h.9M431.4 363.8h.9M435.5 362.0h.9M445.8 359.1h.9M440.3 354.3h.9M438.3 369.5h.9M428.6 373.7h.9M435.9 357.2h.9M427.5 365.6h.9M425.9 371.1h.9M438.6 358.6h.9M430.0 366.4h.9M446.9 363.4h.9M440.5 356.0h.9M431.2 356.6h.9M435.2 358.0h.9M434.4 356.8h.9M428.9 369.0h.9M442.9 358.0h.9" stroke="#fab92d" stroke-width="0.95"/>
<path d="M446.3 362.9h.9M433.4 362.6h.9M440.4 362.4h.9M445.5 374.7h.9M442.1 363.8h.9M440.7 370.3h.9M430.8 367.2h.9M435.1 372.9h.9M432.5 377.5h.9M446.6 369.1h.9M447.1 363.2h.9M435.7 360.9h.9M431.5 375.6h.9M435.4 359.3h.9M439.2 359.6h.9M432.9 375.2h.9M432.2 376.3h.9M438.2 366.9h.9M437.5 362.8h.9M442.2 373.3h.9M441.5 356.8h.9M439.4 362.3h.9M441.7 370.0h.9M433.4 361.1h.9M436.2 359.5h.9M434.5 365.3h.9M449.2 365.7h.9M440.2 365.0h.9M429.6 375.8h.9M447.9 364.2h.9M431.9 369.0h.9M431.8 371.9h.9M439.0 377.0h.9M437.7 361.8h.9M448.0 362.0h.9M446.8 366.1h.9M439.9 368.7h.9M442.5 357.6h.9M439.5 376.9h.9M430.2 370.6h.9M437.1 359.6h.9M430.1 375.4h.9M443.1 361.0h.9M447.0 362.6h.9M434.9 374.0h.9M430.6 368.0h.9M436.2 363.0h.9M438.5 362.8h.9M445.5 362.6h.9M435.2 359.8h.9M446.3 364.2h.9M443.0 360.1h.9M437.8 371.9h.9M445.4 364.8h.9M434.8 358.0h.9M433.1 371.0h.9M443.8 361.7h.9M442.4 362.5h.9M436.1 359.5h.9M445.4 356.9h.9M443.4 355.6h.9M430.8 375.7h.9M429.7 366.3h.9M447.9 360.5h.9M431.7 376.3h.9M441.4 378.5h.9M440.3 358.1h.9M444.9 358.1h.9M432.4 369.6h.9M438.2 361.8h.9M430.0 369.6h.9M436.3 357.2h.9M444.4 361.7h.9M437.5 369.9h.9M437.3 371.8h.9M447.2 366.0h.9M444.2 372.2h.9M427.5 368.1h.9M433.2 365.9h.9M440.1 358.2h.9M432.0 366.7h.9M441.9 367.8h.9M443.6 361.5h.9M435.7 379.1h.9M438.5 357.6h.9M431.6 374.9h.9M435.2 357.4h.9M440.1 372.0h.9M440.2 362.2h.9M443.3 360.9h.9M430.7 372.7h.9M448.3 367.2h.9M431.0 373.8h.9M431.2 377.1h.9M433.2 363.0h.9M444.3 366.4h.9M442.5 363.0h.9M437.2 363.6h.9M441.3 357.1h.9M433.3 361.4h.9M443.7 358.6h.9M444.1 365.4h.9M444.4 367.8h.9M443.2 375.6h.9M432.6 366.8h.9M436.0 360.6h.9M438.5 360.0h.9M431.1 370.3h.9M440.0 367.1h.9M437.6 372.4h.9M440.7 370.9h.9M438.1 356.5h.9" stroke="#fa9628" stroke-width="0.95"/>
<path d="M448.3 362.7h.9M430.8 377.5h.9M444.5 371.1h.9M446.9 368.3h.9M436.5 363.0h.9M432.8 365.6h.9M436.1 359.3h.9M435.2 373.6h.9M435.8 378.2h.9M435.7 366.7h.9M439.2 363.9h.9M442.1 368.7h.9M434.7 362.2h.9M442.6 377.9h.9M431.7 375.2h.9M444.7 362.9h.9M435.6 368.3h.9M448.6 365.9h.9M434.9 362.7h.9M437.7 362.6h.9M437.3 360.6h.9M436.6 361.9h.9M432.4 377.6h.9M443.5 367.0h.9M436.1 373.1h.9M447.4 361.2h.9M447.9 361.5h.9M439.9 365.1h.9M431.3 373.8h.9M431.0 371.3h.9M442.8 366.4h.9M438.9 372.6h.9M437.9 372.5h.9M436.8 374.4h.9M448.7 361.8h.9M440.2 362.0h.9M445.2 372.8h.9M441.6 375.0h.9M439.5 376.9h.9M434.5 374.0h.9M435.7 372.8h.9M441.8 363.1h.9M440.4 371.4h.9M440.5 366.7h.9M434.6 376.7h.9M440.6 377.8h.9M433.7 371.9h.9M432.7 368.2h.9M437.8 362.7h.9M447.4 365.7h.9M431.3 370.1h.9M445.8 372.8h.9M435.6 374.5h.9M431.2 367.1h.9M431.5 375.2h.9M444.9 362.5h.9M442.5 365.0h.9M431.9 374.5h.9M440.2 371.7h.9M445.2 366.0h.9M436.4 365.0h.9M442.3 370.8h.9M435.3 378.4h.9M442.6 360.0h.9M434.2 359.8h.9M444.8 360.3h.9M445.6 369.4h.9M444.5 364.4h.9M429.8 367.1h.9M432.3 372.0h.9M434.2 365.5h.9M443.0 362.8h.9M433.7 368.8h.9M444.8 369.1h.9M432.3 367.3h.9M443.0 356.4h.9M436.3 357.7h.9M444.8 369.4h.9M446.2 363.4h.9M448.8 365.8h.9M449.2 365.1h.9M439.8 366.8h.9M437.0 358.2h.9M435.8 361.6h.9M433.1 375.1h.9M434.5 361.7h.9M430.7 368.7h.9M431.1 376.6h.9M437.9 370.8h.9M432.0 367.5h.9M439.5 367.7h.9M436.3 374.1h.9M443.2 369.8h.9M438.3 376.7h.9M439.0 368.8h.9M442.6 368.6h.9M447.9 360.5h.9M432.1 373.4h.9M434.8 359.5h.9M448.0 369.1h.9M449.2 363.0h.9M433.8 371.3h.9M438.5 359.8h.9M445.1 369.5h.9M446.1 361.6h.9M443.4 372.3h.9M431.9 377.7h.9M431.3 365.8h.9M444.7 370.4h.9M436.1 376.8h.9M440.1 362.8h.9M446.1 371.6h.9M436.5 370.9h.9M435.8 376.4h.9M447.2 367.1h.9M438.2 368.7h.9M445.6 368.5h.9M445.4 371.0h.9M433.3 365.6h.9M447.3 367.2h.9M437.6 375.7h.9M446.2 360.8h.9M440.4 364.7h.9M438.9 363.9h.9M443.5 362.6h.9M446.4 359.2h.9M440.8 377.1h.9M442.7 369.9h.9M430.0 373.7h.9M444.6 361.0h.9M433.9 377.0h.9M439.2 378.6h.9M445.5 364.8h.9M443.8 359.8h.9M442.4 360.8h.9M441.1 374.9h.9M441.5 373.9h.9M445.5 370.5h.9M433.1 370.8h.9M437.3 369.0h.9M439.5 381.6h.9" stroke="#f36a25" stroke-width="0.95"/>
<path d="M436.8 376.9h.9M440.9 365.5h.9M448.7 363.2h.9M435.8 368.9h.9M438.6 361.1h.9M443.1 374.4h.9M446.7 371.0h.9M431.9 377.8h.9M439.2 372.1h.9M435.7 372.0h.9M448.0 366.9h.9M448.2 367.9h.9M447.7 364.7h.9M442.0 376.6h.9M438.4 370.1h.9M443.9 369.1h.9M438.5 365.8h.9M437.0 371.6h.9M432.2 376.7h.9M436.7 370.3h.9M444.5 369.3h.9M437.1 377.4h.9M434.6 370.3h.9M443.6 361.5h.9M437.5 377.3h.9M436.6 376.1h.9M437.5 366.3h.9M444.0 365.3h.9M435.2 362.5h.9M446.0 366.3h.9M433.0 365.1h.9M435.3 372.7h.9M442.5 370.4h.9M434.2 375.3h.9M437.5 372.2h.9M436.0 366.5h.9M435.0 377.3h.9M443.2 363.9h.9M433.7 378.2h.9M435.7 372.7h.9M433.0 378.3h.9M438.9 375.8h.9M434.2 374.4h.9M438.1 371.8h.9M434.5 375.7h.9M445.0 365.4h.9M441.4 369.6h.9M436.0 376.1h.9M444.7 375.0h.9M444.9 368.1h.9M439.1 378.0h.9M434.5 377.6h.9M435.4 364.6h.9M439.0 376.6h.9M433.8 375.7h.9M435.4 371.2h.9M444.6 363.3h.9M448.4 362.5h.9M436.6 379.2h.9M434.1 372.0h.9M438.5 375.6h.9M436.0 378.3h.9M436.0 374.8h.9M438.0 365.7h.9M441.9 371.9h.9M438.9 372.6h.9M447.0 366.6h.9M440.8 367.4h.9M444.8 371.3h.9M445.1 375.2h.9M433.4 378.6h.9M433.7 364.1h.9M440.2 368.6h.9M441.4 366.6h.9M442.3 365.2h.9M437.2 370.8h.9M438.9 376.1h.9M432.4 376.8h.9M436.7 368.3h.9M433.3 373.5h.9M444.1 375.5h.9M444.9 365.8h.9M438.2 374.3h.9M440.1 362.0h.9M442.9 371.4h.9M445.2 371.1h.9M443.2 368.9h.9M443.6 376.1h.9M438.1 371.4h.9M432.2 371.8h.9M444.8 369.6h.9M438.2 381.9h.9M441.1 381.4h.9M440.5 381.1h.9" stroke="#ea4122" stroke-width="0.95"/>
<path d="M444.0 368.8h.9M440.8 365.7h.9M439.1 378.6h.9M438.7 373.8h.9M440.9 373.5h.9M437.2 379.2h.9M446.7 365.8h.9M447.6 366.7h.9M442.6 368.8h.9M442.5 375.2h.9M433.8 373.7h.9M443.3 374.0h.9M445.5 364.5h.9M439.7 368.1h.9M443.9 366.6h.9M442.5 371.5h.9M445.9 373.4h.9M438.8 362.0h.9M437.8 375.7h.9M440.8 378.7h.9M441.6 375.6h.9M447.4 366.0h.9M443.1 377.0h.9M444.5 369.5h.9M441.8 371.3h.9M436.6 367.9h.9M434.1 377.3h.9M439.2 369.8h.9M441.4 374.8h.9M443.3 376.2h.9M436.0 370.0h.9M433.3 378.2h.9M444.8 371.7h.9M439.4 366.3h.9M434.4 371.7h.9M436.0 378.7h.9M446.6 368.0h.9M443.6 366.3h.9M435.5 369.4h.9M437.3 379.3h.9M436.9 372.5h.9M442.6 372.7h.9M443.7 375.0h.9M440.8 373.9h.9M443.8 370.7h.9M447.8 367.4h.9M442.9 369.5h.9M436.2 366.1h.9M444.8 371.1h.9M438.8 371.6h.9M445.8 373.9h.9M435.0 374.6h.9M443.6 375.3h.9M436.1 373.5h.9M446.0 369.2h.9M434.0 372.4h.9M445.6 366.7h.9M436.8 370.8h.9M444.5 374.7h.9M441.3 363.7h.9M437.4 370.8h.9M440.9 362.7h.9M437.3 365.0h.9M437.1 375.2h.9M443.4 373.0h.9M437.0 368.5h.9M434.5 372.1h.9M441.5 374.0h.9M434.2 372.1h.9M439.3 365.7h.9M438.0 379.0h.9M443.3 377.3h.9M440.9 376.5h.9M441.4 380.9h.9" stroke="#d6291f" stroke-width="0.95"/>
<path d="M461.4 350.9h2M461.4 353.48h2M461.4 356.06h2M461.4 358.63h2M461.4 361.21h2M461.4 363.79h2M461.4 366.37h2M461.4 368.94h2M461.4 371.52h2M461.4 374.1h2M461.4 376.68h2M461.4 379.26h2M461.4 381.83h2M461.4 384.41h2M464.9 386.2v2M467.56 386.2v2M470.22 386.2v2M472.88 386.2v2M475.54 386.2v2M478.2 386.2v2M480.86 386.2v2M483.51 386.2v2M486.17 386.2v2M488.83 386.2v2M491.49 386.2v2M494.15 386.2v2M496.81 386.2v2M499.47 386.2v2" stroke="#333" stroke-width="0.9"/>
<rect x="463.4" y="349.4" width="37.9" height="36.8" fill="#fff" stroke="#444" stroke-width="0.9"/>
<path d="M497.1 362.7h.9M485.3 363.0h.9M489.6 365.7h.9M489.5 370.3h.9M479.6 367.2h.9M484.5 366.7h.9M482.0 357.4h.9M488.0 363.9h.9M482.5 355.7h.9M495.9 363.2h.9M483.5 362.2h.9M473.8 363.3h.9M484.6 368.9h.9M487.4 361.1h.9M479.6 362.7h.9M484.2 359.3h.9M490.9 355.7h.9M497.4 365.9h.9M495.5 365.8h.9M487.0 366.9h.9M482.1 366.4h.9M473.1 364.0h.9M486.1 360.6h.9M485.4 361.9h.9M488.8 355.2h.9M482.0 355.4h.9M491.0 373.3h.9M480.3 363.2h.9M488.2 362.3h.9M490.5 370.0h.9M485.0 359.5h.9M473.9 365.8h.9M486.8 355.6h.9M496.7 361.5h.9M488.7 365.1h.9M497.0 367.9h.9M489.0 365.0h.9M496.5 364.7h.9M483.2 360.4h.9M476.9 356.4h.9M491.6 366.4h.9M478.8 363.5h.9M475.2 357.9h.9M478.4 367.1h.9M479.5 355.8h.9M494.7 373.4h.9M496.7 364.2h.9M497.5 361.8h.9M489.0 362.0h.9M486.5 361.8h.9M485.7 357.6h.9M496.8 362.0h.9M485.5 370.3h.9M493.3 369.3h.9M495.6 366.1h.9M479.1 356.5h.9M474.8 362.3h.9M490.6 363.1h.9M489.2 371.4h.9M476.2 361.0h.9M489.3 366.7h.9M495.8 362.6h.9M490.6 371.3h.9M480.0 362.6h.9M486.5 356.1h.9M486.3 366.3h.9M492.8 365.3h.9M486.6 362.7h.9M487.3 362.8h.9M488.0 369.8h.9M488.3 355.7h.9M474.3 361.1h.9M480.0 367.1h.9M491.8 360.1h.9M490.8 357.7h.9M488.5 355.7h.9M477.1 366.1h.9M476.7 358.6h.9M491.3 365.0h.9M489.0 371.7h.9M492.0 363.9h.9M485.2 365.0h.9M478.5 365.5h.9M483.6 358.0h.9M481.0 367.0h.9M487.8 359.5h.9M491.4 360.0h.9M488.2 366.3h.9M494.2 356.9h.9M475.1 359.4h.9M492.2 355.6h.9M476.8 365.8h.9M493.8 365.4h.9M495.4 368.0h.9M478.0 364.9h.9M492.4 366.3h.9M484.3 369.4h.9M488.4 355.9h.9M490.2 369.6h.9M496.7 360.5h.9M475.8 361.2h.9M491.4 357.6h.9M476.8 358.7h.9M477.0 357.4h.9M477.4 363.1h.9M484.2 364.6h.9M489.1 358.1h.9M493.7 358.1h.9M495.0 363.4h.9M493.4 363.3h.9M487.0 361.8h.9M485.1 357.2h.9M488.6 366.8h.9M483.0 359.1h.9M486.3 369.9h.9M496.0 366.0h.9M481.3 362.2h.9M481.3 359.6h.9M488.5 360.4h.9M492.6 370.7h.9M486.8 365.7h.9M490.7 367.8h.9M496.6 367.4h.9M491.7 369.5h.9M486.5 355.9h.9M474.9 364.8h.9M487.3 357.6h.9M485.0 366.1h.9M484.0 357.4h.9M480.8 367.5h.9M479.4 357.9h.9M488.3 367.7h.9M493.6 371.1h.9M492.0 369.8h.9M492.1 360.9h.9M475.8 357.5h.9M489.6 367.4h.9M487.8 368.8h.9M481.1 360.5h.9M473.4 364.6h.9M491.4 368.6h.9M485.1 355.5h.9M483.6 359.5h.9M496.8 369.1h.9M498.0 363.0h.9M487.3 359.8h.9M477.5 359.5h.9M482.5 364.1h.9M493.9 369.5h.9M482.0 363.0h.9M492.2 372.3h.9M491.6 356.6h.9M480.2 363.8h.9M478.1 362.4h.9M478.6 362.0h.9M493.5 370.4h.9M489.4 354.8h.9M491.1 365.2h.9M494.9 371.6h.9M494.4 366.7h.9M489.1 354.3h.9M494.4 368.5h.9M479.6 356.1h.9M493.2 367.8h.9M485.6 370.8h.9M482.1 365.6h.9M490.1 363.7h.9M473.1 363.0h.9M479.8 361.6h.9M480.2 362.6h.9M489.7 362.7h.9M486.1 365.0h.9M484.7 357.2h.9M485.8 368.5h.9M476.3 365.6h.9M487.7 363.9h.9M492.3 362.6h.9M475.1 363.9h.9M476.6 357.5h.9M488.9 362.0h.9M491.5 369.9h.9M495.7 363.4h.9M493.4 361.0h.9M494.0 371.1h.9M492.0 368.9h.9M475.5 361.1h.9M488.1 365.7h.9M489.5 370.9h.9M491.2 360.8h.9M477.6 357.3h.9M474.1 359.8h.9M486.1 369.0h.9M493.6 369.6h.9M483.7 358.4h.9" stroke="#212e96" stroke-width="0.95"/>
<path d="M492.8 368.8h.9M495.1 362.9h.9M493.3 371.1h.9M495.7 368.3h.9M482.2 362.6h.9M489.2 362.4h.9M494.3 374.7h.9M481.6 365.6h.9M490.9 363.8h.9M484.1 355.8h.9M484.9 359.3h.9M486.3 355.8h.9M495.4 369.1h.9M474.7 363.3h.9M489.7 365.5h.9M481.5 363.3h.9M476.1 358.2h.9M490.9 368.7h.9M474.4 359.5h.9M497.5 363.2h.9M478.9 363.0h.9M484.5 360.9h.9M477.0 357.1h.9M481.0 356.0h.9M493.8 359.5h.9M475.9 366.3h.9M483.3 359.2h.9M488.0 359.6h.9M493.5 362.9h.9M484.4 368.3h.9M483.7 362.7h.9M496.4 359.8h.9M496.4 366.7h.9M486.5 362.6h.9M493.4 357.6h.9M491.4 368.8h.9M484.2 360.5h.9M491.5 355.1h.9M478.4 362.7h.9M495.5 371.0h.9M476.8 361.4h.9M479.1 359.9h.9M488.0 372.1h.9M492.3 367.0h.9M480.5 356.9h.9M486.3 362.8h.9M490.3 356.8h.9M480.1 360.7h.9M482.2 361.1h.9M474.0 363.4h.9M494.3 364.5h.9M488.5 368.1h.9M483.3 365.3h.9M496.2 361.2h.9M498.0 365.7h.9M484.5 354.9h.9M492.7 366.6h.9M482.6 358.5h.9M476.0 365.5h.9M483.3 355.6h.9M491.3 371.5h.9M476.5 359.3h.9M486.2 354.9h.9M486.8 358.6h.9M487.6 362.0h.9M473.6 362.5h.9M487.2 370.1h.9M480.6 356.6h.9M494.0 372.8h.9M492.7 369.1h.9M476.0 359.4h.9M487.3 365.8h.9M473.5 360.8h.9M482.1 359.3h.9M490.1 356.1h.9M484.3 357.8h.9M472.6 363.6h.9M481.4 356.2h.9M473.3 361.0h.9M488.7 368.7h.9M496.2 366.0h.9M491.3 357.6h.9M475.1 362.5h.9M485.9 359.6h.9M485.3 356.5h.9M491.9 361.0h.9M492.4 361.5h.9M493.3 369.5h.9M486.6 355.2h.9M484.6 358.4h.9M479.4 368.0h.9M485.4 367.9h.9M478.6 367.2h.9M485.0 363.0h.9M483.6 362.8h.9M496.2 365.7h.9M494.3 362.6h.9M484.0 362.5h.9M494.8 366.3h.9M478.7 361.3h.9M494.6 372.8h.9M481.8 365.1h.9M484.0 359.8h.9M495.1 364.2h.9M481.8 359.7h.9M491.3 370.4h.9M489.4 355.8h.9M484.1 358.4h.9M494.2 364.8h.9M493.7 362.5h.9M477.5 356.6h.9M477.9 367.3h.9M475.7 363.4h.9M475.8 364.8h.9M484.8 366.5h.9M485.1 355.3h.9M477.8 356.4h.9M494.0 366.0h.9M473.8 362.6h.9M484.8 370.0h.9M476.8 362.9h.9M492.6 361.7h.9M489.8 359.9h.9M480.3 363.3h.9M476.8 367.1h.9M491.2 362.5h.9M493.6 371.7h.9M491.1 370.8h.9M478.1 359.4h.9M481.0 360.1h.9M473.5 361.8h.9M483.0 359.8h.9M493.6 360.3h.9M484.9 359.5h.9M475.8 361.3h.9M494.4 369.4h.9M483.7 363.3h.9M479.5 359.4h.9M493.3 364.4h.9M478.5 364.9h.9M478.0 356.2h.9M478.6 367.1h.9M480.5 364.1h.9M478.5 366.3h.9M486.5 360.2h.9M481.6 360.0h.9M483.0 365.5h.9M491.8 362.8h.9M493.7 368.1h.9M474.1 363.1h.9M482.5 368.8h.9M493.6 369.1h.9M481.1 367.3h.9M491.8 356.4h.9M477.2 366.7h.9M479.8 362.3h.9M485.1 357.7h.9M493.6 369.4h.9M480.9 356.6h.9M497.6 365.8h.9M497.2 362.5h.9M498.0 365.1h.9M493.2 361.7h.9M491.4 372.7h.9M487.4 357.5h.9M486.6 361.7h.9M493.0 372.2h.9M486.7 363.4h.9M485.8 358.2h.9M496.3 360.4h.9M482.0 365.9h.9M484.6 361.6h.9M473.2 361.2h.9M482.2 360.8h.9M482.3 359.4h.9M483.3 361.7h.9M480.1 365.9h.9M488.9 358.2h.9M482.8 362.3h.9M480.8 366.7h.9M478.7 363.5h.9M492.4 361.5h.9M474.0 361.5h.9M478.7 362.7h.9M486.7 370.8h.9M490.7 371.9h.9M488.9 372.0h.9M489.0 362.2h.9M482.3 355.4h.9M478.9 362.6h.9M494.6 371.4h.9M484.7 355.5h.9M495.8 366.6h.9M487.6 371.6h.9M483.4 355.2h.9M484.8 360.6h.9M493.6 371.3h.9M496.7 360.5h.9M497.1 367.2h.9M492.6 359.6h.9M494.6 373.9h.9M484.9 359.6h.9M489.0 368.6h.9M494.9 361.6h.9M493.1 366.4h.9M472.5 364.4h.9M473.0 362.2h.9M489.5 362.2h.9M491.3 363.0h.9M486.0 363.6h.9M494.8 369.2h.9M482.1 361.4h.9M480.1 365.8h.9M486.0 370.8h.9M488.9 362.8h.9M484.3 362.0h.9M492.5 358.6h.9M485.3 370.9h.9M492.9 365.4h.9M496.0 367.1h.9M487.0 368.7h.9M494.6 359.1h.9M494.2 371.0h.9M487.1 369.5h.9M496.1 367.2h.9M486.2 370.8h.9M485.5 368.3h.9M495.0 360.8h.9M489.2 364.7h.9M477.9 362.3h.9M479.5 361.1h.9M495.9 360.3h.9M492.2 373.0h.9M481.4 366.8h.9M484.8 360.6h.9M495.2 359.2h.9M493.7 365.8h.9M478.1 364.1h.9M478.5 357.2h.9M487.4 358.6h.9M478.8 366.4h.9M482.7 356.2h.9M491.7 371.4h.9M477.1 360.1h.9M486.9 371.4h.9M488.8 367.1h.9M494.3 364.8h.9M479.7 359.2h.9M484.0 358.0h.9M476.5 361.5h.9M492.6 359.8h.9M483.2 356.8h.9M473.5 359.8h.9M486.9 356.5h.9M490.7 360.2h.9M491.7 358.0h.9M494.3 370.5h.9" stroke="#2949b9" stroke-width="0.95"/>
<path d="M496.8 366.9h.9M476.5 364.5h.9M485.8 371.6h.9M481.5 368.2h.9M476.2 358.6h.9M492.2 370.4h.9M486.9 371.8h.9M480.8 370.0h.9M482.6 360.3h.9M490.2 366.6h.9M490.1 357.1h.9M487.3 360.0h.9M489.3 356.0h.9M480.0 356.6h.9" stroke="#2f6dd4" stroke-width="0.95"/>
<path d="M472.5 363.1h.9M492.1 374.0h.9M480.7 369.0h.9M472.2 366.7h.9M486.6 371.9h.9M475.6 367.3h.9M479.5 368.7h.9M492.9 375.5h.9M477.7 369.0h.9M481.9 370.8h.9M469.4 371.4h.9M468.8 372.3h.9M470.1 371.9h.9M468.7 371.1h.9M470.1 371.4h.9M469.6 371.7h.9" stroke="#3791dc" stroke-width="0.95"/>
<path d="M491.9 374.4h.9M484.9 373.1h.9M484.5 372.0h.9M483.4 370.3h.9M484.1 372.7h.9M474.0 367.3h.9M474.7 370.1h.9M485.7 372.5h.9M477.2 368.5h.9M492.5 375.0h.9M477.5 368.2h.9M493.9 375.2h.9M493.3 374.7h.9M492.0 375.6h.9M483.3 372.1h.9M475.7 367.3h.9M490.3 373.9h.9M477.8 369.0h.9" stroke="#44b0d7" stroke-width="0.95"/>
<path d="M478.3 368.2h.9M476.5 368.2h.9M483.9 372.9h.9M487.5 373.8h.9M489.7 373.5h.9M476.5 370.3h.9M487.7 372.6h.9M490.8 376.6h.9M474.5 369.6h.9M490.4 375.0h.9M481.9 371.0h.9M493.5 375.0h.9M484.2 371.2h.9M486.1 371.8h.9M476.3 368.1h.9M473.6 366.0h.9M489.6 373.9h.9M487.7 372.6h.9M484.9 373.5h.9M490.3 374.0h.9M479.9 370.3h.9M483.0 372.1h.9" stroke="#62c5b6" stroke-width="0.95"/>
<path d="M481.4 371.4h.9M491.3 375.2h.9M486.7 372.5h.9M484.5 372.8h.9M491.9 377.0h.9M476.3 369.0h.9M480.1 370.1h.9M486.3 372.2h.9M492.1 376.2h.9M479.4 370.0h.9M483.2 371.7h.9M481.1 372.0h.9M479.9 371.4h.9M487.3 375.6h.9M485.1 374.1h.9M492.4 375.3h.9M477.0 370.2h.9M474.9 368.3h.9M473.9 367.0h.9M487.0 374.3h.9M492.4 376.1h.9M486.4 372.4h.9M492.1 377.3h.9M489.7 376.5h.9" stroke="#95d786" stroke-width="0.95"/>
<path d="M473.4 369.6h.9M480.0 371.5h.9M480.1 373.8h.9M479.8 371.3h.9M485.6 374.4h.9M480.6 371.9h.9M487.8 377.0h.9M490.4 375.6h.9M483.3 374.0h.9M488.3 376.9h.9M482.5 371.9h.9M475.4 369.9h.9M490.2 374.8h.9M478.3 371.9h.9M475.8 368.8h.9M477.4 370.2h.9M484.5 372.7h.9M487.7 375.8h.9M474.5 367.8h.9M473.4 369.4h.9M490.2 378.5h.9M487.8 376.6h.9M481.2 369.6h.9M478.8 369.6h.9M477.0 370.7h.9M477.7 369.7h.9M482.9 372.0h.9M484.8 374.8h.9M490.6 375.7h.9M473.3 369.3h.9M479.6 371.3h.9M482.6 371.3h.9M479.8 373.8h.9M473.3 369.0h.9M482.1 373.5h.9M485.9 375.2h.9M472.6 368.5h.9M481.0 371.8h.9M489.9 374.9h.9" stroke="#cfe153" stroke-width="0.95"/>
<path d="M484.0 373.6h.9M481.7 375.2h.9M474.4 370.7h.9M482.6 373.7h.9M480.7 374.6h.9M489.6 378.7h.9M479.0 370.6h.9M485.4 376.1h.9M489.4 377.8h.9M483.7 374.0h.9M477.2 370.7h.9M484.4 374.5h.9M483.0 375.3h.9M476.0 371.7h.9M483.0 374.4h.9M476.8 371.5h.9M487.9 378.0h.9M481.9 375.1h.9M480.9 373.4h.9M479.5 372.7h.9M482.8 372.4h.9M487.7 376.1h.9M486.4 375.7h.9M478.8 372.2h.9" stroke="#f3d837" stroke-width="0.95"/>
<path d="M477.5 371.6h.9M476.3 371.2h.9M476.9 371.3h.9M486.6 375.7h.9M488.3 376.9h.9M480.7 374.5h.9M475.0 370.8h.9M483.3 375.7h.9M484.8 376.1h.9M482.6 375.7h.9M476.8 372.3h.9M476.4 372.4h.9M483.8 374.6h.9M484.6 376.4h.9M477.4 373.7h.9M473.8 370.5h.9M474.7 371.1h.9M489.6 377.1h.9M488.0 378.6h.9" stroke="#fab92d" stroke-width="0.95"/>
<path d="M485.6 376.9h.9M491.4 377.9h.9M477.8 373.8h.9M481.0 376.3h.9M473.8 371.2h.9M485.9 377.4h.9M477.4 374.5h.9M478.9 375.4h.9M477.2 373.3h.9M483.4 376.7h.9M478.6 372.7h.9M477.0 373.2h.9M480.2 374.3h.9M476.5 373.5h.9M480.5 376.3h.9M485.4 379.2h.9M480.4 374.9h.9M477.1 373.2h.9M487.1 376.7h.9M476.4 371.9h.9M478.8 373.7h.9M490.2 380.9h.9" stroke="#fa9628" stroke-width="0.95"/>
<path d="M487.9 378.6h.9M484.6 378.2h.9M481.3 377.5h.9M479.5 375.0h.9M480.5 375.2h.9M480.3 375.6h.9M486.0 379.2h.9M480.7 377.8h.9M478.4 375.8h.9M480.3 375.2h.9M479.6 375.7h.9M477.4 375.4h.9M484.5 379.1h.9M479.3 376.8h.9M480.0 377.1h.9M481.2 376.8h.9M482.7 377.0h.9" stroke="#f36a25" stroke-width="0.95"/>
<path d="M481.2 377.6h.9M486.3 377.3h.9M482.9 377.3h.9M483.8 377.3h.9M482.1 378.2h.9M482.5 378.2h.9M479.1 376.2h.9M484.8 378.7h.9M484.8 378.3h.9M479.9 376.6h.9M480.7 377.7h.9M484.9 376.8h.9M478.5 376.7h.9M489.9 381.4h.9M489.3 381.1h.9" stroke="#ea4122" stroke-width="0.95"/>
<path d="M479.6 377.5h.9M481.0 376.7h.9M484.1 378.4h.9M481.8 378.3h.9M486.1 379.3h.9M483.3 377.6h.9M482.2 378.6h.9M486.8 379.0h.9M488.3 381.6h.9M487.0 381.9h.9" stroke="#d6291f" stroke-width="0.95"/>
<path d="M364.4 391.9h2M364.4 394.6h2M364.4 397.31h2M364.4 400.01h2M364.4 402.71h2M364.4 405.42h2M364.4 408.12h2M364.4 410.83h2M364.4 413.53h2M364.4 416.23h2M364.4 418.94h2M364.4 421.64h2M364.4 424.34h2M364.4 427.05h2M367.9 428.9v2M370.54 428.9v2M373.17 428.9v2M375.81 428.9v2M378.45 428.9v2M381.09 428.9v2M383.72 428.9v2M386.36 428.9v2M389 428.9v2M391.63 428.9v2M394.27 428.9v2M396.91 428.9v2M399.54 428.9v2M402.18 428.9v2" stroke="#333" stroke-width="0.9"/>
<rect x="366.4" y="390.4" width="37.6" height="38.5" fill="#fff" stroke="#444" stroke-width="0.9"/>
<path d="M376.6 402.5h.9M379.0 401.0h.9M377.7 404.8h.9M379.3 399.3h.9M382.5 399.1h.9M377.0 404.5h.9M377.9 408.2h.9M381.7 398.9h.9M386.8 398.7h.9M380.4 400.8h.9M376.7 403.2h.9M376.0 405.1h.9M377.7 404.4h.9M379.3 401.0h.9M385.2 396.8h.9M376.9 402.3h.9M382.6 399.1h.9M377.3 402.3h.9M385.4 396.3h.9M380.0 402.6h.9M378.6 399.8h.9M380.2 402.0h.9M382.0 398.1h.9M383.7 401.5h.9M380.3 400.5h.9M377.0 401.7h.9M387.6 394.9h.9M385.2 398.5h.9M388.1 394.9h.9M385.9 399.8h.9M383.1 399.6h.9M387.8 395.9h.9M382.6 397.5h.9M380.4 399.0h.9M382.6 401.6h.9M386.4 400.3h.9M382.0 398.8h.9M378.6 402.1h.9" stroke="#212e96" stroke-width="0.95"/>
<path d="M389.9 398.0h.9M396.5 397.8h.9M378.6 399.6h.9M381.7 400.9h.9M378.9 403.6h.9M388.5 400.7h.9M376.8 401.4h.9M381.3 408.0h.9M386.4 396.5h.9M377.6 409.8h.9M387.9 394.8h.9M385.7 399.4h.9M385.4 400.2h.9M381.8 398.8h.9M381.5 406.0h.9M384.0 397.2h.9M386.7 398.8h.9M375.0 405.0h.9M387.3 396.9h.9M389.4 398.4h.9M395.1 399.1h.9M376.7 403.0h.9M386.2 396.0h.9M379.1 400.0h.9M376.2 404.7h.9M375.4 406.4h.9M387.0 400.4h.9M385.6 396.9h.9M378.5 403.9h.9M387.0 398.3h.9M375.4 412.2h.9M386.7 395.7h.9M374.9 409.7h.9M379.1 401.5h.9M379.3 403.2h.9M387.8 395.3h.9M384.0 401.2h.9M382.4 398.2h.9M373.0 414.6h.9M373.0 413.4h.9M372.0 412.6h.9M372.2 413.8h.9M373.0 413.8h.9M372.8 412.7h.9" stroke="#2949b9" stroke-width="0.95"/>
<path d="M386.5 398.8h.9M376.3 404.6h.9M392.1 395.3h.9M375.9 405.3h.9M387.4 396.1h.9M377.4 405.4h.9M379.9 406.8h.9M387.1 400.5h.9M393.7 398.2h.9M385.5 400.8h.9M384.4 402.5h.9M395.0 397.9h.9M392.6 397.8h.9M388.6 398.3h.9M383.4 403.2h.9M381.6 399.5h.9M376.3 403.5h.9M387.1 404.6h.9M380.3 400.2h.9M388.4 400.4h.9M382.7 405.8h.9M386.4 395.4h.9M377.2 405.2h.9M377.0 404.7h.9M380.2 401.7h.9M379.8 407.4h.9M388.0 399.2h.9M378.6 405.5h.9M377.9 407.8h.9M382.2 403.8h.9M387.8 398.0h.9M378.0 411.8h.9M378.2 405.4h.9M393.6 401.2h.9M389.0 400.7h.9M376.2 409.7h.9M381.5 404.5h.9M381.6 402.3h.9M390.0 398.4h.9M384.7 399.0h.9M378.8 406.8h.9" stroke="#2f6dd4" stroke-width="0.95"/>
<path d="M392.6 402.6h.9M383.6 403.8h.9M377.0 406.9h.9M386.7 403.6h.9M382.9 405.3h.9M378.8 405.5h.9M379.2 404.1h.9M385.2 401.7h.9M382.1 404.2h.9M378.1 409.0h.9M379.3 408.0h.9M384.4 402.6h.9M397.8 403.5h.9M381.0 405.3h.9M377.9 404.7h.9M382.1 405.3h.9M386.4 400.2h.9M379.8 407.1h.9M389.7 394.9h.9M381.9 412.3h.9M385.6 399.5h.9M379.1 409.8h.9M394.2 402.3h.9M381.0 403.8h.9M386.2 405.4h.9M379.6 407.0h.9M387.9 399.1h.9M385.4 401.7h.9M385.6 400.4h.9M383.9 405.5h.9M385.2 404.2h.9M388.6 402.7h.9M383.6 404.8h.9M382.6 406.1h.9M397.6 404.5h.9M386.3 400.1h.9M392.8 403.6h.9M377.6 409.1h.9M394.4 396.7h.9M380.6 404.0h.9M393.3 402.9h.9M390.0 399.5h.9M386.1 404.0h.9M377.9 408.0h.9M381.2 402.9h.9M396.0 398.8h.9M382.1 404.6h.9M378.6 407.1h.9M376.0 404.7h.9" stroke="#3791dc" stroke-width="0.95"/>
<path d="M378.9 410.6h.9M379.0 410.7h.9M378.5 411.3h.9M378.5 409.5h.9M383.1 402.2h.9M392.5 399.8h.9M394.4 406.4h.9M386.9 401.9h.9M398.4 401.8h.9M395.2 405.3h.9M387.6 403.2h.9M396.0 401.9h.9M385.2 407.2h.9M393.0 407.1h.9M388.6 407.0h.9M396.1 406.2h.9M387.8 403.6h.9M378.6 409.1h.9M381.9 408.0h.9M376.8 412.4h.9M376.6 407.7h.9M394.5 407.3h.9M389.2 402.8h.9M376.0 411.1h.9M381.2 405.9h.9M382.5 406.3h.9M385.6 404.8h.9M378.3 411.0h.9M382.9 405.7h.9M393.8 396.7h.9M383.4 408.2h.9M380.2 409.7h.9M381.4 407.0h.9M388.2 405.6h.9M388.2 407.3h.9M384.0 409.5h.9M375.6 413.4h.9M379.0 410.7h.9M392.2 403.8h.9M376.1 413.0h.9M376.1 413.1h.9M377.9 410.1h.9M375.9 409.4h.9M391.4 403.0h.9M380.3 407.8h.9M379.9 411.5h.9M388.1 400.7h.9" stroke="#44b0d7" stroke-width="0.95"/>
<path d="M384.3 409.9h.9M386.7 412.7h.9M395.4 410.9h.9M379.1 408.1h.9M381.9 406.8h.9M389.5 409.2h.9M384.7 408.4h.9M377.4 410.8h.9M385.0 408.8h.9M395.0 403.1h.9M379.8 407.2h.9M394.6 405.9h.9M386.3 409.9h.9M390.1 404.1h.9M388.5 407.3h.9M387.1 405.4h.9M379.7 412.0h.9M384.4 407.6h.9M386.7 408.9h.9M385.4 410.4h.9M391.6 402.3h.9M394.8 405.8h.9M381.5 410.3h.9M381.2 407.9h.9M386.7 405.6h.9M390.4 406.7h.9M381.9 412.2h.9M379.1 412.3h.9M386.8 403.5h.9M398.2 402.1h.9M393.5 402.0h.9M388.7 406.1h.9M386.0 410.3h.9M384.7 405.2h.9M380.0 407.3h.9M380.7 409.1h.9M379.4 413.2h.9M386.2 407.9h.9M380.3 408.8h.9M394.7 406.5h.9M384.6 405.3h.9M380.4 413.2h.9M382.7 407.7h.9M386.4 403.4h.9M390.7 401.9h.9M394.4 403.8h.9M381.7 403.9h.9M378.7 408.3h.9M378.8 409.1h.9M386.2 411.9h.9M385.6 409.7h.9M391.7 404.3h.9M382.3 409.2h.9M381.6 409.6h.9M386.1 404.7h.9M386.4 403.9h.9M379.7 414.8h.9M384.2 408.9h.9M376.0 407.5h.9M395.8 400.4h.9M390.5 405.3h.9M381.9 414.6h.9M381.5 411.7h.9" stroke="#62c5b6" stroke-width="0.95"/>
<path d="M384.9 409.5h.9M388.7 402.9h.9M390.1 407.6h.9M394.8 409.4h.9M391.5 412.0h.9M394.3 408.1h.9M390.2 407.0h.9M381.3 414.9h.9M392.6 406.8h.9M389.4 411.3h.9M396.0 407.9h.9M381.2 412.6h.9M396.2 403.7h.9M386.4 407.7h.9M380.5 410.4h.9M399.4 407.2h.9M376.6 412.4h.9M383.9 411.6h.9M381.0 412.0h.9M388.2 412.9h.9M396.1 406.2h.9M391.9 409.8h.9M398.5 402.1h.9M390.5 404.7h.9M387.8 406.8h.9M382.4 411.7h.9M384.5 411.0h.9M386.1 407.1h.9M377.6 412.0h.9M377.9 412.2h.9M390.0 409.1h.9M378.0 414.8h.9M384.2 410.5h.9M387.7 405.5h.9M378.9 413.4h.9M390.7 408.0h.9M399.0 403.4h.9M387.9 406.1h.9M396.6 405.7h.9M376.1 407.8h.9M394.4 408.0h.9M386.4 408.0h.9M399.0 405.5h.9M386.1 403.8h.9M379.3 413.1h.9M387.9 407.3h.9M376.6 414.1h.9M385.0 410.8h.9M378.8 413.5h.9M393.3 412.2h.9M395.8 407.5h.9M376.0 413.9h.9" stroke="#95d786" stroke-width="0.95"/>
<path d="M387.4 407.6h.9M395.4 407.9h.9M387.5 408.1h.9M378.9 416.0h.9M393.3 408.3h.9M396.0 406.5h.9M397.7 407.9h.9M390.2 408.2h.9M379.9 416.9h.9M385.8 410.8h.9M390.9 409.5h.9M386.7 409.9h.9M391.1 411.8h.9M398.2 409.6h.9M383.9 416.5h.9M396.7 406.9h.9M385.4 411.7h.9M379.5 410.5h.9M390.1 408.5h.9M399.6 407.3h.9M382.4 413.0h.9M396.2 409.8h.9M385.4 412.7h.9M380.9 413.9h.9M386.1 406.5h.9M386.5 409.6h.9M395.1 410.7h.9M386.7 410.3h.9M376.9 410.3h.9M389.3 412.2h.9M393.4 412.2h.9M382.7 411.8h.9M384.9 412.2h.9M379.1 415.2h.9M398.1 408.6h.9M396.5 404.9h.9M385.6 407.5h.9M390.5 408.9h.9M381.9 412.6h.9M378.1 415.0h.9M396.6 407.5h.9M386.3 412.0h.9M378.9 410.6h.9M383.6 410.7h.9M382.1 413.1h.9M377.1 412.4h.9M392.1 406.1h.9M380.5 414.3h.9M396.6 409.5h.9M392.5 408.5h.9M389.4 410.3h.9" stroke="#cfe153" stroke-width="0.95"/>
<path d="M388.6 408.0h.9M390.7 413.4h.9M384.6 414.7h.9M387.1 408.7h.9M397.1 409.0h.9M385.0 417.2h.9M394.0 408.8h.9M382.2 413.1h.9M398.1 410.7h.9M397.3 410.2h.9M386.3 414.2h.9M384.8 419.0h.9M389.9 408.9h.9M396.9 411.0h.9M382.9 412.3h.9M388.2 414.8h.9M395.9 410.2h.9M395.6 413.2h.9M397.2 412.1h.9M382.0 416.1h.9M399.5 408.7h.9M382.3 415.3h.9M393.7 411.0h.9M392.5 409.5h.9M384.8 415.9h.9M380.7 414.4h.9M398.0 410.8h.9M382.1 415.2h.9M396.9 408.4h.9M390.2 411.5h.9M392.0 406.2h.9M392.7 410.1h.9M393.3 409.7h.9M384.7 417.1h.9M387.6 407.8h.9M399.4 406.0h.9M389.3 413.9h.9M379.6 410.4h.9M385.4 410.0h.9M391.9 410.9h.9M384.1 414.9h.9M387.2 412.6h.9M398.9 407.5h.9M394.3 411.0h.9M391.5 410.8h.9M380.9 415.2h.9M389.1 409.5h.9M389.9 411.1h.9M380.7 417.5h.9M393.7 408.4h.9M382.2 416.7h.9M378.0 416.1h.9M383.6 417.5h.9M398.0 410.8h.9M390.1 408.4h.9M390.5 408.9h.9M391.6 411.6h.9M389.2 409.7h.9M398.3 406.6h.9M386.7 410.2h.9M392.6 411.7h.9M398.9 411.5h.9M386.6 416.7h.9M398.8 407.9h.9M397.7 408.2h.9M380.7 414.0h.9M397.4 407.9h.9" stroke="#f3d837" stroke-width="0.95"/>
<path d="M383.8 415.8h.9M383.5 416.5h.9M384.7 415.8h.9M392.7 411.7h.9M386.4 417.8h.9M382.2 416.3h.9M396.9 416.2h.9M394.8 412.8h.9M391.5 411.1h.9M385.2 419.4h.9M397.7 409.9h.9M397.3 416.7h.9M384.4 415.9h.9M398.0 411.6h.9M398.1 412.8h.9M395.2 415.4h.9M383.9 415.7h.9M389.5 414.2h.9M388.6 410.4h.9M397.2 408.8h.9M392.6 415.9h.9M386.2 415.1h.9M387.6 413.5h.9M389.2 408.3h.9M389.2 416.4h.9M390.8 416.4h.9M394.0 412.6h.9M381.9 416.6h.9M382.8 416.8h.9M389.1 411.5h.9M389.7 418.6h.9M392.5 415.2h.9M390.8 413.2h.9M390.4 409.7h.9M396.4 414.0h.9M398.7 409.1h.9M393.2 414.1h.9M398.0 411.1h.9M381.3 416.0h.9M382.5 415.9h.9M385.3 414.2h.9M395.2 416.5h.9M390.2 413.8h.9M390.1 413.6h.9M388.2 415.3h.9M399.2 411.1h.9M382.1 415.7h.9M394.8 416.5h.9M386.9 413.7h.9M397.7 412.5h.9M384.6 419.7h.9M393.2 414.6h.9M389.4 414.1h.9M394.3 412.7h.9M389.9 418.7h.9M391.1 416.3h.9M389.1 411.5h.9M384.3 412.1h.9M394.8 411.8h.9M384.0 416.5h.9M392.9 415.3h.9M395.4 411.9h.9M392.4 413.5h.9M381.2 413.6h.9M394.0 413.8h.9M397.2 413.8h.9M389.8 418.5h.9M384.5 414.8h.9" stroke="#fab92d" stroke-width="0.95"/>
<path d="M398.4 409.0h.9M391.7 412.5h.9M393.4 414.2h.9M398.2 413.5h.9M389.4 421.8h.9M385.9 417.8h.9M385.3 420.7h.9M390.9 417.7h.9M390.7 413.8h.9M390.3 416.8h.9M399.3 414.7h.9M394.9 412.8h.9M394.5 414.8h.9M392.2 412.8h.9M392.4 411.6h.9M382.7 416.4h.9M385.1 416.5h.9M397.1 411.0h.9M392.9 413.1h.9M392.6 415.8h.9M387.1 418.6h.9M398.8 414.9h.9M398.9 411.1h.9M390.8 418.2h.9M385.8 420.9h.9M389.8 414.6h.9M386.2 414.8h.9M393.0 415.0h.9M382.3 417.2h.9M394.1 416.4h.9M393.9 415.3h.9M391.3 415.0h.9M397.7 411.6h.9M390.7 416.0h.9M387.6 415.2h.9M392.8 414.1h.9M393.7 413.3h.9M386.0 417.7h.9M383.2 419.0h.9M399.5 414.1h.9M383.3 415.3h.9M397.7 409.0h.9M386.8 416.0h.9M395.0 409.8h.9M382.0 418.1h.9M385.6 411.8h.9M383.6 417.7h.9" stroke="#fa9628" stroke-width="0.95"/>
<path d="M394.0 419.7h.9M385.9 417.1h.9M395.1 411.5h.9M388.8 418.3h.9M396.2 416.2h.9M386.2 414.1h.9M392.1 417.5h.9M384.7 418.9h.9M393.7 415.5h.9M394.1 413.6h.9M396.6 412.5h.9M392.9 417.7h.9M395.8 410.3h.9M388.4 419.8h.9M386.5 421.4h.9M396.4 415.7h.9M387.8 415.3h.9M396.0 415.1h.9M394.6 417.4h.9M385.9 418.9h.9M393.6 415.1h.9M392.7 417.2h.9M384.7 417.3h.9M389.3 418.5h.9M392.6 417.2h.9M391.2 416.9h.9M387.7 420.9h.9M392.9 419.1h.9M390.5 414.8h.9M391.1 414.6h.9M381.4 415.7h.9M392.7 413.8h.9M396.4 414.1h.9M392.3 418.7h.9M393.5 414.1h.9M393.1 415.7h.9M388.0 418.6h.9M391.2 416.1h.9M395.3 416.3h.9M399.4 410.2h.9M390.0 418.0h.9M396.7 412.9h.9M386.0 416.9h.9M385.6 414.0h.9M392.8 416.0h.9" stroke="#f36a25" stroke-width="0.95"/>
<path d="M389.0 419.8h.9M388.9 421.4h.9M385.4 419.8h.9M388.9 414.0h.9M386.7 420.9h.9M392.5 418.9h.9M388.1 421.1h.9M388.0 419.1h.9M390.4 418.7h.9M397.8 414.1h.9M393.9 417.3h.9M392.8 415.4h.9M396.6 414.6h.9M391.8 419.9h.9M395.6 419.4h.9M395.6 418.0h.9M393.4 420.0h.9M388.1 415.9h.9M396.7 418.4h.9M387.2 420.9h.9M387.0 420.9h.9M391.4 416.7h.9M392.9 416.2h.9M385.4 418.4h.9M396.9 418.2h.9M393.9 419.6h.9M391.4 418.5h.9M390.9 419.5h.9M398.3 416.9h.9M394.3 416.7h.9M391.7 419.8h.9M398.5 416.1h.9M392.9 418.4h.9M390.4 420.2h.9M390.7 415.8h.9M389.7 417.0h.9M390.9 420.5h.9M398.9 414.4h.9M392.2 423.1h.9" stroke="#ea4122" stroke-width="0.95"/>
<path d="M387.0 418.9h.9M389.7 421.7h.9M389.0 421.2h.9M387.2 420.6h.9M386.9 420.5h.9M394.8 419.2h.9M395.4 416.4h.9M388.9 419.1h.9M390.2 419.1h.9M386.2 419.1h.9M394.9 418.2h.9M393.7 420.0h.9M391.7 421.1h.9M391.8 420.4h.9M386.9 420.7h.9M393.9 418.7h.9M394.1 419.1h.9M385.6 420.0h.9M389.6 421.5h.9M390.6 423.5h.9M391.4 423.8h.9M391.9 423.8h.9M391.6 424.2h.9" stroke="#d6291f" stroke-width="0.95"/>
<path d="M412.6 391.9h2M412.6 394.6h2M412.6 397.31h2M412.6 400.01h2M412.6 402.71h2M412.6 405.42h2M412.6 408.12h2M412.6 410.83h2M412.6 413.53h2M412.6 416.23h2M412.6 418.94h2M412.6 421.64h2M412.6 424.34h2M412.6 427.05h2M416.1 428.9v2M418.76 428.9v2M421.42 428.9v2M424.08 428.9v2M426.74 428.9v2M429.4 428.9v2M432.06 428.9v2M434.71 428.9v2M437.37 428.9v2M440.03 428.9v2M442.69 428.9v2M445.35 428.9v2M448.01 428.9v2M450.67 428.9v2" stroke="#333" stroke-width="0.9"/>
<rect x="414.6" y="390.4" width="37.9" height="38.5" fill="#fff" stroke="#444" stroke-width="0.9"/>
<path d="M423.3 405.0h.9M423.6 406.4h.9M423.7 412.2h.9M423.2 409.7h.9M421.2 414.6h.9M421.2 413.4h.9M420.2 412.6h.9M420.4 413.8h.9M421.3 413.8h.9M421.0 412.7h.9" stroke="#2949b9" stroke-width="0.95"/>
<path d="M425.1 401.4h.9M436.3 394.8h.9M425.0 403.2h.9M424.2 405.3h.9M425.2 402.3h.9M424.4 404.7h.9M427.1 409.1h.9M436.2 398.0h.9M424.4 409.7h.9M429.5 402.9h.9" stroke="#95d786" stroke-width="0.95"/>
<path d="M430.8 399.1h.9M424.6 404.6h.9M427.4 408.1h.9M428.2 416.9h.9M424.3 405.1h.9M426.4 409.0h.9M443.4 397.9h.9M425.6 402.3h.9M426.2 404.7h.9M428.3 402.6h.9M426.9 399.8h.9M437.8 398.4h.9M424.6 403.5h.9M434.6 396.0h.9M427.2 413.4h.9M436.2 395.9h.9M424.3 413.1h.9M431.0 401.6h.9M425.4 412.4h.9M436.5 400.7h.9M424.3 404.7h.9M430.8 398.2h.9" stroke="#cfe153" stroke-width="0.95"/>
<path d="M427.3 410.7h.9M426.8 411.3h.9M424.9 402.5h.9M444.8 401.8h.9M426.0 404.8h.9M427.6 399.3h.9M426.9 399.6h.9M430.0 400.9h.9M427.2 403.6h.9M427.1 405.5h.9M426.2 408.2h.9M430.0 398.9h.9M427.5 404.1h.9M431.4 402.2h.9M440.9 399.8h.9M428.2 407.2h.9M428.2 406.8h.9M425.9 404.4h.9M427.6 401.0h.9M433.5 396.8h.9M436.0 403.2h.9M429.4 405.3h.9M433.8 410.4h.9M433.8 400.8h.9M432.7 402.5h.9M430.9 399.1h.9M428.5 402.0h.9M429.3 412.0h.9M430.4 398.1h.9M437.0 407.0h.9M438.1 394.9h.9M427.4 409.8h.9M429.3 403.8h.9M427.9 407.0h.9M425.9 412.0h.9M424.9 403.0h.9M428.6 400.5h.9M425.0 412.4h.9M424.9 407.7h.9M433.8 401.7h.9M427.4 400.0h.9M432.3 405.5h.9M425.3 401.7h.9M425.3 404.7h.9M428.5 401.7h.9M433.9 404.8h.9M442.2 396.7h.9M446.5 400.5h.9M444.9 404.9h.9M433.5 398.5h.9M426.9 405.5h.9M426.2 407.8h.9M430.5 403.8h.9M426.5 405.4h.9M437.4 400.7h.9M435.4 398.3h.9M429.9 404.5h.9M427.2 410.6h.9M434.7 403.9h.9M426.2 408.0h.9M424.4 413.0h.9M427.6 413.1h.9M426.2 410.1h.9M424.3 407.5h.9M442.3 397.8h.9M444.2 400.4h.9M424.1 409.4h.9M427.6 403.2h.9M426.9 407.1h.9M424.3 413.9h.9M426.9 402.1h.9" stroke="#f3d837" stroke-width="0.95"/>
<path d="M438.3 398.0h.9M427.3 401.0h.9M444.9 397.8h.9M425.3 406.9h.9M435.1 403.6h.9M435.8 407.6h.9M436.9 400.7h.9M445.6 409.0h.9M425.3 404.5h.9M427.2 416.0h.9M434.8 396.5h.9M443.1 401.8h.9M425.9 409.8h.9M433.6 401.7h.9M440.5 395.3h.9M438.6 407.0h.9M439.6 395.1h.9M425.7 410.8h.9M437.8 411.3h.9M443.5 403.1h.9M435.0 409.9h.9M446.8 401.8h.9M433.7 400.2h.9M425.7 405.4h.9M438.5 404.1h.9M430.1 398.8h.9M429.5 412.6h.9M430.4 404.2h.9M429.9 406.0h.9M435.1 398.8h.9M445.2 406.9h.9M431.0 416.4h.9M432.7 402.6h.9M435.9 413.5h.9M440.0 402.3h.9M440.2 398.3h.9M427.8 410.5h.9M428.8 410.4h.9M433.7 396.3h.9M441.0 397.8h.9M441.3 397.5h.9M429.8 410.3h.9M429.5 407.9h.9M430.4 405.3h.9M434.0 399.5h.9M447.0 402.1h.9M435.1 403.5h.9M446.6 402.1h.9M431.7 403.2h.9M430.0 399.5h.9M434.5 405.4h.9M426.9 409.1h.9M425.2 410.3h.9M429.0 409.1h.9M433.1 417.1h.9M428.6 400.2h.9M447.8 406.0h.9M428.6 408.8h.9M443.1 406.5h.9M427.9 410.4h.9M431.0 405.8h.9M425.5 405.2h.9M433.0 405.3h.9M434.7 403.4h.9M430.9 406.3h.9M436.0 394.9h.9M427.0 408.3h.9M434.0 396.9h.9M438.9 408.9h.9M436.5 394.9h.9M424.4 407.8h.9M426.3 416.1h.9M425.9 409.1h.9M446.2 411.6h.9M440.1 404.3h.9M428.5 409.7h.9M431.5 399.6h.9M442.0 401.2h.9M430.9 397.5h.9M441.7 402.9h.9M447.4 405.5h.9M428.7 399.0h.9M429.9 402.3h.9M435.1 395.7h.9M427.4 401.5h.9M432.5 408.9h.9M438.9 398.9h.9M433.0 399.0h.9M439.7 403.0h.9M444.4 398.8h.9M428.9 414.3h.9M428.6 407.8h.9M447.3 411.5h.9M438.9 405.3h.9M427.1 413.5h.9M427.1 406.8h.9M434.7 400.3h.9" stroke="#fab92d" stroke-width="0.95"/>
<path d="M427.2 410.6h.9M439.1 413.4h.9M441.1 411.7h.9M431.9 403.8h.9M434.9 398.8h.9M433.3 409.5h.9M437.1 402.9h.9M431.2 405.3h.9M435.5 408.7h.9M443.6 411.5h.9M435.9 408.1h.9M430.2 406.8h.9M429.6 408.0h.9M441.8 408.3h.9M426.8 409.5h.9M435.1 398.7h.9M445.8 416.7h.9M440.4 397.6h.9M438.6 408.2h.9M428.7 400.8h.9M442.8 406.4h.9M442.5 413.6h.9M445.8 410.2h.9M435.3 401.9h.9M435.7 396.1h.9M434.6 409.9h.9M443.6 415.4h.9M444.4 407.9h.9M439.0 413.8h.9M435.4 400.5h.9M436.9 407.3h.9M435.5 405.4h.9M432.4 397.2h.9M428.0 412.0h.9M432.8 407.6h.9M442.1 398.2h.9M427.6 408.0h.9M446.3 403.5h.9M437.6 408.3h.9M444.3 410.2h.9M444.4 401.9h.9M445.6 411.0h.9M433.6 407.2h.9M430.7 415.3h.9M447.9 407.2h.9M435.6 396.9h.9M424.9 412.4h.9M434.7 400.2h.9M435.0 405.6h.9M429.0 414.4h.9M436.6 412.9h.9M428.1 407.1h.9M427.4 412.3h.9M436.9 398.3h.9M439.1 413.2h.9M438.8 409.7h.9M430.7 411.7h.9M444.8 414.0h.9M437.1 406.1h.9M447.1 409.1h.9M429.7 415.7h.9M428.3 407.3h.9M427.7 413.2h.9M432.1 401.5h.9M430.8 415.9h.9M434.5 407.9h.9M441.6 396.7h.9M430.2 408.0h.9M436.7 400.4h.9M426.2 414.8h.9M437.6 402.8h.9M424.3 411.1h.9M431.0 407.7h.9M429.5 405.9h.9M436.6 415.3h.9M439.1 401.9h.9M447.7 411.1h.9M427.4 415.2h.9M433.6 404.2h.9M426.6 411.0h.9M428.1 407.4h.9M430.4 415.7h.9M437.0 402.7h.9M436.4 399.2h.9M447.5 403.4h.9M430.0 403.9h.9M443.2 416.5h.9M429.2 415.2h.9M430.9 406.1h.9M445.0 405.7h.9M431.7 408.2h.9M434.6 400.1h.9M441.5 415.7h.9M430.2 412.6h.9M434.2 399.8h.9M438.9 399.4h.9M442.8 412.7h.9M440.7 396.4h.9M426.3 411.8h.9M446.4 410.8h.9M442.8 396.7h.9M426.8 403.9h.9M429.7 407.0h.9M445.1 407.5h.9M436.6 405.6h.9M438.4 408.4h.9M434.7 412.0h.9M443.1 400.7h.9M447.9 410.2h.9M442.5 419.1h.9M427.3 410.7h.9M440.6 403.8h.9M434.5 403.8h.9M428.0 414.8h.9M438.4 398.4h.9M424.9 414.1h.9M435.1 410.2h.9M443.8 411.9h.9M429.5 413.6h.9M447.3 407.9h.9M440.9 408.5h.9M441.8 412.2h.9M437.8 410.3h.9M432.3 401.2h.9M446.1 408.2h.9M430.2 414.6h.9M430.3 398.8h.9" stroke="#fa9628" stroke-width="0.95"/>
<path d="M438.1 421.7h.9M433.0 415.8h.9M439.8 400.5h.9M441.1 402.6h.9M446.8 409.0h.9M445.4 416.2h.9M438.5 407.6h.9M443.8 410.9h.9M440.1 398.5h.9M443.2 412.8h.9M442.5 408.8h.9M430.6 413.1h.9M446.6 410.7h.9M444.4 406.5h.9M443.3 409.4h.9M439.9 412.0h.9M446.6 413.5h.9M444.7 416.2h.9M439.9 411.1h.9M446.1 407.9h.9M446.1 409.9h.9M433.7 419.8h.9M443.8 416.4h.9M446.3 401.9h.9M437.3 414.0h.9M433.0 408.4h.9M429.6 414.9h.9M434.6 414.1h.9M434.1 399.4h.9M440.5 417.5h.9M446.4 411.6h.9M433.0 418.9h.9M441.0 406.8h.9M443.1 405.9h.9M446.6 409.6h.9M432.2 415.7h.9M434.7 414.2h.9M444.7 403.7h.9M445.3 411.0h.9M432.2 416.5h.9M444.3 410.3h.9M443.7 405.3h.9M431.3 412.3h.9M436.7 419.8h.9M437.2 419.1h.9M445.6 408.8h.9M441.0 415.9h.9M446.3 414.1h.9M442.4 417.3h.9M435.1 408.9h.9M444.1 413.2h.9M430.3 416.1h.9M448.0 408.7h.9M437.6 416.4h.9M437.7 418.5h.9M442.1 411.0h.9M438.5 408.5h.9M440.9 409.5h.9M445.0 414.6h.9M443.2 405.8h.9M439.2 416.4h.9M439.6 416.9h.9M432.3 411.6h.9M430.2 416.6h.9M441.4 407.1h.9M431.1 416.8h.9M441.0 415.8h.9M430.2 412.2h.9M430.3 412.3h.9M444.5 406.2h.9M444.5 406.2h.9M446.4 410.8h.9M440.3 409.8h.9M438.9 404.7h.9M436.2 406.8h.9M439.5 414.6h.9M436.2 403.6h.9M445.3 408.4h.9M442.6 402.3h.9M438.6 411.5h.9M434.5 406.5h.9M442.0 402.0h.9M432.9 411.0h.9M441.6 414.1h.9M434.4 410.3h.9M443.5 399.1h.9M446.4 411.1h.9M433.0 405.2h.9M434.4 407.1h.9M426.2 412.2h.9M441.7 409.7h.9M429.6 416.0h.9M433.7 414.2h.9M436.0 407.8h.9M441.8 412.2h.9M432.5 410.5h.9M437.6 413.9h.9M433.7 410.0h.9M441.1 413.8h.9M433.9 400.4h.9M434.8 395.4h.9M436.1 405.5h.9M431.1 411.8h.9M433.2 412.2h.9M439.8 416.7h.9M439.1 408.0h.9M433.7 418.4h.9M431.2 405.7h.9M446.5 408.6h.9M430.7 417.2h.9M442.8 403.8h.9M435.4 400.4h.9M433.9 407.5h.9M436.3 406.1h.9M437.5 409.5h.9M446.1 404.5h.9M438.2 411.1h.9M429.0 417.5h.9M441.2 403.6h.9M442.1 408.4h.9M446.1 412.5h.9M442.8 408.0h.9M446.7 416.9h.9M442.7 416.7h.9M431.9 417.5h.9M430.6 409.2h.9M446.9 416.1h.9M426.3 415.0h.9M434.8 408.0h.9M434.5 404.7h.9M436.6 407.3h.9M447.1 401.0h.9M423.9 413.4h.9M438.8 408.9h.9M438.3 399.5h.9M434.5 404.0h.9M447.9 414.1h.9M431.9 410.7h.9M437.6 409.7h.9M432.6 412.1h.9M432.3 416.5h.9M436.3 407.3h.9M446.8 406.6h.9M440.5 406.1h.9M446.1 409.0h.9M436.1 395.3h.9M428.3 411.5h.9M445.0 409.5h.9M434.3 416.9h.9M433.9 414.0h.9M430.4 404.6h.9M444.2 407.5h.9M429.0 414.0h.9M445.7 413.8h.9M429.8 411.7h.9M434.0 411.8h.9" stroke="#f36a25" stroke-width="0.95"/>
<path d="M437.4 419.8h.9M442.4 419.7h.9M437.0 408.0h.9M432.6 409.9h.9M435.6 420.6h.9M435.1 412.7h.9M440.1 412.5h.9M443.8 407.9h.9M433.4 417.2h.9M442.7 408.1h.9M437.9 409.2h.9M433.6 419.4h.9M440.9 418.9h.9M433.7 420.7h.9M442.1 415.5h.9M439.3 409.5h.9M433.4 408.8h.9M439.3 417.7h.9M446.6 412.8h.9M439.5 411.8h.9M445.0 412.5h.9M438.3 408.9h.9M441.3 417.7h.9M437.9 414.2h.9M436.5 421.1h.9M447.7 414.7h.9M442.9 414.8h.9M440.6 412.8h.9M436.9 410.4h.9M434.8 421.4h.9M444.8 415.7h.9M434.5 415.1h.9M444.5 415.1h.9M436.5 414.8h.9M433.5 416.5h.9M434.3 418.9h.9M445.6 412.1h.9M442.0 415.1h.9M434.7 407.7h.9M433.0 417.3h.9M441.0 417.2h.9M441.2 415.4h.9M444.0 419.4h.9M448.1 407.3h.9M441.3 413.1h.9M442.4 412.6h.9M438.9 414.8h.9M437.5 411.5h.9M438.8 406.7h.9M435.4 418.6h.9M430.7 413.0h.9M447.3 414.9h.9M444.0 418.0h.9M430.4 415.2h.9M444.6 409.8h.9M433.7 412.7h.9M429.2 413.9h.9M447.3 411.1h.9M434.8 409.6h.9M438.1 414.6h.9M436.5 415.9h.9M441.1 410.1h.9M436.2 399.1h.9M435.5 404.6h.9M438.4 409.1h.9M437.7 412.2h.9M442.9 407.3h.9M440.3 410.9h.9M432.4 414.9h.9M435.5 412.6h.9M447.4 407.5h.9M435.3 420.9h.9M442.7 411.0h.9M442.3 419.6h.9M442.5 416.4h.9M440.2 420.4h.9M439.9 410.8h.9M432.0 404.8h.9M442.3 415.3h.9M439.7 415.0h.9M433.0 419.7h.9M441.6 414.6h.9M439.5 416.3h.9M436.4 418.6h.9M429.9 409.6h.9M439.6 416.1h.9M429.0 404.0h.9M437.5 411.5h.9M434.3 417.7h.9M432.3 409.5h.9M442.3 418.7h.9M431.6 419.0h.9M431.6 415.3h.9M443.3 411.8h.9M445.2 412.9h.9M439.1 415.8h.9M433.4 410.8h.9M441.0 411.7h.9M438.0 417.0h.9M434.9 416.7h.9M442.5 413.8h.9M434.0 420.0h.9M441.2 416.0h.9M443.4 409.8h.9M439.3 420.5h.9M437.9 421.5h.9M432.9 414.8h.9M445.8 407.9h.9" stroke="#ea4122" stroke-width="0.95"/>
<path d="M435.4 418.9h.9M432.2 415.8h.9M437.4 421.2h.9M434.3 417.1h.9M431.9 416.5h.9M434.7 417.8h.9M430.5 416.3h.9M433.0 414.7h.9M441.8 414.2h.9M437.3 421.4h.9M437.2 418.3h.9M435.3 420.5h.9M443.2 419.2h.9M437.8 421.8h.9M435.1 420.9h.9M432.7 415.9h.9M434.3 417.8h.9M434.1 410.8h.9M433.2 419.0h.9M438.7 416.8h.9M436.4 419.1h.9M443.4 412.8h.9M440.8 411.6h.9M438.8 418.7h.9M436.2 415.3h.9M443.1 417.4h.9M441.1 417.2h.9M433.7 411.7h.9M440.2 419.9h.9M433.1 415.9h.9M436.0 420.9h.9M441.4 419.1h.9M438.1 418.6h.9M438.6 419.1h.9M440.9 415.2h.9M434.6 419.1h.9M439.2 418.2h.9M434.2 420.9h.9M441.8 420.0h.9M443.5 410.7h.9M440.4 406.2h.9M443.3 418.2h.9M435.1 410.3h.9M434.6 414.8h.9M445.2 418.4h.9M442.1 420.0h.9M441.4 415.0h.9M435.5 420.9h.9M443.7 416.5h.9M438.6 413.8h.9M438.5 413.6h.9M428.7 413.2h.9M440.1 421.1h.9M444.8 414.1h.9M441.3 416.2h.9M445.4 418.2h.9M440.7 418.7h.9M434.5 411.9h.9M439.8 418.5h.9M435.2 413.7h.9M434.0 409.7h.9M441.9 414.1h.9M435.3 420.7h.9M430.6 416.7h.9M439.3 419.5h.9M437.8 414.1h.9M439.1 416.0h.9M436.0 415.2h.9M440.1 419.8h.9M438.3 418.7h.9M441.2 414.1h.9M442.2 413.3h.9M443.8 416.3h.9M438.4 418.0h.9M440.0 411.6h.9M441.3 418.4h.9M438.8 420.2h.9M430.4 413.1h.9M441.3 415.3h.9M440.9 413.5h.9M435.2 416.0h.9M438.2 418.5h.9M430.4 418.1h.9M447.3 414.4h.9M431.9 417.7h.9M439.0 423.5h.9M439.8 423.8h.9M440.3 423.8h.9M440.0 424.2h.9M440.6 423.1h.9" stroke="#d6291f" stroke-width="0.95"/>
<path d="M461.4 391.9h2M461.4 394.6h2M461.4 397.31h2M461.4 400.01h2M461.4 402.71h2M461.4 405.42h2M461.4 408.12h2M461.4 410.83h2M461.4 413.53h2M461.4 416.23h2M461.4 418.94h2M461.4 421.64h2M461.4 424.34h2M461.4 427.05h2M464.9 428.9v2M467.56 428.9v2M470.22 428.9v2M472.88 428.9v2M475.54 428.9v2M478.2 428.9v2M480.86 428.9v2M483.51 428.9v2M486.17 428.9v2M488.83 428.9v2M491.49 428.9v2M494.15 428.9v2M496.81 428.9v2M499.47 428.9v2" stroke="#333" stroke-width="0.9"/>
<rect x="463.4" y="390.4" width="37.9" height="38.5" fill="#fff" stroke="#444" stroke-width="0.9"/>
<path d="M489.9 402.6h.9M495.6 409.0h.9M487.3 407.6h.9M478.8 398.9h.9M482.4 401.7h.9M495.1 401.9h.9M485.1 394.8h.9M477.5 400.8h.9M488.1 409.5h.9M482.2 408.8h.9M491.3 413.6h.9M483.8 409.9h.9M474.5 405.4h.9M477.0 406.8h.9M473.1 405.1h.9M478.9 398.8h.9M484.2 400.5h.9M478.7 406.0h.9M494.1 411.0h.9M496.5 414.7h.9M494.0 406.9h.9M495.1 414.1h.9M481.5 402.6h.9M488.8 402.3h.9M492.9 413.2h.9M494.4 412.1h.9M493.2 401.9h.9M489.7 409.5h.9M486.9 394.9h.9M495.2 410.8h.9M489.1 409.8h.9M485.0 403.6h.9M494.1 408.4h.9M493.6 414.0h.9M489.2 406.2h.9M473.7 403.0h.9M482.6 401.7h.9M483.4 396.0h.9M482.7 400.4h.9M481.1 405.5h.9M486.4 402.8h.9M483.6 395.4h.9M474.1 404.7h.9M477.3 401.7h.9M487.9 401.9h.9M493.6 414.1h.9M487.9 408.0h.9M495.3 400.5h.9M488.7 410.8h.9M482.7 407.5h.9M482.8 409.7h.9M490.0 403.6h.9M473.2 407.8h.9M483.0 399.8h.9M491.6 412.7h.9M477.3 409.7h.9M490.8 401.2h.9M483.6 408.0h.9M485.4 407.3h.9M491.9 400.7h.9M479.7 397.5h.9M487.1 399.5h.9M480.7 410.7h.9M478.3 402.9h.9M479.8 401.6h.9M487.2 398.4h.9M476.2 401.5h.9M485.1 407.3h.9M495.6 406.6h.9M482.2 410.8h.9M489.8 411.7h.9M496.1 411.5h.9M479.2 404.6h.9M494.9 408.2h.9M496.1 414.4h.9" stroke="#212e96" stroke-width="0.95"/>
<path d="M487.1 398.0h.9M485.8 408.0h.9M473.7 402.5h.9M476.1 401.0h.9M481.4 409.9h.9M488.6 400.5h.9M493.7 397.8h.9M489.9 411.7h.9M474.8 404.8h.9M476.4 399.3h.9M480.7 403.8h.9M483.7 398.8h.9M482.1 409.5h.9M479.6 399.1h.9M474.1 406.9h.9M483.9 403.6h.9M473.4 404.6h.9M475.7 399.6h.9M488.9 412.5h.9M492.6 410.9h.9M478.8 400.9h.9M476.0 403.6h.9M484.6 407.6h.9M485.7 400.7h.9M475.9 405.5h.9M484.3 408.7h.9M492.6 407.9h.9M488.9 398.5h.9M494.4 409.0h.9M474.1 404.5h.9M476.2 408.1h.9M492.0 412.8h.9M491.3 408.8h.9M492.4 411.5h.9M473.9 401.4h.9M484.7 408.1h.9M475.0 408.2h.9M479.0 406.8h.9M478.4 408.0h.9M495.4 410.7h.9M476.3 404.1h.9M490.6 408.3h.9M493.2 406.5h.9M492.1 409.4h.9M488.7 412.0h.9M483.6 396.5h.9M495.4 413.5h.9M488.7 411.1h.9M491.9 401.8h.9M491.5 408.1h.9M475.6 409.5h.9M494.9 407.9h.9M494.9 409.9h.9M483.9 398.7h.9M489.3 395.3h.9M489.2 397.6h.9M487.4 408.2h.9M487.4 407.0h.9M480.2 402.2h.9M481.8 408.4h.9M488.4 395.1h.9M482.9 399.4h.9M495.2 411.6h.9M491.6 406.4h.9M482.9 410.8h.9M489.8 406.8h.9M486.6 411.3h.9M494.6 410.2h.9M492.3 403.1h.9M473.8 403.2h.9M484.1 401.9h.9M473.0 405.3h.9M495.6 401.8h.9M484.5 396.1h.9M477.0 407.2h.9M491.9 405.9h.9M495.4 412.8h.9M482.5 400.2h.9M488.3 411.8h.9M495.4 409.6h.9M483.4 409.9h.9M493.8 412.5h.9M487.3 404.1h.9M487.1 408.9h.9M493.5 403.7h.9M485.7 407.3h.9M474.7 404.4h.9M479.2 404.2h.9M484.3 405.4h.9M481.2 397.2h.9M492.2 412.8h.9M483.9 398.8h.9M475.2 409.0h.9M489.4 412.8h.9M485.7 410.4h.9M493.1 410.3h.9M476.4 401.0h.9M492.5 405.3h.9M482.3 396.8h.9M489.6 411.6h.9M481.6 407.6h.9M490.9 398.2h.9M494.4 408.8h.9M474.0 402.3h.9M476.4 408.0h.9M483.9 408.9h.9M484.8 403.2h.9M495.1 403.5h.9M478.2 405.3h.9M482.6 410.4h.9M486.4 408.3h.9M493.1 410.2h.9M481.5 402.5h.9M489.0 398.3h.9M492.2 397.9h.9M494.4 411.0h.9M483.5 407.7h.9M496.8 408.7h.9M490.9 411.0h.9M487.3 408.5h.9M496.7 407.2h.9M479.7 399.1h.9M493.8 414.6h.9M492.0 405.8h.9M484.4 396.9h.9M474.4 402.3h.9M482.5 396.3h.9M475.0 404.7h.9M489.8 397.8h.9M496.9 407.3h.9M477.1 402.6h.9M490.1 397.5h.9M490.1 413.1h.9M491.2 412.6h.9M478.3 407.9h.9M490.2 407.1h.9M479.2 405.3h.9M475.7 399.8h.9M477.3 402.0h.9M483.5 400.2h.9M483.8 405.6h.9M486.6 398.4h.9M486.3 411.5h.9M479.2 398.1h.9M485.8 407.0h.9M487.6 406.7h.9M476.9 407.1h.9M482.8 399.5h.9M493.3 406.2h.9M493.3 406.2h.9M496.1 414.9h.9M485.7 398.3h.9M495.8 402.1h.9M487.7 404.7h.9M485.0 406.8h.9M483.9 403.5h.9M493.4 409.8h.9M487.6 409.7h.9M495.4 402.1h.9M480.5 403.2h.9M496.1 411.1h.9M491.4 402.3h.9M478.8 399.5h.9M487.4 411.5h.9M483.3 406.5h.9M490.8 402.0h.9M481.7 411.0h.9M483.6 409.6h.9M478.1 403.8h.9M485.9 406.1h.9M473.4 403.5h.9M492.3 410.7h.9M495.9 409.1h.9M483.3 405.4h.9M483.2 410.3h.9M475.7 409.1h.9M489.9 410.1h.9M483.9 410.3h.9M492.3 399.1h.9M485.0 399.1h.9M495.2 411.1h.9M481.8 405.2h.9M483.2 407.1h.9M477.1 407.3h.9M490.5 409.7h.9M477.8 409.1h.9M480.9 401.5h.9M484.3 404.6h.9M477.4 400.2h.9M483.3 407.9h.9M484.8 407.8h.9M487.2 409.1h.9M490.4 396.7h.9M477.4 400.5h.9M486.5 412.2h.9M496.6 406.0h.9M479.0 408.0h.9M485.5 400.4h.9M473.7 407.7h.9M491.7 407.3h.9M490.6 412.2h.9M481.3 410.5h.9M477.4 408.8h.9M491.9 406.5h.9M479.8 405.8h.9M482.5 410.0h.9M476.2 400.0h.9M489.1 410.9h.9M496.2 407.5h.9M474.1 401.7h.9M474.3 405.2h.9M481.8 405.3h.9M479.8 407.7h.9M478.3 405.9h.9M484.9 405.5h.9M473.2 404.7h.9M483.5 403.4h.9M479.7 406.3h.9M496.5 411.1h.9M482.7 404.8h.9M482.4 404.2h.9M476.9 407.4h.9M491.5 411.0h.9M485.8 402.7h.9M480.0 405.7h.9M495.3 408.6h.9M484.8 394.9h.9M491.6 403.8h.9M485.2 399.2h.9M496.3 403.4h.9M478.8 403.9h.9M475.8 408.3h.9M484.2 400.4h.9M475.9 409.1h.9M493.7 404.9h.9M480.8 404.8h.9M485.1 406.1h.9M486.3 409.5h.9M479.7 406.1h.9M482.3 398.5h.9M482.8 396.9h.9M475.7 405.5h.9M493.8 405.7h.9M494.9 404.5h.9M475.0 407.8h.9M487.0 411.1h.9M480.5 408.2h.9M483.4 400.1h.9M487.7 408.9h.9M490.9 408.4h.9M479.3 403.8h.9M485.3 394.9h.9M494.9 412.5h.9M491.6 408.0h.9M495.0 411.6h.9M487.7 399.4h.9M489.5 396.4h.9M485.0 398.0h.9M488.9 404.3h.9M495.2 410.8h.9M491.6 396.7h.9M475.6 403.9h.9M479.4 409.2h.9M491.0 413.3h.9M475.3 405.4h.9M480.3 399.6h.9M486.2 400.7h.9M478.5 407.0h.9M485.0 395.9h.9M485.4 405.6h.9M478.7 409.6h.9M483.3 404.7h.9M487.2 408.4h.9M477.8 404.0h.9M495.9 401.0h.9M486.3 411.5h.9M478.7 404.5h.9M490.5 402.9h.9M481.1 409.5h.9M496.7 410.2h.9M487.6 408.9h.9M483.3 404.0h.9M483.5 403.9h.9M496.7 414.1h.9M496.2 405.5h.9M477.5 399.0h.9M475.0 408.0h.9M488.8 411.6h.9M478.7 402.3h.9M483.9 395.7h.9M489.4 403.8h.9M483.3 403.8h.9M486.4 409.7h.9M494.0 412.9h.9M481.3 408.9h.9M487.7 398.9h.9M481.8 399.0h.9M473.1 407.5h.9M491.1 397.8h.9M483.9 410.2h.9M493.0 400.4h.9M488.5 403.0h.9M489.3 406.1h.9M494.9 409.0h.9M493.2 398.8h.9M476.4 403.2h.9M477.4 407.8h.9M492.6 411.9h.9M489.7 413.5h.9M484.9 395.3h.9M487.7 405.3h.9M493.8 409.5h.9M491.3 413.8h.9M475.9 406.8h.9M496.1 407.9h.9M483.5 400.3h.9M489.7 408.5h.9M490.6 412.2h.9M486.6 410.3h.9M481.1 401.2h.9M485.3 400.7h.9M492.2 409.8h.9M475.7 407.1h.9M494.5 413.8h.9M479.1 398.8h.9M473.1 404.7h.9M479.6 398.2h.9M494.6 407.9h.9" stroke="#2949b9" stroke-width="0.95"/>
<path d="M493.6 401.8h.9M485.9 402.9h.9M480.0 405.3h.9M486.7 409.2h.9M489.7 399.8h.9M493.2 407.9h.9M482.6 400.8h.9M482.4 407.2h.9M476.7 407.0h.9M491.0 396.7h.9M493.9 407.5h.9M484.2 398.3h.9M492.1 411.8h.9M493.0 407.5h.9M475.7 402.1h.9" stroke="#2f6dd4" stroke-width="0.95"/>
<path d="M476.0 410.6h.9M476.1 410.7h.9M490.6 414.2h.9M491.7 414.8h.9M482.5 411.7h.9M478.6 410.3h.9M487.7 414.8h.9M487.9 413.2h.9M483.3 411.9h.9M479.0 412.6h.9M492.6 416.3h.9M483.5 412.0h.9M476.0 410.6h.9M481.4 412.1h.9M475.0 410.1h.9M477.1 411.5h.9" stroke="#3791dc" stroke-width="0.95"/>
<path d="M494.2 416.2h.9M483.9 412.7h.9M494.6 416.7h.9M474.5 410.8h.9M478.3 412.6h.9M493.3 415.1h.9M490.8 415.1h.9M477.6 410.4h.9M490.0 415.4h.9M485.4 412.9h.9M479.0 412.2h.9M476.2 412.3h.9M490.2 415.0h.9M492.5 416.5h.9M484.3 412.6h.9M487.4 413.8h.9M491.1 415.3h.9M495.5 416.9h.9M490.4 414.6h.9M474.7 409.1h.9M490.0 414.1h.9M495.7 416.1h.9M488.3 416.3h.9M490.0 416.0h.9M482.8 411.8h.9" stroke="#44b0d7" stroke-width="0.95"/>
<path d="M487.9 413.4h.9M479.4 413.1h.9M492.4 415.4h.9M483.5 414.2h.9M486.7 414.2h.9M476.8 412.0h.9M480.1 412.3h.9M493.6 415.7h.9M484.7 413.5h.9M476.6 410.5h.9M489.8 415.8h.9M479.1 412.3h.9M492.8 418.0h.9M488.3 414.6h.9M482.5 412.7h.9M476.2 409.8h.9M479.5 411.7h.9M486.9 414.6h.9M490.4 414.1h.9M474.7 412.0h.9M486.4 413.9h.9M477.5 413.2h.9M479.9 411.8h.9M490.1 416.2h.9M491.3 416.4h.9M490.7 414.1h.9M488.5 415.0h.9M490.3 415.7h.9M491.5 416.7h.9M475.1 411.8h.9M473.2 409.7h.9M476.1 410.7h.9M476.4 413.1h.9M472.9 409.4h.9M478.6 411.7h.9" stroke="#62c5b6" stroke-width="0.95"/>
<path d="M481.8 415.8h.9M493.5 416.2h.9M474.7 409.8h.9M492.6 416.4h.9M486.1 414.0h.9M483.4 414.1h.9M490.9 415.5h.9M487.8 413.8h.9M487.5 416.8h.9M489.8 415.9h.9M483.3 415.1h.9M485.3 414.8h.9M491.9 417.4h.9M486.4 416.4h.9M489.8 417.2h.9M473.7 412.4h.9M478.1 412.0h.9M479.5 413.0h.9M492.1 418.2h.9M475.0 412.2h.9M482.5 414.2h.9M476.7 410.4h.9M489.9 413.8h.9M481.2 414.9h.9M473.1 411.1h.9M487.3 413.6h.9M485.4 415.3h.9M482.0 412.2h.9M475.4 411.0h.9M494.2 418.2h.9M478.0 415.2h.9M484.0 413.7h.9M486.6 414.1h.9M484.8 415.2h.9M473.1 413.1h.9M479.2 413.1h.9M487.9 415.8h.9M486.8 417.0h.9M490.1 415.3h.9M475.9 413.5h.9M482.7 414.0h.9M479.0 414.6h.9M473.1 413.9h.9M481.7 414.8h.9" stroke="#95d786" stroke-width="0.95"/>
<path d="M481.0 415.8h.9M475.6 411.3h.9M480.7 416.5h.9M482.2 417.2h.9M489.3 417.5h.9M488.1 417.7h.9M490.1 417.7h.9M491.2 417.3h.9M485.0 415.3h.9M492.8 419.4h.9M488.0 416.4h.9M488.4 416.9h.9M481.1 411.6h.9M489.7 415.2h.9M490.9 420.0h.9M476.5 413.2h.9M492.0 416.5h.9M487.9 416.0h.9M475.1 415.0h.9M480.4 415.3h.9M490.1 418.4h.9M477.7 414.3h.9M478.3 413.6h.9M483.7 416.7h.9" stroke="#cfe153" stroke-width="0.95"/>
<path d="M484.2 418.9h.9M483.1 417.1h.9M483.5 417.8h.9M481.8 414.7h.9M478.4 414.9h.9M481.0 416.5h.9M487.6 418.7h.9M486.0 419.1h.9M482.3 416.5h.9M489.9 417.2h.9M479.5 415.3h.9M489.0 419.9h.9M490.2 419.1h.9M487.4 419.1h.9M479.2 415.2h.9M478.0 413.9h.9M488.0 418.2h.9M485.3 415.9h.9M474.0 410.3h.9M483.4 414.8h.9M494.0 418.4h.9M479.6 415.9h.9M473.8 412.4h.9M488.6 416.7h.9M479.2 415.7h.9M482.5 418.4h.9M479.5 417.2h.9M489.5 418.7h.9M488.6 418.5h.9M477.8 417.5h.9M479.4 416.7h.9M488.4 416.1h.9M491.1 418.7h.9M473.2 413.0h.9M473.7 414.1h.9M474.2 412.4h.9M483.1 416.9h.9M477.8 414.0h.9" stroke="#f3d837" stroke-width="0.95"/>
<path d="M479.3 416.3h.9M486.0 418.3h.9M492.0 419.2h.9M483.1 417.8h.9M489.7 418.9h.9M485.2 419.1h.9M479.1 416.1h.9M486.5 418.5h.9M481.9 415.9h.9M479.0 416.6h.9M486.9 418.6h.9M477.8 414.4h.9M475.0 414.8h.9M476.0 413.4h.9M476.2 415.2h.9M491.1 419.6h.9M489.0 420.4h.9M475.1 416.1h.9M488.9 419.8h.9M487.1 418.7h.9M483.1 417.7h.9M487.2 418.0h.9M476.8 414.8h.9M481.1 416.5h.9M484.0 416.0h.9M487.0 418.5h.9" stroke="#fab92d" stroke-width="0.95"/>
<path d="M486.9 421.7h.9M491.2 419.7h.9M476.0 416.0h.9M481.5 415.9h.9M482.5 420.7h.9M481.8 418.9h.9M481.0 415.7h.9M485.3 421.1h.9M479.8 416.4h.9M483.1 418.9h.9M481.8 417.3h.9M483.4 419.1h.9M481.9 417.1h.9M478.4 416.0h.9M484.1 420.9h.9M480.7 417.5h.9M491.3 419.1h.9M480.4 419.0h.9M480.7 417.7h.9" stroke="#fa9628" stroke-width="0.95"/>
<path d="M482.4 419.4h.9M482.5 419.8h.9M477.0 416.9h.9M482.0 419.0h.9M485.5 419.8h.9M483.6 421.4h.9M484.8 420.9h.9M484.2 418.6h.9M490.6 420.0h.9M478.5 415.7h.9M484.1 420.7h.9M485.2 418.6h.9M472.7 413.4h.9M487.6 420.2h.9M482.8 420.0h.9M479.2 418.1h.9M489.1 423.8h.9" stroke="#f36a25" stroke-width="0.95"/>
<path d="M486.2 419.8h.9M486.2 421.2h.9M486.1 421.4h.9M484.1 420.5h.9M486.6 421.8h.9M472.1 405.0h.9M479.9 416.8h.9M484.3 420.9h.9M472.4 406.4h.9M488.9 421.1h.9M488.1 419.5h.9M481.8 419.7h.9M472.5 412.2h.9M472.0 409.7h.9M488.1 420.5h.9M470.0 414.6h.9M470.0 413.4h.9M469.0 412.6h.9M469.2 413.8h.9M470.1 413.8h.9M469.8 412.7h.9M487.8 423.5h.9M488.6 423.8h.9M489.4 423.1h.9" stroke="#ea4122" stroke-width="0.95"/>
<path d="M484.4 420.6h.9M483.9 420.9h.9M483.0 420.9h.9M486.7 421.5h.9M488.8 424.2h.9" stroke="#d6291f" stroke-width="0.95"/>
<defs><linearGradient id="jet" x1="0" x2="1"><stop offset="0" stop-color="#10109a"/><stop offset="0.12" stop-color="#2040d0"/><stop offset="0.35" stop-color="#30b8e8"/><stop offset="0.5" stop-color="#90e070"/><stop offset="0.65" stop-color="#f8e030"/><stop offset="0.85" stop-color="#f04a18"/><stop offset="1" stop-color="#a80e10"/></linearGradient></defs>
<rect x="368.5" y="432.6" width="35" height="2" fill="url(#jet)"/>
<text x="370.9" y="435.6" font-size="4.2" text-anchor="end" transform="rotate(-90 370.9 435.6)" fill="#333">5</text>
<text x="379.15" y="435.6" font-size="4.2" text-anchor="end" transform="rotate(-90 379.15 435.6)" fill="#333">22</text>
<text x="387.4" y="435.6" font-size="4.2" text-anchor="end" transform="rotate(-90 387.4 435.6)" fill="#333">76</text>
<text x="395.65" y="435.6" font-size="4.2" text-anchor="end" transform="rotate(-90 395.65 435.6)" fill="#333">265</text>
<text x="403.9" y="435.6" font-size="4.2" text-anchor="end" transform="rotate(-90 403.9 435.6)" fill="#333">900</text>
<rect x="415.5" y="432.6" width="37.6" height="2" fill="url(#jet)"/>
<text x="417.9" y="435.6" font-size="4.2" text-anchor="end" transform="rotate(-90 417.9 435.6)" fill="#333">49</text>
<text x="426.8" y="435.6" font-size="4.2" text-anchor="end" transform="rotate(-90 426.8 435.6)" fill="#333">147</text>
<text x="435.7" y="435.6" font-size="4.2" text-anchor="end" transform="rotate(-90 435.7 435.6)" fill="#333">459</text>
<text x="444.6" y="435.6" font-size="4.2" text-anchor="end" transform="rotate(-90 444.6 435.6)" fill="#333">1159</text>
<text x="453.5" y="435.6" font-size="4.2" text-anchor="end" transform="rotate(-90 453.5 435.6)" fill="#333">4177</text>
<rect x="465.5" y="432.6" width="36" height="2" fill="url(#jet)"/>
<text x="467.9" y="435.6" font-size="4.2" text-anchor="end" transform="rotate(-90 467.9 435.6)" fill="#333">0</text>
<text x="476.4" y="435.6" font-size="4.2" text-anchor="end" transform="rotate(-90 476.4 435.6)" fill="#333">8</text>
<text x="484.9" y="435.6" font-size="4.2" text-anchor="end" transform="rotate(-90 484.9 435.6)" fill="#333">33</text>
<text x="493.4" y="435.6" font-size="4.2" text-anchor="end" transform="rotate(-90 493.4 435.6)" fill="#333">121</text>
<text x="501.9" y="435.6" font-size="4.2" text-anchor="end" transform="rotate(-90 501.9 435.6)" fill="#333">443</text>
<text x="367.7" y="451" font-size="8.6" class="m" textLength="21.5" lengthAdjust="spacingAndGlyphs">tSNE2</text>
<path d="M396.2 446.4H466" stroke="#111" stroke-width="0.9"/><path d="M470 446.3L464.5 443.8V448.8Z" fill="#111"/>
<text x="513.3" y="427.8" font-size="8.6" class="m" text-anchor="middle" textLength="21.5" lengthAdjust="spacingAndGlyphs" transform="rotate(-90 513.3 427.8)">tSNE1</text>
<path d="M510.2 411H510.2V343" stroke="#555" stroke-width="1"/><path d="M510.2 339L507.6 343.5H512.8Z" fill="#111"/>
<rect x="0.5" y="0.5" width="519" height="457" fill="none" stroke="#000" stroke-width="1"/>
</svg></body></html>
